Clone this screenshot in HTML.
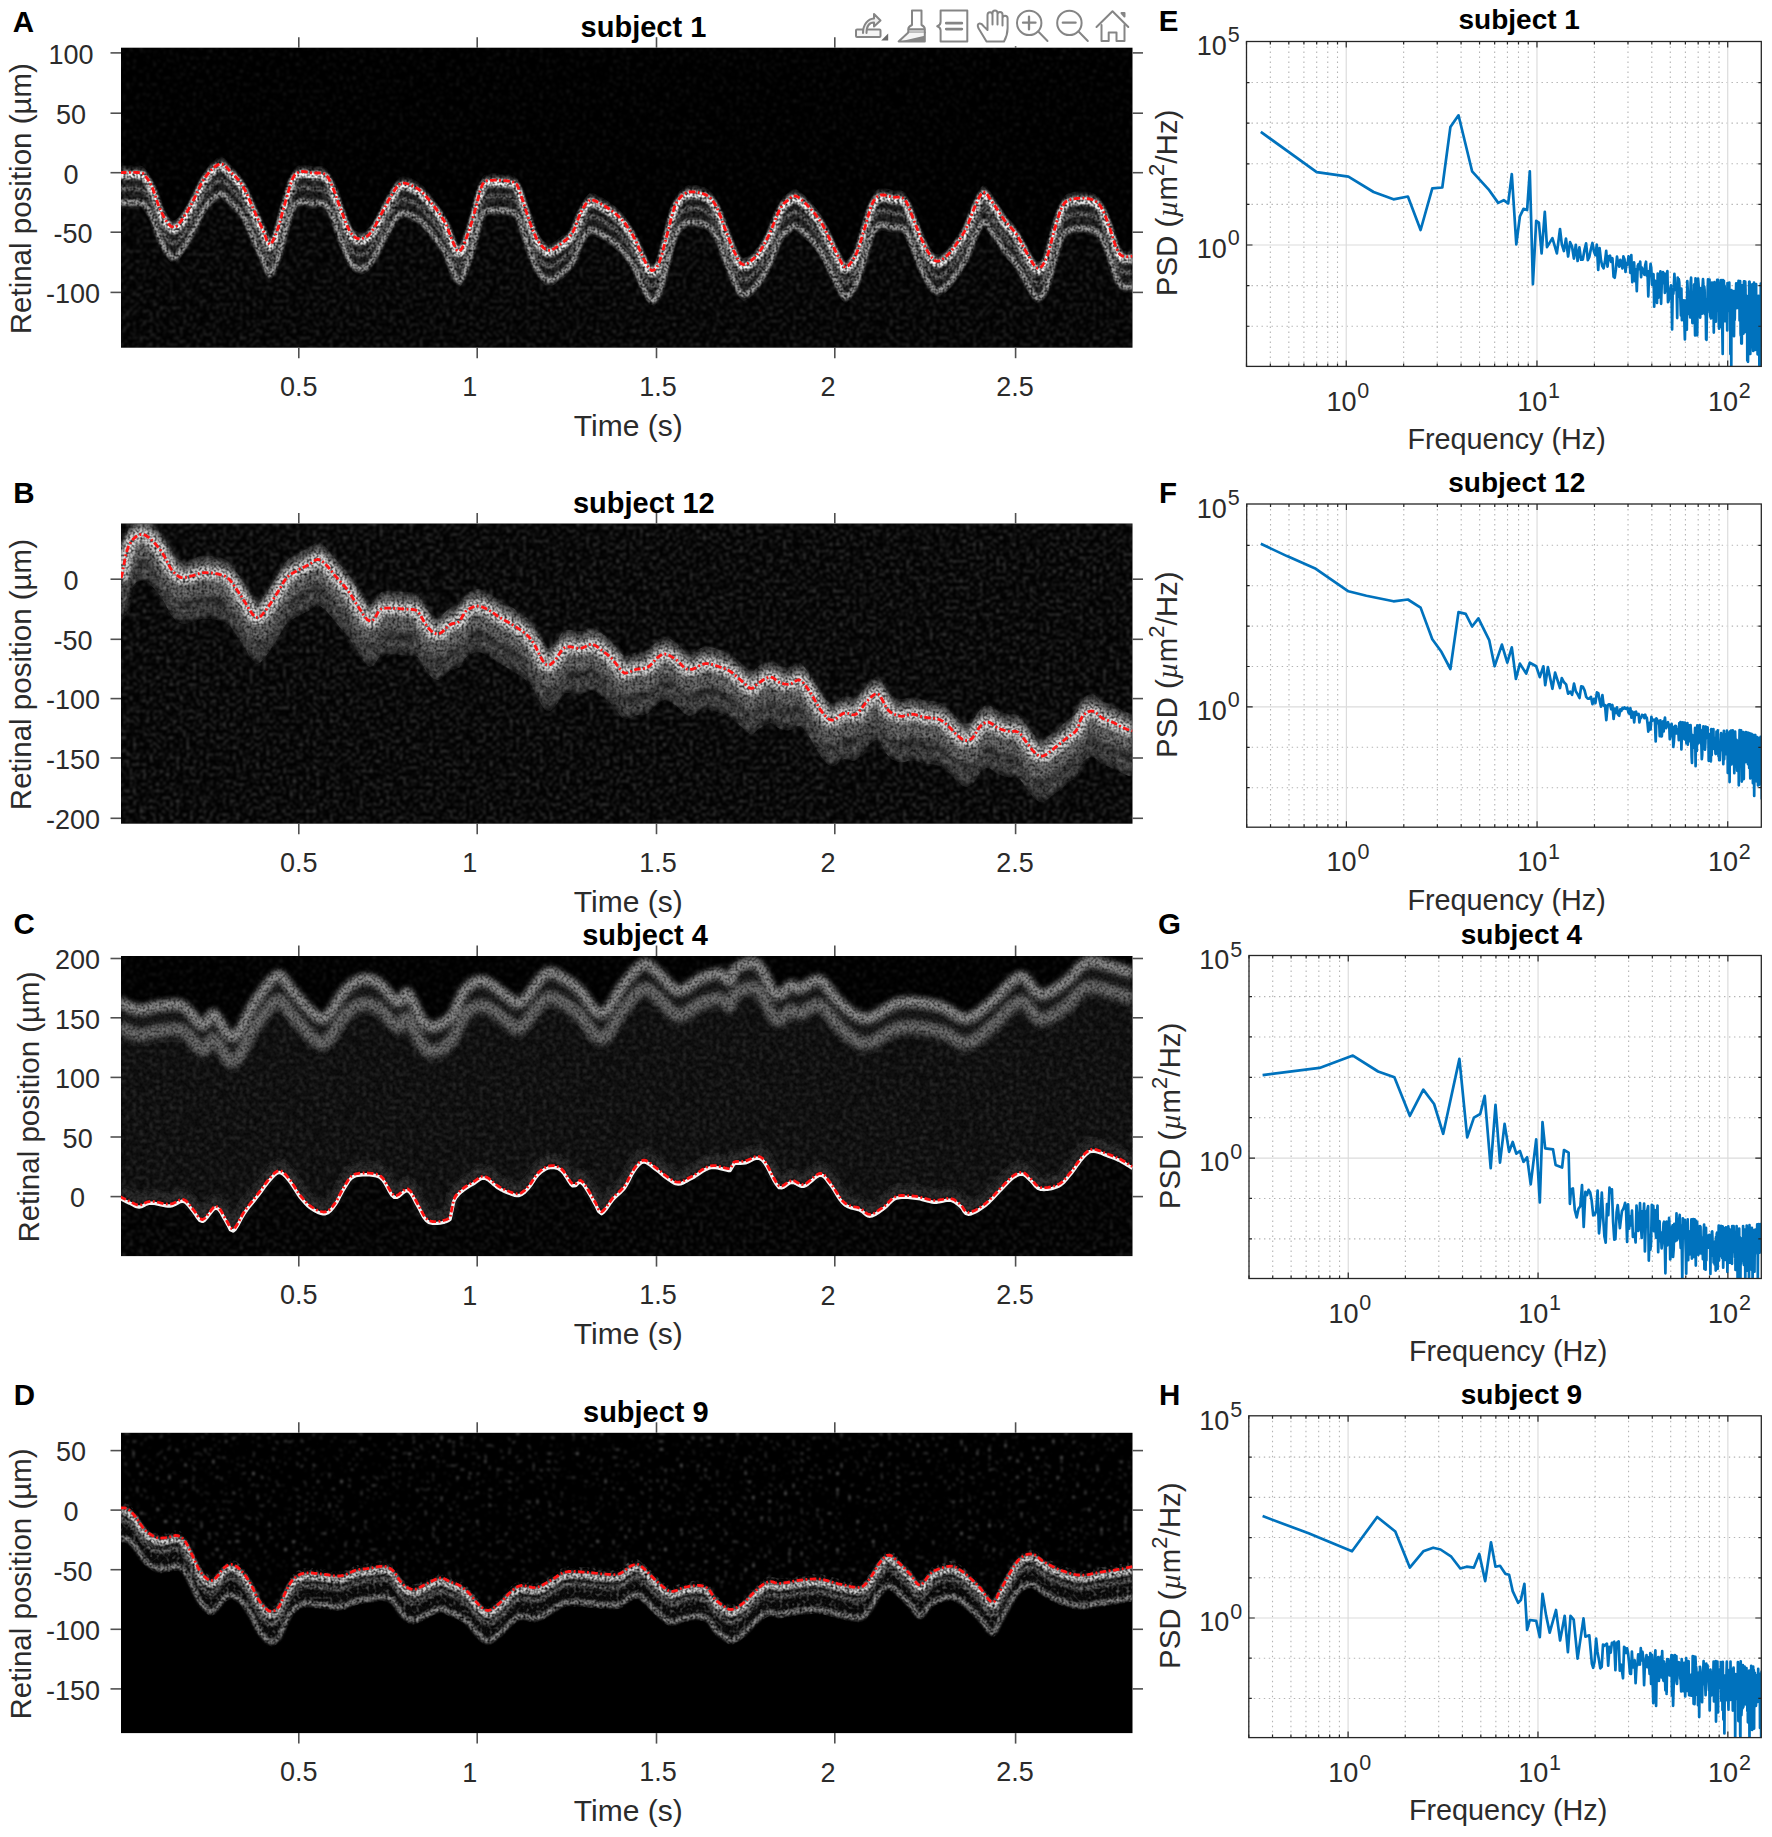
<!DOCTYPE html><html><head><meta charset="utf-8"><title>Figure</title><style>html,body{margin:0;padding:0;background:#fff;overflow:hidden}svg{display:block}</style></head><body><svg width="1772" height="1837" viewBox="0 0 1772 1837">
<rect width="1772" height="1837" fill="#fff"/>
<clipPath id="clipA"><rect x="121" y="47.7" width="1011.5" height="300.0"/></clipPath>
<rect x="121" y="47.7" width="1011.5" height="300.0" fill="#000"/>
<g clip-path="url(#clipA)">
<filter id="nA0" x="0" y="0" width="100%" height="100%" color-interpolation-filters="sRGB"><feTurbulence type="fractalNoise" baseFrequency="0.3" numOctaves="1" seed="3"/><feColorMatrix type="matrix" values="0 0 0 0 1  0 0 0 0 1  0 0 0 0 1  0.4 0 0 0 -0.22"/><feGaussianBlur stdDeviation="1.0"/></filter>
<clipPath id="c_nA0"><polygon points="120.0,46.0 120.0,168.6 121.4,168.6 123.2,168.5 125.5,168.5 128.0,168.4 130.5,168.4 133.1,168.4 135.5,168.4 137.5,168.5 139.2,168.6 142.8,169.3 145.0,171.5 147.5,174.8 150.1,179.1 152.6,184.0 155.5,192.4 158.4,201.2 160.8,206.8 163.4,212.2 166.0,216.6 168.6,220.0 171.1,222.4 173.7,223.3 176.1,222.5 178.6,220.3 181.4,216.6 183.5,213.6 185.7,210.0 188.1,206.0 190.5,201.7 192.9,197.4 195.1,192.9 197.3,188.1 199.5,183.2 201.9,178.5 204.4,174.4 206.4,171.7 208.6,169.0 210.9,166.4 213.3,164.1 215.6,162.2 217.8,160.8 219.8,160.0 222.3,160.2 224.7,161.6 226.9,163.7 229.1,166.2 231.3,168.6 233.6,170.8 235.9,173.1 238.2,175.6 240.5,178.5 242.8,182.0 245.1,186.3 247.5,191.4 249.8,196.7 252.1,202.1 254.3,207.0 256.9,212.8 259.5,218.3 261.8,223.5 263.9,228.1 266.9,236.6 269.7,240.6 272.1,238.3 274.7,232.9 277.3,226.2 279.9,218.1 282.4,208.6 285.0,199.3 287.6,190.2 290.1,181.3 292.7,174.4 295.1,170.5 297.6,168.7 300.4,167.7 302.4,167.4 304.6,167.6 307.0,168.1 309.4,168.6 311.9,169.0 314.1,169.1 316.4,169.0 318.8,169.0 321.2,169.1 323.4,169.6 325.3,170.5 328.3,173.8 330.7,178.5 333.0,184.0 335.5,190.4 337.9,197.6 340.6,205.0 342.9,211.0 345.3,217.4 347.8,223.4 350.2,228.1 352.6,231.2 354.9,233.3 357.3,234.5 359.8,234.8 362.0,234.5 364.3,233.8 366.6,232.5 369.0,230.6 371.3,228.1 373.6,224.7 376.0,220.5 378.4,215.9 380.7,211.2 382.9,207.0 385.4,202.2 387.8,197.7 390.1,193.5 392.4,189.7 394.6,186.2 396.7,182.9 399.1,180.5 402.0,179.2 403.8,179.1 405.8,179.4 408.0,180.0 410.3,180.8 412.6,181.9 414.9,183.1 417.2,184.4 419.3,185.9 421.6,187.8 424.0,190.1 426.2,192.6 428.5,195.2 430.6,198.0 432.7,200.6 434.7,203.2 437.3,206.7 439.9,210.2 442.2,213.7 444.3,217.1 446.2,220.4 449.3,228.5 452.0,235.8 454.3,241.1 456.9,246.0 459.6,247.3 461.9,244.5 464.4,239.2 466.9,232.6 469.2,226.2 472.0,217.4 474.6,207.9 476.9,199.3 479.6,188.3 482.6,180.1 484.5,177.9 486.4,176.9 488.9,176.5 492.2,176.3 493.9,176.2 495.9,176.2 498.2,176.3 500.5,176.4 503.0,176.5 505.4,176.7 507.7,177.0 509.9,177.4 511.8,177.7 513.3,178.2 517.0,180.7 519.1,185.9 521.4,192.4 524.0,200.5 526.7,208.9 528.9,215.3 531.2,222.1 533.7,228.5 536.3,233.9 538.5,237.5 540.7,240.7 543.0,243.3 545.4,245.2 547.9,246.3 550.1,246.3 552.3,245.7 554.6,244.4 556.9,242.9 559.2,241.2 561.3,239.6 563.8,237.7 566.2,235.7 568.6,233.5 570.8,231.0 572.8,228.1 575.7,222.0 578.1,215.0 580.5,208.9 583.1,204.1 585.7,200.2 588.1,197.4 590.5,195.6 593.9,196.4 595.6,197.1 597.6,198.1 599.9,199.3 602.3,200.6 604.7,202.0 607.0,203.5 609.2,205.0 611.6,206.7 613.9,208.4 616.2,210.3 618.4,212.2 620.6,214.3 622.7,216.6 625.2,219.6 627.5,222.9 629.8,226.4 632.1,230.1 634.2,233.9 636.8,239.1 639.2,244.8 641.6,250.3 643.8,255.0 646.5,260.3 649.0,264.4 651.5,266.5 654.0,266.1 656.6,263.5 659.1,258.8 661.7,251.3 664.2,241.7 666.8,231.9 669.4,221.8 671.9,211.6 674.5,203.2 677.0,197.8 679.5,194.3 682.2,191.6 684.3,189.9 686.5,188.7 688.9,188.0 691.7,187.8 693.6,187.9 695.8,188.1 698.2,188.5 700.6,189.0 703.0,189.7 705.2,190.6 707.1,191.6 709.9,193.6 712.3,196.1 714.4,199.2 716.7,203.2 719.1,208.5 721.5,214.9 723.9,221.7 726.3,228.1 728.7,234.3 731.2,240.6 733.6,246.3 735.9,251.1 738.4,256.0 740.7,259.4 743.6,260.7 745.5,260.3 747.7,259.3 750.0,257.7 752.4,255.7 754.7,253.5 756.9,251.1 759.3,248.0 761.7,244.5 763.9,240.6 766.2,236.4 768.5,231.9 770.9,226.7 773.3,220.8 775.7,214.8 777.9,209.4 780.0,205.0 782.2,201.4 784.2,199.1 786.1,197.6 788.0,196.1 789.9,194.4 791.6,192.8 793.6,191.9 796.0,192.1 797.7,192.9 799.6,194.2 801.7,195.9 803.8,197.8 806.0,199.9 808.0,202.0 810.0,204.1 812.2,206.5 814.3,209.0 816.3,211.6 818.3,214.3 820.2,217.1 822.1,220.1 824.3,223.9 826.3,228.0 828.3,232.3 830.3,236.4 832.1,240.2 834.3,244.7 836.4,249.0 838.3,252.9 840.1,256.2 842.1,259.9 843.9,262.7 846.1,263.2 847.9,262.1 849.9,260.0 852.1,257.2 854.2,253.8 856.1,250.2 858.2,245.0 860.2,239.0 862.1,232.5 864.1,226.1 866.1,219.3 868.1,212.2 870.1,205.4 872.1,200.1 874.0,196.4 875.9,193.8 877.9,192.2 880.2,191.1 882.0,190.8 883.9,191.0 886.0,191.4 888.1,192.0 890.2,192.6 892.2,193.1 894.2,193.3 896.3,193.2 898.5,193.2 900.5,193.3 902.4,193.9 904.2,195.1 906.5,198.2 908.5,202.5 910.3,207.3 912.2,212.1 914.2,217.0 916.2,222.2 918.2,227.4 920.2,232.2 922.2,236.7 924.2,240.9 926.2,244.8 928.2,248.2 930.2,251.3 932.1,254.0 934.1,256.1 936.3,257.2 938.2,257.2 940.2,256.5 942.2,255.4 944.3,253.9 946.3,252.2 948.3,250.3 950.3,248.1 952.3,245.6 954.3,243.0 956.3,240.2 958.3,237.3 960.4,234.2 962.4,231.0 964.4,227.6 966.3,224.1 968.4,219.3 970.4,214.1 972.3,208.9 974.3,204.1 976.5,199.2 978.7,194.2 981.0,190.2 983.3,188.1 985.5,188.6 987.6,191.0 989.8,194.4 992.3,198.1 994.1,200.7 996.1,203.7 998.2,206.8 1000.3,210.1 1002.4,213.2 1004.4,216.1 1006.4,218.6 1008.5,220.9 1010.5,223.2 1012.6,225.4 1014.5,227.7 1016.4,230.2 1018.5,233.6 1020.5,237.2 1022.4,241.0 1024.4,244.7 1026.4,248.2 1028.6,251.9 1030.8,256.0 1033.1,259.8 1035.3,262.7 1037.4,264.2 1039.8,264.0 1042.1,262.0 1044.3,258.6 1046.4,254.2 1048.5,248.4 1050.5,241.0 1052.4,233.3 1054.4,226.1 1056.4,219.4 1058.3,212.8 1060.3,206.8 1062.4,202.1 1064.2,199.5 1065.9,197.7 1067.8,196.6 1069.9,195.8 1072.5,195.1 1074.2,194.8 1076.1,194.5 1078.2,194.3 1080.4,194.2 1082.6,194.2 1084.8,194.3 1086.9,194.5 1088.8,194.8 1090.5,195.1 1093.0,195.9 1095.2,196.9 1097.0,198.2 1098.8,199.9 1100.5,202.1 1102.6,205.7 1104.6,210.0 1106.5,214.9 1108.5,220.1 1110.5,226.1 1112.6,232.8 1114.6,239.2 1116.5,244.2 1118.5,248.4 1120.3,250.7 1122.5,252.2 1124.4,252.7 1126.7,252.8 1129.0,252.6 1131.1,252.3 1132.5,252.2 1133.0,46.0"/></clipPath>
<g clip-path="url(#c_nA0)"><rect x="121" y="47.7" width="1011.5" height="300.0" filter="url(#nA0)"/></g>
<filter id="nA1" x="0" y="0" width="100%" height="100%" color-interpolation-filters="sRGB"><feTurbulence type="fractalNoise" baseFrequency="0.3" numOctaves="1" seed="5"/><feColorMatrix type="matrix" values="0 0 0 0 1  0 0 0 0 1  0 0 0 0 1  0.58 0 0 0 -0.27"/><feGaussianBlur stdDeviation="1.0"/></filter>
<clipPath id="c_nA1"><polygon points="120.0,350.0 120.0,202.6 121.4,202.6 123.2,202.5 125.5,202.5 128.0,202.4 130.5,202.4 133.1,202.4 135.5,202.4 137.5,202.5 139.2,202.6 142.8,203.3 145.0,205.5 147.5,208.8 150.1,213.1 152.6,218.0 155.5,226.4 158.4,235.2 160.8,240.8 163.4,246.2 166.0,250.6 168.6,254.0 171.1,256.4 173.7,257.3 176.1,256.5 178.6,254.3 181.4,250.6 183.5,247.6 185.7,244.0 188.1,240.0 190.5,235.7 192.9,231.4 195.1,226.9 197.3,222.1 199.5,217.2 201.9,212.5 204.4,208.4 206.4,205.7 208.6,203.0 210.9,200.4 213.3,198.1 215.6,196.2 217.8,194.8 219.8,194.0 222.3,194.2 224.7,195.6 226.9,197.7 229.1,200.2 231.3,202.6 233.6,204.8 235.9,207.1 238.2,209.6 240.5,212.5 242.8,216.0 245.1,220.3 247.5,225.4 249.8,230.7 252.1,236.1 254.3,241.0 256.9,246.8 259.5,252.3 261.8,257.5 263.9,262.1 266.9,270.6 269.7,274.6 272.1,272.3 274.7,266.9 277.3,260.2 279.9,252.1 282.4,242.6 285.0,233.3 287.6,224.2 290.1,215.3 292.7,208.4 295.1,204.5 297.6,202.7 300.4,201.7 302.4,201.4 304.6,201.6 307.0,202.1 309.4,202.6 311.9,203.0 314.1,203.1 316.4,203.0 318.8,203.0 321.2,203.1 323.4,203.6 325.3,204.5 328.3,207.8 330.7,212.5 333.0,218.0 335.5,224.4 337.9,231.6 340.6,239.0 342.9,245.0 345.3,251.4 347.8,257.4 350.2,262.1 352.6,265.2 354.9,267.3 357.3,268.5 359.8,268.8 362.0,268.5 364.3,267.8 366.6,266.5 369.0,264.6 371.3,262.1 373.6,258.7 376.0,254.5 378.4,249.9 380.7,245.2 382.9,241.0 385.4,236.2 387.8,231.7 390.1,227.5 392.4,223.7 394.6,220.2 396.7,216.9 399.1,214.5 402.0,213.2 403.8,213.1 405.8,213.4 408.0,214.0 410.3,214.8 412.6,215.9 414.9,217.1 417.2,218.4 419.3,219.9 421.6,221.8 424.0,224.1 426.2,226.6 428.5,229.2 430.6,232.0 432.7,234.6 434.7,237.2 437.3,240.7 439.9,244.2 442.2,247.7 444.3,251.1 446.2,254.4 449.3,262.5 452.0,269.8 454.3,275.1 456.9,280.0 459.6,281.3 461.9,278.5 464.4,273.1 466.9,266.6 469.2,260.2 472.0,251.4 474.6,241.9 476.9,233.3 479.6,222.3 482.6,214.1 484.5,211.9 486.4,210.9 488.9,210.5 492.2,210.3 493.9,210.2 495.9,210.2 498.2,210.3 500.5,210.4 503.0,210.5 505.4,210.7 507.7,211.0 509.9,211.4 511.8,211.7 513.3,212.2 517.0,214.7 519.1,219.9 521.4,226.4 524.0,234.5 526.7,242.9 528.9,249.3 531.2,256.1 533.7,262.5 536.3,267.9 538.5,271.5 540.7,274.7 543.0,277.3 545.4,279.2 547.9,280.3 550.1,280.3 552.3,279.7 554.6,278.4 556.9,276.9 559.2,275.2 561.3,273.6 563.8,271.7 566.2,269.7 568.6,267.5 570.8,265.0 572.8,262.1 575.7,256.0 578.1,249.0 580.5,242.9 583.1,238.1 585.7,234.2 588.1,231.4 590.5,229.6 593.9,230.4 595.6,231.1 597.6,232.1 599.9,233.3 602.3,234.6 604.7,236.0 607.0,237.5 609.2,239.0 611.6,240.7 613.9,242.4 616.2,244.3 618.4,246.2 620.6,248.3 622.7,250.6 625.2,253.6 627.5,256.9 629.8,260.4 632.1,264.1 634.2,267.9 636.8,273.1 639.2,278.8 641.6,284.3 643.8,289.0 646.5,294.3 649.0,298.4 651.5,300.5 654.0,300.1 656.6,297.5 659.1,292.8 661.7,285.3 664.2,275.7 666.8,265.9 669.4,255.8 671.9,245.6 674.5,237.2 677.0,231.8 679.5,228.3 682.2,225.6 684.3,223.9 686.5,222.7 688.9,222.0 691.7,221.8 693.6,221.9 695.8,222.1 698.2,222.5 700.6,223.0 703.0,223.7 705.2,224.6 707.1,225.6 709.9,227.6 712.3,230.1 714.4,233.2 716.7,237.2 719.1,242.5 721.5,248.9 723.9,255.7 726.3,262.1 728.7,268.3 731.2,274.6 733.6,280.3 735.9,285.1 738.4,290.0 740.7,293.4 743.6,294.7 745.5,294.3 747.7,293.3 750.0,291.7 752.4,289.7 754.7,287.5 756.9,285.1 759.3,282.0 761.7,278.5 763.9,274.6 766.2,270.4 768.5,265.9 770.9,260.7 773.3,254.8 775.7,248.8 777.9,243.4 780.0,239.0 782.2,235.4 784.2,233.1 786.1,231.6 788.0,230.1 789.9,228.4 791.6,226.8 793.6,225.9 796.0,226.1 797.7,226.9 799.6,228.2 801.7,229.9 803.8,231.8 806.0,233.9 808.0,236.0 810.0,238.1 812.2,240.5 814.3,243.0 816.3,245.6 818.3,248.3 820.2,251.1 822.1,254.1 824.3,257.9 826.3,262.0 828.3,266.3 830.3,270.4 832.1,274.2 834.3,278.7 836.4,283.0 838.3,286.9 840.1,290.2 842.1,293.9 843.9,296.7 846.1,297.2 847.9,296.1 849.9,294.0 852.1,291.2 854.2,287.8 856.1,284.2 858.2,279.0 860.2,273.0 862.1,266.5 864.1,260.1 866.1,253.3 868.1,246.2 870.1,239.4 872.1,234.1 874.0,230.4 875.9,227.8 877.9,226.2 880.2,225.1 882.0,224.8 883.9,225.0 886.0,225.4 888.1,226.0 890.2,226.6 892.2,227.1 894.2,227.3 896.3,227.2 898.5,227.2 900.5,227.3 902.4,227.9 904.2,229.1 906.5,232.2 908.5,236.5 910.3,241.3 912.2,246.1 914.2,251.0 916.2,256.2 918.2,261.4 920.2,266.2 922.2,270.7 924.2,274.9 926.2,278.8 928.2,282.2 930.2,285.3 932.1,288.0 934.1,290.1 936.3,291.2 938.2,291.2 940.2,290.5 942.2,289.4 944.3,287.9 946.3,286.2 948.3,284.3 950.3,282.1 952.3,279.6 954.3,277.0 956.3,274.2 958.3,271.3 960.4,268.2 962.4,265.0 964.4,261.6 966.3,258.1 968.4,253.3 970.4,248.1 972.3,242.9 974.3,238.1 976.5,233.2 978.7,228.2 981.0,224.2 983.3,222.1 985.5,222.6 987.6,225.0 989.8,228.4 992.3,232.1 994.1,234.7 996.1,237.7 998.2,240.8 1000.3,244.1 1002.4,247.2 1004.4,250.1 1006.4,252.6 1008.5,254.9 1010.5,257.1 1012.6,259.4 1014.5,261.7 1016.4,264.2 1018.5,267.6 1020.5,271.2 1022.4,275.0 1024.4,278.7 1026.4,282.2 1028.6,285.9 1030.8,290.0 1033.1,293.8 1035.3,296.7 1037.4,298.2 1039.8,298.0 1042.1,296.0 1044.3,292.6 1046.4,288.2 1048.5,282.4 1050.5,275.0 1052.4,267.3 1054.4,260.1 1056.4,253.4 1058.3,246.8 1060.3,240.8 1062.4,236.1 1064.2,233.5 1065.9,231.7 1067.8,230.6 1069.9,229.8 1072.5,229.1 1074.2,228.8 1076.1,228.5 1078.2,228.3 1080.4,228.2 1082.6,228.2 1084.8,228.3 1086.9,228.5 1088.8,228.8 1090.5,229.1 1093.0,229.9 1095.2,230.9 1097.0,232.2 1098.8,233.9 1100.5,236.1 1102.6,239.7 1104.6,244.0 1106.5,248.9 1108.5,254.1 1110.5,260.1 1112.6,266.8 1114.6,273.2 1116.5,278.2 1118.5,282.4 1120.3,284.7 1122.5,286.2 1124.4,286.7 1126.7,286.8 1129.0,286.6 1131.1,286.3 1132.5,286.2 1133.0,350.0"/></clipPath>
<g clip-path="url(#c_nA1)"><rect x="121" y="47.7" width="1011.5" height="300.0" filter="url(#nA1)"/></g>
<filter id="bA" x="-5%" y="-20%" width="110%" height="140%"><feGaussianBlur stdDeviation="1.2"/></filter>
<filter id="sfbA" x="0" y="0" width="100%" height="100%" color-interpolation-filters="sRGB"><feTurbulence type="fractalNoise" baseFrequency="0.42" numOctaves="1" seed="41"/><feColorMatrix type="matrix" values="2.2 0 0 0 -0.4  2.2 0 0 0 -0.4  2.2 0 0 0 -0.4  0 0 0 0 1"/><feGaussianBlur stdDeviation="0.5"/></filter>
<mask id="mbA" maskUnits="userSpaceOnUse" x="121" y="47.7" width="1011.5" height="300.0"><rect x="121" y="47.7" width="1011.5" height="300.0" filter="url(#sfbA)"/></mask>
<g mask="url(#mbA)"><g filter="url(#bA)"><polygon points="120.0,167.6 121.4,167.6 123.2,167.5 125.5,167.5 128.0,167.4 130.5,167.4 133.1,167.4 135.5,167.4 137.5,167.5 139.2,167.6 142.8,168.3 145.0,170.5 147.5,173.8 150.1,178.1 152.6,183.0 155.5,191.4 158.4,200.2 160.8,205.8 163.4,211.2 166.0,215.6 168.6,219.0 171.1,221.4 173.7,222.3 176.1,221.5 178.6,219.3 181.4,215.6 183.5,212.6 185.7,209.0 188.1,205.0 190.5,200.7 192.9,196.4 195.1,191.9 197.3,187.1 199.5,182.2 201.9,177.5 204.4,173.4 206.4,170.7 208.6,168.0 210.9,165.4 213.3,163.1 215.6,161.2 217.8,159.8 219.8,159.0 222.3,159.2 224.7,160.6 226.9,162.7 229.1,165.2 231.3,167.6 233.6,169.8 235.9,172.1 238.2,174.6 240.5,177.5 242.8,181.0 245.1,185.3 247.5,190.4 249.8,195.7 252.1,201.1 254.3,206.0 256.9,211.8 259.5,217.3 261.8,222.5 263.9,227.1 266.9,235.6 269.7,239.6 272.1,237.3 274.7,231.9 277.3,225.2 279.9,217.1 282.4,207.6 285.0,198.3 287.6,189.2 290.1,180.3 292.7,173.4 295.1,169.5 297.6,167.7 300.4,166.7 302.4,166.4 304.6,166.6 307.0,167.1 309.4,167.6 311.9,168.0 314.1,168.1 316.4,168.0 318.8,168.0 321.2,168.1 323.4,168.6 325.3,169.5 328.3,172.8 330.7,177.5 333.0,183.0 335.5,189.4 337.9,196.6 340.6,204.0 342.9,210.0 345.3,216.4 347.8,222.4 350.2,227.1 352.6,230.2 354.9,232.3 357.3,233.5 359.8,233.8 362.0,233.5 364.3,232.8 366.6,231.5 369.0,229.6 371.3,227.1 373.6,223.7 376.0,219.5 378.4,214.9 380.7,210.2 382.9,206.0 385.4,201.2 387.8,196.7 390.1,192.5 392.4,188.7 394.6,185.2 396.7,181.9 399.1,179.5 402.0,178.2 403.8,178.1 405.8,178.4 408.0,179.0 410.3,179.8 412.6,180.9 414.9,182.1 417.2,183.4 419.3,184.9 421.6,186.8 424.0,189.1 426.2,191.6 428.5,194.2 430.6,197.0 432.7,199.6 434.7,202.2 437.3,205.7 439.9,209.2 442.2,212.7 444.3,216.1 446.2,219.4 449.3,227.5 452.0,234.8 454.3,240.1 456.9,245.0 459.6,246.3 461.9,243.5 464.4,238.2 466.9,231.6 469.2,225.2 472.0,216.4 474.6,206.9 476.9,198.3 479.6,187.3 482.6,179.1 484.5,176.9 486.4,175.9 488.9,175.5 492.2,175.3 493.9,175.2 495.9,175.2 498.2,175.3 500.5,175.4 503.0,175.5 505.4,175.7 507.7,176.0 509.9,176.4 511.8,176.7 513.3,177.2 517.0,179.7 519.1,184.9 521.4,191.4 524.0,199.5 526.7,207.9 528.9,214.3 531.2,221.1 533.7,227.5 536.3,232.9 538.5,236.5 540.7,239.7 543.0,242.3 545.4,244.2 547.9,245.3 550.1,245.3 552.3,244.7 554.6,243.4 556.9,241.9 559.2,240.2 561.3,238.6 563.8,236.7 566.2,234.7 568.6,232.5 570.8,230.0 572.8,227.1 575.7,221.0 578.1,214.0 580.5,207.9 583.1,203.1 585.7,199.2 588.1,196.4 590.5,194.6 593.9,195.4 595.6,196.1 597.6,197.1 599.9,198.3 602.3,199.6 604.7,201.0 607.0,202.5 609.2,204.0 611.6,205.7 613.9,207.4 616.2,209.3 618.4,211.2 620.6,213.3 622.7,215.6 625.2,218.6 627.5,221.9 629.8,225.4 632.1,229.1 634.2,232.9 636.8,238.1 639.2,243.8 641.6,249.3 643.8,254.0 646.5,259.3 649.0,263.4 651.5,265.5 654.0,265.1 656.6,262.5 659.1,257.8 661.7,250.3 664.2,240.7 666.8,230.9 669.4,220.8 671.9,210.6 674.5,202.2 677.0,196.8 679.5,193.3 682.2,190.6 684.3,188.9 686.5,187.7 688.9,187.0 691.7,186.8 693.6,186.9 695.8,187.1 698.2,187.5 700.6,188.0 703.0,188.7 705.2,189.6 707.1,190.6 709.9,192.6 712.3,195.1 714.4,198.2 716.7,202.2 719.1,207.5 721.5,213.9 723.9,220.7 726.3,227.1 728.7,233.3 731.2,239.6 733.6,245.3 735.9,250.1 738.4,255.0 740.7,258.4 743.6,259.7 745.5,259.3 747.7,258.3 750.0,256.7 752.4,254.7 754.7,252.5 756.9,250.1 759.3,247.0 761.7,243.5 763.9,239.6 766.2,235.4 768.5,230.9 770.9,225.7 773.3,219.8 775.7,213.8 777.9,208.4 780.0,204.0 782.2,200.4 784.2,198.1 786.1,196.6 788.0,195.1 789.9,193.4 791.6,191.8 793.6,190.9 796.0,191.1 797.7,191.9 799.6,193.2 801.7,194.9 803.8,196.8 806.0,198.9 808.0,201.0 810.0,203.1 812.2,205.5 814.3,208.0 816.3,210.6 818.3,213.3 820.2,216.1 822.1,219.1 824.3,222.9 826.3,227.0 828.3,231.3 830.3,235.4 832.1,239.2 834.3,243.7 836.4,248.0 838.3,251.9 840.1,255.2 842.1,258.9 843.9,261.7 846.1,262.2 847.9,261.1 849.9,259.0 852.1,256.2 854.2,252.8 856.1,249.2 858.2,244.0 860.2,238.0 862.1,231.5 864.1,225.1 866.1,218.3 868.1,211.2 870.1,204.4 872.1,199.1 874.0,195.4 875.9,192.8 877.9,191.2 880.2,190.1 882.0,189.8 883.9,190.0 886.0,190.4 888.1,191.0 890.2,191.6 892.2,192.1 894.2,192.3 896.3,192.2 898.5,192.2 900.5,192.3 902.4,192.9 904.2,194.1 906.5,197.2 908.5,201.5 910.3,206.3 912.2,211.1 914.2,216.0 916.2,221.2 918.2,226.4 920.2,231.2 922.2,235.7 924.2,239.9 926.2,243.8 928.2,247.2 930.2,250.3 932.1,253.0 934.1,255.1 936.3,256.2 938.2,256.2 940.2,255.5 942.2,254.4 944.3,252.9 946.3,251.2 948.3,249.3 950.3,247.1 952.3,244.6 954.3,242.0 956.3,239.2 958.3,236.3 960.4,233.2 962.4,230.0 964.4,226.6 966.3,223.1 968.4,218.3 970.4,213.1 972.3,207.9 974.3,203.1 976.5,198.2 978.7,193.2 981.0,189.2 983.3,187.1 985.5,187.6 987.6,190.0 989.8,193.4 992.3,197.1 994.1,199.7 996.1,202.7 998.2,205.8 1000.3,209.1 1002.4,212.2 1004.4,215.1 1006.4,217.6 1008.5,219.9 1010.5,222.2 1012.6,224.4 1014.5,226.7 1016.4,229.2 1018.5,232.6 1020.5,236.2 1022.4,240.0 1024.4,243.7 1026.4,247.2 1028.6,250.9 1030.8,255.0 1033.1,258.8 1035.3,261.7 1037.4,263.2 1039.8,263.0 1042.1,261.0 1044.3,257.6 1046.4,253.2 1048.5,247.4 1050.5,240.0 1052.4,232.3 1054.4,225.1 1056.4,218.4 1058.3,211.8 1060.3,205.8 1062.4,201.1 1064.2,198.5 1065.9,196.7 1067.8,195.6 1069.9,194.8 1072.5,194.1 1074.2,193.8 1076.1,193.5 1078.2,193.3 1080.4,193.2 1082.6,193.2 1084.8,193.3 1086.9,193.5 1088.8,193.8 1090.5,194.1 1093.0,194.9 1095.2,195.9 1097.0,197.2 1098.8,198.9 1100.5,201.1 1102.6,204.7 1104.6,209.0 1106.5,213.9 1108.5,219.1 1110.5,225.1 1112.6,231.8 1114.6,238.2 1116.5,243.2 1118.5,247.4 1120.3,249.7 1122.5,251.2 1124.4,251.7 1126.7,251.8 1129.0,251.6 1131.1,251.3 1132.5,251.2 1132.5,264.2 1131.1,264.3 1129.0,264.6 1126.7,264.8 1124.4,264.7 1122.5,264.2 1120.3,262.7 1118.5,260.4 1116.5,256.2 1114.6,251.2 1112.6,244.8 1110.5,238.1 1108.5,232.1 1106.5,226.9 1104.6,222.0 1102.6,217.7 1100.5,214.1 1098.8,211.9 1097.0,210.2 1095.2,208.9 1093.0,207.9 1090.5,207.1 1088.8,206.8 1086.9,206.5 1084.8,206.3 1082.6,206.2 1080.4,206.2 1078.2,206.3 1076.1,206.5 1074.2,206.8 1072.5,207.1 1069.9,207.8 1067.8,208.6 1065.9,209.7 1064.2,211.5 1062.4,214.1 1060.3,218.8 1058.3,224.8 1056.4,231.4 1054.4,238.1 1052.4,245.3 1050.5,253.0 1048.5,260.4 1046.4,266.2 1044.3,270.6 1042.1,274.0 1039.8,276.0 1037.4,276.2 1035.3,274.7 1033.1,271.8 1030.8,268.0 1028.6,263.9 1026.4,260.2 1024.4,256.7 1022.4,253.0 1020.5,249.2 1018.5,245.6 1016.4,242.2 1014.5,239.7 1012.6,237.4 1010.5,235.2 1008.5,232.9 1006.4,230.6 1004.4,228.1 1002.4,225.2 1000.3,222.1 998.2,218.8 996.1,215.7 994.1,212.7 992.3,210.1 989.8,206.4 987.6,203.0 985.5,200.6 983.3,200.1 981.0,202.2 978.7,206.2 976.5,211.2 974.3,216.1 972.3,220.9 970.4,226.1 968.4,231.3 966.3,236.1 964.4,239.6 962.4,243.0 960.4,246.2 958.3,249.3 956.3,252.2 954.3,255.0 952.3,257.6 950.3,260.1 948.3,262.3 946.3,264.2 944.3,265.9 942.2,267.4 940.2,268.5 938.2,269.2 936.3,269.2 934.1,268.1 932.1,266.0 930.2,263.3 928.2,260.2 926.2,256.8 924.2,252.9 922.2,248.7 920.2,244.2 918.2,239.4 916.2,234.2 914.2,229.0 912.2,224.1 910.3,219.3 908.5,214.5 906.5,210.2 904.2,207.1 902.4,205.9 900.5,205.3 898.5,205.2 896.3,205.2 894.2,205.3 892.2,205.1 890.2,204.6 888.1,204.0 886.0,203.4 883.9,203.0 882.0,202.8 880.2,203.1 877.9,204.2 875.9,205.8 874.0,208.4 872.1,212.1 870.1,217.4 868.1,224.2 866.1,231.3 864.1,238.1 862.1,244.5 860.2,251.0 858.2,257.0 856.1,262.2 854.2,265.8 852.1,269.2 849.9,272.0 847.9,274.1 846.1,275.2 843.9,274.7 842.1,271.9 840.1,268.2 838.3,264.9 836.4,261.0 834.3,256.7 832.1,252.2 830.3,248.4 828.3,244.3 826.3,240.0 824.3,235.9 822.1,232.1 820.2,229.1 818.3,226.3 816.3,223.6 814.3,221.0 812.2,218.5 810.0,216.1 808.0,214.0 806.0,211.9 803.8,209.8 801.7,207.9 799.6,206.2 797.7,204.9 796.0,204.1 793.6,203.9 791.6,204.8 789.9,206.4 788.0,208.1 786.1,209.6 784.2,211.1 782.2,213.4 780.0,217.0 777.9,221.4 775.7,226.8 773.3,232.8 770.9,238.7 768.5,243.9 766.2,248.4 763.9,252.6 761.7,256.5 759.3,260.0 756.9,263.1 754.7,265.5 752.4,267.7 750.0,269.7 747.7,271.3 745.5,272.3 743.6,272.7 740.7,271.4 738.4,268.0 735.9,263.1 733.6,258.3 731.2,252.6 728.7,246.3 726.3,240.1 723.9,233.7 721.5,226.9 719.1,220.5 716.7,215.2 714.4,211.2 712.3,208.1 709.9,205.6 707.1,203.6 705.2,202.6 703.0,201.7 700.6,201.0 698.2,200.5 695.8,200.1 693.6,199.9 691.7,199.8 688.9,200.0 686.5,200.7 684.3,201.9 682.2,203.6 679.5,206.3 677.0,209.8 674.5,215.2 671.9,223.6 669.4,233.8 666.8,243.9 664.2,253.7 661.7,263.3 659.1,270.8 656.6,275.5 654.0,278.1 651.5,278.5 649.0,276.4 646.5,272.3 643.8,267.0 641.6,262.3 639.2,256.8 636.8,251.1 634.2,245.9 632.1,242.1 629.8,238.4 627.5,234.9 625.2,231.6 622.7,228.6 620.6,226.3 618.4,224.2 616.2,222.3 613.9,220.4 611.6,218.7 609.2,217.0 607.0,215.5 604.7,214.0 602.3,212.6 599.9,211.3 597.6,210.1 595.6,209.1 593.9,208.4 590.5,207.6 588.1,209.4 585.7,212.2 583.1,216.1 580.5,220.9 578.1,227.0 575.7,234.0 572.8,240.1 570.8,243.0 568.6,245.5 566.2,247.7 563.8,249.7 561.3,251.6 559.2,253.2 556.9,254.9 554.6,256.4 552.3,257.7 550.1,258.3 547.9,258.3 545.4,257.2 543.0,255.3 540.7,252.7 538.5,249.5 536.3,245.9 533.7,240.5 531.2,234.1 528.9,227.3 526.7,220.9 524.0,212.5 521.4,204.4 519.1,197.9 517.0,192.7 513.3,190.2 511.8,189.7 509.9,189.4 507.7,189.0 505.4,188.7 503.0,188.5 500.5,188.4 498.2,188.3 495.9,188.2 493.9,188.2 492.2,188.3 488.9,188.5 486.4,188.9 484.5,189.9 482.6,192.1 479.6,200.3 476.9,211.3 474.6,219.9 472.0,229.4 469.2,238.2 466.9,244.6 464.4,251.2 461.9,256.5 459.6,259.3 456.9,258.0 454.3,253.1 452.0,247.8 449.3,240.5 446.2,232.4 444.3,229.1 442.2,225.7 439.9,222.2 437.3,218.7 434.7,215.2 432.7,212.6 430.6,210.0 428.5,207.2 426.2,204.6 424.0,202.1 421.6,199.8 419.3,197.9 417.2,196.4 414.9,195.1 412.6,193.9 410.3,192.8 408.0,192.0 405.8,191.4 403.8,191.1 402.0,191.2 399.1,192.5 396.7,194.9 394.6,198.2 392.4,201.7 390.1,205.5 387.8,209.7 385.4,214.2 382.9,219.0 380.7,223.2 378.4,227.9 376.0,232.5 373.6,236.7 371.3,240.1 369.0,242.6 366.6,244.5 364.3,245.8 362.0,246.5 359.8,246.8 357.3,246.5 354.9,245.3 352.6,243.2 350.2,240.1 347.8,235.4 345.3,229.4 342.9,223.0 340.6,217.0 337.9,209.6 335.5,202.4 333.0,196.0 330.7,190.5 328.3,185.8 325.3,182.5 323.4,181.6 321.2,181.1 318.8,181.0 316.4,181.0 314.1,181.1 311.9,181.0 309.4,180.6 307.0,180.1 304.6,179.6 302.4,179.4 300.4,179.7 297.6,180.7 295.1,182.5 292.7,186.4 290.1,193.3 287.6,202.2 285.0,211.3 282.4,220.6 279.9,230.1 277.3,238.2 274.7,244.9 272.1,250.3 269.7,252.6 266.9,248.6 263.9,240.1 261.8,235.5 259.5,230.3 256.9,224.8 254.3,219.0 252.1,214.1 249.8,208.7 247.5,203.4 245.1,198.3 242.8,194.0 240.5,190.5 238.2,187.6 235.9,185.1 233.6,182.8 231.3,180.6 229.1,178.2 226.9,175.7 224.7,173.6 222.3,172.2 219.8,172.0 217.8,172.8 215.6,174.2 213.3,176.1 210.9,178.4 208.6,181.0 206.4,183.7 204.4,186.4 201.9,190.5 199.5,195.2 197.3,200.1 195.1,204.9 192.9,209.4 190.5,213.7 188.1,218.0 185.7,222.0 183.5,225.6 181.4,228.6 178.6,232.3 176.1,234.5 173.7,235.3 171.1,234.4 168.6,232.0 166.0,228.6 163.4,224.2 160.8,218.8 158.4,213.2 155.5,204.4 152.6,196.0 150.1,191.1 147.5,186.8 145.0,183.5 142.8,181.3 139.2,180.6 137.5,180.5 135.5,180.4 133.1,180.4 130.5,180.4 128.0,180.4 125.5,180.5 123.2,180.5 121.4,180.6 120.0,180.6" fill="#3a3a3a" fill-opacity="1.0"/><polygon points="120.0,180.6 121.4,180.6 123.2,180.5 125.5,180.5 128.0,180.4 130.5,180.4 133.1,180.4 135.5,180.4 137.5,180.5 139.2,180.6 142.8,181.3 145.0,183.5 147.5,186.8 150.1,191.1 152.6,196.0 155.5,204.4 158.4,213.2 160.8,218.8 163.4,224.2 166.0,228.6 168.6,232.0 171.1,234.4 173.7,235.3 176.1,234.5 178.6,232.3 181.4,228.6 183.5,225.6 185.7,222.0 188.1,218.0 190.5,213.7 192.9,209.4 195.1,204.9 197.3,200.1 199.5,195.2 201.9,190.5 204.4,186.4 206.4,183.7 208.6,181.0 210.9,178.4 213.3,176.1 215.6,174.2 217.8,172.8 219.8,172.0 222.3,172.2 224.7,173.6 226.9,175.7 229.1,178.2 231.3,180.6 233.6,182.8 235.9,185.1 238.2,187.6 240.5,190.5 242.8,194.0 245.1,198.3 247.5,203.4 249.8,208.7 252.1,214.1 254.3,219.0 256.9,224.8 259.5,230.3 261.8,235.5 263.9,240.1 266.9,248.6 269.7,252.6 272.1,250.3 274.7,244.9 277.3,238.2 279.9,230.1 282.4,220.6 285.0,211.3 287.6,202.2 290.1,193.3 292.7,186.4 295.1,182.5 297.6,180.7 300.4,179.7 302.4,179.4 304.6,179.6 307.0,180.1 309.4,180.6 311.9,181.0 314.1,181.1 316.4,181.0 318.8,181.0 321.2,181.1 323.4,181.6 325.3,182.5 328.3,185.8 330.7,190.5 333.0,196.0 335.5,202.4 337.9,209.6 340.6,217.0 342.9,223.0 345.3,229.4 347.8,235.4 350.2,240.1 352.6,243.2 354.9,245.3 357.3,246.5 359.8,246.8 362.0,246.5 364.3,245.8 366.6,244.5 369.0,242.6 371.3,240.1 373.6,236.7 376.0,232.5 378.4,227.9 380.7,223.2 382.9,219.0 385.4,214.2 387.8,209.7 390.1,205.5 392.4,201.7 394.6,198.2 396.7,194.9 399.1,192.5 402.0,191.2 403.8,191.1 405.8,191.4 408.0,192.0 410.3,192.8 412.6,193.9 414.9,195.1 417.2,196.4 419.3,197.9 421.6,199.8 424.0,202.1 426.2,204.6 428.5,207.2 430.6,210.0 432.7,212.6 434.7,215.2 437.3,218.7 439.9,222.2 442.2,225.7 444.3,229.1 446.2,232.4 449.3,240.5 452.0,247.8 454.3,253.1 456.9,258.0 459.6,259.3 461.9,256.5 464.4,251.2 466.9,244.6 469.2,238.2 472.0,229.4 474.6,219.9 476.9,211.3 479.6,200.3 482.6,192.1 484.5,189.9 486.4,188.9 488.9,188.5 492.2,188.3 493.9,188.2 495.9,188.2 498.2,188.3 500.5,188.4 503.0,188.5 505.4,188.7 507.7,189.0 509.9,189.4 511.8,189.7 513.3,190.2 517.0,192.7 519.1,197.9 521.4,204.4 524.0,212.5 526.7,220.9 528.9,227.3 531.2,234.1 533.7,240.5 536.3,245.9 538.5,249.5 540.7,252.7 543.0,255.3 545.4,257.2 547.9,258.3 550.1,258.3 552.3,257.7 554.6,256.4 556.9,254.9 559.2,253.2 561.3,251.6 563.8,249.7 566.2,247.7 568.6,245.5 570.8,243.0 572.8,240.1 575.7,234.0 578.1,227.0 580.5,220.9 583.1,216.1 585.7,212.2 588.1,209.4 590.5,207.6 593.9,208.4 595.6,209.1 597.6,210.1 599.9,211.3 602.3,212.6 604.7,214.0 607.0,215.5 609.2,217.0 611.6,218.7 613.9,220.4 616.2,222.3 618.4,224.2 620.6,226.3 622.7,228.6 625.2,231.6 627.5,234.9 629.8,238.4 632.1,242.1 634.2,245.9 636.8,251.1 639.2,256.8 641.6,262.3 643.8,267.0 646.5,272.3 649.0,276.4 651.5,278.5 654.0,278.1 656.6,275.5 659.1,270.8 661.7,263.3 664.2,253.7 666.8,243.9 669.4,233.8 671.9,223.6 674.5,215.2 677.0,209.8 679.5,206.3 682.2,203.6 684.3,201.9 686.5,200.7 688.9,200.0 691.7,199.8 693.6,199.9 695.8,200.1 698.2,200.5 700.6,201.0 703.0,201.7 705.2,202.6 707.1,203.6 709.9,205.6 712.3,208.1 714.4,211.2 716.7,215.2 719.1,220.5 721.5,226.9 723.9,233.7 726.3,240.1 728.7,246.3 731.2,252.6 733.6,258.3 735.9,263.1 738.4,268.0 740.7,271.4 743.6,272.7 745.5,272.3 747.7,271.3 750.0,269.7 752.4,267.7 754.7,265.5 756.9,263.1 759.3,260.0 761.7,256.5 763.9,252.6 766.2,248.4 768.5,243.9 770.9,238.7 773.3,232.8 775.7,226.8 777.9,221.4 780.0,217.0 782.2,213.4 784.2,211.1 786.1,209.6 788.0,208.1 789.9,206.4 791.6,204.8 793.6,203.9 796.0,204.1 797.7,204.9 799.6,206.2 801.7,207.9 803.8,209.8 806.0,211.9 808.0,214.0 810.0,216.1 812.2,218.5 814.3,221.0 816.3,223.6 818.3,226.3 820.2,229.1 822.1,232.1 824.3,235.9 826.3,240.0 828.3,244.3 830.3,248.4 832.1,252.2 834.3,256.7 836.4,261.0 838.3,264.9 840.1,268.2 842.1,271.9 843.9,274.7 846.1,275.2 847.9,274.1 849.9,272.0 852.1,269.2 854.2,265.8 856.1,262.2 858.2,257.0 860.2,251.0 862.1,244.5 864.1,238.1 866.1,231.3 868.1,224.2 870.1,217.4 872.1,212.1 874.0,208.4 875.9,205.8 877.9,204.2 880.2,203.1 882.0,202.8 883.9,203.0 886.0,203.4 888.1,204.0 890.2,204.6 892.2,205.1 894.2,205.3 896.3,205.2 898.5,205.2 900.5,205.3 902.4,205.9 904.2,207.1 906.5,210.2 908.5,214.5 910.3,219.3 912.2,224.1 914.2,229.0 916.2,234.2 918.2,239.4 920.2,244.2 922.2,248.7 924.2,252.9 926.2,256.8 928.2,260.2 930.2,263.3 932.1,266.0 934.1,268.1 936.3,269.2 938.2,269.2 940.2,268.5 942.2,267.4 944.3,265.9 946.3,264.2 948.3,262.3 950.3,260.1 952.3,257.6 954.3,255.0 956.3,252.2 958.3,249.3 960.4,246.2 962.4,243.0 964.4,239.6 966.3,236.1 968.4,231.3 970.4,226.1 972.3,220.9 974.3,216.1 976.5,211.2 978.7,206.2 981.0,202.2 983.3,200.1 985.5,200.6 987.6,203.0 989.8,206.4 992.3,210.1 994.1,212.7 996.1,215.7 998.2,218.8 1000.3,222.1 1002.4,225.2 1004.4,228.1 1006.4,230.6 1008.5,232.9 1010.5,235.2 1012.6,237.4 1014.5,239.7 1016.4,242.2 1018.5,245.6 1020.5,249.2 1022.4,253.0 1024.4,256.7 1026.4,260.2 1028.6,263.9 1030.8,268.0 1033.1,271.8 1035.3,274.7 1037.4,276.2 1039.8,276.0 1042.1,274.0 1044.3,270.6 1046.4,266.2 1048.5,260.4 1050.5,253.0 1052.4,245.3 1054.4,238.1 1056.4,231.4 1058.3,224.8 1060.3,218.8 1062.4,214.1 1064.2,211.5 1065.9,209.7 1067.8,208.6 1069.9,207.8 1072.5,207.1 1074.2,206.8 1076.1,206.5 1078.2,206.3 1080.4,206.2 1082.6,206.2 1084.8,206.3 1086.9,206.5 1088.8,206.8 1090.5,207.1 1093.0,207.9 1095.2,208.9 1097.0,210.2 1098.8,211.9 1100.5,214.1 1102.6,217.7 1104.6,222.0 1106.5,226.9 1108.5,232.1 1110.5,238.1 1112.6,244.8 1114.6,251.2 1116.5,256.2 1118.5,260.4 1120.3,262.7 1122.5,264.2 1124.4,264.7 1126.7,264.8 1129.0,264.6 1131.1,264.3 1132.5,264.2 1132.5,290.2 1131.1,290.3 1129.0,290.6 1126.7,290.8 1124.4,290.7 1122.5,290.2 1120.3,288.7 1118.5,286.4 1116.5,282.2 1114.6,277.2 1112.6,270.8 1110.5,264.1 1108.5,258.1 1106.5,252.9 1104.6,248.0 1102.6,243.7 1100.5,240.1 1098.8,237.9 1097.0,236.2 1095.2,234.9 1093.0,233.9 1090.5,233.1 1088.8,232.8 1086.9,232.5 1084.8,232.3 1082.6,232.2 1080.4,232.2 1078.2,232.3 1076.1,232.5 1074.2,232.8 1072.5,233.1 1069.9,233.8 1067.8,234.6 1065.9,235.7 1064.2,237.5 1062.4,240.1 1060.3,244.8 1058.3,250.8 1056.4,257.4 1054.4,264.1 1052.4,271.3 1050.5,279.0 1048.5,286.4 1046.4,292.2 1044.3,296.6 1042.1,300.0 1039.8,302.0 1037.4,302.2 1035.3,300.7 1033.1,297.8 1030.8,294.0 1028.6,289.9 1026.4,286.2 1024.4,282.7 1022.4,279.0 1020.5,275.2 1018.5,271.6 1016.4,268.2 1014.5,265.7 1012.6,263.4 1010.5,261.1 1008.5,258.9 1006.4,256.6 1004.4,254.1 1002.4,251.2 1000.3,248.1 998.2,244.8 996.1,241.7 994.1,238.7 992.3,236.1 989.8,232.4 987.6,229.0 985.5,226.6 983.3,226.1 981.0,228.2 978.7,232.2 976.5,237.2 974.3,242.1 972.3,246.9 970.4,252.1 968.4,257.3 966.3,262.1 964.4,265.6 962.4,269.0 960.4,272.2 958.3,275.3 956.3,278.2 954.3,281.0 952.3,283.6 950.3,286.1 948.3,288.3 946.3,290.2 944.3,291.9 942.2,293.4 940.2,294.5 938.2,295.2 936.3,295.2 934.1,294.1 932.1,292.0 930.2,289.3 928.2,286.2 926.2,282.8 924.2,278.9 922.2,274.7 920.2,270.2 918.2,265.4 916.2,260.2 914.2,255.0 912.2,250.1 910.3,245.3 908.5,240.5 906.5,236.2 904.2,233.1 902.4,231.9 900.5,231.3 898.5,231.2 896.3,231.2 894.2,231.3 892.2,231.1 890.2,230.6 888.1,230.0 886.0,229.4 883.9,229.0 882.0,228.8 880.2,229.1 877.9,230.2 875.9,231.8 874.0,234.4 872.1,238.1 870.1,243.4 868.1,250.2 866.1,257.3 864.1,264.1 862.1,270.5 860.2,277.0 858.2,283.0 856.1,288.2 854.2,291.8 852.1,295.2 849.9,298.0 847.9,300.1 846.1,301.2 843.9,300.7 842.1,297.9 840.1,294.2 838.3,290.9 836.4,287.0 834.3,282.7 832.1,278.2 830.3,274.4 828.3,270.3 826.3,266.0 824.3,261.9 822.1,258.1 820.2,255.1 818.3,252.3 816.3,249.6 814.3,247.0 812.2,244.5 810.0,242.1 808.0,240.0 806.0,237.9 803.8,235.8 801.7,233.9 799.6,232.2 797.7,230.9 796.0,230.1 793.6,229.9 791.6,230.8 789.9,232.4 788.0,234.1 786.1,235.6 784.2,237.1 782.2,239.4 780.0,243.0 777.9,247.4 775.7,252.8 773.3,258.8 770.9,264.7 768.5,269.9 766.2,274.4 763.9,278.6 761.7,282.5 759.3,286.0 756.9,289.1 754.7,291.5 752.4,293.7 750.0,295.7 747.7,297.3 745.5,298.3 743.6,298.7 740.7,297.4 738.4,294.0 735.9,289.1 733.6,284.3 731.2,278.6 728.7,272.3 726.3,266.1 723.9,259.7 721.5,252.9 719.1,246.5 716.7,241.2 714.4,237.2 712.3,234.1 709.9,231.6 707.1,229.6 705.2,228.6 703.0,227.7 700.6,227.0 698.2,226.5 695.8,226.1 693.6,225.9 691.7,225.8 688.9,226.0 686.5,226.7 684.3,227.9 682.2,229.6 679.5,232.3 677.0,235.8 674.5,241.2 671.9,249.6 669.4,259.8 666.8,269.9 664.2,279.7 661.7,289.3 659.1,296.8 656.6,301.5 654.0,304.1 651.5,304.5 649.0,302.4 646.5,298.3 643.8,293.0 641.6,288.3 639.2,282.8 636.8,277.1 634.2,271.9 632.1,268.1 629.8,264.4 627.5,260.9 625.2,257.6 622.7,254.6 620.6,252.3 618.4,250.2 616.2,248.3 613.9,246.4 611.6,244.7 609.2,243.0 607.0,241.5 604.7,240.0 602.3,238.6 599.9,237.3 597.6,236.1 595.6,235.1 593.9,234.4 590.5,233.6 588.1,235.4 585.7,238.2 583.1,242.1 580.5,246.9 578.1,253.0 575.7,260.0 572.8,266.1 570.8,269.0 568.6,271.5 566.2,273.7 563.8,275.7 561.3,277.6 559.2,279.2 556.9,280.9 554.6,282.4 552.3,283.7 550.1,284.3 547.9,284.3 545.4,283.2 543.0,281.3 540.7,278.7 538.5,275.5 536.3,271.9 533.7,266.5 531.2,260.1 528.9,253.3 526.7,246.9 524.0,238.5 521.4,230.4 519.1,223.9 517.0,218.7 513.3,216.2 511.8,215.7 509.9,215.4 507.7,215.0 505.4,214.7 503.0,214.5 500.5,214.4 498.2,214.3 495.9,214.2 493.9,214.2 492.2,214.3 488.9,214.5 486.4,214.9 484.5,215.9 482.6,218.1 479.6,226.3 476.9,237.3 474.6,245.9 472.0,255.4 469.2,264.2 466.9,270.6 464.4,277.1 461.9,282.5 459.6,285.3 456.9,284.0 454.3,279.1 452.0,273.8 449.3,266.5 446.2,258.4 444.3,255.1 442.2,251.7 439.9,248.2 437.3,244.7 434.7,241.2 432.7,238.6 430.6,236.0 428.5,233.2 426.2,230.6 424.0,228.1 421.6,225.8 419.3,223.9 417.2,222.4 414.9,221.1 412.6,219.9 410.3,218.8 408.0,218.0 405.8,217.4 403.8,217.1 402.0,217.2 399.1,218.5 396.7,220.9 394.6,224.2 392.4,227.7 390.1,231.5 387.8,235.7 385.4,240.2 382.9,245.0 380.7,249.2 378.4,253.9 376.0,258.5 373.6,262.7 371.3,266.1 369.0,268.6 366.6,270.5 364.3,271.8 362.0,272.5 359.8,272.8 357.3,272.5 354.9,271.3 352.6,269.2 350.2,266.1 347.8,261.4 345.3,255.4 342.9,249.0 340.6,243.0 337.9,235.6 335.5,228.4 333.0,222.0 330.7,216.5 328.3,211.8 325.3,208.5 323.4,207.6 321.2,207.1 318.8,207.0 316.4,207.0 314.1,207.1 311.9,207.0 309.4,206.6 307.0,206.1 304.6,205.6 302.4,205.4 300.4,205.7 297.6,206.7 295.1,208.5 292.7,212.4 290.1,219.3 287.6,228.2 285.0,237.3 282.4,246.6 279.9,256.1 277.3,264.2 274.7,270.9 272.1,276.3 269.7,278.6 266.9,274.6 263.9,266.1 261.8,261.5 259.5,256.3 256.9,250.8 254.3,245.0 252.1,240.1 249.8,234.7 247.5,229.4 245.1,224.3 242.8,220.0 240.5,216.5 238.2,213.6 235.9,211.1 233.6,208.8 231.3,206.6 229.1,204.2 226.9,201.7 224.7,199.6 222.3,198.2 219.8,198.0 217.8,198.8 215.6,200.2 213.3,202.1 210.9,204.4 208.6,207.0 206.4,209.7 204.4,212.4 201.9,216.5 199.5,221.2 197.3,226.1 195.1,230.9 192.9,235.4 190.5,239.7 188.1,244.0 185.7,248.0 183.5,251.6 181.4,254.6 178.6,258.3 176.1,260.5 173.7,261.3 171.1,260.4 168.6,258.0 166.0,254.6 163.4,250.2 160.8,244.8 158.4,239.2 155.5,230.4 152.6,222.0 150.1,217.1 147.5,212.8 145.0,209.5 142.8,207.3 139.2,206.6 137.5,206.5 135.5,206.4 133.1,206.4 130.5,206.4 128.0,206.4 125.5,206.5 123.2,206.5 121.4,206.6 120.0,206.6" fill="#1c1c1c" fill-opacity="1.0"/><polyline points="120.0,175.1 121.4,175.1 123.2,175.0 125.5,175.0 128.0,174.9 130.5,174.9 133.1,174.9 135.5,174.9 137.5,175.0 139.2,175.1 142.8,175.8 145.0,178.0 147.5,181.3 150.1,185.6 152.6,190.5 155.5,198.9 158.4,207.7 160.8,213.3 163.4,218.7 166.0,223.1 168.6,226.5 171.1,228.9 173.7,229.8 176.1,229.0 178.6,226.8 181.4,223.1 183.5,220.1 185.7,216.5 188.1,212.5 190.5,208.2 192.9,203.9 195.1,199.4 197.3,194.6 199.5,189.7 201.9,185.0 204.4,180.9 206.4,178.2 208.6,175.5 210.9,172.9 213.3,170.6 215.6,168.7 217.8,167.3 219.8,166.5 222.3,166.7 224.7,168.1 226.9,170.2 229.1,172.7 231.3,175.1 233.6,177.3 235.9,179.6 238.2,182.1 240.5,185.0 242.8,188.5 245.1,192.8 247.5,197.9 249.8,203.2 252.1,208.6 254.3,213.5 256.9,219.3 259.5,224.8 261.8,230.0 263.9,234.6 266.9,243.1 269.7,247.1 272.1,244.8 274.7,239.4 277.3,232.7 279.9,224.6 282.4,215.1 285.0,205.8 287.6,196.7 290.1,187.8 292.7,180.9 295.1,177.0 297.6,175.2 300.4,174.2 302.4,173.9 304.6,174.1 307.0,174.6 309.4,175.1 311.9,175.5 314.1,175.6 316.4,175.5 318.8,175.5 321.2,175.6 323.4,176.1 325.3,177.0 328.3,180.3 330.7,185.0 333.0,190.5 335.5,196.9 337.9,204.1 340.6,211.5 342.9,217.5 345.3,223.9 347.8,229.9 350.2,234.6 352.6,237.7 354.9,239.8 357.3,241.0 359.8,241.3 362.0,241.0 364.3,240.3 366.6,239.0 369.0,237.1 371.3,234.6 373.6,231.2 376.0,227.0 378.4,222.4 380.7,217.7 382.9,213.5 385.4,208.7 387.8,204.2 390.1,200.0 392.4,196.2 394.6,192.7 396.7,189.4 399.1,187.0 402.0,185.7 403.8,185.6 405.8,185.9 408.0,186.5 410.3,187.3 412.6,188.4 414.9,189.6 417.2,190.9 419.3,192.4 421.6,194.3 424.0,196.6 426.2,199.1 428.5,201.7 430.6,204.5 432.7,207.1 434.7,209.7 437.3,213.2 439.9,216.7 442.2,220.2 444.3,223.6 446.2,226.9 449.3,235.0 452.0,242.3 454.3,247.6 456.9,252.5 459.6,253.8 461.9,251.0 464.4,245.7 466.9,239.1 469.2,232.7 472.0,223.9 474.6,214.4 476.9,205.8 479.6,194.8 482.6,186.6 484.5,184.4 486.4,183.4 488.9,183.0 492.2,182.8 493.9,182.7 495.9,182.7 498.2,182.8 500.5,182.9 503.0,183.0 505.4,183.2 507.7,183.5 509.9,183.9 511.8,184.2 513.3,184.7 517.0,187.2 519.1,192.4 521.4,198.9 524.0,207.0 526.7,215.4 528.9,221.8 531.2,228.6 533.7,235.0 536.3,240.4 538.5,244.0 540.7,247.2 543.0,249.8 545.4,251.7 547.9,252.8 550.1,252.8 552.3,252.2 554.6,250.9 556.9,249.4 559.2,247.7 561.3,246.1 563.8,244.2 566.2,242.2 568.6,240.0 570.8,237.5 572.8,234.6 575.7,228.5 578.1,221.5 580.5,215.4 583.1,210.6 585.7,206.7 588.1,203.9 590.5,202.1 593.9,202.9 595.6,203.6 597.6,204.6 599.9,205.8 602.3,207.1 604.7,208.5 607.0,210.0 609.2,211.5 611.6,213.2 613.9,214.9 616.2,216.8 618.4,218.7 620.6,220.8 622.7,223.1 625.2,226.1 627.5,229.4 629.8,232.9 632.1,236.6 634.2,240.4 636.8,245.6 639.2,251.3 641.6,256.8 643.8,261.5 646.5,266.8 649.0,270.9 651.5,273.0 654.0,272.6 656.6,270.0 659.1,265.3 661.7,257.8 664.2,248.2 666.8,238.4 669.4,228.3 671.9,218.1 674.5,209.7 677.0,204.3 679.5,200.8 682.2,198.1 684.3,196.4 686.5,195.2 688.9,194.5 691.7,194.3 693.6,194.4 695.8,194.6 698.2,195.0 700.6,195.5 703.0,196.2 705.2,197.1 707.1,198.1 709.9,200.1 712.3,202.6 714.4,205.7 716.7,209.7 719.1,215.0 721.5,221.4 723.9,228.2 726.3,234.6 728.7,240.8 731.2,247.1 733.6,252.8 735.9,257.6 738.4,262.5 740.7,265.9 743.6,267.2 745.5,266.8 747.7,265.8 750.0,264.2 752.4,262.2 754.7,260.0 756.9,257.6 759.3,254.5 761.7,251.0 763.9,247.1 766.2,242.9 768.5,238.4 770.9,233.2 773.3,227.3 775.7,221.3 777.9,215.9 780.0,211.5 782.2,207.9 784.2,205.6 786.1,204.1 788.0,202.6 789.9,200.9 791.6,199.3 793.6,198.4 796.0,198.6 797.7,199.4 799.6,200.7 801.7,202.4 803.8,204.3 806.0,206.4 808.0,208.5 810.0,210.6 812.2,213.0 814.3,215.5 816.3,218.1 818.3,220.8 820.2,223.6 822.1,226.6 824.3,230.4 826.3,234.5 828.3,238.8 830.3,242.9 832.1,246.7 834.3,251.2 836.4,255.5 838.3,259.4 840.1,262.7 842.1,266.4 843.9,269.2 846.1,269.7 847.9,268.6 849.9,266.5 852.1,263.7 854.2,260.3 856.1,256.7 858.2,251.5 860.2,245.5 862.1,239.0 864.1,232.6 866.1,225.8 868.1,218.7 870.1,211.9 872.1,206.6 874.0,202.9 875.9,200.3 877.9,198.7 880.2,197.6 882.0,197.3 883.9,197.5 886.0,197.9 888.1,198.5 890.2,199.1 892.2,199.6 894.2,199.8 896.3,199.7 898.5,199.7 900.5,199.8 902.4,200.4 904.2,201.6 906.5,204.7 908.5,209.0 910.3,213.8 912.2,218.6 914.2,223.5 916.2,228.7 918.2,233.9 920.2,238.7 922.2,243.2 924.2,247.4 926.2,251.3 928.2,254.7 930.2,257.8 932.1,260.5 934.1,262.6 936.3,263.7 938.2,263.7 940.2,263.0 942.2,261.9 944.3,260.4 946.3,258.7 948.3,256.8 950.3,254.6 952.3,252.1 954.3,249.5 956.3,246.7 958.3,243.8 960.4,240.7 962.4,237.5 964.4,234.1 966.3,230.6 968.4,225.8 970.4,220.6 972.3,215.4 974.3,210.6 976.5,205.7 978.7,200.7 981.0,196.7 983.3,194.6 985.5,195.1 987.6,197.5 989.8,200.9 992.3,204.6 994.1,207.2 996.1,210.2 998.2,213.3 1000.3,216.6 1002.4,219.7 1004.4,222.6 1006.4,225.1 1008.5,227.4 1010.5,229.7 1012.6,231.9 1014.5,234.2 1016.4,236.7 1018.5,240.1 1020.5,243.7 1022.4,247.5 1024.4,251.2 1026.4,254.7 1028.6,258.4 1030.8,262.5 1033.1,266.3 1035.3,269.2 1037.4,270.7 1039.8,270.5 1042.1,268.5 1044.3,265.1 1046.4,260.7 1048.5,254.9 1050.5,247.5 1052.4,239.8 1054.4,232.6 1056.4,225.9 1058.3,219.3 1060.3,213.3 1062.4,208.6 1064.2,206.0 1065.9,204.2 1067.8,203.1 1069.9,202.3 1072.5,201.6 1074.2,201.3 1076.1,201.0 1078.2,200.8 1080.4,200.7 1082.6,200.7 1084.8,200.8 1086.9,201.0 1088.8,201.3 1090.5,201.6 1093.0,202.4 1095.2,203.4 1097.0,204.7 1098.8,206.4 1100.5,208.6 1102.6,212.2 1104.6,216.5 1106.5,221.4 1108.5,226.6 1110.5,232.6 1112.6,239.3 1114.6,245.7 1116.5,250.7 1118.5,254.9 1120.3,257.2 1122.5,258.7 1124.4,259.2 1126.7,259.3 1129.0,259.1 1131.1,258.8 1132.5,258.7" fill="none" stroke="#f4f4f4" stroke-width="7" stroke-opacity="1.0" stroke-linejoin="round" /><polyline points="120.0,188.6 121.4,188.6 123.2,188.5 125.5,188.5 128.0,188.4 130.5,188.4 133.1,188.4 135.5,188.4 137.5,188.5 139.2,188.6 142.8,189.3 145.0,191.5 147.5,194.8 150.1,199.1 152.6,204.0 155.5,212.4 158.4,221.2 160.8,226.8 163.4,232.2 166.0,236.6 168.6,240.0 171.1,242.4 173.7,243.3 176.1,242.5 178.6,240.3 181.4,236.6 183.5,233.6 185.7,230.0 188.1,226.0 190.5,221.7 192.9,217.4 195.1,212.9 197.3,208.1 199.5,203.2 201.9,198.5 204.4,194.4 206.4,191.7 208.6,189.0 210.9,186.4 213.3,184.1 215.6,182.2 217.8,180.8 219.8,180.0 222.3,180.2 224.7,181.6 226.9,183.7 229.1,186.2 231.3,188.6 233.6,190.8 235.9,193.1 238.2,195.6 240.5,198.5 242.8,202.0 245.1,206.3 247.5,211.4 249.8,216.7 252.1,222.1 254.3,227.0 256.9,232.8 259.5,238.3 261.8,243.5 263.9,248.1 266.9,256.6 269.7,260.6 272.1,258.3 274.7,252.9 277.3,246.2 279.9,238.1 282.4,228.6 285.0,219.3 287.6,210.2 290.1,201.3 292.7,194.4 295.1,190.5 297.6,188.7 300.4,187.7 302.4,187.4 304.6,187.6 307.0,188.1 309.4,188.6 311.9,189.0 314.1,189.1 316.4,189.0 318.8,189.0 321.2,189.1 323.4,189.6 325.3,190.5 328.3,193.8 330.7,198.5 333.0,204.0 335.5,210.4 337.9,217.6 340.6,225.0 342.9,231.0 345.3,237.4 347.8,243.4 350.2,248.1 352.6,251.2 354.9,253.3 357.3,254.5 359.8,254.8 362.0,254.5 364.3,253.8 366.6,252.5 369.0,250.6 371.3,248.1 373.6,244.7 376.0,240.5 378.4,235.9 380.7,231.2 382.9,227.0 385.4,222.2 387.8,217.7 390.1,213.5 392.4,209.7 394.6,206.2 396.7,202.9 399.1,200.5 402.0,199.2 403.8,199.1 405.8,199.4 408.0,200.0 410.3,200.8 412.6,201.9 414.9,203.1 417.2,204.4 419.3,205.9 421.6,207.8 424.0,210.1 426.2,212.6 428.5,215.2 430.6,218.0 432.7,220.6 434.7,223.2 437.3,226.7 439.9,230.2 442.2,233.7 444.3,237.1 446.2,240.4 449.3,248.5 452.0,255.8 454.3,261.1 456.9,266.0 459.6,267.3 461.9,264.5 464.4,259.1 466.9,252.6 469.2,246.2 472.0,237.4 474.6,227.9 476.9,219.3 479.6,208.3 482.6,200.1 484.5,197.9 486.4,196.9 488.9,196.5 492.2,196.3 493.9,196.2 495.9,196.2 498.2,196.3 500.5,196.4 503.0,196.5 505.4,196.7 507.7,197.0 509.9,197.4 511.8,197.7 513.3,198.2 517.0,200.7 519.1,205.9 521.4,212.4 524.0,220.5 526.7,228.9 528.9,235.3 531.2,242.1 533.7,248.5 536.3,253.9 538.5,257.5 540.7,260.7 543.0,263.3 545.4,265.2 547.9,266.3 550.1,266.3 552.3,265.7 554.6,264.4 556.9,262.9 559.2,261.2 561.3,259.6 563.8,257.7 566.2,255.7 568.6,253.5 570.8,251.0 572.8,248.1 575.7,242.0 578.1,235.0 580.5,228.9 583.1,224.1 585.7,220.2 588.1,217.4 590.5,215.6 593.9,216.4 595.6,217.1 597.6,218.1 599.9,219.3 602.3,220.6 604.7,222.0 607.0,223.5 609.2,225.0 611.6,226.7 613.9,228.4 616.2,230.3 618.4,232.2 620.6,234.3 622.7,236.6 625.2,239.6 627.5,242.9 629.8,246.4 632.1,250.1 634.2,253.9 636.8,259.1 639.2,264.8 641.6,270.3 643.8,275.0 646.5,280.3 649.0,284.4 651.5,286.5 654.0,286.1 656.6,283.5 659.1,278.8 661.7,271.3 664.2,261.7 666.8,251.9 669.4,241.8 671.9,231.6 674.5,223.2 677.0,217.8 679.5,214.3 682.2,211.6 684.3,209.9 686.5,208.7 688.9,208.0 691.7,207.8 693.6,207.9 695.8,208.1 698.2,208.5 700.6,209.0 703.0,209.7 705.2,210.6 707.1,211.6 709.9,213.6 712.3,216.1 714.4,219.2 716.7,223.2 719.1,228.5 721.5,234.9 723.9,241.7 726.3,248.1 728.7,254.3 731.2,260.6 733.6,266.3 735.9,271.1 738.4,276.0 740.7,279.4 743.6,280.7 745.5,280.3 747.7,279.3 750.0,277.7 752.4,275.7 754.7,273.5 756.9,271.1 759.3,268.0 761.7,264.5 763.9,260.6 766.2,256.4 768.5,251.9 770.9,246.7 773.3,240.8 775.7,234.8 777.9,229.4 780.0,225.0 782.2,221.4 784.2,219.1 786.1,217.6 788.0,216.1 789.9,214.4 791.6,212.8 793.6,211.9 796.0,212.1 797.7,212.9 799.6,214.2 801.7,215.9 803.8,217.8 806.0,219.9 808.0,222.0 810.0,224.1 812.2,226.5 814.3,229.0 816.3,231.6 818.3,234.3 820.2,237.1 822.1,240.1 824.3,243.9 826.3,248.0 828.3,252.3 830.3,256.4 832.1,260.2 834.3,264.7 836.4,269.0 838.3,272.9 840.1,276.2 842.1,279.9 843.9,282.7 846.1,283.2 847.9,282.1 849.9,280.0 852.1,277.2 854.2,273.8 856.1,270.2 858.2,265.0 860.2,259.0 862.1,252.5 864.1,246.1 866.1,239.3 868.1,232.2 870.1,225.4 872.1,220.1 874.0,216.4 875.9,213.8 877.9,212.2 880.2,211.1 882.0,210.8 883.9,211.0 886.0,211.4 888.1,212.0 890.2,212.6 892.2,213.1 894.2,213.3 896.3,213.2 898.5,213.2 900.5,213.3 902.4,213.9 904.2,215.1 906.5,218.2 908.5,222.5 910.3,227.3 912.2,232.1 914.2,237.0 916.2,242.2 918.2,247.4 920.2,252.2 922.2,256.7 924.2,260.9 926.2,264.8 928.2,268.2 930.2,271.3 932.1,274.0 934.1,276.1 936.3,277.2 938.2,277.2 940.2,276.5 942.2,275.4 944.3,273.9 946.3,272.2 948.3,270.3 950.3,268.1 952.3,265.6 954.3,263.0 956.3,260.2 958.3,257.3 960.4,254.2 962.4,251.0 964.4,247.6 966.3,244.1 968.4,239.3 970.4,234.1 972.3,228.9 974.3,224.1 976.5,219.2 978.7,214.2 981.0,210.2 983.3,208.1 985.5,208.6 987.6,211.0 989.8,214.4 992.3,218.1 994.1,220.7 996.1,223.7 998.2,226.8 1000.3,230.1 1002.4,233.2 1004.4,236.1 1006.4,238.6 1008.5,240.9 1010.5,243.2 1012.6,245.4 1014.5,247.7 1016.4,250.2 1018.5,253.6 1020.5,257.2 1022.4,261.0 1024.4,264.7 1026.4,268.2 1028.6,271.9 1030.8,276.0 1033.1,279.8 1035.3,282.7 1037.4,284.2 1039.8,284.0 1042.1,282.0 1044.3,278.6 1046.4,274.2 1048.5,268.4 1050.5,261.0 1052.4,253.3 1054.4,246.1 1056.4,239.4 1058.3,232.8 1060.3,226.8 1062.4,222.1 1064.2,219.5 1065.9,217.7 1067.8,216.6 1069.9,215.8 1072.5,215.1 1074.2,214.8 1076.1,214.5 1078.2,214.3 1080.4,214.2 1082.6,214.2 1084.8,214.3 1086.9,214.5 1088.8,214.8 1090.5,215.1 1093.0,215.9 1095.2,216.9 1097.0,218.2 1098.8,219.9 1100.5,222.1 1102.6,225.7 1104.6,230.0 1106.5,234.9 1108.5,240.1 1110.5,246.1 1112.6,252.8 1114.6,259.2 1116.5,264.2 1118.5,268.4 1120.3,270.7 1122.5,272.2 1124.4,272.7 1126.7,272.8 1129.0,272.6 1131.1,272.3 1132.5,272.2" fill="none" stroke="#6a6a6a" stroke-width="3.5" stroke-opacity="1.0" stroke-linejoin="round" /><polyline points="120.0,202.6 121.4,202.6 123.2,202.5 125.5,202.5 128.0,202.4 130.5,202.4 133.1,202.4 135.5,202.4 137.5,202.5 139.2,202.6 142.8,203.3 145.0,205.5 147.5,208.8 150.1,213.1 152.6,218.0 155.5,226.4 158.4,235.2 160.8,240.8 163.4,246.2 166.0,250.6 168.6,254.0 171.1,256.4 173.7,257.3 176.1,256.5 178.6,254.3 181.4,250.6 183.5,247.6 185.7,244.0 188.1,240.0 190.5,235.7 192.9,231.4 195.1,226.9 197.3,222.1 199.5,217.2 201.9,212.5 204.4,208.4 206.4,205.7 208.6,203.0 210.9,200.4 213.3,198.1 215.6,196.2 217.8,194.8 219.8,194.0 222.3,194.2 224.7,195.6 226.9,197.7 229.1,200.2 231.3,202.6 233.6,204.8 235.9,207.1 238.2,209.6 240.5,212.5 242.8,216.0 245.1,220.3 247.5,225.4 249.8,230.7 252.1,236.1 254.3,241.0 256.9,246.8 259.5,252.3 261.8,257.5 263.9,262.1 266.9,270.6 269.7,274.6 272.1,272.3 274.7,266.9 277.3,260.2 279.9,252.1 282.4,242.6 285.0,233.3 287.6,224.2 290.1,215.3 292.7,208.4 295.1,204.5 297.6,202.7 300.4,201.7 302.4,201.4 304.6,201.6 307.0,202.1 309.4,202.6 311.9,203.0 314.1,203.1 316.4,203.0 318.8,203.0 321.2,203.1 323.4,203.6 325.3,204.5 328.3,207.8 330.7,212.5 333.0,218.0 335.5,224.4 337.9,231.6 340.6,239.0 342.9,245.0 345.3,251.4 347.8,257.4 350.2,262.1 352.6,265.2 354.9,267.3 357.3,268.5 359.8,268.8 362.0,268.5 364.3,267.8 366.6,266.5 369.0,264.6 371.3,262.1 373.6,258.7 376.0,254.5 378.4,249.9 380.7,245.2 382.9,241.0 385.4,236.2 387.8,231.7 390.1,227.5 392.4,223.7 394.6,220.2 396.7,216.9 399.1,214.5 402.0,213.2 403.8,213.1 405.8,213.4 408.0,214.0 410.3,214.8 412.6,215.9 414.9,217.1 417.2,218.4 419.3,219.9 421.6,221.8 424.0,224.1 426.2,226.6 428.5,229.2 430.6,232.0 432.7,234.6 434.7,237.2 437.3,240.7 439.9,244.2 442.2,247.7 444.3,251.1 446.2,254.4 449.3,262.5 452.0,269.8 454.3,275.1 456.9,280.0 459.6,281.3 461.9,278.5 464.4,273.1 466.9,266.6 469.2,260.2 472.0,251.4 474.6,241.9 476.9,233.3 479.6,222.3 482.6,214.1 484.5,211.9 486.4,210.9 488.9,210.5 492.2,210.3 493.9,210.2 495.9,210.2 498.2,210.3 500.5,210.4 503.0,210.5 505.4,210.7 507.7,211.0 509.9,211.4 511.8,211.7 513.3,212.2 517.0,214.7 519.1,219.9 521.4,226.4 524.0,234.5 526.7,242.9 528.9,249.3 531.2,256.1 533.7,262.5 536.3,267.9 538.5,271.5 540.7,274.7 543.0,277.3 545.4,279.2 547.9,280.3 550.1,280.3 552.3,279.7 554.6,278.4 556.9,276.9 559.2,275.2 561.3,273.6 563.8,271.7 566.2,269.7 568.6,267.5 570.8,265.0 572.8,262.1 575.7,256.0 578.1,249.0 580.5,242.9 583.1,238.1 585.7,234.2 588.1,231.4 590.5,229.6 593.9,230.4 595.6,231.1 597.6,232.1 599.9,233.3 602.3,234.6 604.7,236.0 607.0,237.5 609.2,239.0 611.6,240.7 613.9,242.4 616.2,244.3 618.4,246.2 620.6,248.3 622.7,250.6 625.2,253.6 627.5,256.9 629.8,260.4 632.1,264.1 634.2,267.9 636.8,273.1 639.2,278.8 641.6,284.3 643.8,289.0 646.5,294.3 649.0,298.4 651.5,300.5 654.0,300.1 656.6,297.5 659.1,292.8 661.7,285.3 664.2,275.7 666.8,265.9 669.4,255.8 671.9,245.6 674.5,237.2 677.0,231.8 679.5,228.3 682.2,225.6 684.3,223.9 686.5,222.7 688.9,222.0 691.7,221.8 693.6,221.9 695.8,222.1 698.2,222.5 700.6,223.0 703.0,223.7 705.2,224.6 707.1,225.6 709.9,227.6 712.3,230.1 714.4,233.2 716.7,237.2 719.1,242.5 721.5,248.9 723.9,255.7 726.3,262.1 728.7,268.3 731.2,274.6 733.6,280.3 735.9,285.1 738.4,290.0 740.7,293.4 743.6,294.7 745.5,294.3 747.7,293.3 750.0,291.7 752.4,289.7 754.7,287.5 756.9,285.1 759.3,282.0 761.7,278.5 763.9,274.6 766.2,270.4 768.5,265.9 770.9,260.7 773.3,254.8 775.7,248.8 777.9,243.4 780.0,239.0 782.2,235.4 784.2,233.1 786.1,231.6 788.0,230.1 789.9,228.4 791.6,226.8 793.6,225.9 796.0,226.1 797.7,226.9 799.6,228.2 801.7,229.9 803.8,231.8 806.0,233.9 808.0,236.0 810.0,238.1 812.2,240.5 814.3,243.0 816.3,245.6 818.3,248.3 820.2,251.1 822.1,254.1 824.3,257.9 826.3,262.0 828.3,266.3 830.3,270.4 832.1,274.2 834.3,278.7 836.4,283.0 838.3,286.9 840.1,290.2 842.1,293.9 843.9,296.7 846.1,297.2 847.9,296.1 849.9,294.0 852.1,291.2 854.2,287.8 856.1,284.2 858.2,279.0 860.2,273.0 862.1,266.5 864.1,260.1 866.1,253.3 868.1,246.2 870.1,239.4 872.1,234.1 874.0,230.4 875.9,227.8 877.9,226.2 880.2,225.1 882.0,224.8 883.9,225.0 886.0,225.4 888.1,226.0 890.2,226.6 892.2,227.1 894.2,227.3 896.3,227.2 898.5,227.2 900.5,227.3 902.4,227.9 904.2,229.1 906.5,232.2 908.5,236.5 910.3,241.3 912.2,246.1 914.2,251.0 916.2,256.2 918.2,261.4 920.2,266.2 922.2,270.7 924.2,274.9 926.2,278.8 928.2,282.2 930.2,285.3 932.1,288.0 934.1,290.1 936.3,291.2 938.2,291.2 940.2,290.5 942.2,289.4 944.3,287.9 946.3,286.2 948.3,284.3 950.3,282.1 952.3,279.6 954.3,277.0 956.3,274.2 958.3,271.3 960.4,268.2 962.4,265.0 964.4,261.6 966.3,258.1 968.4,253.3 970.4,248.1 972.3,242.9 974.3,238.1 976.5,233.2 978.7,228.2 981.0,224.2 983.3,222.1 985.5,222.6 987.6,225.0 989.8,228.4 992.3,232.1 994.1,234.7 996.1,237.7 998.2,240.8 1000.3,244.1 1002.4,247.2 1004.4,250.1 1006.4,252.6 1008.5,254.9 1010.5,257.1 1012.6,259.4 1014.5,261.7 1016.4,264.2 1018.5,267.6 1020.5,271.2 1022.4,275.0 1024.4,278.7 1026.4,282.2 1028.6,285.9 1030.8,290.0 1033.1,293.8 1035.3,296.7 1037.4,298.2 1039.8,298.0 1042.1,296.0 1044.3,292.6 1046.4,288.2 1048.5,282.4 1050.5,275.0 1052.4,267.3 1054.4,260.1 1056.4,253.4 1058.3,246.8 1060.3,240.8 1062.4,236.1 1064.2,233.5 1065.9,231.7 1067.8,230.6 1069.9,229.8 1072.5,229.1 1074.2,228.8 1076.1,228.5 1078.2,228.3 1080.4,228.2 1082.6,228.2 1084.8,228.3 1086.9,228.5 1088.8,228.8 1090.5,229.1 1093.0,229.9 1095.2,230.9 1097.0,232.2 1098.8,233.9 1100.5,236.1 1102.6,239.7 1104.6,244.0 1106.5,248.9 1108.5,254.1 1110.5,260.1 1112.6,266.8 1114.6,273.2 1116.5,278.2 1118.5,282.4 1120.3,284.7 1122.5,286.2 1124.4,286.7 1126.7,286.8 1129.0,286.6 1131.1,286.3 1132.5,286.2" fill="none" stroke="#9c9c9c" stroke-width="5" stroke-opacity="1.0" stroke-linejoin="round" /></g></g>
<filter id="nA2" x="0" y="0" width="100%" height="100%" color-interpolation-filters="sRGB"><feTurbulence type="fractalNoise" baseFrequency="0.3" numOctaves="1" seed="9"/><feColorMatrix type="matrix" values="0 0 0 0 1  0 0 0 0 1  0 0 0 0 1  0.8 0 0 0 -0.38"/><feGaussianBlur stdDeviation="0.8"/></filter>
<clipPath id="c_nA2"><polygon points="120.0,165.6 121.4,165.6 123.2,165.5 125.5,165.5 128.0,165.4 130.5,165.4 133.1,165.4 135.5,165.4 137.5,165.5 139.2,165.6 142.8,166.3 145.0,168.5 147.5,171.8 150.1,176.1 152.6,181.0 155.5,189.4 158.4,198.2 160.8,203.8 163.4,209.2 166.0,213.6 168.6,217.0 171.1,219.4 173.7,220.3 176.1,219.5 178.6,217.3 181.4,213.6 183.5,210.6 185.7,207.0 188.1,203.0 190.5,198.7 192.9,194.4 195.1,189.9 197.3,185.1 199.5,180.2 201.9,175.5 204.4,171.4 206.4,168.7 208.6,166.0 210.9,163.4 213.3,161.1 215.6,159.2 217.8,157.8 219.8,157.0 222.3,157.2 224.7,158.6 226.9,160.7 229.1,163.2 231.3,165.6 233.6,167.8 235.9,170.1 238.2,172.6 240.5,175.5 242.8,179.0 245.1,183.3 247.5,188.4 249.8,193.7 252.1,199.1 254.3,204.0 256.9,209.8 259.5,215.3 261.8,220.5 263.9,225.1 266.9,233.6 269.7,237.6 272.1,235.3 274.7,229.9 277.3,223.2 279.9,215.1 282.4,205.6 285.0,196.3 287.6,187.2 290.1,178.3 292.7,171.4 295.1,167.5 297.6,165.7 300.4,164.7 302.4,164.4 304.6,164.6 307.0,165.1 309.4,165.6 311.9,166.0 314.1,166.1 316.4,166.0 318.8,166.0 321.2,166.1 323.4,166.6 325.3,167.5 328.3,170.8 330.7,175.5 333.0,181.0 335.5,187.4 337.9,194.6 340.6,202.0 342.9,208.0 345.3,214.4 347.8,220.4 350.2,225.1 352.6,228.2 354.9,230.3 357.3,231.5 359.8,231.8 362.0,231.5 364.3,230.8 366.6,229.5 369.0,227.6 371.3,225.1 373.6,221.7 376.0,217.5 378.4,212.9 380.7,208.2 382.9,204.0 385.4,199.2 387.8,194.7 390.1,190.5 392.4,186.7 394.6,183.2 396.7,179.9 399.1,177.5 402.0,176.2 403.8,176.1 405.8,176.4 408.0,177.0 410.3,177.8 412.6,178.9 414.9,180.1 417.2,181.4 419.3,182.9 421.6,184.8 424.0,187.1 426.2,189.6 428.5,192.2 430.6,195.0 432.7,197.6 434.7,200.2 437.3,203.7 439.9,207.2 442.2,210.7 444.3,214.1 446.2,217.4 449.3,225.5 452.0,232.8 454.3,238.1 456.9,243.0 459.6,244.3 461.9,241.5 464.4,236.2 466.9,229.6 469.2,223.2 472.0,214.4 474.6,204.9 476.9,196.3 479.6,185.3 482.6,177.1 484.5,174.9 486.4,173.9 488.9,173.5 492.2,173.3 493.9,173.2 495.9,173.2 498.2,173.3 500.5,173.4 503.0,173.5 505.4,173.7 507.7,174.0 509.9,174.4 511.8,174.7 513.3,175.2 517.0,177.7 519.1,182.9 521.4,189.4 524.0,197.5 526.7,205.9 528.9,212.3 531.2,219.1 533.7,225.5 536.3,230.9 538.5,234.5 540.7,237.7 543.0,240.3 545.4,242.2 547.9,243.3 550.1,243.3 552.3,242.7 554.6,241.4 556.9,239.9 559.2,238.2 561.3,236.6 563.8,234.7 566.2,232.7 568.6,230.5 570.8,228.0 572.8,225.1 575.7,219.0 578.1,212.0 580.5,205.9 583.1,201.1 585.7,197.2 588.1,194.4 590.5,192.6 593.9,193.4 595.6,194.1 597.6,195.1 599.9,196.3 602.3,197.6 604.7,199.0 607.0,200.5 609.2,202.0 611.6,203.7 613.9,205.4 616.2,207.3 618.4,209.2 620.6,211.3 622.7,213.6 625.2,216.6 627.5,219.9 629.8,223.4 632.1,227.1 634.2,230.9 636.8,236.1 639.2,241.8 641.6,247.3 643.8,252.0 646.5,257.3 649.0,261.4 651.5,263.5 654.0,263.1 656.6,260.5 659.1,255.8 661.7,248.3 664.2,238.7 666.8,228.9 669.4,218.8 671.9,208.6 674.5,200.2 677.0,194.8 679.5,191.3 682.2,188.6 684.3,186.9 686.5,185.7 688.9,185.0 691.7,184.8 693.6,184.9 695.8,185.1 698.2,185.5 700.6,186.0 703.0,186.7 705.2,187.6 707.1,188.6 709.9,190.6 712.3,193.1 714.4,196.2 716.7,200.2 719.1,205.5 721.5,211.9 723.9,218.7 726.3,225.1 728.7,231.3 731.2,237.6 733.6,243.3 735.9,248.1 738.4,253.0 740.7,256.4 743.6,257.7 745.5,257.3 747.7,256.3 750.0,254.7 752.4,252.7 754.7,250.5 756.9,248.1 759.3,245.0 761.7,241.5 763.9,237.6 766.2,233.4 768.5,228.9 770.9,223.7 773.3,217.8 775.7,211.8 777.9,206.4 780.0,202.0 782.2,198.4 784.2,196.1 786.1,194.6 788.0,193.1 789.9,191.4 791.6,189.8 793.6,188.9 796.0,189.1 797.7,189.9 799.6,191.2 801.7,192.9 803.8,194.8 806.0,196.9 808.0,199.0 810.0,201.1 812.2,203.5 814.3,206.0 816.3,208.6 818.3,211.3 820.2,214.1 822.1,217.1 824.3,220.9 826.3,225.0 828.3,229.3 830.3,233.4 832.1,237.2 834.3,241.7 836.4,246.0 838.3,249.9 840.1,253.2 842.1,256.9 843.9,259.7 846.1,260.2 847.9,259.1 849.9,257.0 852.1,254.2 854.2,250.8 856.1,247.2 858.2,242.0 860.2,236.0 862.1,229.5 864.1,223.1 866.1,216.3 868.1,209.2 870.1,202.4 872.1,197.1 874.0,193.4 875.9,190.8 877.9,189.2 880.2,188.1 882.0,187.8 883.9,188.0 886.0,188.4 888.1,189.0 890.2,189.6 892.2,190.1 894.2,190.3 896.3,190.2 898.5,190.2 900.5,190.3 902.4,190.9 904.2,192.1 906.5,195.2 908.5,199.5 910.3,204.3 912.2,209.1 914.2,214.0 916.2,219.2 918.2,224.4 920.2,229.2 922.2,233.7 924.2,237.9 926.2,241.8 928.2,245.2 930.2,248.3 932.1,251.0 934.1,253.1 936.3,254.2 938.2,254.2 940.2,253.5 942.2,252.4 944.3,250.9 946.3,249.2 948.3,247.3 950.3,245.1 952.3,242.6 954.3,240.0 956.3,237.2 958.3,234.3 960.4,231.2 962.4,228.0 964.4,224.6 966.3,221.1 968.4,216.3 970.4,211.1 972.3,205.9 974.3,201.1 976.5,196.2 978.7,191.2 981.0,187.2 983.3,185.1 985.5,185.6 987.6,188.0 989.8,191.4 992.3,195.1 994.1,197.7 996.1,200.7 998.2,203.8 1000.3,207.1 1002.4,210.2 1004.4,213.1 1006.4,215.6 1008.5,217.9 1010.5,220.2 1012.6,222.4 1014.5,224.7 1016.4,227.2 1018.5,230.6 1020.5,234.2 1022.4,238.0 1024.4,241.7 1026.4,245.2 1028.6,248.9 1030.8,253.0 1033.1,256.8 1035.3,259.7 1037.4,261.2 1039.8,261.0 1042.1,259.0 1044.3,255.6 1046.4,251.2 1048.5,245.4 1050.5,238.0 1052.4,230.3 1054.4,223.1 1056.4,216.4 1058.3,209.8 1060.3,203.8 1062.4,199.1 1064.2,196.5 1065.9,194.7 1067.8,193.6 1069.9,192.8 1072.5,192.1 1074.2,191.8 1076.1,191.5 1078.2,191.3 1080.4,191.2 1082.6,191.2 1084.8,191.3 1086.9,191.5 1088.8,191.8 1090.5,192.1 1093.0,192.9 1095.2,193.9 1097.0,195.2 1098.8,196.9 1100.5,199.1 1102.6,202.7 1104.6,207.0 1106.5,211.9 1108.5,217.1 1110.5,223.1 1112.6,229.8 1114.6,236.2 1116.5,241.2 1118.5,245.4 1120.3,247.7 1122.5,249.2 1124.4,249.7 1126.7,249.8 1129.0,249.6 1131.1,249.3 1132.5,249.2 1132.5,292.2 1131.1,292.3 1129.0,292.6 1126.7,292.8 1124.4,292.7 1122.5,292.2 1120.3,290.7 1118.5,288.4 1116.5,284.2 1114.6,279.2 1112.6,272.8 1110.5,266.1 1108.5,260.1 1106.5,254.9 1104.6,250.0 1102.6,245.7 1100.5,242.1 1098.8,239.9 1097.0,238.2 1095.2,236.9 1093.0,235.9 1090.5,235.1 1088.8,234.8 1086.9,234.5 1084.8,234.3 1082.6,234.2 1080.4,234.2 1078.2,234.3 1076.1,234.5 1074.2,234.8 1072.5,235.1 1069.9,235.8 1067.8,236.6 1065.9,237.7 1064.2,239.5 1062.4,242.1 1060.3,246.8 1058.3,252.8 1056.4,259.4 1054.4,266.1 1052.4,273.3 1050.5,281.0 1048.5,288.4 1046.4,294.2 1044.3,298.6 1042.1,302.0 1039.8,304.0 1037.4,304.2 1035.3,302.7 1033.1,299.8 1030.8,296.0 1028.6,291.9 1026.4,288.2 1024.4,284.7 1022.4,281.0 1020.5,277.2 1018.5,273.6 1016.4,270.2 1014.5,267.7 1012.6,265.4 1010.5,263.1 1008.5,260.9 1006.4,258.6 1004.4,256.1 1002.4,253.2 1000.3,250.1 998.2,246.8 996.1,243.7 994.1,240.7 992.3,238.1 989.8,234.4 987.6,231.0 985.5,228.6 983.3,228.1 981.0,230.2 978.7,234.2 976.5,239.2 974.3,244.1 972.3,248.9 970.4,254.1 968.4,259.3 966.3,264.1 964.4,267.6 962.4,271.0 960.4,274.2 958.3,277.3 956.3,280.2 954.3,283.0 952.3,285.6 950.3,288.1 948.3,290.3 946.3,292.2 944.3,293.9 942.2,295.4 940.2,296.5 938.2,297.2 936.3,297.2 934.1,296.1 932.1,294.0 930.2,291.3 928.2,288.2 926.2,284.8 924.2,280.9 922.2,276.7 920.2,272.2 918.2,267.4 916.2,262.2 914.2,257.0 912.2,252.1 910.3,247.3 908.5,242.5 906.5,238.2 904.2,235.1 902.4,233.9 900.5,233.3 898.5,233.2 896.3,233.2 894.2,233.3 892.2,233.1 890.2,232.6 888.1,232.0 886.0,231.4 883.9,231.0 882.0,230.8 880.2,231.1 877.9,232.2 875.9,233.8 874.0,236.4 872.1,240.1 870.1,245.4 868.1,252.2 866.1,259.3 864.1,266.1 862.1,272.5 860.2,279.0 858.2,285.0 856.1,290.2 854.2,293.8 852.1,297.2 849.9,300.0 847.9,302.1 846.1,303.2 843.9,302.7 842.1,299.9 840.1,296.2 838.3,292.9 836.4,289.0 834.3,284.7 832.1,280.2 830.3,276.4 828.3,272.3 826.3,268.0 824.3,263.9 822.1,260.1 820.2,257.1 818.3,254.3 816.3,251.6 814.3,249.0 812.2,246.5 810.0,244.1 808.0,242.0 806.0,239.9 803.8,237.8 801.7,235.9 799.6,234.2 797.7,232.9 796.0,232.1 793.6,231.9 791.6,232.8 789.9,234.4 788.0,236.1 786.1,237.6 784.2,239.1 782.2,241.4 780.0,245.0 777.9,249.4 775.7,254.8 773.3,260.8 770.9,266.7 768.5,271.9 766.2,276.4 763.9,280.6 761.7,284.5 759.3,288.0 756.9,291.1 754.7,293.5 752.4,295.7 750.0,297.7 747.7,299.3 745.5,300.3 743.6,300.7 740.7,299.4 738.4,296.0 735.9,291.1 733.6,286.3 731.2,280.6 728.7,274.3 726.3,268.1 723.9,261.7 721.5,254.9 719.1,248.5 716.7,243.2 714.4,239.2 712.3,236.1 709.9,233.6 707.1,231.6 705.2,230.6 703.0,229.7 700.6,229.0 698.2,228.5 695.8,228.1 693.6,227.9 691.7,227.8 688.9,228.0 686.5,228.7 684.3,229.9 682.2,231.6 679.5,234.3 677.0,237.8 674.5,243.2 671.9,251.6 669.4,261.8 666.8,271.9 664.2,281.7 661.7,291.3 659.1,298.8 656.6,303.5 654.0,306.1 651.5,306.5 649.0,304.4 646.5,300.3 643.8,295.0 641.6,290.3 639.2,284.8 636.8,279.1 634.2,273.9 632.1,270.1 629.8,266.4 627.5,262.9 625.2,259.6 622.7,256.6 620.6,254.3 618.4,252.2 616.2,250.3 613.9,248.4 611.6,246.7 609.2,245.0 607.0,243.5 604.7,242.0 602.3,240.6 599.9,239.3 597.6,238.1 595.6,237.1 593.9,236.4 590.5,235.6 588.1,237.4 585.7,240.2 583.1,244.1 580.5,248.9 578.1,255.0 575.7,262.0 572.8,268.1 570.8,271.0 568.6,273.5 566.2,275.7 563.8,277.7 561.3,279.6 559.2,281.2 556.9,282.9 554.6,284.4 552.3,285.7 550.1,286.3 547.9,286.3 545.4,285.2 543.0,283.3 540.7,280.7 538.5,277.5 536.3,273.9 533.7,268.5 531.2,262.1 528.9,255.3 526.7,248.9 524.0,240.5 521.4,232.4 519.1,225.9 517.0,220.7 513.3,218.2 511.8,217.7 509.9,217.4 507.7,217.0 505.4,216.7 503.0,216.5 500.5,216.4 498.2,216.3 495.9,216.2 493.9,216.2 492.2,216.3 488.9,216.5 486.4,216.9 484.5,217.9 482.6,220.1 479.6,228.3 476.9,239.3 474.6,247.9 472.0,257.4 469.2,266.2 466.9,272.6 464.4,279.1 461.9,284.5 459.6,287.3 456.9,286.0 454.3,281.1 452.0,275.8 449.3,268.5 446.2,260.4 444.3,257.1 442.2,253.7 439.9,250.2 437.3,246.7 434.7,243.2 432.7,240.6 430.6,238.0 428.5,235.2 426.2,232.6 424.0,230.1 421.6,227.8 419.3,225.9 417.2,224.4 414.9,223.1 412.6,221.9 410.3,220.8 408.0,220.0 405.8,219.4 403.8,219.1 402.0,219.2 399.1,220.5 396.7,222.9 394.6,226.2 392.4,229.7 390.1,233.5 387.8,237.7 385.4,242.2 382.9,247.0 380.7,251.2 378.4,255.9 376.0,260.5 373.6,264.7 371.3,268.1 369.0,270.6 366.6,272.5 364.3,273.8 362.0,274.5 359.8,274.8 357.3,274.5 354.9,273.3 352.6,271.2 350.2,268.1 347.8,263.4 345.3,257.4 342.9,251.0 340.6,245.0 337.9,237.6 335.5,230.4 333.0,224.0 330.7,218.5 328.3,213.8 325.3,210.5 323.4,209.6 321.2,209.1 318.8,209.0 316.4,209.0 314.1,209.1 311.9,209.0 309.4,208.6 307.0,208.1 304.6,207.6 302.4,207.4 300.4,207.7 297.6,208.7 295.1,210.5 292.7,214.4 290.1,221.3 287.6,230.2 285.0,239.3 282.4,248.6 279.9,258.1 277.3,266.2 274.7,272.9 272.1,278.3 269.7,280.6 266.9,276.6 263.9,268.1 261.8,263.5 259.5,258.3 256.9,252.8 254.3,247.0 252.1,242.1 249.8,236.7 247.5,231.4 245.1,226.3 242.8,222.0 240.5,218.5 238.2,215.6 235.9,213.1 233.6,210.8 231.3,208.6 229.1,206.2 226.9,203.7 224.7,201.6 222.3,200.2 219.8,200.0 217.8,200.8 215.6,202.2 213.3,204.1 210.9,206.4 208.6,209.0 206.4,211.7 204.4,214.4 201.9,218.5 199.5,223.2 197.3,228.1 195.1,232.9 192.9,237.4 190.5,241.7 188.1,246.0 185.7,250.0 183.5,253.6 181.4,256.6 178.6,260.3 176.1,262.5 173.7,263.3 171.1,262.4 168.6,260.0 166.0,256.6 163.4,252.2 160.8,246.8 158.4,241.2 155.5,232.4 152.6,224.0 150.1,219.1 147.5,214.8 145.0,211.5 142.8,209.3 139.2,208.6 137.5,208.5 135.5,208.4 133.1,208.4 130.5,208.4 128.0,208.4 125.5,208.5 123.2,208.5 121.4,208.6 120.0,208.6"/></clipPath>
<g clip-path="url(#c_nA2)"><rect x="121" y="47.7" width="1011.5" height="300.0" filter="url(#nA2)"/></g>
<polyline points="120.0,172.6 121.4,172.6 123.2,172.5 125.5,172.5 128.0,172.4 130.5,172.4 133.1,172.4 135.5,172.4 137.5,172.5 139.2,172.6 142.8,173.3 145.0,175.5 147.5,178.8 150.1,183.1 152.6,188.0 155.5,196.4 158.4,205.2 160.8,210.8 163.4,216.2 166.0,220.6 168.6,224.0 171.1,226.4 173.7,227.3 176.1,226.5 178.6,224.3 181.4,220.6 183.5,217.6 185.7,214.0 188.1,210.0 190.5,205.7 192.9,201.4 195.1,196.9 197.3,192.1 199.5,187.2 201.9,182.5 204.4,178.4 206.4,175.7 208.6,173.0 210.9,170.4 213.3,168.1 215.6,166.2 217.8,164.8 219.8,164.0 222.3,164.2 224.7,165.6 226.9,167.7 229.1,170.2 231.3,172.6 233.6,174.8 235.9,177.1 238.2,179.6 240.5,182.5 242.8,186.0 245.1,190.3 247.5,195.4 249.8,200.7 252.1,206.1 254.3,211.0 256.9,216.8 259.5,222.3 261.8,227.5 263.9,232.1 266.9,240.6 269.7,244.6 272.1,242.3 274.7,236.9 277.3,230.2 279.9,222.1 282.4,212.6 285.0,203.3 287.6,194.2 290.1,185.3 292.7,178.4 295.1,174.5 297.6,172.7 300.4,171.7 302.4,171.4 304.6,171.6 307.0,172.1 309.4,172.6 311.9,173.0 314.1,173.1 316.4,173.0 318.8,173.0 321.2,173.1 323.4,173.6 325.3,174.5 328.3,177.8 330.7,182.5 333.0,188.0 335.5,194.4 337.9,201.6 340.6,209.0 342.9,215.0 345.3,221.4 347.8,227.4 350.2,232.1 352.6,235.2 354.9,237.3 357.3,238.5 359.8,238.8 362.0,238.5 364.3,237.8 366.6,236.5 369.0,234.6 371.3,232.1 373.6,228.7 376.0,224.5 378.4,219.9 380.7,215.2 382.9,211.0 385.4,206.2 387.8,201.7 390.1,197.5 392.4,193.7 394.6,190.2 396.7,186.9 399.1,184.5 402.0,183.2 403.8,183.1 405.8,183.4 408.0,184.0 410.3,184.8 412.6,185.9 414.9,187.1 417.2,188.4 419.3,189.9 421.6,191.8 424.0,194.1 426.2,196.6 428.5,199.2 430.6,202.0 432.7,204.6 434.7,207.2 437.3,210.7 439.9,214.2 442.2,217.7 444.3,221.1 446.2,224.4 449.3,232.5 452.0,239.8 454.3,245.1 456.9,250.0 459.6,251.3 461.9,248.5 464.4,243.2 466.9,236.6 469.2,230.2 472.0,221.4 474.6,211.9 476.9,203.3 479.6,192.3 482.6,184.1 484.5,181.9 486.4,180.9 488.9,180.5 492.2,180.3 493.9,180.2 495.9,180.2 498.2,180.3 500.5,180.4 503.0,180.5 505.4,180.7 507.7,181.0 509.9,181.4 511.8,181.7 513.3,182.2 517.0,184.7 519.1,189.9 521.4,196.4 524.0,204.5 526.7,212.9 528.9,219.3 531.2,226.1 533.7,232.5 536.3,237.9 538.5,241.5 540.7,244.7 543.0,247.3 545.4,249.2 547.9,250.3 550.1,250.3 552.3,249.7 554.6,248.4 556.9,246.9 559.2,245.2 561.3,243.6 563.8,241.7 566.2,239.7 568.6,237.5 570.8,235.0 572.8,232.1 575.7,226.0 578.1,219.0 580.5,212.9 583.1,208.1 585.7,204.2 588.1,201.4 590.5,199.6 593.9,200.4 595.6,201.1 597.6,202.1 599.9,203.3 602.3,204.6 604.7,206.0 607.0,207.5 609.2,209.0 611.6,210.7 613.9,212.4 616.2,214.3 618.4,216.2 620.6,218.3 622.7,220.6 625.2,223.6 627.5,226.9 629.8,230.4 632.1,234.1 634.2,237.9 636.8,243.1 639.2,248.8 641.6,254.3 643.8,259.0 646.5,264.3 649.0,268.4 651.5,270.5 654.0,270.1 656.6,267.5 659.1,262.8 661.7,255.3 664.2,245.7 666.8,235.9 669.4,225.8 671.9,215.6 674.5,207.2 677.0,201.8 679.5,198.3 682.2,195.6 684.3,193.9 686.5,192.7 688.9,192.0 691.7,191.8 693.6,191.9 695.8,192.1 698.2,192.5 700.6,193.0 703.0,193.7 705.2,194.6 707.1,195.6 709.9,197.6 712.3,200.1 714.4,203.2 716.7,207.2 719.1,212.5 721.5,218.9 723.9,225.7 726.3,232.1 728.7,238.3 731.2,244.6 733.6,250.3 735.9,255.1 738.4,260.0 740.7,263.4 743.6,264.7 745.5,264.3 747.7,263.3 750.0,261.7 752.4,259.7 754.7,257.5 756.9,255.1 759.3,252.0 761.7,248.5 763.9,244.6 766.2,240.4 768.5,235.9 770.9,230.7 773.3,224.8 775.7,218.8 777.9,213.4 780.0,209.0 782.2,205.4 784.2,203.1 786.1,201.6 788.0,200.1 789.9,198.4 791.6,196.8 793.6,195.9 796.0,196.1 797.7,196.9 799.6,198.2 801.7,199.9 803.8,201.8 806.0,203.9 808.0,206.0 810.0,208.1 812.2,210.5 814.3,213.0 816.3,215.6 818.3,218.3 820.2,221.1 822.1,224.1 824.3,227.9 826.3,232.0 828.3,236.3 830.3,240.4 832.1,244.2 834.3,248.7 836.4,253.0 838.3,256.9 840.1,260.2 842.1,263.9 843.9,266.7 846.1,267.2 847.9,266.1 849.9,264.0 852.1,261.2 854.2,257.8 856.1,254.2 858.2,249.0 860.2,243.0 862.1,236.5 864.1,230.1 866.1,223.3 868.1,216.2 870.1,209.4 872.1,204.1 874.0,200.4 875.9,197.8 877.9,196.2 880.2,195.1 882.0,194.8 883.9,195.0 886.0,195.4 888.1,196.0 890.2,196.6 892.2,197.1 894.2,197.3 896.3,197.2 898.5,197.2 900.5,197.3 902.4,197.9 904.2,199.1 906.5,202.2 908.5,206.5 910.3,211.3 912.2,216.1 914.2,221.0 916.2,226.2 918.2,231.4 920.2,236.2 922.2,240.7 924.2,244.9 926.2,248.8 928.2,252.2 930.2,255.3 932.1,258.0 934.1,260.1 936.3,261.2 938.2,261.2 940.2,260.5 942.2,259.4 944.3,257.9 946.3,256.2 948.3,254.3 950.3,252.1 952.3,249.6 954.3,247.0 956.3,244.2 958.3,241.3 960.4,238.2 962.4,235.0 964.4,231.6 966.3,228.1 968.4,223.3 970.4,218.1 972.3,212.9 974.3,208.1 976.5,203.2 978.7,198.2 981.0,194.2 983.3,192.1 985.5,192.6 987.6,195.0 989.8,198.4 992.3,202.1 994.1,204.7 996.1,207.7 998.2,210.8 1000.3,214.1 1002.4,217.2 1004.4,220.1 1006.4,222.6 1008.5,224.9 1010.5,227.2 1012.6,229.4 1014.5,231.7 1016.4,234.2 1018.5,237.6 1020.5,241.2 1022.4,245.0 1024.4,248.7 1026.4,252.2 1028.6,255.9 1030.8,260.0 1033.1,263.8 1035.3,266.7 1037.4,268.2 1039.8,268.0 1042.1,266.0 1044.3,262.6 1046.4,258.2 1048.5,252.4 1050.5,245.0 1052.4,237.3 1054.4,230.1 1056.4,223.4 1058.3,216.8 1060.3,210.8 1062.4,206.1 1064.2,203.5 1065.9,201.7 1067.8,200.6 1069.9,199.8 1072.5,199.1 1074.2,198.8 1076.1,198.5 1078.2,198.3 1080.4,198.2 1082.6,198.2 1084.8,198.3 1086.9,198.5 1088.8,198.8 1090.5,199.1 1093.0,199.9 1095.2,200.9 1097.0,202.2 1098.8,203.9 1100.5,206.1 1102.6,209.7 1104.6,214.0 1106.5,218.9 1108.5,224.1 1110.5,230.1 1112.6,236.8 1114.6,243.2 1116.5,248.2 1118.5,252.4 1120.3,254.7 1122.5,256.2 1124.4,256.7 1126.7,256.8 1129.0,256.6 1131.1,256.3 1132.5,256.2" fill="none" stroke="#ff1414" stroke-width="2.8" stroke-opacity="1.0" stroke-linejoin="round" stroke-dasharray="6.5 2.5 1.8 2.5" stroke-linecap="butt"/>
</g>
<g stroke="#505050" stroke-width="1.6" fill="none">
<line x1="110.5" y1="52.9" x2="121" y2="52.9"/><line x1="1132.5" y1="52.9" x2="1143.0" y2="52.9"/>
<line x1="110.5" y1="113.2" x2="121" y2="113.2"/><line x1="1132.5" y1="113.2" x2="1143.0" y2="113.2"/>
<line x1="110.5" y1="172.7" x2="121" y2="172.7"/><line x1="1132.5" y1="172.7" x2="1143.0" y2="172.7"/>
<line x1="110.5" y1="232.2" x2="121" y2="232.2"/><line x1="1132.5" y1="232.2" x2="1143.0" y2="232.2"/>
<line x1="110.5" y1="292.4" x2="121" y2="292.4"/><line x1="1132.5" y1="292.4" x2="1143.0" y2="292.4"/>
<line x1="298.8" y1="347.7" x2="298.8" y2="358.2"/><line x1="298.8" y1="37.2" x2="298.8" y2="47.7"/>
<line x1="477.2" y1="347.7" x2="477.2" y2="358.2"/><line x1="477.2" y1="37.2" x2="477.2" y2="47.7"/>
<line x1="656.5" y1="347.7" x2="656.5" y2="358.2"/><line x1="656.5" y1="37.2" x2="656.5" y2="47.7"/>
<line x1="834.8" y1="347.7" x2="834.8" y2="358.2"/><line x1="834.8" y1="37.2" x2="834.8" y2="47.7"/>
<line x1="1015.6" y1="347.7" x2="1015.6" y2="358.2"/><line x1="1015.6" y1="37.2" x2="1015.6" y2="47.7"/>
</g>
<text x="48.45" y="63.72" style="font-family:'Liberation Sans',Arial,Helvetica,sans-serif;font-size:27px;font-weight:normal" fill="#2b2b2b">100</text>
<text x="56.02" y="124.02" style="font-family:'Liberation Sans',Arial,Helvetica,sans-serif;font-size:27px;font-weight:normal" fill="#2b2b2b">50</text>
<text x="63.51" y="183.51" style="font-family:'Liberation Sans',Arial,Helvetica,sans-serif;font-size:27px;font-weight:normal" fill="#2b2b2b">0</text>
<text x="53.49" y="243.01" style="font-family:'Liberation Sans',Arial,Helvetica,sans-serif;font-size:27px;font-weight:normal" fill="#2b2b2b">-50</text>
<text x="46.00" y="303.21" style="font-family:'Liberation Sans',Arial,Helvetica,sans-serif;font-size:27px;font-weight:normal" fill="#2b2b2b">-100</text>
<text x="280.04" y="396.03" style="font-family:'Liberation Sans',Arial,Helvetica,sans-serif;font-size:27px;font-weight:normal" fill="#2b2b2b">0.5</text>
<text x="462.31" y="396.30" style="font-family:'Liberation Sans',Arial,Helvetica,sans-serif;font-size:27px;font-weight:normal" fill="#2b2b2b">1</text>
<text x="639.24" y="396.03" style="font-family:'Liberation Sans',Arial,Helvetica,sans-serif;font-size:27px;font-weight:normal" fill="#2b2b2b">1.5</text>
<text x="820.51" y="396.30" style="font-family:'Liberation Sans',Arial,Helvetica,sans-serif;font-size:27px;font-weight:normal" fill="#2b2b2b">2</text>
<text x="996.24" y="396.03" style="font-family:'Liberation Sans',Arial,Helvetica,sans-serif;font-size:27px;font-weight:normal" fill="#2b2b2b">2.5</text>
<text x="573.80" y="435.90" style="font-family:'Liberation Sans',Arial,Helvetica,sans-serif;font-size:30px" fill="#2b2b2b">Time (s)</text>
<text transform="translate(31.0,198.7) rotate(-90)" text-anchor="middle" style="font-family:'Liberation Sans',Arial,Helvetica,sans-serif;font-size:29.5px" fill="#2b2b2b">Retinal position (µm)</text>
<text x="580.60" y="36.70" style="font-family:'Liberation Sans',Arial,Helvetica,sans-serif;font-size:29px;font-weight:bold" fill="#000">subject 1</text>
<text x="12.78" y="31.93" style="font-family:'Liberation Sans',Arial,Helvetica,sans-serif;font-size:29.5px;font-weight:bold" fill="#000">A</text>
<clipPath id="clipB"><rect x="121" y="523.5" width="1011.5" height="300.20000000000005"/></clipPath>
<rect x="121" y="523.5" width="1011.5" height="300.20000000000005" fill="#000"/>
<g clip-path="url(#clipB)">
<filter id="nB0" x="0" y="0" width="100%" height="100%" color-interpolation-filters="sRGB"><feTurbulence type="fractalNoise" baseFrequency="0.3" numOctaves="1" seed="11"/><feColorMatrix type="matrix" values="0 0 0 0 1  0 0 0 0 1  0 0 0 0 1  0.72 0 0 0 -0.33"/><feGaussianBlur stdDeviation="1.0"/></filter>
<rect x="121" y="523.5" width="1011.5" height="300.20000000000005" filter="url(#nB0)"/>
<filter id="bB" x="-5%" y="-20%" width="110%" height="140%"><feGaussianBlur stdDeviation="2.0"/></filter>
<filter id="sfbB" x="0" y="0" width="100%" height="100%" color-interpolation-filters="sRGB"><feTurbulence type="fractalNoise" baseFrequency="0.42" numOctaves="1" seed="43"/><feColorMatrix type="matrix" values="2.2 0 0 0 -0.35  2.2 0 0 0 -0.35  2.2 0 0 0 -0.35  0 0 0 0 1"/><feGaussianBlur stdDeviation="0.5"/></filter>
<mask id="mbB" maskUnits="userSpaceOnUse" x="121" y="523.5" width="1011.5" height="300.20000000000005"><rect x="121" y="523.5" width="1011.5" height="300.20000000000005" filter="url(#sfbB)"/></mask>
<g mask="url(#mbB)"><g filter="url(#bB)"><polygon points="121.0,564.0 121.9,561.6 125.8,540.5 128.3,532.9 131.5,527.1 133.6,524.7 136.1,522.6 138.6,521.1 141.1,520.4 143.5,520.6 145.8,521.5 148.2,523.1 150.7,525.2 152.9,527.3 155.3,529.8 157.6,532.5 160.0,535.5 162.2,538.6 164.7,542.9 167.1,547.6 169.4,552.2 171.8,555.9 174.2,558.7 176.5,561.0 178.9,562.6 181.4,563.6 183.6,563.8 186.0,563.5 188.3,562.9 190.7,562.2 192.9,561.6 195.3,560.9 197.6,560.0 199.9,559.3 202.5,558.8 204.5,558.7 206.8,558.7 209.1,558.8 211.4,559.0 213.7,559.3 215.9,559.7 218.4,560.2 220.8,560.8 223.2,561.5 225.4,562.4 227.4,563.6 230.2,566.3 232.7,569.6 235.1,573.2 237.6,576.8 240.1,580.5 242.8,584.7 245.2,588.5 247.7,592.8 250.2,596.9 252.4,600.0 255.4,603.4 258.1,603.9 260.4,602.5 262.9,599.9 265.8,596.2 267.9,593.3 270.2,589.9 272.7,586.1 275.1,582.4 277.3,578.9 279.8,574.8 282.1,570.7 284.4,566.8 286.9,563.6 289.1,561.5 291.4,559.9 293.7,558.5 296.1,557.2 298.4,555.9 300.8,554.6 303.2,553.4 305.6,552.3 307.8,551.2 309.9,550.1 312.7,548.1 315.2,546.2 317.6,545.3 320.0,545.9 322.5,547.5 325.3,550.1 327.4,552.2 329.6,554.9 332.0,557.8 334.4,560.8 336.8,563.6 339.1,566.3 341.5,568.9 343.8,571.5 346.1,574.2 348.3,577.0 350.8,580.7 353.2,584.6 355.5,588.6 357.9,592.3 360.4,596.1 362.9,600.0 365.4,603.4 367.5,605.8 370.5,607.3 373.3,605.8 375.6,602.7 378.0,598.4 380.9,595.2 382.9,594.4 385.1,594.1 387.5,594.1 389.9,594.2 392.4,594.3 394.6,594.3 396.8,594.4 399.1,594.6 401.5,594.8 403.7,595.0 405.9,595.2 408.4,595.3 410.8,595.4 413.2,595.5 415.4,596.0 417.4,597.1 420.3,600.6 422.7,605.3 425.1,609.6 427.6,613.0 430.2,616.0 432.7,618.2 435.2,619.5 437.7,619.9 440.4,619.2 442.7,617.6 445.1,615.2 447.6,612.6 450.0,610.6 452.5,609.6 455.0,609.1 457.5,608.5 459.6,607.4 462.3,602.8 465.3,597.8 467.2,596.2 469.5,594.7 472.0,593.4 474.5,592.5 476.9,592.0 479.2,592.1 481.5,592.7 483.8,593.6 486.1,594.7 488.4,595.9 490.7,597.2 492.9,598.7 495.2,600.3 497.5,602.0 499.9,603.6 502.0,604.8 504.2,606.1 506.5,607.3 508.8,608.5 511.0,609.8 513.3,611.2 515.6,612.7 518.0,614.3 520.4,615.9 522.7,617.5 524.8,619.2 526.7,620.8 529.7,623.8 532.0,626.8 534.4,630.4 537.0,635.5 539.7,641.2 542.1,645.8 545.0,650.0 547.9,651.5 550.2,650.7 552.8,648.6 555.5,645.8 557.6,642.8 559.8,639.1 562.2,635.6 565.1,633.3 567.0,632.8 569.2,632.7 571.5,633.0 573.9,633.5 576.2,634.0 578.5,634.3 580.5,634.3 583.1,633.7 585.5,632.6 587.7,631.5 589.9,630.6 592.0,630.4 594.5,631.1 596.9,632.6 599.2,634.4 601.6,636.2 604.0,637.9 606.5,639.8 608.9,641.8 611.2,643.9 613.9,647.1 616.5,650.4 618.8,653.4 621.5,657.1 624.6,659.2 626.5,659.0 628.8,658.3 631.2,657.3 633.7,656.2 636.1,655.4 638.4,655.0 640.8,654.8 643.1,654.7 645.4,654.3 647.6,653.4 650.2,651.4 652.6,648.8 655.0,646.1 657.2,643.9 659.8,641.8 662.1,640.4 664.9,640.0 667.0,640.5 669.4,641.5 671.9,642.9 674.3,644.4 676.4,645.8 679.3,648.4 681.7,651.2 684.1,653.4 686.4,654.8 688.7,655.5 691.7,655.4 693.6,654.8 695.8,653.7 698.1,652.4 700.5,651.2 702.9,650.2 705.2,649.6 707.5,649.6 709.7,649.9 712.0,650.4 714.3,651.1 716.5,651.8 718.6,652.5 721.0,653.3 723.3,654.1 725.6,654.9 727.8,656.0 730.1,657.3 732.4,658.9 734.8,660.9 737.1,663.0 739.4,665.0 741.6,666.9 744.2,669.3 746.6,671.7 749.0,673.6 751.2,674.5 753.8,673.6 756.1,671.2 758.9,668.8 761.0,667.5 763.3,665.9 765.8,664.5 768.2,663.4 770.4,663.0 772.9,663.7 775.3,665.5 777.6,667.4 780.0,668.8 782.0,669.4 784.0,669.9 786.0,670.2 788.0,670.3 790.0,670.1 792.0,669.4 794.0,668.1 796.0,666.8 798.0,666.0 800.0,666.1 802.0,667.3 803.9,669.4 805.8,672.0 807.9,674.9 810.0,678.1 811.9,681.1 814.0,684.6 816.0,688.3 818.1,692.0 820.2,695.4 822.1,698.1 824.2,700.7 826.2,702.9 828.1,704.6 830.0,705.7 832.1,706.2 834.0,705.8 836.0,704.7 838.0,703.1 840.0,701.4 842.1,700.0 844.1,699.1 846.1,699.0 848.1,699.4 850.1,700.1 852.1,700.7 854.1,700.8 856.1,700.2 858.1,698.6 860.2,696.3 862.2,693.6 864.2,690.8 866.2,688.2 868.1,686.1 870.2,684.0 872.3,682.1 874.3,680.5 876.2,679.8 878.2,680.1 880.2,682.1 882.1,685.4 884.1,689.4 886.1,693.2 888.2,696.1 890.1,697.8 892.1,699.2 894.1,700.3 896.1,701.1 898.2,701.8 900.2,702.2 902.2,702.3 904.2,701.9 906.2,701.4 908.2,700.8 910.2,700.3 912.2,700.2 914.2,700.4 916.1,700.9 918.1,701.5 920.0,702.1 922.1,702.7 924.2,703.2 926.2,703.5 928.3,703.8 930.4,704.0 932.6,704.2 934.7,704.4 936.6,704.8 938.3,705.2 940.7,706.1 942.6,707.2 944.3,708.5 946.3,710.2 948.2,711.9 950.3,714.0 952.3,716.2 954.4,718.4 956.3,720.2 958.4,722.2 960.4,724.0 962.3,725.4 964.3,726.2 966.3,726.5 968.3,726.3 970.3,725.6 972.3,724.2 974.3,721.7 976.3,718.3 978.3,714.9 980.3,712.2 982.3,710.4 984.2,709.1 986.2,708.3 988.3,708.2 990.2,708.8 992.2,710.0 994.3,711.5 996.4,713.0 998.4,714.2 1000.4,715.0 1002.4,715.7 1004.4,716.3 1006.4,716.8 1008.4,717.2 1010.4,717.4 1012.5,717.3 1014.5,717.2 1016.5,717.5 1018.4,718.2 1020.5,720.1 1022.5,722.6 1024.4,725.5 1026.4,728.2 1028.4,730.8 1030.4,733.6 1032.4,736.1 1034.4,738.2 1036.3,739.9 1038.2,741.3 1040.1,742.2 1042.4,742.2 1044.2,741.6 1046.1,740.5 1048.1,739.1 1050.2,737.5 1052.3,735.8 1054.4,734.2 1056.4,732.6 1058.5,730.9 1060.6,729.2 1062.6,727.5 1064.6,725.8 1066.5,724.2 1068.7,722.6 1070.8,721.1 1072.9,719.7 1074.8,718.2 1076.5,716.2 1078.6,711.6 1080.4,706.4 1082.5,702.2 1084.2,700.4 1086.2,698.9 1088.3,697.8 1090.4,697.2 1092.5,697.1 1094.5,697.8 1096.5,699.2 1098.5,701.0 1100.5,702.8 1102.5,704.2 1104.5,705.2 1106.4,705.9 1108.4,706.6 1110.4,707.3 1112.5,708.2 1114.4,709.1 1116.5,710.2 1118.6,711.3 1120.7,712.4 1122.7,713.4 1124.5,714.2 1127.0,715.2 1129.2,716.0 1131.2,716.6 1132.5,717.0 1132.5,775.0 1131.2,774.6 1129.2,774.0 1127.0,773.2 1124.5,772.2 1122.7,771.4 1120.7,770.4 1118.6,769.3 1116.5,768.2 1114.4,767.1 1112.5,766.2 1110.4,765.3 1108.4,764.6 1106.4,763.9 1104.5,763.2 1102.5,762.2 1100.5,760.8 1098.5,759.0 1096.5,757.2 1094.5,755.8 1092.5,755.1 1090.4,755.2 1088.3,755.8 1086.2,756.9 1084.2,758.4 1082.5,760.2 1080.4,764.4 1078.6,769.6 1076.5,774.2 1074.8,776.2 1072.9,777.7 1070.8,779.1 1068.7,780.6 1066.5,782.2 1064.6,783.8 1062.6,785.5 1060.6,787.2 1058.5,788.9 1056.4,790.6 1054.4,792.2 1052.3,793.8 1050.2,795.5 1048.1,797.1 1046.1,798.5 1044.2,799.6 1042.4,800.2 1040.1,800.2 1038.2,799.3 1036.3,797.9 1034.4,796.2 1032.4,794.1 1030.4,791.6 1028.4,788.8 1026.4,786.2 1024.4,783.5 1022.5,780.6 1020.5,778.1 1018.4,776.2 1016.5,775.5 1014.5,775.2 1012.5,775.3 1010.4,775.4 1008.4,775.2 1006.4,774.8 1004.4,774.3 1002.4,773.7 1000.4,773.0 998.4,772.2 996.4,771.0 994.3,769.5 992.2,768.0 990.2,766.8 988.3,766.2 986.2,766.3 984.2,767.1 982.3,768.4 980.3,770.2 978.3,772.9 976.3,776.3 974.3,779.7 972.3,782.2 970.3,783.6 968.3,784.3 966.3,784.5 964.3,784.2 962.3,783.4 960.4,782.0 958.4,780.2 956.3,778.2 954.4,776.4 952.3,774.2 950.3,772.0 948.2,769.9 946.3,768.2 944.3,766.5 942.6,765.2 940.7,764.1 938.3,763.2 936.6,762.8 934.7,762.4 932.6,762.2 930.4,762.0 928.3,761.8 926.2,761.5 924.2,761.2 922.1,760.7 920.0,760.1 918.1,759.5 916.1,758.9 914.2,758.4 912.2,758.2 910.2,758.3 908.2,758.8 906.2,759.4 904.2,759.9 902.2,760.3 900.2,760.2 898.2,759.8 896.1,759.1 894.1,758.3 892.1,757.2 890.1,755.8 888.2,754.1 886.1,751.2 884.1,747.4 882.1,743.4 880.2,740.1 878.2,738.1 876.2,737.8 874.3,738.5 872.3,740.1 870.2,742.0 868.1,744.1 866.2,746.2 864.2,748.8 862.2,751.6 860.2,754.3 858.1,756.6 856.1,758.2 854.1,758.8 852.1,758.7 850.1,758.1 848.1,757.4 846.1,757.0 844.1,757.1 842.1,758.0 840.0,759.4 838.0,761.1 836.0,762.7 834.0,763.8 832.1,764.2 830.0,763.7 828.1,762.6 826.2,760.9 824.2,758.7 822.1,756.1 820.2,753.4 818.1,750.0 816.0,746.3 814.0,742.6 811.9,739.1 810.0,736.1 807.9,732.9 805.8,730.0 803.9,727.4 802.0,725.3 800.0,724.1 798.0,724.0 796.0,724.8 794.0,726.1 792.0,727.4 790.0,728.1 788.0,728.3 786.0,728.2 784.0,727.9 782.0,727.4 780.0,726.8 777.6,725.4 775.3,723.5 772.9,721.7 770.4,721.0 768.2,721.4 765.8,722.5 763.3,723.9 761.0,725.5 758.9,726.8 756.1,729.2 753.8,731.6 751.2,732.5 749.0,731.6 746.6,729.7 744.2,727.3 741.6,724.9 739.4,723.0 737.1,721.0 734.8,718.9 732.4,716.9 730.1,715.3 727.8,714.0 725.6,712.9 723.3,712.1 721.0,711.3 718.6,710.5 716.5,709.8 714.3,709.1 712.0,708.4 709.7,707.9 707.5,707.6 705.2,707.6 702.9,708.2 700.5,709.2 698.1,710.4 695.8,711.7 693.6,712.8 691.7,713.4 688.7,713.5 686.4,712.8 684.1,711.4 681.7,709.2 679.3,706.4 676.4,703.8 674.3,702.4 671.9,700.9 669.4,699.5 667.0,698.5 664.9,698.0 662.1,698.4 659.8,699.8 657.2,701.9 655.0,704.1 652.6,706.8 650.2,709.4 647.6,711.4 645.4,712.3 643.1,712.7 640.8,712.8 638.4,713.0 636.1,713.4 633.7,714.2 631.2,715.3 628.8,716.3 626.5,717.0 624.6,717.2 621.5,715.1 618.8,711.4 616.5,708.4 613.9,705.1 611.2,701.9 608.9,699.8 606.5,697.8 604.0,695.9 601.6,694.2 599.2,692.4 596.9,690.6 594.5,689.1 592.0,688.4 589.9,688.6 587.7,689.5 585.5,690.6 583.1,691.7 580.5,692.3 578.5,692.3 576.2,692.0 573.9,691.5 571.5,691.0 569.2,690.7 567.0,690.8 565.1,691.3 562.2,693.6 559.8,697.1 557.6,700.8 555.5,703.8 552.8,706.6 550.2,708.7 547.9,709.5 545.0,708.0 542.1,703.8 539.7,699.2 537.0,693.5 534.4,688.4 532.0,684.8 529.7,681.8 526.7,678.8 524.8,677.2 522.7,675.5 520.4,673.9 518.0,672.3 515.6,670.7 513.3,669.2 511.0,667.8 508.8,666.5 506.5,665.3 504.2,664.1 502.0,662.8 499.9,661.6 497.5,660.0 495.2,658.3 492.9,656.7 490.7,655.2 488.4,653.9 486.1,652.7 483.8,651.6 481.5,650.7 479.2,650.1 476.9,650.0 474.5,650.5 472.0,651.4 469.5,652.7 467.2,654.2 465.3,655.8 462.3,660.8 459.6,665.4 457.5,666.5 455.0,667.1 452.5,667.6 450.0,668.6 447.6,670.6 445.1,673.2 442.7,675.6 440.4,677.2 437.7,677.9 435.2,677.5 432.7,676.2 430.2,674.0 427.6,671.0 425.1,667.6 422.7,663.3 420.3,658.6 417.4,655.1 415.4,654.0 413.2,653.5 410.8,653.4 408.4,653.3 405.9,653.2 403.7,653.0 401.5,652.8 399.1,652.6 396.8,652.4 394.6,652.3 392.4,652.3 389.9,652.2 387.5,652.1 385.1,652.1 382.9,652.4 380.9,653.2 378.0,656.4 375.6,660.7 373.3,663.8 370.5,665.3 367.5,663.8 365.4,661.4 362.9,658.0 360.4,654.1 357.9,650.3 355.5,646.6 353.2,642.6 350.8,638.7 348.3,635.0 346.1,632.2 343.8,629.5 341.5,626.9 339.1,624.3 336.8,621.6 334.4,618.8 332.0,615.8 329.6,612.9 327.4,610.2 325.3,608.1 322.5,605.5 320.0,603.9 317.6,603.3 315.2,604.2 312.7,606.1 309.9,608.1 307.8,609.2 305.6,610.3 303.2,611.4 300.8,612.6 298.4,613.9 296.1,615.2 293.7,616.5 291.4,617.9 289.1,619.5 286.9,621.6 284.4,624.8 282.1,628.7 279.8,632.8 277.3,636.9 275.1,640.4 272.7,644.1 270.2,647.9 267.9,651.3 265.8,654.2 262.9,657.9 260.4,660.5 258.1,661.9 255.4,661.4 252.4,658.0 250.2,654.9 247.7,650.8 245.2,646.5 242.8,642.7 240.1,638.5 237.6,634.8 235.1,631.2 232.7,627.6 230.2,624.3 227.4,621.6 225.4,620.4 223.2,619.5 220.8,618.8 218.4,618.2 215.9,617.7 213.7,617.3 211.4,617.0 209.1,616.8 206.8,616.7 204.5,616.7 202.5,616.8 199.9,617.3 197.6,618.0 195.3,618.9 192.9,619.6 190.7,620.2 188.3,620.9 186.0,621.5 183.6,621.8 181.4,621.6 178.9,620.6 176.5,619.0 174.2,616.7 171.8,613.9 169.4,610.2 167.1,605.6 164.7,600.9 162.2,596.6 160.0,593.5 157.6,590.5 155.3,587.8 152.9,585.3 150.7,583.2 148.2,581.1 145.8,579.5 143.5,578.6 141.1,578.4 138.6,579.1 136.1,580.6 133.6,582.7 131.5,585.1 128.3,590.9 125.8,598.5 121.9,619.6 121.0,622.0" fill="#1e1e1e" fill-opacity="1.0"/><polyline points="121.0,568.0 121.9,565.6 125.8,544.5 128.3,536.9 131.5,531.1 133.6,528.7 136.1,526.6 138.6,525.1 141.1,524.4 143.5,524.6 145.8,525.5 148.2,527.1 150.7,529.2 152.9,531.3 155.3,533.8 157.6,536.5 160.0,539.5 162.2,542.6 164.7,546.9 167.1,551.6 169.4,556.2 171.8,559.9 174.2,562.7 176.5,565.0 178.9,566.6 181.4,567.6 183.6,567.8 186.0,567.5 188.3,566.9 190.7,566.2 192.9,565.6 195.3,564.9 197.6,564.0 199.9,563.3 202.5,562.8 204.5,562.7 206.8,562.7 209.1,562.8 211.4,563.0 213.7,563.3 215.9,563.7 218.4,564.2 220.8,564.8 223.2,565.5 225.4,566.4 227.4,567.6 230.2,570.3 232.7,573.6 235.1,577.2 237.6,580.8 240.1,584.5 242.8,588.7 245.2,592.5 247.7,596.8 250.2,600.9 252.4,604.0 255.4,607.4 258.1,607.9 260.4,606.5 262.9,603.9 265.8,600.2 267.9,597.3 270.2,593.9 272.7,590.1 275.1,586.4 277.3,582.9 279.8,578.8 282.1,574.7 284.4,570.8 286.9,567.6 289.1,565.5 291.4,563.9 293.7,562.5 296.1,561.2 298.4,559.9 300.8,558.6 303.2,557.4 305.6,556.3 307.8,555.2 309.9,554.1 312.7,552.1 315.2,550.2 317.6,549.3 320.0,549.9 322.5,551.5 325.3,554.1 327.4,556.2 329.6,558.9 332.0,561.8 334.4,564.8 336.8,567.6 339.1,570.3 341.5,572.9 343.8,575.5 346.1,578.2 348.3,581.0 350.8,584.7 353.2,588.6 355.5,592.6 357.9,596.3 360.4,600.1 362.9,604.0 365.4,607.4 367.5,609.8 370.5,611.3 373.3,609.8 375.6,606.7 378.0,602.4 380.9,599.2 382.9,598.4 385.1,598.1 387.5,598.1 389.9,598.2 392.4,598.3 394.6,598.3 396.8,598.4 399.1,598.6 401.5,598.8 403.7,599.0 405.9,599.2 408.4,599.3 410.8,599.4 413.2,599.5 415.4,600.0 417.4,601.1 420.3,604.6 422.7,609.3 425.1,613.6 427.6,617.0 430.2,620.0 432.7,622.2 435.2,623.5 437.7,623.9 440.4,623.2 442.7,621.6 445.1,619.2 447.6,616.6 450.0,614.6 452.5,613.6 455.0,613.1 457.5,612.5 459.6,611.4 462.3,606.8 465.3,601.8 467.2,600.2 469.5,598.7 472.0,597.4 474.5,596.5 476.9,596.0 479.2,596.1 481.5,596.7 483.8,597.6 486.1,598.7 488.4,599.9 490.7,601.2 492.9,602.7 495.2,604.3 497.5,606.0 499.9,607.6 502.0,608.8 504.2,610.1 506.5,611.3 508.8,612.5 511.0,613.8 513.3,615.2 515.6,616.7 518.0,618.3 520.4,619.9 522.7,621.5 524.8,623.2 526.7,624.8 529.7,627.8 532.0,630.8 534.4,634.4 537.0,639.5 539.7,645.2 542.1,649.8 545.0,654.0 547.9,655.5 550.2,654.7 552.8,652.6 555.5,649.8 557.6,646.8 559.8,643.1 562.2,639.6 565.1,637.3 567.0,636.8 569.2,636.7 571.5,637.0 573.9,637.5 576.2,638.0 578.5,638.3 580.5,638.3 583.1,637.7 585.5,636.6 587.7,635.5 589.9,634.6 592.0,634.4 594.5,635.1 596.9,636.6 599.2,638.4 601.6,640.2 604.0,641.9 606.5,643.8 608.9,645.8 611.2,647.9 613.9,651.1 616.5,654.4 618.8,657.4 621.5,661.1 624.6,663.2 626.5,663.0 628.8,662.3 631.2,661.3 633.7,660.2 636.1,659.4 638.4,659.0 640.8,658.8 643.1,658.7 645.4,658.3 647.6,657.4 650.2,655.4 652.6,652.8 655.0,650.1 657.2,647.9 659.8,645.8 662.1,644.4 664.9,644.0 667.0,644.5 669.4,645.5 671.9,646.9 674.3,648.4 676.4,649.8 679.3,652.4 681.7,655.2 684.1,657.4 686.4,658.8 688.7,659.5 691.7,659.4 693.6,658.8 695.8,657.7 698.1,656.4 700.5,655.2 702.9,654.2 705.2,653.6 707.5,653.6 709.7,653.9 712.0,654.4 714.3,655.1 716.5,655.8 718.6,656.5 721.0,657.3 723.3,658.1 725.6,658.9 727.8,660.0 730.1,661.3 732.4,662.9 734.8,664.9 737.1,667.0 739.4,669.0 741.6,670.9 744.2,673.3 746.6,675.7 749.0,677.6 751.2,678.5 753.8,677.6 756.1,675.2 758.9,672.8 761.0,671.5 763.3,669.9 765.8,668.5 768.2,667.4 770.4,667.0 772.9,667.7 775.3,669.5 777.6,671.4 780.0,672.8 782.0,673.4 784.0,673.9 786.0,674.2 788.0,674.3 790.0,674.1 792.0,673.4 794.0,672.1 796.0,670.8 798.0,670.0 800.0,670.1 802.0,671.3 803.9,673.4 805.8,676.0 807.9,678.9 810.0,682.1 811.9,685.1 814.0,688.6 816.0,692.3 818.1,696.0 820.2,699.4 822.1,702.1 824.2,704.7 826.2,706.9 828.1,708.6 830.0,709.7 832.1,710.2 834.0,709.8 836.0,708.7 838.0,707.1 840.0,705.4 842.1,704.0 844.1,703.1 846.1,703.0 848.1,703.4 850.1,704.1 852.1,704.7 854.1,704.8 856.1,704.2 858.1,702.6 860.2,700.3 862.2,697.6 864.2,694.8 866.2,692.2 868.1,690.1 870.2,688.0 872.3,686.1 874.3,684.5 876.2,683.8 878.2,684.1 880.2,686.1 882.1,689.4 884.1,693.4 886.1,697.2 888.2,700.1 890.1,701.8 892.1,703.2 894.1,704.3 896.1,705.1 898.2,705.8 900.2,706.2 902.2,706.3 904.2,705.9 906.2,705.4 908.2,704.8 910.2,704.3 912.2,704.2 914.2,704.4 916.1,704.9 918.1,705.5 920.0,706.1 922.1,706.7 924.2,707.2 926.2,707.5 928.3,707.8 930.4,708.0 932.6,708.2 934.7,708.4 936.6,708.8 938.3,709.2 940.7,710.1 942.6,711.2 944.3,712.5 946.3,714.2 948.2,715.9 950.3,718.0 952.3,720.2 954.4,722.4 956.3,724.2 958.4,726.2 960.4,728.0 962.3,729.4 964.3,730.2 966.3,730.5 968.3,730.3 970.3,729.6 972.3,728.2 974.3,725.7 976.3,722.3 978.3,718.9 980.3,716.2 982.3,714.4 984.2,713.1 986.2,712.3 988.3,712.2 990.2,712.8 992.2,714.0 994.3,715.5 996.4,717.0 998.4,718.2 1000.4,719.0 1002.4,719.7 1004.4,720.3 1006.4,720.8 1008.4,721.2 1010.4,721.4 1012.5,721.3 1014.5,721.2 1016.5,721.5 1018.4,722.2 1020.5,724.1 1022.5,726.6 1024.4,729.5 1026.4,732.2 1028.4,734.8 1030.4,737.6 1032.4,740.1 1034.4,742.2 1036.3,743.9 1038.2,745.3 1040.1,746.2 1042.4,746.2 1044.2,745.6 1046.1,744.5 1048.1,743.1 1050.2,741.5 1052.3,739.8 1054.4,738.2 1056.4,736.6 1058.5,734.9 1060.6,733.2 1062.6,731.5 1064.6,729.8 1066.5,728.2 1068.7,726.6 1070.8,725.1 1072.9,723.7 1074.8,722.2 1076.5,720.2 1078.6,715.6 1080.4,710.4 1082.5,706.2 1084.2,704.4 1086.2,702.9 1088.3,701.8 1090.4,701.2 1092.5,701.1 1094.5,701.8 1096.5,703.2 1098.5,705.0 1100.5,706.8 1102.5,708.2 1104.5,709.2 1106.4,709.9 1108.4,710.6 1110.4,711.3 1112.5,712.2 1114.4,713.1 1116.5,714.2 1118.6,715.3 1120.7,716.4 1122.7,717.4 1124.5,718.2 1127.0,719.2 1129.2,720.0 1131.2,720.6 1132.5,721.0" fill="none" stroke="#585858" stroke-width="8" stroke-opacity="1.0" stroke-linejoin="round" /><polyline points="121.0,594.0 121.9,591.6 125.8,570.5 128.3,562.9 131.5,557.1 133.6,554.7 136.1,552.6 138.6,551.1 141.1,550.4 143.5,550.6 145.8,551.5 148.2,553.1 150.7,555.2 152.9,557.3 155.3,559.8 157.6,562.5 160.0,565.5 162.2,568.6 164.7,572.9 167.1,577.6 169.4,582.2 171.8,585.9 174.2,588.7 176.5,591.0 178.9,592.6 181.4,593.6 183.6,593.8 186.0,593.5 188.3,592.9 190.7,592.2 192.9,591.6 195.3,590.9 197.6,590.0 199.9,589.3 202.5,588.8 204.5,588.7 206.8,588.7 209.1,588.8 211.4,589.0 213.7,589.3 215.9,589.7 218.4,590.2 220.8,590.8 223.2,591.5 225.4,592.4 227.4,593.6 230.2,596.3 232.7,599.6 235.1,603.2 237.6,606.8 240.1,610.5 242.8,614.7 245.2,618.5 247.7,622.8 250.2,626.9 252.4,630.0 255.4,633.4 258.1,633.9 260.4,632.5 262.9,629.9 265.8,626.2 267.9,623.3 270.2,619.9 272.7,616.1 275.1,612.4 277.3,608.9 279.8,604.8 282.1,600.7 284.4,596.8 286.9,593.6 289.1,591.5 291.4,589.9 293.7,588.5 296.1,587.2 298.4,585.9 300.8,584.6 303.2,583.4 305.6,582.3 307.8,581.2 309.9,580.1 312.7,578.1 315.2,576.2 317.6,575.3 320.0,575.9 322.5,577.5 325.3,580.1 327.4,582.2 329.6,584.9 332.0,587.8 334.4,590.8 336.8,593.6 339.1,596.3 341.5,598.9 343.8,601.5 346.1,604.2 348.3,607.0 350.8,610.7 353.2,614.6 355.5,618.6 357.9,622.3 360.4,626.1 362.9,630.0 365.4,633.4 367.5,635.8 370.5,637.3 373.3,635.8 375.6,632.7 378.0,628.4 380.9,625.2 382.9,624.4 385.1,624.1 387.5,624.1 389.9,624.2 392.4,624.3 394.6,624.3 396.8,624.4 399.1,624.6 401.5,624.8 403.7,625.0 405.9,625.2 408.4,625.3 410.8,625.4 413.2,625.5 415.4,626.0 417.4,627.1 420.3,630.6 422.7,635.3 425.1,639.6 427.6,643.0 430.2,646.0 432.7,648.2 435.2,649.5 437.7,649.9 440.4,649.2 442.7,647.6 445.1,645.2 447.6,642.6 450.0,640.6 452.5,639.6 455.0,639.1 457.5,638.5 459.6,637.4 462.3,632.8 465.3,627.8 467.2,626.2 469.5,624.7 472.0,623.4 474.5,622.5 476.9,622.0 479.2,622.1 481.5,622.7 483.8,623.6 486.1,624.7 488.4,625.9 490.7,627.2 492.9,628.7 495.2,630.3 497.5,632.0 499.9,633.6 502.0,634.8 504.2,636.1 506.5,637.3 508.8,638.5 511.0,639.8 513.3,641.2 515.6,642.7 518.0,644.3 520.4,645.9 522.7,647.5 524.8,649.2 526.7,650.8 529.7,653.8 532.0,656.8 534.4,660.4 537.0,665.5 539.7,671.2 542.1,675.8 545.0,680.0 547.9,681.5 550.2,680.7 552.8,678.6 555.5,675.8 557.6,672.8 559.8,669.1 562.2,665.6 565.1,663.3 567.0,662.8 569.2,662.7 571.5,663.0 573.9,663.5 576.2,664.0 578.5,664.3 580.5,664.3 583.1,663.7 585.5,662.6 587.7,661.5 589.9,660.6 592.0,660.4 594.5,661.1 596.9,662.6 599.2,664.4 601.6,666.2 604.0,667.9 606.5,669.8 608.9,671.8 611.2,673.9 613.9,677.1 616.5,680.4 618.8,683.4 621.5,687.1 624.6,689.2 626.5,689.0 628.8,688.3 631.2,687.3 633.7,686.2 636.1,685.4 638.4,685.0 640.8,684.8 643.1,684.7 645.4,684.3 647.6,683.4 650.2,681.4 652.6,678.8 655.0,676.1 657.2,673.9 659.8,671.8 662.1,670.4 664.9,670.0 667.0,670.5 669.4,671.5 671.9,672.9 674.3,674.4 676.4,675.8 679.3,678.4 681.7,681.2 684.1,683.4 686.4,684.8 688.7,685.5 691.7,685.4 693.6,684.8 695.8,683.7 698.1,682.4 700.5,681.2 702.9,680.2 705.2,679.6 707.5,679.6 709.7,679.9 712.0,680.4 714.3,681.1 716.5,681.8 718.6,682.5 721.0,683.3 723.3,684.1 725.6,684.9 727.8,686.0 730.1,687.3 732.4,688.9 734.8,690.9 737.1,693.0 739.4,695.0 741.6,696.9 744.2,699.3 746.6,701.7 749.0,703.6 751.2,704.5 753.8,703.6 756.1,701.2 758.9,698.8 761.0,697.5 763.3,695.9 765.8,694.5 768.2,693.4 770.4,693.0 772.9,693.7 775.3,695.5 777.6,697.4 780.0,698.8 782.0,699.4 784.0,699.9 786.0,700.2 788.0,700.3 790.0,700.1 792.0,699.4 794.0,698.1 796.0,696.8 798.0,696.0 800.0,696.1 802.0,697.3 803.9,699.4 805.8,702.0 807.9,704.9 810.0,708.1 811.9,711.1 814.0,714.6 816.0,718.3 818.1,722.0 820.2,725.4 822.1,728.1 824.2,730.7 826.2,732.9 828.1,734.6 830.0,735.7 832.1,736.2 834.0,735.8 836.0,734.7 838.0,733.1 840.0,731.4 842.1,730.0 844.1,729.1 846.1,729.0 848.1,729.4 850.1,730.1 852.1,730.7 854.1,730.8 856.1,730.2 858.1,728.6 860.2,726.3 862.2,723.6 864.2,720.8 866.2,718.2 868.1,716.1 870.2,714.0 872.3,712.1 874.3,710.5 876.2,709.8 878.2,710.1 880.2,712.1 882.1,715.4 884.1,719.4 886.1,723.2 888.2,726.1 890.1,727.8 892.1,729.2 894.1,730.3 896.1,731.1 898.2,731.8 900.2,732.2 902.2,732.3 904.2,731.9 906.2,731.4 908.2,730.8 910.2,730.3 912.2,730.2 914.2,730.4 916.1,730.9 918.1,731.5 920.0,732.1 922.1,732.7 924.2,733.2 926.2,733.5 928.3,733.8 930.4,734.0 932.6,734.2 934.7,734.4 936.6,734.8 938.3,735.2 940.7,736.1 942.6,737.2 944.3,738.5 946.3,740.2 948.2,741.9 950.3,744.0 952.3,746.2 954.4,748.4 956.3,750.2 958.4,752.2 960.4,754.0 962.3,755.4 964.3,756.2 966.3,756.5 968.3,756.3 970.3,755.6 972.3,754.2 974.3,751.7 976.3,748.3 978.3,744.9 980.3,742.2 982.3,740.4 984.2,739.1 986.2,738.3 988.3,738.2 990.2,738.8 992.2,740.0 994.3,741.5 996.4,743.0 998.4,744.2 1000.4,745.0 1002.4,745.7 1004.4,746.3 1006.4,746.8 1008.4,747.2 1010.4,747.4 1012.5,747.3 1014.5,747.2 1016.5,747.5 1018.4,748.2 1020.5,750.1 1022.5,752.6 1024.4,755.5 1026.4,758.2 1028.4,760.8 1030.4,763.6 1032.4,766.1 1034.4,768.2 1036.3,769.9 1038.2,771.3 1040.1,772.2 1042.4,772.2 1044.2,771.6 1046.1,770.5 1048.1,769.1 1050.2,767.5 1052.3,765.8 1054.4,764.2 1056.4,762.6 1058.5,760.9 1060.6,759.2 1062.6,757.5 1064.6,755.8 1066.5,754.2 1068.7,752.6 1070.8,751.1 1072.9,749.7 1074.8,748.2 1076.5,746.2 1078.6,741.6 1080.4,736.4 1082.5,732.2 1084.2,730.4 1086.2,728.9 1088.3,727.8 1090.4,727.2 1092.5,727.1 1094.5,727.8 1096.5,729.2 1098.5,731.0 1100.5,732.8 1102.5,734.2 1104.5,735.2 1106.4,735.9 1108.4,736.6 1110.4,737.3 1112.5,738.2 1114.4,739.1 1116.5,740.2 1118.6,741.3 1120.7,742.4 1122.7,743.4 1124.5,744.2 1127.0,745.2 1129.2,746.0 1131.2,746.6 1132.5,747.0" fill="none" stroke="#5c5c5c" stroke-width="13" stroke-opacity="1.0" stroke-linejoin="round" /><polyline points="121.0,614.0 121.9,611.6 125.8,590.5 128.3,582.9 131.5,577.1 133.6,574.7 136.1,572.6 138.6,571.1 141.1,570.4 143.5,570.6 145.8,571.5 148.2,573.1 150.7,575.2 152.9,577.3 155.3,579.8 157.6,582.5 160.0,585.5 162.2,588.6 164.7,592.9 167.1,597.6 169.4,602.2 171.8,605.9 174.2,608.7 176.5,611.0 178.9,612.6 181.4,613.6 183.6,613.8 186.0,613.5 188.3,612.9 190.7,612.2 192.9,611.6 195.3,610.9 197.6,610.0 199.9,609.3 202.5,608.8 204.5,608.7 206.8,608.7 209.1,608.8 211.4,609.0 213.7,609.3 215.9,609.7 218.4,610.2 220.8,610.8 223.2,611.5 225.4,612.4 227.4,613.6 230.2,616.3 232.7,619.6 235.1,623.2 237.6,626.8 240.1,630.5 242.8,634.7 245.2,638.5 247.7,642.8 250.2,646.9 252.4,650.0 255.4,653.4 258.1,653.9 260.4,652.5 262.9,649.9 265.8,646.2 267.9,643.3 270.2,639.9 272.7,636.1 275.1,632.4 277.3,628.9 279.8,624.8 282.1,620.7 284.4,616.8 286.9,613.6 289.1,611.5 291.4,609.9 293.7,608.5 296.1,607.2 298.4,605.9 300.8,604.6 303.2,603.4 305.6,602.3 307.8,601.2 309.9,600.1 312.7,598.1 315.2,596.2 317.6,595.3 320.0,595.9 322.5,597.5 325.3,600.1 327.4,602.2 329.6,604.9 332.0,607.8 334.4,610.8 336.8,613.6 339.1,616.3 341.5,618.9 343.8,621.5 346.1,624.2 348.3,627.0 350.8,630.7 353.2,634.6 355.5,638.6 357.9,642.3 360.4,646.1 362.9,650.0 365.4,653.4 367.5,655.8 370.5,657.3 373.3,655.8 375.6,652.7 378.0,648.4 380.9,645.2 382.9,644.4 385.1,644.1 387.5,644.1 389.9,644.2 392.4,644.3 394.6,644.3 396.8,644.4 399.1,644.6 401.5,644.8 403.7,645.0 405.9,645.2 408.4,645.3 410.8,645.4 413.2,645.5 415.4,646.0 417.4,647.1 420.3,650.6 422.7,655.3 425.1,659.6 427.6,663.0 430.2,666.0 432.7,668.2 435.2,669.5 437.7,669.9 440.4,669.2 442.7,667.6 445.1,665.2 447.6,662.6 450.0,660.6 452.5,659.6 455.0,659.1 457.5,658.5 459.6,657.4 462.3,652.8 465.3,647.8 467.2,646.2 469.5,644.7 472.0,643.4 474.5,642.5 476.9,642.0 479.2,642.1 481.5,642.7 483.8,643.6 486.1,644.7 488.4,645.9 490.7,647.2 492.9,648.7 495.2,650.3 497.5,652.0 499.9,653.6 502.0,654.8 504.2,656.1 506.5,657.3 508.8,658.5 511.0,659.8 513.3,661.2 515.6,662.7 518.0,664.3 520.4,665.9 522.7,667.5 524.8,669.2 526.7,670.8 529.7,673.8 532.0,676.8 534.4,680.4 537.0,685.5 539.7,691.2 542.1,695.8 545.0,700.0 547.9,701.5 550.2,700.7 552.8,698.6 555.5,695.8 557.6,692.8 559.8,689.1 562.2,685.6 565.1,683.3 567.0,682.8 569.2,682.7 571.5,683.0 573.9,683.5 576.2,684.0 578.5,684.3 580.5,684.3 583.1,683.7 585.5,682.6 587.7,681.5 589.9,680.6 592.0,680.4 594.5,681.1 596.9,682.6 599.2,684.4 601.6,686.2 604.0,687.9 606.5,689.8 608.9,691.8 611.2,693.9 613.9,697.1 616.5,700.4 618.8,703.4 621.5,707.1 624.6,709.2 626.5,709.0 628.8,708.3 631.2,707.3 633.7,706.2 636.1,705.4 638.4,705.0 640.8,704.8 643.1,704.7 645.4,704.3 647.6,703.4 650.2,701.4 652.6,698.8 655.0,696.1 657.2,693.9 659.8,691.8 662.1,690.4 664.9,690.0 667.0,690.5 669.4,691.5 671.9,692.9 674.3,694.4 676.4,695.8 679.3,698.4 681.7,701.2 684.1,703.4 686.4,704.8 688.7,705.5 691.7,705.4 693.6,704.8 695.8,703.7 698.1,702.4 700.5,701.2 702.9,700.2 705.2,699.6 707.5,699.6 709.7,699.9 712.0,700.4 714.3,701.1 716.5,701.8 718.6,702.5 721.0,703.3 723.3,704.1 725.6,704.9 727.8,706.0 730.1,707.3 732.4,708.9 734.8,710.9 737.1,713.0 739.4,715.0 741.6,716.9 744.2,719.3 746.6,721.7 749.0,723.6 751.2,724.5 753.8,723.6 756.1,721.2 758.9,718.8 761.0,717.5 763.3,715.9 765.8,714.5 768.2,713.4 770.4,713.0 772.9,713.7 775.3,715.5 777.6,717.4 780.0,718.8 782.0,719.4 784.0,719.9 786.0,720.2 788.0,720.3 790.0,720.1 792.0,719.4 794.0,718.1 796.0,716.8 798.0,716.0 800.0,716.1 802.0,717.3 803.9,719.4 805.8,722.0 807.9,724.9 810.0,728.1 811.9,731.1 814.0,734.6 816.0,738.3 818.1,742.0 820.2,745.4 822.1,748.1 824.2,750.7 826.2,752.9 828.1,754.6 830.0,755.7 832.1,756.2 834.0,755.8 836.0,754.7 838.0,753.1 840.0,751.4 842.1,750.0 844.1,749.1 846.1,749.0 848.1,749.4 850.1,750.1 852.1,750.7 854.1,750.8 856.1,750.2 858.1,748.6 860.2,746.3 862.2,743.6 864.2,740.8 866.2,738.2 868.1,736.1 870.2,734.0 872.3,732.1 874.3,730.5 876.2,729.8 878.2,730.1 880.2,732.1 882.1,735.4 884.1,739.4 886.1,743.2 888.2,746.1 890.1,747.8 892.1,749.2 894.1,750.3 896.1,751.1 898.2,751.8 900.2,752.2 902.2,752.3 904.2,751.9 906.2,751.4 908.2,750.8 910.2,750.3 912.2,750.2 914.2,750.4 916.1,750.9 918.1,751.5 920.0,752.1 922.1,752.7 924.2,753.2 926.2,753.5 928.3,753.8 930.4,754.0 932.6,754.2 934.7,754.4 936.6,754.8 938.3,755.2 940.7,756.1 942.6,757.2 944.3,758.5 946.3,760.2 948.2,761.9 950.3,764.0 952.3,766.2 954.4,768.4 956.3,770.2 958.4,772.2 960.4,774.0 962.3,775.4 964.3,776.2 966.3,776.5 968.3,776.3 970.3,775.6 972.3,774.2 974.3,771.7 976.3,768.3 978.3,764.9 980.3,762.2 982.3,760.4 984.2,759.1 986.2,758.3 988.3,758.2 990.2,758.8 992.2,760.0 994.3,761.5 996.4,763.0 998.4,764.2 1000.4,765.0 1002.4,765.7 1004.4,766.3 1006.4,766.8 1008.4,767.2 1010.4,767.4 1012.5,767.3 1014.5,767.2 1016.5,767.5 1018.4,768.2 1020.5,770.1 1022.5,772.6 1024.4,775.5 1026.4,778.2 1028.4,780.8 1030.4,783.6 1032.4,786.1 1034.4,788.2 1036.3,789.9 1038.2,791.3 1040.1,792.2 1042.4,792.2 1044.2,791.6 1046.1,790.5 1048.1,789.1 1050.2,787.5 1052.3,785.8 1054.4,784.2 1056.4,782.6 1058.5,780.9 1060.6,779.2 1062.6,777.5 1064.6,775.8 1066.5,774.2 1068.7,772.6 1070.8,771.1 1072.9,769.7 1074.8,768.2 1076.5,766.2 1078.6,761.6 1080.4,756.4 1082.5,752.2 1084.2,750.4 1086.2,748.9 1088.3,747.8 1090.4,747.2 1092.5,747.1 1094.5,747.8 1096.5,749.2 1098.5,751.0 1100.5,752.8 1102.5,754.2 1104.5,755.2 1106.4,755.9 1108.4,756.6 1110.4,757.3 1112.5,758.2 1114.4,759.1 1116.5,760.2 1118.6,761.3 1120.7,762.4 1122.7,763.4 1124.5,764.2 1127.0,765.2 1129.2,766.0 1131.2,766.6 1132.5,767.0" fill="none" stroke="#3a3a3a" stroke-width="10" stroke-opacity="1.0" stroke-linejoin="round" /><polyline points="121.0,578.5 121.9,576.1 125.8,555.0 128.3,547.4 131.5,541.6 133.6,539.2 136.1,537.1 138.6,535.6 141.1,534.9 143.5,535.1 145.8,536.0 148.2,537.6 150.7,539.7 152.9,541.8 155.3,544.3 157.6,547.0 160.0,550.0 162.2,553.1 164.7,557.4 167.1,562.1 169.4,566.7 171.8,570.4 174.2,573.2 176.5,575.5 178.9,577.1 181.4,578.1 183.6,578.3 186.0,578.0 188.3,577.4 190.7,576.7 192.9,576.1 195.3,575.4 197.6,574.5 199.9,573.8 202.5,573.3 204.5,573.2 206.8,573.2 209.1,573.3 211.4,573.5 213.7,573.8 215.9,574.2 218.4,574.7 220.8,575.3 223.2,576.0 225.4,576.9 227.4,578.1 230.2,580.8 232.7,584.1 235.1,587.7 237.6,591.3 240.1,595.0 242.8,599.2 245.2,603.0 247.7,607.3 250.2,611.4 252.4,614.5 255.4,617.9 258.1,618.4 260.4,617.0 262.9,614.4 265.8,610.7 267.9,607.8 270.2,604.4 272.7,600.6 275.1,596.9 277.3,593.4 279.8,589.3 282.1,585.2 284.4,581.3 286.9,578.1 289.1,576.0 291.4,574.4 293.7,573.0 296.1,571.7 298.4,570.4 300.8,569.1 303.2,567.9 305.6,566.8 307.8,565.7 309.9,564.6 312.7,562.6 315.2,560.7 317.6,559.8 320.0,560.4 322.5,562.0 325.3,564.6 327.4,566.7 329.6,569.4 332.0,572.3 334.4,575.3 336.8,578.1 339.1,580.8 341.5,583.4 343.8,586.0 346.1,588.7 348.3,591.5 350.8,595.2 353.2,599.1 355.5,603.1 357.9,606.8 360.4,610.6 362.9,614.5 365.4,617.9 367.5,620.3 370.5,621.8 373.3,620.3 375.6,617.2 378.0,612.9 380.9,609.7 382.9,608.9 385.1,608.6 387.5,608.6 389.9,608.7 392.4,608.8 394.6,608.8 396.8,608.9 399.1,609.1 401.5,609.3 403.7,609.5 405.9,609.7 408.4,609.8 410.8,609.9 413.2,610.0 415.4,610.5 417.4,611.6 420.3,615.1 422.7,619.8 425.1,624.1 427.6,627.5 430.2,630.5 432.7,632.7 435.2,634.0 437.7,634.4 440.4,633.7 442.7,632.1 445.1,629.7 447.6,627.1 450.0,625.1 452.5,624.1 455.0,623.6 457.5,623.0 459.6,621.9 462.3,617.3 465.3,612.3 467.2,610.7 469.5,609.2 472.0,607.9 474.5,607.0 476.9,606.5 479.2,606.6 481.5,607.2 483.8,608.1 486.1,609.2 488.4,610.4 490.7,611.7 492.9,613.2 495.2,614.8 497.5,616.5 499.9,618.1 502.0,619.3 504.2,620.6 506.5,621.8 508.8,623.0 511.0,624.3 513.3,625.7 515.6,627.2 518.0,628.8 520.4,630.4 522.7,632.0 524.8,633.7 526.7,635.3 529.7,638.3 532.0,641.3 534.4,644.9 537.0,650.0 539.7,655.7 542.1,660.3 545.0,664.5 547.9,666.0 550.2,665.2 552.8,663.1 555.5,660.3 557.6,657.3 559.8,653.6 562.2,650.1 565.1,647.8 567.0,647.3 569.2,647.2 571.5,647.5 573.9,648.0 576.2,648.5 578.5,648.8 580.5,648.8 583.1,648.2 585.5,647.1 587.7,646.0 589.9,645.1 592.0,644.9 594.5,645.6 596.9,647.1 599.2,648.9 601.6,650.7 604.0,652.4 606.5,654.3 608.9,656.3 611.2,658.4 613.9,661.6 616.5,664.9 618.8,667.9 621.5,671.6 624.6,673.7 626.5,673.5 628.8,672.8 631.2,671.8 633.7,670.7 636.1,669.9 638.4,669.5 640.8,669.3 643.1,669.2 645.4,668.8 647.6,667.9 650.2,665.9 652.6,663.3 655.0,660.6 657.2,658.4 659.8,656.3 662.1,654.9 664.9,654.5 667.0,655.0 669.4,656.0 671.9,657.4 674.3,658.9 676.4,660.3 679.3,662.9 681.7,665.7 684.1,667.9 686.4,669.3 688.7,670.0 691.7,669.9 693.6,669.3 695.8,668.2 698.1,666.9 700.5,665.7 702.9,664.7 705.2,664.1 707.5,664.1 709.7,664.4 712.0,664.9 714.3,665.6 716.5,666.3 718.6,667.0 721.0,667.8 723.3,668.6 725.6,669.4 727.8,670.5 730.1,671.8 732.4,673.4 734.8,675.4 737.1,677.5 739.4,679.5 741.6,681.4 744.2,683.8 746.6,686.2 749.0,688.1 751.2,689.0 753.8,688.1 756.1,685.7 758.9,683.3 761.0,682.0 763.3,680.4 765.8,679.0 768.2,677.9 770.4,677.5 772.9,678.2 775.3,680.0 777.6,681.9 780.0,683.3 782.0,683.9 784.0,684.4 786.0,684.7 788.0,684.8 790.0,684.6 792.0,683.9 794.0,682.6 796.0,681.3 798.0,680.5 800.0,680.6 802.0,681.8 803.9,683.9 805.8,686.5 807.9,689.4 810.0,692.6 811.9,695.6 814.0,699.1 816.0,702.8 818.1,706.5 820.2,709.9 822.1,712.6 824.2,715.2 826.2,717.4 828.1,719.1 830.0,720.2 832.1,720.7 834.0,720.3 836.0,719.2 838.0,717.6 840.0,715.9 842.1,714.5 844.1,713.6 846.1,713.5 848.1,713.9 850.1,714.6 852.1,715.2 854.1,715.3 856.1,714.7 858.1,713.1 860.2,710.8 862.2,708.1 864.2,705.3 866.2,702.7 868.1,700.6 870.2,698.5 872.3,696.6 874.3,695.0 876.2,694.3 878.2,694.6 880.2,696.6 882.1,699.9 884.1,703.9 886.1,707.7 888.2,710.6 890.1,712.3 892.1,713.7 894.1,714.8 896.1,715.6 898.2,716.3 900.2,716.7 902.2,716.8 904.2,716.4 906.2,715.9 908.2,715.3 910.2,714.8 912.2,714.7 914.2,714.9 916.1,715.4 918.1,716.0 920.0,716.6 922.1,717.2 924.2,717.7 926.2,718.0 928.3,718.3 930.4,718.5 932.6,718.7 934.7,718.9 936.6,719.3 938.3,719.7 940.7,720.6 942.6,721.7 944.3,723.0 946.3,724.7 948.2,726.4 950.3,728.5 952.3,730.7 954.4,732.9 956.3,734.7 958.4,736.7 960.4,738.5 962.3,739.9 964.3,740.7 966.3,741.0 968.3,740.8 970.3,740.1 972.3,738.7 974.3,736.2 976.3,732.8 978.3,729.4 980.3,726.7 982.3,724.9 984.2,723.6 986.2,722.8 988.3,722.7 990.2,723.3 992.2,724.5 994.3,726.0 996.4,727.5 998.4,728.7 1000.4,729.5 1002.4,730.2 1004.4,730.8 1006.4,731.3 1008.4,731.7 1010.4,731.9 1012.5,731.8 1014.5,731.7 1016.5,732.0 1018.4,732.7 1020.5,734.6 1022.5,737.1 1024.4,740.0 1026.4,742.7 1028.4,745.3 1030.4,748.1 1032.4,750.6 1034.4,752.7 1036.3,754.4 1038.2,755.8 1040.1,756.7 1042.4,756.7 1044.2,756.1 1046.1,755.0 1048.1,753.6 1050.2,752.0 1052.3,750.3 1054.4,748.7 1056.4,747.1 1058.5,745.4 1060.6,743.7 1062.6,742.0 1064.6,740.3 1066.5,738.7 1068.7,737.1 1070.8,735.6 1072.9,734.2 1074.8,732.7 1076.5,730.7 1078.6,726.1 1080.4,720.9 1082.5,716.7 1084.2,714.9 1086.2,713.4 1088.3,712.3 1090.4,711.7 1092.5,711.6 1094.5,712.3 1096.5,713.7 1098.5,715.5 1100.5,717.3 1102.5,718.7 1104.5,719.7 1106.4,720.4 1108.4,721.1 1110.4,721.8 1112.5,722.7 1114.4,723.6 1116.5,724.7 1118.6,725.8 1120.7,726.9 1122.7,727.9 1124.5,728.7 1127.0,729.7 1129.2,730.5 1131.2,731.1 1132.5,731.5" fill="none" stroke="#d8d8d8" stroke-width="12" stroke-opacity="1.0" stroke-linejoin="round" /></g></g>
<filter id="nB1" x="0" y="0" width="100%" height="100%" color-interpolation-filters="sRGB"><feTurbulence type="fractalNoise" baseFrequency="0.3" numOctaves="1" seed="13"/><feColorMatrix type="matrix" values="0 0 0 0 1  0 0 0 0 1  0 0 0 0 1  1.1 0 0 0 -0.5"/><feGaussianBlur stdDeviation="0.8"/></filter>
<clipPath id="c_nB1"><polygon points="121.0,561.0 121.9,558.6 125.8,537.5 128.3,529.9 131.5,524.1 133.6,521.7 136.1,519.6 138.6,518.1 141.1,517.4 143.5,517.6 145.8,518.5 148.2,520.1 150.7,522.2 152.9,524.3 155.3,526.8 157.6,529.5 160.0,532.5 162.2,535.6 164.7,539.9 167.1,544.6 169.4,549.2 171.8,552.9 174.2,555.7 176.5,558.0 178.9,559.6 181.4,560.6 183.6,560.8 186.0,560.5 188.3,559.9 190.7,559.2 192.9,558.6 195.3,557.9 197.6,557.0 199.9,556.3 202.5,555.8 204.5,555.7 206.8,555.7 209.1,555.8 211.4,556.0 213.7,556.3 215.9,556.7 218.4,557.2 220.8,557.8 223.2,558.5 225.4,559.4 227.4,560.6 230.2,563.3 232.7,566.6 235.1,570.2 237.6,573.8 240.1,577.5 242.8,581.7 245.2,585.5 247.7,589.8 250.2,593.9 252.4,597.0 255.4,600.4 258.1,600.9 260.4,599.5 262.9,596.9 265.8,593.2 267.9,590.3 270.2,586.9 272.7,583.1 275.1,579.4 277.3,575.9 279.8,571.8 282.1,567.7 284.4,563.8 286.9,560.6 289.1,558.5 291.4,556.9 293.7,555.5 296.1,554.2 298.4,552.9 300.8,551.6 303.2,550.4 305.6,549.3 307.8,548.2 309.9,547.1 312.7,545.1 315.2,543.2 317.6,542.3 320.0,542.9 322.5,544.5 325.3,547.1 327.4,549.2 329.6,551.9 332.0,554.8 334.4,557.8 336.8,560.6 339.1,563.3 341.5,565.9 343.8,568.5 346.1,571.2 348.3,574.0 350.8,577.7 353.2,581.6 355.5,585.6 357.9,589.3 360.4,593.1 362.9,597.0 365.4,600.4 367.5,602.8 370.5,604.3 373.3,602.8 375.6,599.7 378.0,595.4 380.9,592.2 382.9,591.4 385.1,591.1 387.5,591.1 389.9,591.2 392.4,591.3 394.6,591.3 396.8,591.4 399.1,591.6 401.5,591.8 403.7,592.0 405.9,592.2 408.4,592.3 410.8,592.4 413.2,592.5 415.4,593.0 417.4,594.1 420.3,597.6 422.7,602.3 425.1,606.6 427.6,610.0 430.2,613.0 432.7,615.2 435.2,616.5 437.7,616.9 440.4,616.2 442.7,614.6 445.1,612.2 447.6,609.6 450.0,607.6 452.5,606.6 455.0,606.1 457.5,605.5 459.6,604.4 462.3,599.8 465.3,594.8 467.2,593.2 469.5,591.7 472.0,590.4 474.5,589.5 476.9,589.0 479.2,589.1 481.5,589.7 483.8,590.6 486.1,591.7 488.4,592.9 490.7,594.2 492.9,595.7 495.2,597.3 497.5,599.0 499.9,600.6 502.0,601.8 504.2,603.1 506.5,604.3 508.8,605.5 511.0,606.8 513.3,608.2 515.6,609.7 518.0,611.3 520.4,612.9 522.7,614.5 524.8,616.2 526.7,617.8 529.7,620.8 532.0,623.8 534.4,627.4 537.0,632.5 539.7,638.2 542.1,642.8 545.0,647.0 547.9,648.5 550.2,647.7 552.8,645.6 555.5,642.8 557.6,639.8 559.8,636.1 562.2,632.6 565.1,630.3 567.0,629.8 569.2,629.7 571.5,630.0 573.9,630.5 576.2,631.0 578.5,631.3 580.5,631.3 583.1,630.7 585.5,629.6 587.7,628.5 589.9,627.6 592.0,627.4 594.5,628.1 596.9,629.6 599.2,631.4 601.6,633.2 604.0,634.9 606.5,636.8 608.9,638.8 611.2,640.9 613.9,644.1 616.5,647.4 618.8,650.4 621.5,654.1 624.6,656.2 626.5,656.0 628.8,655.3 631.2,654.3 633.7,653.2 636.1,652.4 638.4,652.0 640.8,651.8 643.1,651.7 645.4,651.3 647.6,650.4 650.2,648.4 652.6,645.8 655.0,643.1 657.2,640.9 659.8,638.8 662.1,637.4 664.9,637.0 667.0,637.5 669.4,638.5 671.9,639.9 674.3,641.4 676.4,642.8 679.3,645.4 681.7,648.2 684.1,650.4 686.4,651.8 688.7,652.5 691.7,652.4 693.6,651.8 695.8,650.7 698.1,649.4 700.5,648.2 702.9,647.2 705.2,646.6 707.5,646.6 709.7,646.9 712.0,647.4 714.3,648.1 716.5,648.8 718.6,649.5 721.0,650.3 723.3,651.1 725.6,651.9 727.8,653.0 730.1,654.3 732.4,655.9 734.8,657.9 737.1,660.0 739.4,662.0 741.6,663.9 744.2,666.3 746.6,668.7 749.0,670.6 751.2,671.5 753.8,670.6 756.1,668.2 758.9,665.8 761.0,664.5 763.3,662.9 765.8,661.5 768.2,660.4 770.4,660.0 772.9,660.7 775.3,662.5 777.6,664.4 780.0,665.8 782.0,666.4 784.0,666.9 786.0,667.2 788.0,667.3 790.0,667.1 792.0,666.4 794.0,665.1 796.0,663.8 798.0,663.0 800.0,663.1 802.0,664.3 803.9,666.4 805.8,669.0 807.9,671.9 810.0,675.1 811.9,678.1 814.0,681.6 816.0,685.3 818.1,689.0 820.2,692.4 822.1,695.1 824.2,697.7 826.2,699.9 828.1,701.6 830.0,702.7 832.1,703.2 834.0,702.8 836.0,701.7 838.0,700.1 840.0,698.4 842.1,697.0 844.1,696.1 846.1,696.0 848.1,696.4 850.1,697.1 852.1,697.7 854.1,697.8 856.1,697.2 858.1,695.6 860.2,693.3 862.2,690.6 864.2,687.8 866.2,685.2 868.1,683.1 870.2,681.0 872.3,679.1 874.3,677.5 876.2,676.8 878.2,677.1 880.2,679.1 882.1,682.4 884.1,686.4 886.1,690.2 888.2,693.1 890.1,694.8 892.1,696.2 894.1,697.3 896.1,698.1 898.2,698.8 900.2,699.2 902.2,699.3 904.2,698.9 906.2,698.4 908.2,697.8 910.2,697.3 912.2,697.2 914.2,697.4 916.1,697.9 918.1,698.5 920.0,699.1 922.1,699.7 924.2,700.2 926.2,700.5 928.3,700.8 930.4,701.0 932.6,701.2 934.7,701.4 936.6,701.8 938.3,702.2 940.7,703.1 942.6,704.2 944.3,705.5 946.3,707.2 948.2,708.9 950.3,711.0 952.3,713.2 954.4,715.4 956.3,717.2 958.4,719.2 960.4,721.0 962.3,722.4 964.3,723.2 966.3,723.5 968.3,723.3 970.3,722.6 972.3,721.2 974.3,718.7 976.3,715.3 978.3,711.9 980.3,709.2 982.3,707.4 984.2,706.1 986.2,705.3 988.3,705.2 990.2,705.8 992.2,707.0 994.3,708.5 996.4,710.0 998.4,711.2 1000.4,712.0 1002.4,712.7 1004.4,713.3 1006.4,713.8 1008.4,714.2 1010.4,714.4 1012.5,714.3 1014.5,714.2 1016.5,714.5 1018.4,715.2 1020.5,717.1 1022.5,719.6 1024.4,722.5 1026.4,725.2 1028.4,727.8 1030.4,730.6 1032.4,733.1 1034.4,735.2 1036.3,736.9 1038.2,738.3 1040.1,739.2 1042.4,739.2 1044.2,738.6 1046.1,737.5 1048.1,736.1 1050.2,734.5 1052.3,732.8 1054.4,731.2 1056.4,729.6 1058.5,727.9 1060.6,726.2 1062.6,724.5 1064.6,722.8 1066.5,721.2 1068.7,719.6 1070.8,718.1 1072.9,716.7 1074.8,715.2 1076.5,713.2 1078.6,708.6 1080.4,703.4 1082.5,699.2 1084.2,697.4 1086.2,695.9 1088.3,694.8 1090.4,694.2 1092.5,694.1 1094.5,694.8 1096.5,696.2 1098.5,698.0 1100.5,699.8 1102.5,701.2 1104.5,702.2 1106.4,702.9 1108.4,703.6 1110.4,704.3 1112.5,705.2 1114.4,706.1 1116.5,707.2 1118.6,708.3 1120.7,709.4 1122.7,710.4 1124.5,711.2 1127.0,712.2 1129.2,713.0 1131.2,713.6 1132.5,714.0 1132.5,777.0 1131.2,776.6 1129.2,776.0 1127.0,775.2 1124.5,774.2 1122.7,773.4 1120.7,772.4 1118.6,771.3 1116.5,770.2 1114.4,769.1 1112.5,768.2 1110.4,767.3 1108.4,766.6 1106.4,765.9 1104.5,765.2 1102.5,764.2 1100.5,762.8 1098.5,761.0 1096.5,759.2 1094.5,757.8 1092.5,757.1 1090.4,757.2 1088.3,757.8 1086.2,758.9 1084.2,760.4 1082.5,762.2 1080.4,766.4 1078.6,771.6 1076.5,776.2 1074.8,778.2 1072.9,779.7 1070.8,781.1 1068.7,782.6 1066.5,784.2 1064.6,785.8 1062.6,787.5 1060.6,789.2 1058.5,790.9 1056.4,792.6 1054.4,794.2 1052.3,795.8 1050.2,797.5 1048.1,799.1 1046.1,800.5 1044.2,801.6 1042.4,802.2 1040.1,802.2 1038.2,801.3 1036.3,799.9 1034.4,798.2 1032.4,796.1 1030.4,793.6 1028.4,790.8 1026.4,788.2 1024.4,785.5 1022.5,782.6 1020.5,780.1 1018.4,778.2 1016.5,777.5 1014.5,777.2 1012.5,777.3 1010.4,777.4 1008.4,777.2 1006.4,776.8 1004.4,776.3 1002.4,775.7 1000.4,775.0 998.4,774.2 996.4,773.0 994.3,771.5 992.2,770.0 990.2,768.8 988.3,768.2 986.2,768.3 984.2,769.1 982.3,770.4 980.3,772.2 978.3,774.9 976.3,778.3 974.3,781.7 972.3,784.2 970.3,785.6 968.3,786.3 966.3,786.5 964.3,786.2 962.3,785.4 960.4,784.0 958.4,782.2 956.3,780.2 954.4,778.4 952.3,776.2 950.3,774.0 948.2,771.9 946.3,770.2 944.3,768.5 942.6,767.2 940.7,766.1 938.3,765.2 936.6,764.8 934.7,764.4 932.6,764.2 930.4,764.0 928.3,763.8 926.2,763.5 924.2,763.2 922.1,762.7 920.0,762.1 918.1,761.5 916.1,760.9 914.2,760.4 912.2,760.2 910.2,760.3 908.2,760.8 906.2,761.4 904.2,761.9 902.2,762.3 900.2,762.2 898.2,761.8 896.1,761.1 894.1,760.3 892.1,759.2 890.1,757.8 888.2,756.1 886.1,753.2 884.1,749.4 882.1,745.4 880.2,742.1 878.2,740.1 876.2,739.8 874.3,740.5 872.3,742.1 870.2,744.0 868.1,746.1 866.2,748.2 864.2,750.8 862.2,753.6 860.2,756.3 858.1,758.6 856.1,760.2 854.1,760.8 852.1,760.7 850.1,760.1 848.1,759.4 846.1,759.0 844.1,759.1 842.1,760.0 840.0,761.4 838.0,763.1 836.0,764.7 834.0,765.8 832.1,766.2 830.0,765.7 828.1,764.6 826.2,762.9 824.2,760.7 822.1,758.1 820.2,755.4 818.1,752.0 816.0,748.3 814.0,744.6 811.9,741.1 810.0,738.1 807.9,734.9 805.8,732.0 803.9,729.4 802.0,727.3 800.0,726.1 798.0,726.0 796.0,726.8 794.0,728.1 792.0,729.4 790.0,730.1 788.0,730.3 786.0,730.2 784.0,729.9 782.0,729.4 780.0,728.8 777.6,727.4 775.3,725.5 772.9,723.7 770.4,723.0 768.2,723.4 765.8,724.5 763.3,725.9 761.0,727.5 758.9,728.8 756.1,731.2 753.8,733.6 751.2,734.5 749.0,733.6 746.6,731.7 744.2,729.3 741.6,726.9 739.4,725.0 737.1,723.0 734.8,720.9 732.4,718.9 730.1,717.3 727.8,716.0 725.6,714.9 723.3,714.1 721.0,713.3 718.6,712.5 716.5,711.8 714.3,711.1 712.0,710.4 709.7,709.9 707.5,709.6 705.2,709.6 702.9,710.2 700.5,711.2 698.1,712.4 695.8,713.7 693.6,714.8 691.7,715.4 688.7,715.5 686.4,714.8 684.1,713.4 681.7,711.2 679.3,708.4 676.4,705.8 674.3,704.4 671.9,702.9 669.4,701.5 667.0,700.5 664.9,700.0 662.1,700.4 659.8,701.8 657.2,703.9 655.0,706.1 652.6,708.8 650.2,711.4 647.6,713.4 645.4,714.3 643.1,714.7 640.8,714.8 638.4,715.0 636.1,715.4 633.7,716.2 631.2,717.3 628.8,718.3 626.5,719.0 624.6,719.2 621.5,717.1 618.8,713.4 616.5,710.4 613.9,707.1 611.2,703.9 608.9,701.8 606.5,699.8 604.0,697.9 601.6,696.2 599.2,694.4 596.9,692.6 594.5,691.1 592.0,690.4 589.9,690.6 587.7,691.5 585.5,692.6 583.1,693.7 580.5,694.3 578.5,694.3 576.2,694.0 573.9,693.5 571.5,693.0 569.2,692.7 567.0,692.8 565.1,693.3 562.2,695.6 559.8,699.1 557.6,702.8 555.5,705.8 552.8,708.6 550.2,710.7 547.9,711.5 545.0,710.0 542.1,705.8 539.7,701.2 537.0,695.5 534.4,690.4 532.0,686.8 529.7,683.8 526.7,680.8 524.8,679.2 522.7,677.5 520.4,675.9 518.0,674.3 515.6,672.7 513.3,671.2 511.0,669.8 508.8,668.5 506.5,667.3 504.2,666.1 502.0,664.8 499.9,663.6 497.5,662.0 495.2,660.3 492.9,658.7 490.7,657.2 488.4,655.9 486.1,654.7 483.8,653.6 481.5,652.7 479.2,652.1 476.9,652.0 474.5,652.5 472.0,653.4 469.5,654.7 467.2,656.2 465.3,657.8 462.3,662.8 459.6,667.4 457.5,668.5 455.0,669.1 452.5,669.6 450.0,670.6 447.6,672.6 445.1,675.2 442.7,677.6 440.4,679.2 437.7,679.9 435.2,679.5 432.7,678.2 430.2,676.0 427.6,673.0 425.1,669.6 422.7,665.3 420.3,660.6 417.4,657.1 415.4,656.0 413.2,655.5 410.8,655.4 408.4,655.3 405.9,655.2 403.7,655.0 401.5,654.8 399.1,654.6 396.8,654.4 394.6,654.3 392.4,654.3 389.9,654.2 387.5,654.1 385.1,654.1 382.9,654.4 380.9,655.2 378.0,658.4 375.6,662.7 373.3,665.8 370.5,667.3 367.5,665.8 365.4,663.4 362.9,660.0 360.4,656.1 357.9,652.3 355.5,648.6 353.2,644.6 350.8,640.7 348.3,637.0 346.1,634.2 343.8,631.5 341.5,628.9 339.1,626.3 336.8,623.6 334.4,620.8 332.0,617.8 329.6,614.9 327.4,612.2 325.3,610.1 322.5,607.5 320.0,605.9 317.6,605.3 315.2,606.2 312.7,608.1 309.9,610.1 307.8,611.2 305.6,612.3 303.2,613.4 300.8,614.6 298.4,615.9 296.1,617.2 293.7,618.5 291.4,619.9 289.1,621.5 286.9,623.6 284.4,626.8 282.1,630.7 279.8,634.8 277.3,638.9 275.1,642.4 272.7,646.1 270.2,649.9 267.9,653.3 265.8,656.2 262.9,659.9 260.4,662.5 258.1,663.9 255.4,663.4 252.4,660.0 250.2,656.9 247.7,652.8 245.2,648.5 242.8,644.7 240.1,640.5 237.6,636.8 235.1,633.2 232.7,629.6 230.2,626.3 227.4,623.6 225.4,622.4 223.2,621.5 220.8,620.8 218.4,620.2 215.9,619.7 213.7,619.3 211.4,619.0 209.1,618.8 206.8,618.7 204.5,618.7 202.5,618.8 199.9,619.3 197.6,620.0 195.3,620.9 192.9,621.6 190.7,622.2 188.3,622.9 186.0,623.5 183.6,623.8 181.4,623.6 178.9,622.6 176.5,621.0 174.2,618.7 171.8,615.9 169.4,612.2 167.1,607.6 164.7,602.9 162.2,598.6 160.0,595.5 157.6,592.5 155.3,589.8 152.9,587.3 150.7,585.2 148.2,583.1 145.8,581.5 143.5,580.6 141.1,580.4 138.6,581.1 136.1,582.6 133.6,584.7 131.5,587.1 128.3,592.9 125.8,600.5 121.9,621.6 121.0,624.0"/></clipPath>
<g clip-path="url(#c_nB1)"><rect x="121" y="523.5" width="1011.5" height="300.20000000000005" filter="url(#nB1)"/></g>
<polyline points="121.0,578.0 121.9,575.6 125.8,554.5 128.3,546.9 131.5,541.1 133.6,538.7 136.1,536.6 138.6,535.1 141.1,534.4 143.5,534.6 145.8,535.5 148.2,537.1 150.7,539.2 152.9,541.3 155.3,543.8 157.6,546.5 160.0,549.5 162.2,552.6 164.7,556.9 167.1,561.6 169.4,566.2 171.8,569.9 174.2,572.7 176.5,575.0 178.9,576.6 181.4,577.6 183.6,577.8 186.0,577.5 188.3,576.9 190.7,576.2 192.9,575.6 195.3,574.9 197.6,574.0 199.9,573.3 202.5,572.8 204.5,572.7 206.8,572.7 209.1,572.8 211.4,573.0 213.7,573.3 215.9,573.7 218.4,574.2 220.8,574.8 223.2,575.5 225.4,576.4 227.4,577.6 230.2,580.3 232.7,583.6 235.1,587.2 237.6,590.8 240.1,594.5 242.8,598.7 245.2,602.5 247.7,606.8 250.2,610.9 252.4,614.0 255.4,617.4 258.1,617.9 260.4,616.5 262.9,613.9 265.8,610.2 267.9,607.3 270.2,603.9 272.7,600.1 275.1,596.4 277.3,592.9 279.8,588.8 282.1,584.7 284.4,580.8 286.9,577.6 289.1,575.5 291.4,573.9 293.7,572.5 296.1,571.2 298.4,569.9 300.8,568.6 303.2,567.4 305.6,566.3 307.8,565.2 309.9,564.1 312.7,562.1 315.2,560.2 317.6,559.3 320.0,559.9 322.5,561.5 325.3,564.1 327.4,566.2 329.6,568.9 332.0,571.8 334.4,574.8 336.8,577.6 339.1,580.3 341.5,582.9 343.8,585.5 346.1,588.2 348.3,591.0 350.8,594.7 353.2,598.6 355.5,602.6 357.9,606.3 360.4,610.1 362.9,614.0 365.4,617.4 367.5,619.8 370.5,621.3 373.3,619.8 375.6,616.7 378.0,612.4 380.9,609.2 382.9,608.4 385.1,608.1 387.5,608.1 389.9,608.2 392.4,608.3 394.6,608.3 396.8,608.4 399.1,608.6 401.5,608.8 403.7,609.0 405.9,609.2 408.4,609.3 410.8,609.4 413.2,609.5 415.4,610.0 417.4,611.1 420.3,614.6 422.7,619.3 425.1,623.6 427.6,627.0 430.2,630.0 432.7,632.2 435.2,633.5 437.7,633.9 440.4,633.2 442.7,631.6 445.1,629.2 447.6,626.6 450.0,624.6 452.5,623.6 455.0,623.1 457.5,622.5 459.6,621.4 462.3,616.8 465.3,611.8 467.2,610.2 469.5,608.7 472.0,607.4 474.5,606.5 476.9,606.0 479.2,606.1 481.5,606.7 483.8,607.6 486.1,608.7 488.4,609.9 490.7,611.2 492.9,612.7 495.2,614.3 497.5,616.0 499.9,617.6 502.0,618.8 504.2,620.1 506.5,621.3 508.8,622.5 511.0,623.8 513.3,625.2 515.6,626.7 518.0,628.3 520.4,629.9 522.7,631.5 524.8,633.2 526.7,634.8 529.7,637.8 532.0,640.8 534.4,644.4 537.0,649.5 539.7,655.2 542.1,659.8 545.0,664.0 547.9,665.5 550.2,664.7 552.8,662.6 555.5,659.8 557.6,656.8 559.8,653.1 562.2,649.6 565.1,647.3 567.0,646.8 569.2,646.7 571.5,647.0 573.9,647.5 576.2,648.0 578.5,648.3 580.5,648.3 583.1,647.7 585.5,646.6 587.7,645.5 589.9,644.6 592.0,644.4 594.5,645.1 596.9,646.6 599.2,648.4 601.6,650.2 604.0,651.9 606.5,653.8 608.9,655.8 611.2,657.9 613.9,661.1 616.5,664.4 618.8,667.4 621.5,671.1 624.6,673.2 626.5,673.0 628.8,672.3 631.2,671.3 633.7,670.2 636.1,669.4 638.4,669.0 640.8,668.8 643.1,668.7 645.4,668.3 647.6,667.4 650.2,665.4 652.6,662.8 655.0,660.1 657.2,657.9 659.8,655.8 662.1,654.4 664.9,654.0 667.0,654.5 669.4,655.5 671.9,656.9 674.3,658.4 676.4,659.8 679.3,662.4 681.7,665.2 684.1,667.4 686.4,668.8 688.7,669.5 691.7,669.4 693.6,668.8 695.8,667.7 698.1,666.4 700.5,665.2 702.9,664.2 705.2,663.6 707.5,663.6 709.7,663.9 712.0,664.4 714.3,665.1 716.5,665.8 718.6,666.5 721.0,667.3 723.3,668.1 725.6,668.9 727.8,670.0 730.1,671.3 732.4,672.9 734.8,674.9 737.1,677.0 739.4,679.0 741.6,680.9 744.2,683.3 746.6,685.7 749.0,687.6 751.2,688.5 753.8,687.6 756.1,685.2 758.9,682.8 761.0,681.5 763.3,679.9 765.8,678.5 768.2,677.4 770.4,677.0 772.9,677.7 775.3,679.5 777.6,681.4 780.0,682.8 782.0,683.4 784.0,683.9 786.0,684.2 788.0,684.3 790.0,684.1 792.0,683.4 794.0,682.1 796.0,680.8 798.0,680.0 800.0,680.1 802.0,681.3 803.9,683.4 805.8,686.0 807.9,688.9 810.0,692.1 811.9,695.1 814.0,698.6 816.0,702.3 818.1,706.0 820.2,709.4 822.1,712.1 824.2,714.7 826.2,716.9 828.1,718.6 830.0,719.7 832.1,720.2 834.0,719.8 836.0,718.7 838.0,717.1 840.0,715.4 842.1,714.0 844.1,713.1 846.1,713.0 848.1,713.4 850.1,714.1 852.1,714.7 854.1,714.8 856.1,714.2 858.1,712.6 860.2,710.3 862.2,707.6 864.2,704.8 866.2,702.2 868.1,700.1 870.2,698.0 872.3,696.1 874.3,694.5 876.2,693.8 878.2,694.1 880.2,696.1 882.1,699.4 884.1,703.4 886.1,707.2 888.2,710.1 890.1,711.8 892.1,713.2 894.1,714.3 896.1,715.1 898.2,715.8 900.2,716.2 902.2,716.3 904.2,715.9 906.2,715.4 908.2,714.8 910.2,714.3 912.2,714.2 914.2,714.4 916.1,714.9 918.1,715.5 920.0,716.1 922.1,716.7 924.2,717.2 926.2,717.5 928.3,717.8 930.4,718.0 932.6,718.2 934.7,718.4 936.6,718.8 938.3,719.2 940.7,720.1 942.6,721.2 944.3,722.5 946.3,724.2 948.2,725.9 950.3,728.0 952.3,730.2 954.4,732.4 956.3,734.2 958.4,736.2 960.4,738.0 962.3,739.4 964.3,740.2 966.3,740.5 968.3,740.3 970.3,739.6 972.3,738.2 974.3,735.7 976.3,732.3 978.3,728.9 980.3,726.2 982.3,724.4 984.2,723.1 986.2,722.3 988.3,722.2 990.2,722.8 992.2,724.0 994.3,725.5 996.4,727.0 998.4,728.2 1000.4,729.0 1002.4,729.7 1004.4,730.3 1006.4,730.8 1008.4,731.2 1010.4,731.4 1012.5,731.3 1014.5,731.2 1016.5,731.5 1018.4,732.2 1020.5,734.1 1022.5,736.6 1024.4,739.5 1026.4,742.2 1028.4,744.8 1030.4,747.6 1032.4,750.1 1034.4,752.2 1036.3,753.9 1038.2,755.3 1040.1,756.2 1042.4,756.2 1044.2,755.6 1046.1,754.5 1048.1,753.1 1050.2,751.5 1052.3,749.8 1054.4,748.2 1056.4,746.6 1058.5,744.9 1060.6,743.2 1062.6,741.5 1064.6,739.8 1066.5,738.2 1068.7,736.6 1070.8,735.1 1072.9,733.7 1074.8,732.2 1076.5,730.2 1078.6,725.6 1080.4,720.4 1082.5,716.2 1084.2,714.4 1086.2,712.9 1088.3,711.8 1090.4,711.2 1092.5,711.1 1094.5,711.8 1096.5,713.2 1098.5,715.0 1100.5,716.8 1102.5,718.2 1104.5,719.2 1106.4,719.9 1108.4,720.6 1110.4,721.3 1112.5,722.2 1114.4,723.1 1116.5,724.2 1118.6,725.3 1120.7,726.4 1122.7,727.4 1124.5,728.2 1127.0,729.2 1129.2,730.0 1131.2,730.6 1132.5,731.0" fill="none" stroke="#ff1414" stroke-width="2.8" stroke-opacity="1.0" stroke-linejoin="round" stroke-dasharray="6.5 2.5 1.8 2.5" stroke-linecap="butt"/>
</g>
<g stroke="#505050" stroke-width="1.6" fill="none">
<line x1="110.5" y1="579.2" x2="121" y2="579.2"/><line x1="1132.5" y1="579.2" x2="1143.0" y2="579.2"/>
<line x1="110.5" y1="639.3" x2="121" y2="639.3"/><line x1="1132.5" y1="639.3" x2="1143.0" y2="639.3"/>
<line x1="110.5" y1="698.6" x2="121" y2="698.6"/><line x1="1132.5" y1="698.6" x2="1143.0" y2="698.6"/>
<line x1="110.5" y1="758.0" x2="121" y2="758.0"/><line x1="1132.5" y1="758.0" x2="1143.0" y2="758.0"/>
<line x1="110.5" y1="818.3" x2="121" y2="818.3"/><line x1="1132.5" y1="818.3" x2="1143.0" y2="818.3"/>
<line x1="298.8" y1="823.7" x2="298.8" y2="834.2"/><line x1="298.8" y1="513.0" x2="298.8" y2="523.5"/>
<line x1="477.2" y1="823.7" x2="477.2" y2="834.2"/><line x1="477.2" y1="513.0" x2="477.2" y2="523.5"/>
<line x1="656.5" y1="823.7" x2="656.5" y2="834.2"/><line x1="656.5" y1="513.0" x2="656.5" y2="523.5"/>
<line x1="834.8" y1="823.7" x2="834.8" y2="834.2"/><line x1="834.8" y1="513.0" x2="834.8" y2="523.5"/>
<line x1="1015.6" y1="823.7" x2="1015.6" y2="834.2"/><line x1="1015.6" y1="513.0" x2="1015.6" y2="523.5"/>
</g>
<text x="63.51" y="590.02" style="font-family:'Liberation Sans',Arial,Helvetica,sans-serif;font-size:27px;font-weight:normal" fill="#2b2b2b">0</text>
<text x="53.49" y="650.12" style="font-family:'Liberation Sans',Arial,Helvetica,sans-serif;font-size:27px;font-weight:normal" fill="#2b2b2b">-50</text>
<text x="46.00" y="709.42" style="font-family:'Liberation Sans',Arial,Helvetica,sans-serif;font-size:27px;font-weight:normal" fill="#2b2b2b">-100</text>
<text x="46.00" y="768.82" style="font-family:'Liberation Sans',Arial,Helvetica,sans-serif;font-size:27px;font-weight:normal" fill="#2b2b2b">-150</text>
<text x="46.00" y="829.12" style="font-family:'Liberation Sans',Arial,Helvetica,sans-serif;font-size:27px;font-weight:normal" fill="#2b2b2b">-200</text>
<text x="280.04" y="872.03" style="font-family:'Liberation Sans',Arial,Helvetica,sans-serif;font-size:27px;font-weight:normal" fill="#2b2b2b">0.5</text>
<text x="462.31" y="872.30" style="font-family:'Liberation Sans',Arial,Helvetica,sans-serif;font-size:27px;font-weight:normal" fill="#2b2b2b">1</text>
<text x="639.24" y="872.03" style="font-family:'Liberation Sans',Arial,Helvetica,sans-serif;font-size:27px;font-weight:normal" fill="#2b2b2b">1.5</text>
<text x="820.51" y="872.30" style="font-family:'Liberation Sans',Arial,Helvetica,sans-serif;font-size:27px;font-weight:normal" fill="#2b2b2b">2</text>
<text x="996.24" y="872.03" style="font-family:'Liberation Sans',Arial,Helvetica,sans-serif;font-size:27px;font-weight:normal" fill="#2b2b2b">2.5</text>
<text x="573.80" y="911.90" style="font-family:'Liberation Sans',Arial,Helvetica,sans-serif;font-size:30px" fill="#2b2b2b">Time (s)</text>
<text transform="translate(31.0,674.6) rotate(-90)" text-anchor="middle" style="font-family:'Liberation Sans',Arial,Helvetica,sans-serif;font-size:29.5px" fill="#2b2b2b">Retinal position (µm)</text>
<text x="572.90" y="512.80" style="font-family:'Liberation Sans',Arial,Helvetica,sans-serif;font-size:29px;font-weight:bold" fill="#000">subject 12</text>
<text x="13.33" y="502.73" style="font-family:'Liberation Sans',Arial,Helvetica,sans-serif;font-size:29.5px;font-weight:bold" fill="#000">B</text>
<clipPath id="clipC"><rect x="121" y="956" width="1011.5" height="300.0999999999999"/></clipPath>
<rect x="121" y="956" width="1011.5" height="300.0999999999999" fill="#000"/>
<g clip-path="url(#clipC)">
<filter id="nC0" x="0" y="0" width="100%" height="100%" color-interpolation-filters="sRGB"><feTurbulence type="fractalNoise" baseFrequency="0.3" numOctaves="1" seed="21"/><feColorMatrix type="matrix" values="0 0 0 0 1  0 0 0 0 1  0 0 0 0 1  0.4 0 0 0 -0.21"/><feGaussianBlur stdDeviation="1.0"/></filter>
<clipPath id="c_nC0"><polygon points="120.0,955.0 120.0,995.9 121.3,996.5 123.0,997.3 125.0,998.3 127.2,999.4 129.6,1000.6 132.1,1001.6 134.6,1002.5 137.0,1003.2 139.2,1003.6 141.3,1003.7 143.4,1003.4 145.4,1003.0 147.4,1002.4 149.5,1001.8 151.6,1001.1 153.8,1000.5 156.0,1000.0 158.4,999.7 160.3,999.5 162.3,999.3 164.4,999.0 166.5,998.7 168.7,998.5 170.8,998.3 173.0,998.1 175.2,998.1 177.3,998.3 179.4,998.5 181.4,999.0 183.3,999.7 185.7,1001.2 188.1,1003.3 190.4,1005.8 192.6,1008.6 194.8,1011.4 196.9,1014.1 198.9,1016.3 200.7,1018.0 202.5,1018.9 205.2,1018.0 207.3,1014.9 209.2,1011.0 211.3,1008.0 214.0,1007.4 215.8,1008.8 217.7,1011.3 219.8,1014.6 221.9,1018.4 224.1,1022.2 226.4,1025.7 228.7,1028.5 230.9,1030.2 233.2,1030.4 235.2,1029.2 237.3,1027.1 239.3,1024.0 241.4,1020.4 243.5,1016.3 245.6,1011.9 247.8,1007.5 249.9,1003.2 252.1,999.3 254.3,995.9 256.3,993.0 258.5,990.0 260.6,986.9 262.8,983.8 265.1,980.8 267.3,977.9 269.4,975.3 271.5,973.1 273.6,971.2 275.5,969.8 277.3,969.0 279.9,968.9 282.1,970.2 284.2,972.3 286.2,975.2 288.2,978.4 290.4,981.5 292.7,984.4 294.7,986.6 296.8,989.0 299.0,991.6 301.3,994.2 303.6,996.9 305.8,999.4 308.0,1001.7 310.0,1003.8 311.9,1005.5 314.4,1007.7 316.6,1009.7 318.6,1011.3 320.6,1012.3 322.8,1012.3 325.3,1011.2 327.2,1009.6 329.2,1007.1 331.3,1004.1 333.5,1000.7 335.8,997.0 338.0,993.4 340.3,990.0 342.4,986.9 344.5,984.4 346.7,982.1 348.9,980.1 351.1,978.3 353.2,976.7 355.3,975.4 357.4,974.3 359.6,973.5 361.7,972.9 363.8,972.5 366.0,972.4 368.1,972.5 370.2,972.9 372.4,973.5 374.5,974.3 376.7,975.4 379.0,976.7 381.1,978.3 383.3,980.5 385.6,983.0 387.9,985.8 390.2,988.5 392.4,991.1 394.5,993.3 396.5,994.9 398.2,995.9 401.1,994.5 403.0,990.3 404.9,986.4 407.8,986.3 409.5,988.3 411.3,991.5 413.3,995.5 415.5,1000.1 417.7,1004.9 420.0,1009.5 422.3,1013.6 424.6,1016.8 427.0,1018.9 429.0,1019.8 431.1,1020.2 433.2,1020.2 435.4,1019.9 437.6,1019.2 439.9,1018.3 442.0,1017.1 444.2,1015.7 446.2,1014.2 448.2,1012.6 450.0,1011.0 452.6,1007.8 454.8,1003.8 456.9,999.1 458.9,994.3 460.9,989.7 463.0,985.7 465.3,982.5 467.2,980.6 469.2,978.9 471.3,977.5 473.4,976.4 475.5,975.5 477.7,974.9 479.9,974.6 482.2,974.5 484.5,974.8 486.5,975.4 488.6,976.3 490.8,977.6 493.0,979.1 495.3,980.7 497.5,982.5 499.8,984.3 501.9,986.0 503.9,987.6 505.8,989.0 507.6,990.1 510.3,992.0 512.4,994.0 514.2,995.8 516.0,996.9 518.2,997.0 521.0,995.9 522.7,994.6 524.6,992.7 526.6,990.3 528.7,987.6 530.8,984.6 533.1,981.5 535.3,978.4 537.6,975.4 539.8,972.7 541.9,970.3 544.0,968.4 545.9,967.1 548.3,966.2 550.6,966.0 552.9,966.3 555.0,967.0 557.1,968.0 559.2,969.3 561.2,970.6 563.2,971.8 565.1,972.9 567.4,974.1 569.6,975.4 571.7,976.8 573.7,978.4 575.8,980.1 578.0,982.1 580.5,984.4 582.4,986.5 584.4,989.1 586.4,992.1 588.5,995.3 590.7,998.4 592.9,1001.4 595.1,1003.9 597.3,1005.9 599.5,1007.1 601.6,1007.4 603.7,1006.6 605.8,1004.8 607.9,1002.3 610.0,999.2 612.2,995.8 614.3,992.1 616.4,988.3 618.5,984.7 620.6,981.4 622.7,978.6 624.8,976.0 627.0,973.4 629.2,970.7 631.3,968.0 633.5,965.5 635.6,963.2 637.8,961.2 639.8,959.5 641.8,958.3 643.8,957.5 646.1,957.4 648.4,958.0 650.5,959.3 652.6,961.0 654.7,963.0 656.8,965.1 658.9,967.2 661.0,969.0 663.1,970.9 665.2,973.2 667.3,975.7 669.4,978.1 671.5,980.4 673.7,982.4 676.0,983.7 678.3,984.4 680.3,984.3 682.3,983.7 684.4,982.7 686.6,981.5 688.7,980.0 690.9,978.4 693.1,976.8 695.2,975.3 697.3,973.9 699.4,972.9 701.7,971.9 703.9,971.0 706.2,970.0 708.5,969.2 710.7,968.4 712.8,967.8 714.9,967.4 716.8,967.1 718.6,967.1 721.5,968.1 724.1,970.1 726.4,972.5 728.4,974.3 730.1,974.8 734.0,963.3 735.4,962.4 737.1,961.4 739.0,960.3 741.1,959.2 743.4,958.2 745.7,957.3 748.1,956.7 750.5,956.3 752.8,956.3 755.0,956.6 757.0,957.5 759.3,959.5 761.6,962.6 763.9,966.5 766.1,970.8 768.2,975.3 770.3,979.6 772.4,983.4 774.3,986.3 776.2,988.2 778.9,988.8 781.3,987.6 783.7,985.3 785.9,982.6 788.0,980.3 790.0,979.0 792.1,979.0 793.8,979.8 795.5,981.0 797.4,981.9 800.0,982.0 801.6,981.5 803.4,980.6 805.3,979.5 807.3,978.1 809.4,976.8 811.6,975.6 813.8,974.5 815.9,973.8 818.0,973.6 820.1,974.0 822.1,975.0 824.0,976.6 825.9,978.6 827.8,981.0 829.7,983.5 831.7,986.3 833.7,989.0 835.7,991.6 837.9,994.0 840.1,996.1 841.9,997.6 843.7,999.2 845.5,1000.9 847.4,1002.5 849.3,1004.2 851.2,1005.7 853.2,1007.2 855.2,1008.6 857.3,1009.7 859.4,1010.7 861.6,1011.5 863.8,1011.9 866.1,1012.1 867.9,1012.0 869.7,1011.6 871.6,1010.9 873.4,1010.1 875.4,1009.1 877.3,1008.0 879.3,1006.8 881.3,1005.5 883.3,1004.2 885.3,1002.9 887.4,1001.6 889.5,1000.3 891.6,999.2 893.7,998.1 895.9,997.3 898.0,996.6 900.2,996.1 902.1,995.8 904.0,995.7 906.0,995.5 908.1,995.5 910.1,995.5 912.2,995.6 914.4,995.7 916.5,995.9 918.6,996.1 920.8,996.4 922.9,996.6 925.0,997.0 927.1,997.3 929.1,997.7 931.1,998.1 933.1,998.5 935.0,998.9 936.8,999.3 938.6,999.7 940.3,1000.1 942.8,1000.8 945.1,1001.8 947.3,1002.9 949.4,1004.1 951.4,1005.4 953.4,1006.7 955.2,1008.0 957.1,1009.2 958.9,1010.2 960.7,1011.1 962.6,1011.7 964.4,1012.1 966.3,1012.1 968.4,1011.8 970.3,1011.2 972.3,1010.3 974.2,1009.2 976.1,1007.9 978.0,1006.5 980.0,1004.9 981.9,1003.2 983.9,1001.5 986.0,999.7 988.1,997.9 990.3,996.1 992.2,994.6 994.1,992.8 996.1,990.8 998.2,988.7 1000.3,986.5 1002.4,984.3 1004.5,982.0 1006.7,979.8 1008.8,977.7 1010.9,975.8 1012.9,974.1 1014.9,972.6 1016.8,971.3 1018.7,970.5 1020.4,970.0 1022.8,970.2 1025.0,971.3 1027.0,973.1 1028.9,975.5 1030.8,978.2 1032.6,980.9 1034.4,983.5 1036.3,985.7 1038.3,987.3 1040.4,988.1 1042.3,988.2 1044.2,987.9 1046.2,987.4 1048.2,986.6 1050.3,985.6 1052.3,984.4 1054.4,983.1 1056.5,981.7 1058.5,980.3 1060.6,978.8 1062.6,977.4 1064.5,976.0 1066.6,974.4 1068.6,972.5 1070.6,970.5 1072.6,968.3 1074.5,966.1 1076.5,963.9 1078.4,961.8 1080.4,959.9 1082.4,958.3 1084.4,956.9 1086.5,956.0 1088.4,955.5 1090.4,955.2 1092.4,955.2 1094.4,955.4 1096.5,955.8 1098.5,956.3 1100.5,956.9 1102.6,957.6 1104.6,958.2 1106.6,958.9 1108.6,959.5 1110.5,960.0 1112.7,960.5 1114.9,961.2 1117.2,961.9 1119.6,962.6 1121.9,963.4 1124.1,964.1 1126.2,964.8 1128.1,965.5 1129.9,966.1 1131.3,966.6 1132.5,967.0 1133.0,955.0"/></clipPath>
<g clip-path="url(#c_nC0)"><rect x="121" y="956" width="1011.5" height="300.0999999999999" filter="url(#nC0)"/></g>
<filter id="nC2" x="0" y="0" width="100%" height="100%" color-interpolation-filters="sRGB"><feTurbulence type="fractalNoise" baseFrequency="0.3" numOctaves="1" seed="25"/><feColorMatrix type="matrix" values="0 0 0 0 1  0 0 0 0 1  0 0 0 0 1  0.5 0 0 0 -0.24"/><feGaussianBlur stdDeviation="1.0"/></filter>
<clipPath id="c_nC2"><polygon points="120.0,1258.0 120.0,1199.5 121.7,1200.4 124.2,1201.7 127.0,1203.1 129.6,1204.3 132.0,1205.5 134.3,1206.8 136.7,1207.8 139.2,1208.2 141.3,1207.8 143.3,1206.9 145.5,1205.7 147.9,1204.8 150.7,1204.3 152.5,1204.4 154.6,1204.6 156.7,1205.0 159.0,1205.5 161.3,1206.1 163.6,1206.6 165.9,1206.9 168.0,1207.2 169.9,1207.2 172.5,1206.7 174.9,1205.6 177.2,1204.4 179.3,1203.2 181.4,1202.5 183.3,1202.4 186.0,1203.8 188.3,1206.2 190.6,1209.2 192.9,1212.0 195.2,1215.1 197.5,1218.7 199.8,1221.6 202.5,1222.6 204.6,1221.4 206.8,1218.9 209.2,1215.7 211.6,1212.6 213.8,1210.1 215.9,1209.1 218.6,1210.4 221.1,1213.8 223.3,1218.0 225.5,1221.6 228.1,1226.3 230.4,1230.9 233.2,1232.2 235.2,1230.4 237.4,1226.9 239.8,1222.5 242.2,1218.0 244.7,1213.9 246.8,1210.9 249.1,1208.0 251.4,1205.1 253.7,1202.3 255.9,1199.4 258.1,1196.7 260.6,1193.4 263.0,1190.0 265.3,1186.8 267.5,1183.9 269.7,1181.3 272.2,1178.5 274.6,1176.0 276.9,1174.3 279.2,1173.6 281.5,1174.2 283.9,1175.9 286.3,1178.3 288.8,1181.3 291.0,1184.2 293.3,1187.8 295.7,1191.6 298.1,1195.4 300.4,1198.6 302.7,1201.4 304.9,1203.9 307.2,1206.3 309.5,1208.3 311.9,1210.1 314.1,1211.4 316.4,1212.7 318.7,1213.8 321.0,1214.5 323.3,1215.0 325.3,1214.9 328.0,1213.9 330.3,1212.0 332.6,1209.4 334.9,1206.3 337.3,1202.5 339.7,1197.8 342.1,1193.1 344.5,1189.0 346.7,1185.5 348.7,1182.2 351.0,1179.5 354.1,1177.5 355.9,1176.9 357.9,1176.5 360.1,1176.2 362.5,1176.0 364.9,1176.0 367.3,1176.0 369.5,1176.1 371.5,1176.3 373.3,1176.5 376.3,1177.0 378.6,1177.8 380.6,1179.1 382.9,1181.3 385.0,1184.3 387.3,1188.5 389.6,1192.8 391.9,1196.5 394.4,1198.6 396.6,1198.6 398.9,1197.4 401.2,1195.4 403.5,1193.5 405.8,1192.1 407.8,1191.9 410.4,1194.0 412.7,1197.6 415.0,1202.0 417.4,1206.3 419.4,1209.9 421.4,1213.9 423.5,1217.9 426.0,1221.3 428.9,1223.5 430.7,1224.1 432.8,1224.5 435.1,1224.6 437.5,1224.5 439.9,1224.3 442.3,1223.8 444.6,1223.2 446.7,1222.5 448.5,1221.6 450.0,1220.6 453.8,1202.4 455.9,1198.5 458.5,1195.5 461.5,1192.8 463.6,1191.1 465.8,1189.5 468.2,1188.0 470.6,1186.6 473.0,1185.2 475.3,1183.7 477.5,1182.0 479.8,1180.5 482.1,1179.5 484.5,1179.4 486.7,1180.2 489.0,1181.6 491.4,1183.5 493.7,1185.6 496.0,1187.5 498.0,1189.0 500.6,1190.6 502.9,1191.8 505.2,1192.8 507.6,1193.8 509.8,1194.7 512.2,1195.6 514.5,1196.4 516.9,1196.8 519.1,1196.7 521.6,1195.7 524.0,1193.9 526.3,1191.6 528.7,1189.0 531.1,1185.9 533.4,1182.2 535.8,1178.6 538.3,1175.6 540.5,1173.7 542.8,1171.9 545.1,1170.5 547.5,1169.4 549.8,1168.8 552.1,1168.6 554.4,1168.7 556.7,1169.2 559.0,1170.2 561.3,1171.7 563.7,1174.3 566.1,1177.9 568.5,1181.7 570.7,1185.1 572.8,1187.1 575.7,1186.7 578.1,1184.2 580.5,1183.2 583.0,1185.3 585.6,1188.8 588.1,1192.8 590.7,1197.2 593.4,1202.0 595.8,1206.3 598.5,1212.3 601.6,1214.9 603.5,1213.4 605.8,1210.7 608.2,1207.2 610.7,1203.6 613.1,1200.5 615.4,1198.1 617.8,1196.0 620.1,1193.9 622.4,1191.6 624.6,1189.0 627.1,1184.9 629.5,1180.2 631.8,1175.5 634.2,1171.7 636.5,1168.5 638.8,1165.8 641.1,1163.8 643.8,1163.1 645.9,1163.5 648.1,1164.7 650.5,1166.4 652.9,1168.3 655.1,1170.1 657.2,1171.7 659.8,1173.7 662.1,1175.7 664.4,1177.6 666.8,1179.4 668.9,1180.9 671.2,1182.4 673.5,1183.8 675.8,1184.8 678.3,1185.2 680.4,1185.0 682.4,1184.3 684.5,1183.3 686.7,1182.1 689.1,1180.8 691.7,1179.4 693.6,1178.4 695.6,1177.1 697.7,1175.7 699.8,1174.3 702.0,1172.8 704.3,1171.5 706.5,1170.3 708.7,1169.4 710.9,1168.8 713.1,1168.6 715.5,1168.7 717.9,1169.1 720.3,1169.7 722.6,1170.3 724.8,1170.9 726.9,1171.4 728.6,1171.7 730.1,1171.7 734.0,1165.0 735.8,1164.5 738.1,1164.4 740.5,1164.4 743.1,1164.3 745.5,1164.0 747.9,1163.1 750.3,1161.9 752.7,1160.7 754.9,1159.7 757.0,1159.3 759.7,1159.6 762.0,1160.9 764.7,1164.0 766.8,1167.5 769.3,1172.1 771.8,1177.2 774.2,1181.8 776.2,1185.2 779.1,1188.8 781.9,1189.0 783.6,1188.3 785.5,1187.0 787.6,1185.4 789.8,1184.1 792.0,1183.4 793.8,1183.7 795.7,1184.6 797.6,1185.7 799.6,1186.8 801.7,1187.5 804.0,1187.4 805.9,1186.6 807.9,1185.2 810.0,1183.5 812.2,1181.6 814.3,1179.7 816.4,1178.1 818.4,1176.9 820.1,1176.4 822.4,1176.7 824.3,1178.0 826.1,1180.0 827.9,1182.6 830.1,1185.4 831.9,1187.8 833.8,1190.7 835.7,1193.9 837.8,1197.2 839.8,1200.4 842.0,1203.2 844.1,1205.4 846.0,1206.8 848.1,1207.9 850.2,1208.7 852.4,1209.3 854.5,1209.8 856.5,1210.2 858.4,1210.7 860.1,1211.4 862.4,1212.8 864.3,1214.5 866.1,1216.0 867.9,1217.1 870.1,1217.4 871.9,1217.0 873.9,1216.2 876.0,1215.1 878.1,1213.7 880.2,1212.2 882.3,1210.8 884.2,1209.4 886.2,1207.7 888.1,1205.8 889.8,1203.9 891.7,1202.1 893.8,1200.5 896.2,1199.4 897.9,1199.0 899.7,1198.7 901.7,1198.5 903.7,1198.5 905.8,1198.5 908.0,1198.6 910.1,1198.8 912.2,1199.0 914.2,1199.2 916.2,1199.4 918.3,1199.7 920.4,1200.1 922.4,1200.7 924.4,1201.2 926.4,1201.8 928.4,1202.4 930.4,1202.8 932.3,1203.2 934.2,1203.4 936.3,1203.4 938.5,1203.1 940.6,1202.7 942.8,1202.3 944.8,1201.8 946.7,1201.5 948.6,1201.3 950.3,1201.4 952.7,1202.1 954.8,1203.1 956.7,1204.5 958.5,1205.9 960.3,1207.4 962.3,1209.6 963.9,1212.3 965.8,1214.5 968.3,1215.4 969.9,1215.2 971.7,1214.7 973.7,1213.9 975.8,1212.9 977.9,1211.7 980.1,1210.3 982.2,1208.9 984.3,1207.4 986.3,1205.8 988.4,1203.9 990.5,1201.8 992.6,1199.7 994.7,1197.5 996.7,1195.3 998.6,1193.3 1000.4,1191.4 1002.7,1189.1 1004.8,1186.8 1006.8,1184.7 1008.7,1182.7 1010.6,1180.9 1012.4,1179.4 1014.6,1177.9 1016.6,1176.7 1018.6,1175.9 1020.6,1175.4 1022.4,1175.4 1024.5,1176.1 1026.4,1177.6 1028.3,1179.5 1030.4,1181.4 1032.1,1183.2 1033.9,1185.4 1035.7,1187.5 1037.9,1189.3 1040.4,1190.4 1042.1,1190.6 1044.0,1190.7 1046.0,1190.6 1048.2,1190.4 1050.4,1190.0 1052.5,1189.5 1054.6,1188.9 1056.6,1188.2 1058.4,1187.4 1060.8,1186.0 1062.9,1184.2 1064.8,1182.2 1066.7,1180.0 1068.6,1177.7 1070.5,1175.4 1072.5,1172.8 1074.6,1170.0 1076.6,1167.0 1078.7,1164.1 1080.6,1161.5 1082.5,1159.3 1084.5,1157.1 1086.4,1155.3 1088.2,1153.8 1090.1,1152.8 1092.5,1152.3 1094.2,1152.4 1096.2,1152.7 1098.2,1153.3 1100.4,1154.0 1102.5,1154.9 1104.6,1155.8 1106.7,1156.6 1108.5,1157.3 1110.7,1158.1 1112.8,1158.9 1114.8,1159.7 1116.6,1160.5 1118.5,1161.3 1120.5,1162.3 1122.6,1163.5 1124.9,1164.8 1127.2,1166.2 1129.4,1167.6 1131.2,1168.7 1132.5,1169.5 1133.0,1258.0"/></clipPath>
<g clip-path="url(#c_nC2)"><rect x="121" y="956" width="1011.5" height="300.0999999999999" filter="url(#nC2)"/></g>
<filter id="bC" x="-5%" y="-20%" width="110%" height="140%"><feGaussianBlur stdDeviation="2.4"/></filter>
<filter id="sfbC" x="0" y="0" width="100%" height="100%" color-interpolation-filters="sRGB"><feTurbulence type="fractalNoise" baseFrequency="0.42" numOctaves="1" seed="47"/><feColorMatrix type="matrix" values="1.6 0 0 0 0.05  1.6 0 0 0 0.05  1.6 0 0 0 0.05  0 0 0 0 1"/><feGaussianBlur stdDeviation="0.5"/></filter>
<mask id="mbC" maskUnits="userSpaceOnUse" x="121" y="956" width="1011.5" height="300.0999999999999"><rect x="121" y="956" width="1011.5" height="300.0999999999999" filter="url(#sfbC)"/></mask>
<g mask="url(#mbC)"><g filter="url(#bC)"><polygon points="120.0,1019.9 121.3,1020.5 123.0,1021.3 125.0,1022.3 127.2,1023.4 129.6,1024.6 132.1,1025.6 134.6,1026.5 137.0,1027.2 139.2,1027.6 141.3,1027.7 143.4,1027.4 145.4,1027.0 147.4,1026.4 149.5,1025.8 151.6,1025.1 153.8,1024.5 156.0,1024.0 158.4,1023.7 160.3,1023.5 162.3,1023.3 164.4,1023.0 166.5,1022.7 168.7,1022.5 170.8,1022.3 173.0,1022.1 175.2,1022.1 177.3,1022.3 179.4,1022.5 181.4,1023.0 183.3,1023.7 185.7,1025.2 188.1,1027.3 190.4,1029.8 192.6,1032.6 194.8,1035.4 196.9,1038.1 198.9,1040.3 200.7,1042.0 202.5,1042.9 205.2,1042.0 207.3,1038.9 209.2,1035.0 211.3,1032.0 214.0,1031.4 215.8,1032.8 217.7,1035.3 219.8,1038.6 221.9,1042.4 224.1,1046.2 226.4,1049.7 228.7,1052.5 230.9,1054.2 233.2,1054.4 235.2,1053.2 237.3,1051.1 239.3,1048.0 241.4,1044.4 243.5,1040.3 245.6,1035.9 247.8,1031.5 249.9,1027.2 252.1,1023.3 254.3,1019.9 256.3,1017.0 258.5,1014.0 260.6,1010.9 262.8,1007.8 265.1,1004.8 267.3,1001.9 269.4,999.3 271.5,997.1 273.6,995.2 275.5,993.8 277.3,993.0 279.9,992.9 282.1,994.2 284.2,996.3 286.2,999.2 288.2,1002.4 290.4,1005.5 292.7,1008.4 294.7,1010.6 296.8,1013.0 299.0,1015.6 301.3,1018.2 303.6,1020.9 305.8,1023.4 308.0,1025.7 310.0,1027.8 311.9,1029.5 314.4,1031.7 316.6,1033.7 318.6,1035.3 320.6,1036.3 322.8,1036.3 325.3,1035.2 327.2,1033.6 329.2,1031.1 331.3,1028.1 333.5,1024.7 335.8,1021.0 338.0,1017.4 340.3,1014.0 342.4,1010.9 344.5,1008.4 346.7,1006.1 348.9,1004.1 351.1,1002.3 353.2,1000.7 355.3,999.4 357.4,998.3 359.6,997.5 361.7,996.9 363.8,996.5 366.0,996.4 368.1,996.5 370.2,996.9 372.4,997.5 374.5,998.3 376.7,999.4 379.0,1000.7 381.1,1002.3 383.3,1004.5 385.6,1007.0 387.9,1009.8 390.2,1012.5 392.4,1015.1 394.5,1017.3 396.5,1018.9 398.2,1019.9 401.1,1018.5 403.0,1014.3 404.9,1010.4 407.8,1010.3 409.5,1012.3 411.3,1015.5 413.3,1019.5 415.5,1024.1 417.7,1028.9 420.0,1033.5 422.3,1037.6 424.6,1040.8 427.0,1042.9 429.0,1043.8 431.1,1044.2 433.2,1044.2 435.4,1043.9 437.6,1043.2 439.9,1042.3 442.0,1041.1 444.2,1039.7 446.2,1038.2 448.2,1036.6 450.0,1035.0 452.6,1031.8 454.8,1027.8 456.9,1023.1 458.9,1018.3 460.9,1013.7 463.0,1009.7 465.3,1006.5 467.2,1004.6 469.2,1002.9 471.3,1001.5 473.4,1000.4 475.5,999.5 477.7,998.9 479.9,998.6 482.2,998.5 484.5,998.8 486.5,999.4 488.6,1000.3 490.8,1001.6 493.0,1003.1 495.3,1004.7 497.5,1006.5 499.8,1008.3 501.9,1010.0 503.9,1011.6 505.8,1013.0 507.6,1014.1 510.3,1016.0 512.4,1018.0 514.2,1019.8 516.0,1020.9 518.2,1021.0 521.0,1019.9 522.7,1018.6 524.6,1016.7 526.6,1014.3 528.7,1011.6 530.8,1008.6 533.1,1005.5 535.3,1002.4 537.6,999.4 539.8,996.7 541.9,994.3 544.0,992.4 545.9,991.1 548.3,990.2 550.6,990.0 552.9,990.3 555.0,991.0 557.1,992.0 559.2,993.3 561.2,994.6 563.2,995.8 565.1,996.9 567.4,998.1 569.6,999.4 571.7,1000.8 573.7,1002.4 575.8,1004.1 578.0,1006.1 580.5,1008.4 582.4,1010.5 584.4,1013.1 586.4,1016.1 588.5,1019.3 590.7,1022.4 592.9,1025.4 595.1,1027.9 597.3,1029.9 599.5,1031.1 601.6,1031.4 603.7,1030.6 605.8,1028.8 607.9,1026.3 610.0,1023.2 612.2,1019.8 614.3,1016.1 616.4,1012.3 618.5,1008.7 620.6,1005.4 622.7,1002.6 624.8,1000.0 627.0,997.4 629.2,994.7 631.3,992.0 633.5,989.5 635.6,987.2 637.8,985.2 639.8,983.5 641.8,982.3 643.8,981.5 646.1,981.4 648.4,982.0 650.5,983.3 652.6,985.0 654.7,987.0 656.8,989.1 658.9,991.2 661.0,993.0 663.1,994.9 665.2,997.2 667.3,999.7 669.4,1002.1 671.5,1004.4 673.7,1006.4 676.0,1007.7 678.3,1008.4 680.3,1008.3 682.3,1007.7 684.4,1006.7 686.6,1005.5 688.7,1004.0 690.9,1002.4 693.1,1000.8 695.2,999.3 697.3,997.9 699.4,996.9 701.7,995.9 703.9,995.0 706.2,994.0 708.5,993.2 710.7,992.4 712.8,991.8 714.9,991.4 716.8,991.1 718.6,991.1 721.5,992.1 724.1,994.1 726.4,996.5 728.4,998.3 730.1,998.8 734.0,987.3 735.4,986.4 737.1,985.4 739.0,984.3 741.1,983.2 743.4,982.2 745.7,981.3 748.1,980.7 750.5,980.3 752.8,980.3 755.0,980.6 757.0,981.5 759.3,983.5 761.6,986.6 763.9,990.5 766.1,994.8 768.2,999.3 770.3,1003.6 772.4,1007.4 774.3,1010.3 776.2,1012.2 778.9,1012.8 781.3,1011.6 783.7,1009.3 785.9,1006.6 788.0,1004.3 790.0,1003.0 792.1,1003.0 793.8,1003.8 795.5,1005.0 797.4,1005.9 800.0,1006.0 801.6,1005.5 803.4,1004.6 805.3,1003.5 807.3,1002.1 809.4,1000.8 811.6,999.6 813.8,998.5 815.9,997.8 818.0,997.6 820.1,998.0 822.1,999.0 824.0,1000.6 825.9,1002.6 827.8,1005.0 829.7,1007.5 831.7,1010.3 833.7,1013.0 835.7,1015.6 837.9,1018.0 840.1,1020.1 841.9,1021.6 843.7,1023.2 845.5,1024.9 847.4,1026.5 849.3,1028.2 851.2,1029.7 853.2,1031.2 855.2,1032.6 857.3,1033.7 859.4,1034.7 861.6,1035.5 863.8,1035.9 866.1,1036.1 867.9,1036.0 869.7,1035.6 871.6,1034.9 873.4,1034.1 875.4,1033.1 877.3,1032.0 879.3,1030.8 881.3,1029.5 883.3,1028.2 885.3,1026.9 887.4,1025.6 889.5,1024.3 891.6,1023.2 893.7,1022.1 895.9,1021.3 898.0,1020.6 900.2,1020.1 902.1,1019.8 904.0,1019.7 906.0,1019.5 908.1,1019.5 910.1,1019.5 912.2,1019.6 914.4,1019.7 916.5,1019.9 918.6,1020.1 920.8,1020.4 922.9,1020.6 925.0,1021.0 927.1,1021.3 929.1,1021.7 931.1,1022.1 933.1,1022.5 935.0,1022.9 936.8,1023.3 938.6,1023.7 940.3,1024.1 942.8,1024.8 945.1,1025.8 947.3,1026.9 949.4,1028.1 951.4,1029.4 953.4,1030.7 955.2,1032.0 957.1,1033.2 958.9,1034.2 960.7,1035.1 962.6,1035.7 964.4,1036.1 966.3,1036.1 968.4,1035.8 970.3,1035.2 972.3,1034.3 974.2,1033.2 976.1,1031.9 978.0,1030.5 980.0,1028.9 981.9,1027.2 983.9,1025.5 986.0,1023.7 988.1,1021.9 990.3,1020.1 992.2,1018.6 994.1,1016.8 996.1,1014.8 998.2,1012.7 1000.3,1010.5 1002.4,1008.3 1004.5,1006.0 1006.7,1003.8 1008.8,1001.7 1010.9,999.8 1012.9,998.1 1014.9,996.6 1016.8,995.3 1018.7,994.5 1020.4,994.0 1022.8,994.2 1025.0,995.3 1027.0,997.1 1028.9,999.5 1030.8,1002.2 1032.6,1004.9 1034.4,1007.5 1036.3,1009.7 1038.3,1011.3 1040.4,1012.1 1042.3,1012.2 1044.2,1011.9 1046.2,1011.4 1048.2,1010.6 1050.3,1009.6 1052.3,1008.4 1054.4,1007.1 1056.5,1005.7 1058.5,1004.3 1060.6,1002.8 1062.6,1001.4 1064.5,1000.0 1066.6,998.4 1068.6,996.5 1070.6,994.5 1072.6,992.3 1074.5,990.1 1076.5,987.9 1078.4,985.8 1080.4,983.9 1082.4,982.3 1084.4,980.9 1086.5,980.0 1088.4,979.5 1090.4,979.2 1092.4,979.2 1094.4,979.4 1096.5,979.8 1098.5,980.3 1100.5,980.9 1102.6,981.6 1104.6,982.2 1106.6,982.9 1108.6,983.5 1110.5,984.0 1112.7,984.5 1114.9,985.2 1117.2,985.9 1119.6,986.6 1121.9,987.4 1124.1,988.1 1126.2,988.8 1128.1,989.5 1129.9,990.1 1131.3,990.6 1132.5,991.0 1132.5,1164.5 1131.2,1163.7 1129.4,1162.6 1127.2,1161.2 1124.9,1159.8 1122.6,1158.5 1120.5,1157.3 1118.5,1156.3 1116.6,1155.5 1114.8,1154.7 1112.8,1153.9 1110.7,1153.1 1108.5,1152.3 1106.7,1151.6 1104.6,1150.8 1102.5,1149.9 1100.4,1149.0 1098.2,1148.3 1096.2,1147.7 1094.2,1147.4 1092.5,1147.3 1090.1,1147.8 1088.2,1148.8 1086.4,1150.3 1084.5,1152.1 1082.5,1154.3 1080.6,1156.5 1078.7,1159.1 1076.6,1162.0 1074.6,1165.0 1072.5,1167.8 1070.5,1170.4 1068.6,1172.7 1066.7,1175.0 1064.8,1177.2 1062.9,1179.2 1060.8,1181.0 1058.4,1182.4 1056.6,1183.2 1054.6,1183.9 1052.5,1184.5 1050.4,1185.0 1048.2,1185.4 1046.0,1185.6 1044.0,1185.7 1042.1,1185.6 1040.4,1185.4 1037.9,1184.3 1035.7,1182.5 1033.9,1180.4 1032.1,1178.2 1030.4,1176.4 1028.3,1174.5 1026.4,1172.6 1024.5,1171.1 1022.4,1170.4 1020.6,1170.4 1018.6,1170.9 1016.6,1171.7 1014.6,1172.9 1012.4,1174.4 1010.6,1175.9 1008.7,1177.7 1006.8,1179.7 1004.8,1181.8 1002.7,1184.1 1000.4,1186.4 998.6,1188.3 996.7,1190.3 994.7,1192.5 992.6,1194.7 990.5,1196.8 988.4,1198.9 986.3,1200.8 984.3,1202.4 982.2,1203.9 980.1,1205.3 977.9,1206.7 975.8,1207.9 973.7,1208.9 971.7,1209.7 969.9,1210.2 968.3,1210.4 965.8,1209.5 963.9,1207.3 962.3,1204.6 960.3,1202.4 958.5,1200.9 956.7,1199.5 954.8,1198.1 952.7,1197.1 950.3,1196.4 948.6,1196.3 946.7,1196.5 944.8,1196.8 942.8,1197.3 940.6,1197.7 938.5,1198.1 936.3,1198.4 934.2,1198.4 932.3,1198.2 930.4,1197.8 928.4,1197.4 926.4,1196.8 924.4,1196.2 922.4,1195.7 920.4,1195.1 918.3,1194.7 916.2,1194.4 914.2,1194.2 912.2,1194.0 910.1,1193.8 908.0,1193.6 905.8,1193.5 903.7,1193.5 901.7,1193.5 899.7,1193.7 897.9,1194.0 896.2,1194.4 893.8,1195.5 891.7,1197.1 889.8,1198.9 888.1,1200.8 886.2,1202.7 884.2,1204.4 882.3,1205.8 880.2,1207.2 878.1,1208.7 876.0,1210.1 873.9,1211.2 871.9,1212.0 870.1,1212.4 867.9,1212.1 866.1,1211.0 864.3,1209.5 862.4,1207.8 860.1,1206.4 858.4,1205.7 856.5,1205.2 854.5,1204.8 852.4,1204.3 850.2,1203.7 848.1,1202.9 846.0,1201.8 844.1,1200.4 842.0,1198.2 839.8,1195.4 837.8,1192.2 835.7,1188.9 833.8,1185.7 831.9,1182.8 830.1,1180.4 827.9,1177.6 826.1,1175.0 824.3,1173.0 822.4,1171.7 820.1,1171.4 818.4,1171.9 816.4,1173.1 814.3,1174.7 812.2,1176.6 810.0,1178.5 807.9,1180.2 805.9,1181.6 804.0,1182.4 801.7,1182.5 799.6,1181.8 797.6,1180.7 795.7,1179.6 793.8,1178.7 792.0,1178.4 789.8,1179.1 787.6,1180.4 785.5,1182.0 783.6,1183.3 781.9,1184.0 779.1,1183.8 776.2,1180.2 774.2,1176.8 771.8,1172.2 769.3,1167.1 766.8,1162.5 764.7,1159.0 762.0,1155.9 759.7,1154.6 757.0,1154.3 754.9,1154.7 752.7,1155.7 750.3,1156.9 747.9,1158.1 745.5,1159.0 743.1,1159.3 740.5,1159.4 738.1,1159.4 735.8,1159.5 734.0,1160.0 730.1,1166.7 728.6,1166.7 726.9,1166.4 724.8,1165.9 722.6,1165.3 720.3,1164.7 717.9,1164.1 715.5,1163.7 713.1,1163.6 710.9,1163.8 708.7,1164.4 706.5,1165.3 704.3,1166.5 702.0,1167.8 699.8,1169.3 697.7,1170.7 695.6,1172.1 693.6,1173.4 691.7,1174.4 689.1,1175.8 686.7,1177.1 684.5,1178.3 682.4,1179.3 680.4,1180.0 678.3,1180.2 675.8,1179.8 673.5,1178.8 671.2,1177.4 668.9,1175.9 666.8,1174.4 664.4,1172.6 662.1,1170.7 659.8,1168.7 657.2,1166.7 655.1,1165.1 652.9,1163.3 650.5,1161.4 648.1,1159.7 645.9,1158.5 643.8,1158.1 641.1,1158.8 638.8,1160.8 636.5,1163.5 634.2,1166.7 631.8,1170.5 629.5,1175.2 627.1,1179.9 624.6,1184.0 622.4,1186.6 620.1,1188.9 617.8,1191.0 615.4,1193.1 613.1,1195.5 610.7,1198.6 608.2,1202.2 605.8,1205.7 603.5,1208.4 601.6,1209.9 598.5,1207.3 595.8,1201.3 593.4,1197.0 590.7,1192.2 588.1,1187.8 585.6,1183.8 583.0,1180.3 580.5,1178.2 578.1,1179.2 575.7,1181.7 572.8,1182.1 570.7,1180.1 568.5,1176.7 566.1,1172.9 563.7,1169.3 561.3,1166.7 559.0,1165.2 556.7,1164.2 554.4,1163.7 552.1,1163.6 549.8,1163.8 547.5,1164.4 545.1,1165.5 542.8,1166.9 540.5,1168.7 538.3,1170.6 535.8,1173.6 533.4,1177.2 531.1,1180.9 528.7,1184.0 526.3,1186.6 524.0,1188.9 521.6,1190.7 519.1,1191.7 516.9,1191.8 514.5,1191.4 512.2,1190.6 509.8,1189.7 507.6,1188.8 505.2,1187.8 502.9,1186.8 500.6,1185.6 498.0,1184.0 496.0,1182.5 493.7,1180.6 491.4,1178.5 489.0,1176.6 486.7,1175.2 484.5,1174.4 482.1,1174.5 479.8,1175.5 477.5,1177.0 475.3,1178.7 473.0,1180.2 470.6,1181.6 468.2,1183.0 465.8,1184.5 463.6,1186.1 461.5,1187.8 458.5,1190.5 455.9,1193.5 453.8,1197.4 450.0,1215.6 448.5,1216.6 446.7,1217.5 444.6,1218.2 442.3,1218.8 439.9,1219.3 437.5,1219.5 435.1,1219.6 432.8,1219.5 430.7,1219.1 428.9,1218.5 426.0,1216.3 423.5,1212.9 421.4,1208.9 419.4,1204.9 417.4,1201.3 415.0,1197.0 412.7,1192.6 410.4,1189.0 407.8,1186.9 405.8,1187.1 403.5,1188.5 401.2,1190.4 398.9,1192.4 396.6,1193.6 394.4,1193.6 391.9,1191.5 389.6,1187.8 387.3,1183.5 385.0,1179.3 382.9,1176.3 380.6,1174.1 378.6,1172.8 376.3,1172.0 373.3,1171.5 371.5,1171.3 369.5,1171.1 367.3,1171.0 364.9,1171.0 362.5,1171.0 360.1,1171.2 357.9,1171.5 355.9,1171.9 354.1,1172.5 351.0,1174.5 348.7,1177.2 346.7,1180.5 344.5,1184.0 342.1,1188.1 339.7,1192.8 337.3,1197.5 334.9,1201.3 332.6,1204.4 330.3,1207.0 328.0,1208.9 325.3,1209.9 323.3,1210.0 321.0,1209.5 318.7,1208.8 316.4,1207.7 314.1,1206.4 311.9,1205.1 309.5,1203.3 307.2,1201.3 304.9,1198.9 302.7,1196.4 300.4,1193.6 298.1,1190.4 295.7,1186.6 293.3,1182.8 291.0,1179.2 288.8,1176.3 286.3,1173.3 283.9,1170.9 281.5,1169.2 279.2,1168.6 276.9,1169.3 274.6,1171.0 272.2,1173.5 269.7,1176.3 267.5,1178.9 265.3,1181.8 263.0,1185.0 260.6,1188.4 258.1,1191.7 255.9,1194.4 253.7,1197.3 251.4,1200.1 249.1,1203.0 246.8,1205.9 244.7,1208.9 242.2,1213.0 239.8,1217.5 237.4,1221.9 235.2,1225.4 233.2,1227.2 230.4,1225.9 228.1,1221.3 225.5,1216.6 223.3,1213.0 221.1,1208.8 218.6,1205.4 215.9,1204.1 213.8,1205.1 211.6,1207.6 209.2,1210.7 206.8,1213.9 204.6,1216.4 202.5,1217.6 199.8,1216.6 197.5,1213.7 195.2,1210.1 192.9,1207.0 190.6,1204.2 188.3,1201.2 186.0,1198.8 183.3,1197.4 181.4,1197.5 179.3,1198.2 177.2,1199.4 174.9,1200.6 172.5,1201.7 169.9,1202.2 168.0,1202.2 165.9,1201.9 163.6,1201.6 161.3,1201.1 159.0,1200.5 156.7,1200.0 154.6,1199.6 152.5,1199.4 150.7,1199.3 147.9,1199.8 145.5,1200.7 143.3,1201.9 141.3,1202.8 139.2,1203.2 136.7,1202.8 134.3,1201.8 132.0,1200.5 129.6,1199.3 127.0,1198.1 124.2,1196.7 121.7,1195.4 120.0,1194.5" fill="#0b0b0b" fill-opacity="1.0"/><polygon points="120.0,995.9 121.3,996.5 123.0,997.3 125.0,998.3 127.2,999.4 129.6,1000.6 132.1,1001.6 134.6,1002.5 137.0,1003.2 139.2,1003.6 141.3,1003.7 143.4,1003.4 145.4,1003.0 147.4,1002.4 149.5,1001.8 151.6,1001.1 153.8,1000.5 156.0,1000.0 158.4,999.7 160.3,999.5 162.3,999.3 164.4,999.0 166.5,998.7 168.7,998.5 170.8,998.3 173.0,998.1 175.2,998.1 177.3,998.3 179.4,998.5 181.4,999.0 183.3,999.7 185.7,1001.2 188.1,1003.3 190.4,1005.8 192.6,1008.6 194.8,1011.4 196.9,1014.1 198.9,1016.3 200.7,1018.0 202.5,1018.9 205.2,1018.0 207.3,1014.9 209.2,1011.0 211.3,1008.0 214.0,1007.4 215.8,1008.8 217.7,1011.3 219.8,1014.6 221.9,1018.4 224.1,1022.2 226.4,1025.7 228.7,1028.5 230.9,1030.2 233.2,1030.4 235.2,1029.2 237.3,1027.1 239.3,1024.0 241.4,1020.4 243.5,1016.3 245.6,1011.9 247.8,1007.5 249.9,1003.2 252.1,999.3 254.3,995.9 256.3,993.0 258.5,990.0 260.6,986.9 262.8,983.8 265.1,980.8 267.3,977.9 269.4,975.3 271.5,973.1 273.6,971.2 275.5,969.8 277.3,969.0 279.9,968.9 282.1,970.2 284.2,972.3 286.2,975.2 288.2,978.4 290.4,981.5 292.7,984.4 294.7,986.6 296.8,989.0 299.0,991.6 301.3,994.2 303.6,996.9 305.8,999.4 308.0,1001.7 310.0,1003.8 311.9,1005.5 314.4,1007.7 316.6,1009.7 318.6,1011.3 320.6,1012.3 322.8,1012.3 325.3,1011.2 327.2,1009.6 329.2,1007.1 331.3,1004.1 333.5,1000.7 335.8,997.0 338.0,993.4 340.3,990.0 342.4,986.9 344.5,984.4 346.7,982.1 348.9,980.1 351.1,978.3 353.2,976.7 355.3,975.4 357.4,974.3 359.6,973.5 361.7,972.9 363.8,972.5 366.0,972.4 368.1,972.5 370.2,972.9 372.4,973.5 374.5,974.3 376.7,975.4 379.0,976.7 381.1,978.3 383.3,980.5 385.6,983.0 387.9,985.8 390.2,988.5 392.4,991.1 394.5,993.3 396.5,994.9 398.2,995.9 401.1,994.5 403.0,990.3 404.9,986.4 407.8,986.3 409.5,988.3 411.3,991.5 413.3,995.5 415.5,1000.1 417.7,1004.9 420.0,1009.5 422.3,1013.6 424.6,1016.8 427.0,1018.9 429.0,1019.8 431.1,1020.2 433.2,1020.2 435.4,1019.9 437.6,1019.2 439.9,1018.3 442.0,1017.1 444.2,1015.7 446.2,1014.2 448.2,1012.6 450.0,1011.0 452.6,1007.8 454.8,1003.8 456.9,999.1 458.9,994.3 460.9,989.7 463.0,985.7 465.3,982.5 467.2,980.6 469.2,978.9 471.3,977.5 473.4,976.4 475.5,975.5 477.7,974.9 479.9,974.6 482.2,974.5 484.5,974.8 486.5,975.4 488.6,976.3 490.8,977.6 493.0,979.1 495.3,980.7 497.5,982.5 499.8,984.3 501.9,986.0 503.9,987.6 505.8,989.0 507.6,990.1 510.3,992.0 512.4,994.0 514.2,995.8 516.0,996.9 518.2,997.0 521.0,995.9 522.7,994.6 524.6,992.7 526.6,990.3 528.7,987.6 530.8,984.6 533.1,981.5 535.3,978.4 537.6,975.4 539.8,972.7 541.9,970.3 544.0,968.4 545.9,967.1 548.3,966.2 550.6,966.0 552.9,966.3 555.0,967.0 557.1,968.0 559.2,969.3 561.2,970.6 563.2,971.8 565.1,972.9 567.4,974.1 569.6,975.4 571.7,976.8 573.7,978.4 575.8,980.1 578.0,982.1 580.5,984.4 582.4,986.5 584.4,989.1 586.4,992.1 588.5,995.3 590.7,998.4 592.9,1001.4 595.1,1003.9 597.3,1005.9 599.5,1007.1 601.6,1007.4 603.7,1006.6 605.8,1004.8 607.9,1002.3 610.0,999.2 612.2,995.8 614.3,992.1 616.4,988.3 618.5,984.7 620.6,981.4 622.7,978.6 624.8,976.0 627.0,973.4 629.2,970.7 631.3,968.0 633.5,965.5 635.6,963.2 637.8,961.2 639.8,959.5 641.8,958.3 643.8,957.5 646.1,957.4 648.4,958.0 650.5,959.3 652.6,961.0 654.7,963.0 656.8,965.1 658.9,967.2 661.0,969.0 663.1,970.9 665.2,973.2 667.3,975.7 669.4,978.1 671.5,980.4 673.7,982.4 676.0,983.7 678.3,984.4 680.3,984.3 682.3,983.7 684.4,982.7 686.6,981.5 688.7,980.0 690.9,978.4 693.1,976.8 695.2,975.3 697.3,973.9 699.4,972.9 701.7,971.9 703.9,971.0 706.2,970.0 708.5,969.2 710.7,968.4 712.8,967.8 714.9,967.4 716.8,967.1 718.6,967.1 721.5,968.1 724.1,970.1 726.4,972.5 728.4,974.3 730.1,974.8 734.0,963.3 735.4,962.4 737.1,961.4 739.0,960.3 741.1,959.2 743.4,958.2 745.7,957.3 748.1,956.7 750.5,956.3 752.8,956.3 755.0,956.6 757.0,957.5 759.3,959.5 761.6,962.6 763.9,966.5 766.1,970.8 768.2,975.3 770.3,979.6 772.4,983.4 774.3,986.3 776.2,988.2 778.9,988.8 781.3,987.6 783.7,985.3 785.9,982.6 788.0,980.3 790.0,979.0 792.1,979.0 793.8,979.8 795.5,981.0 797.4,981.9 800.0,982.0 801.6,981.5 803.4,980.6 805.3,979.5 807.3,978.1 809.4,976.8 811.6,975.6 813.8,974.5 815.9,973.8 818.0,973.6 820.1,974.0 822.1,975.0 824.0,976.6 825.9,978.6 827.8,981.0 829.7,983.5 831.7,986.3 833.7,989.0 835.7,991.6 837.9,994.0 840.1,996.1 841.9,997.6 843.7,999.2 845.5,1000.9 847.4,1002.5 849.3,1004.2 851.2,1005.7 853.2,1007.2 855.2,1008.6 857.3,1009.7 859.4,1010.7 861.6,1011.5 863.8,1011.9 866.1,1012.1 867.9,1012.0 869.7,1011.6 871.6,1010.9 873.4,1010.1 875.4,1009.1 877.3,1008.0 879.3,1006.8 881.3,1005.5 883.3,1004.2 885.3,1002.9 887.4,1001.6 889.5,1000.3 891.6,999.2 893.7,998.1 895.9,997.3 898.0,996.6 900.2,996.1 902.1,995.8 904.0,995.7 906.0,995.5 908.1,995.5 910.1,995.5 912.2,995.6 914.4,995.7 916.5,995.9 918.6,996.1 920.8,996.4 922.9,996.6 925.0,997.0 927.1,997.3 929.1,997.7 931.1,998.1 933.1,998.5 935.0,998.9 936.8,999.3 938.6,999.7 940.3,1000.1 942.8,1000.8 945.1,1001.8 947.3,1002.9 949.4,1004.1 951.4,1005.4 953.4,1006.7 955.2,1008.0 957.1,1009.2 958.9,1010.2 960.7,1011.1 962.6,1011.7 964.4,1012.1 966.3,1012.1 968.4,1011.8 970.3,1011.2 972.3,1010.3 974.2,1009.2 976.1,1007.9 978.0,1006.5 980.0,1004.9 981.9,1003.2 983.9,1001.5 986.0,999.7 988.1,997.9 990.3,996.1 992.2,994.6 994.1,992.8 996.1,990.8 998.2,988.7 1000.3,986.5 1002.4,984.3 1004.5,982.0 1006.7,979.8 1008.8,977.7 1010.9,975.8 1012.9,974.1 1014.9,972.6 1016.8,971.3 1018.7,970.5 1020.4,970.0 1022.8,970.2 1025.0,971.3 1027.0,973.1 1028.9,975.5 1030.8,978.2 1032.6,980.9 1034.4,983.5 1036.3,985.7 1038.3,987.3 1040.4,988.1 1042.3,988.2 1044.2,987.9 1046.2,987.4 1048.2,986.6 1050.3,985.6 1052.3,984.4 1054.4,983.1 1056.5,981.7 1058.5,980.3 1060.6,978.8 1062.6,977.4 1064.5,976.0 1066.6,974.4 1068.6,972.5 1070.6,970.5 1072.6,968.3 1074.5,966.1 1076.5,963.9 1078.4,961.8 1080.4,959.9 1082.4,958.3 1084.4,956.9 1086.5,956.0 1088.4,955.5 1090.4,955.2 1092.4,955.2 1094.4,955.4 1096.5,955.8 1098.5,956.3 1100.5,956.9 1102.6,957.6 1104.6,958.2 1106.6,958.9 1108.6,959.5 1110.5,960.0 1112.7,960.5 1114.9,961.2 1117.2,961.9 1119.6,962.6 1121.9,963.4 1124.1,964.1 1126.2,964.8 1128.1,965.5 1129.9,966.1 1131.3,966.6 1132.5,967.0 1132.5,1009.0 1131.3,1008.6 1129.9,1008.1 1128.1,1007.5 1126.2,1006.8 1124.1,1006.1 1121.9,1005.4 1119.6,1004.6 1117.2,1003.9 1114.9,1003.2 1112.7,1002.5 1110.5,1002.0 1108.6,1001.5 1106.6,1000.9 1104.6,1000.2 1102.6,999.6 1100.5,998.9 1098.5,998.3 1096.5,997.8 1094.4,997.4 1092.4,997.2 1090.4,997.2 1088.4,997.5 1086.5,998.0 1084.4,998.9 1082.4,1000.3 1080.4,1001.9 1078.4,1003.8 1076.5,1005.9 1074.5,1008.1 1072.6,1010.3 1070.6,1012.5 1068.6,1014.5 1066.6,1016.4 1064.5,1018.0 1062.6,1019.4 1060.6,1020.8 1058.5,1022.3 1056.5,1023.7 1054.4,1025.1 1052.3,1026.4 1050.3,1027.6 1048.2,1028.6 1046.2,1029.4 1044.2,1029.9 1042.3,1030.2 1040.4,1030.1 1038.3,1029.3 1036.3,1027.7 1034.4,1025.5 1032.6,1022.9 1030.8,1020.2 1028.9,1017.5 1027.0,1015.1 1025.0,1013.3 1022.8,1012.2 1020.4,1012.0 1018.7,1012.5 1016.8,1013.3 1014.9,1014.6 1012.9,1016.1 1010.9,1017.8 1008.8,1019.7 1006.7,1021.8 1004.5,1024.0 1002.4,1026.3 1000.3,1028.5 998.2,1030.7 996.1,1032.8 994.1,1034.8 992.2,1036.6 990.3,1038.1 988.1,1039.9 986.0,1041.7 983.9,1043.5 981.9,1045.2 980.0,1046.9 978.0,1048.5 976.1,1049.9 974.2,1051.2 972.3,1052.3 970.3,1053.2 968.4,1053.8 966.3,1054.1 964.4,1054.1 962.6,1053.7 960.7,1053.1 958.9,1052.2 957.1,1051.2 955.2,1050.0 953.4,1048.7 951.4,1047.4 949.4,1046.1 947.3,1044.9 945.1,1043.8 942.8,1042.8 940.3,1042.1 938.6,1041.7 936.8,1041.3 935.0,1040.9 933.1,1040.5 931.1,1040.1 929.1,1039.7 927.1,1039.3 925.0,1039.0 922.9,1038.6 920.8,1038.3 918.6,1038.1 916.5,1037.9 914.4,1037.7 912.2,1037.6 910.1,1037.5 908.1,1037.5 906.0,1037.5 904.0,1037.7 902.1,1037.8 900.2,1038.1 898.0,1038.6 895.9,1039.3 893.7,1040.1 891.6,1041.2 889.5,1042.3 887.4,1043.6 885.3,1044.9 883.3,1046.2 881.3,1047.5 879.3,1048.8 877.3,1050.0 875.4,1051.1 873.4,1052.1 871.6,1052.9 869.7,1053.6 867.9,1054.0 866.1,1054.1 863.8,1053.9 861.6,1053.5 859.4,1052.7 857.3,1051.7 855.2,1050.6 853.2,1049.2 851.2,1047.7 849.3,1046.2 847.4,1044.5 845.5,1042.9 843.7,1041.2 841.9,1039.6 840.1,1038.1 837.9,1036.0 835.7,1033.6 833.7,1031.0 831.7,1028.3 829.7,1025.5 827.8,1023.0 825.9,1020.6 824.0,1018.6 822.1,1017.0 820.1,1016.0 818.0,1015.6 815.9,1015.8 813.8,1016.5 811.6,1017.6 809.4,1018.8 807.3,1020.1 805.3,1021.5 803.4,1022.6 801.6,1023.5 800.0,1024.0 797.4,1023.9 795.5,1023.0 793.8,1021.8 792.1,1021.0 790.0,1021.0 788.0,1022.3 785.9,1024.6 783.7,1027.3 781.3,1029.6 778.9,1030.8 776.2,1030.2 774.3,1028.3 772.4,1025.4 770.3,1021.6 768.2,1017.3 766.1,1012.8 763.9,1008.5 761.6,1004.6 759.3,1001.5 757.0,999.5 755.0,998.6 752.8,998.3 750.5,998.3 748.1,998.7 745.7,999.3 743.4,1000.2 741.1,1001.2 739.0,1002.3 737.1,1003.4 735.4,1004.4 734.0,1005.3 730.1,1016.8 728.4,1016.3 726.4,1014.5 724.1,1012.1 721.5,1010.1 718.6,1009.1 716.8,1009.1 714.9,1009.4 712.8,1009.8 710.7,1010.4 708.5,1011.2 706.2,1012.0 703.9,1013.0 701.7,1013.9 699.4,1014.9 697.3,1015.9 695.2,1017.3 693.1,1018.8 690.9,1020.4 688.7,1022.0 686.6,1023.5 684.4,1024.7 682.3,1025.7 680.3,1026.3 678.3,1026.4 676.0,1025.7 673.7,1024.3 671.5,1022.4 669.4,1020.1 667.3,1017.7 665.2,1015.2 663.1,1012.9 661.0,1011.0 658.9,1009.2 656.8,1007.1 654.7,1005.0 652.6,1003.0 650.5,1001.3 648.4,1000.0 646.1,999.4 643.8,999.5 641.8,1000.3 639.8,1001.5 637.8,1003.2 635.6,1005.2 633.5,1007.5 631.3,1010.0 629.2,1012.7 627.0,1015.4 624.8,1018.0 622.7,1020.6 620.6,1023.4 618.5,1026.7 616.4,1030.3 614.3,1034.1 612.2,1037.8 610.0,1041.2 607.9,1044.3 605.8,1046.8 603.7,1048.6 601.6,1049.4 599.5,1049.1 597.3,1047.9 595.1,1045.9 592.9,1043.4 590.7,1040.4 588.5,1037.3 586.4,1034.1 584.4,1031.1 582.4,1028.5 580.5,1026.4 578.0,1024.1 575.8,1022.1 573.7,1020.4 571.7,1018.8 569.6,1017.4 567.4,1016.1 565.1,1014.9 563.2,1013.8 561.2,1012.6 559.2,1011.3 557.1,1010.0 555.0,1009.0 552.9,1008.3 550.6,1008.0 548.3,1008.2 545.9,1009.1 544.0,1010.4 541.9,1012.3 539.8,1014.7 537.6,1017.4 535.3,1020.4 533.1,1023.5 530.8,1026.6 528.7,1029.6 526.6,1032.3 524.6,1034.7 522.7,1036.6 521.0,1037.9 518.2,1039.0 516.0,1038.9 514.2,1037.8 512.4,1036.0 510.3,1034.0 507.6,1032.1 505.8,1031.0 503.9,1029.6 501.9,1028.0 499.8,1026.3 497.5,1024.5 495.3,1022.7 493.0,1021.1 490.8,1019.6 488.6,1018.3 486.5,1017.4 484.5,1016.8 482.2,1016.5 479.9,1016.6 477.7,1016.9 475.5,1017.5 473.4,1018.4 471.3,1019.5 469.2,1020.9 467.2,1022.6 465.3,1024.5 463.0,1027.7 460.9,1031.7 458.9,1036.3 456.9,1041.1 454.8,1045.8 452.6,1049.8 450.0,1053.0 448.2,1054.6 446.2,1056.2 444.2,1057.7 442.0,1059.1 439.9,1060.3 437.6,1061.2 435.4,1061.9 433.2,1062.2 431.1,1062.2 429.0,1061.8 427.0,1060.9 424.6,1058.8 422.3,1055.6 420.0,1051.5 417.7,1046.9 415.5,1042.1 413.3,1037.5 411.3,1033.5 409.5,1030.3 407.8,1028.3 404.9,1028.4 403.0,1032.3 401.1,1036.5 398.2,1037.9 396.5,1036.9 394.5,1035.3 392.4,1033.1 390.2,1030.5 387.9,1027.8 385.6,1025.0 383.3,1022.5 381.1,1020.3 379.0,1018.7 376.7,1017.4 374.5,1016.3 372.4,1015.5 370.2,1014.9 368.1,1014.5 366.0,1014.4 363.8,1014.5 361.7,1014.9 359.6,1015.5 357.4,1016.3 355.3,1017.4 353.2,1018.7 351.1,1020.3 348.9,1022.1 346.7,1024.1 344.5,1026.4 342.4,1028.9 340.3,1032.0 338.0,1035.4 335.8,1039.0 333.5,1042.7 331.3,1046.1 329.2,1049.1 327.2,1051.6 325.3,1053.2 322.8,1054.3 320.6,1054.3 318.6,1053.3 316.6,1051.7 314.4,1049.7 311.9,1047.5 310.0,1045.8 308.0,1043.7 305.8,1041.4 303.6,1038.9 301.3,1036.2 299.0,1033.6 296.8,1031.0 294.7,1028.6 292.7,1026.4 290.4,1023.5 288.2,1020.4 286.2,1017.2 284.2,1014.3 282.1,1012.2 279.9,1010.9 277.3,1011.0 275.5,1011.8 273.6,1013.2 271.5,1015.1 269.4,1017.3 267.3,1019.9 265.1,1022.8 262.8,1025.8 260.6,1028.9 258.5,1032.0 256.3,1035.0 254.3,1037.9 252.1,1041.3 249.9,1045.2 247.8,1049.5 245.6,1053.9 243.5,1058.3 241.4,1062.4 239.3,1066.0 237.3,1069.1 235.2,1071.2 233.2,1072.4 230.9,1072.2 228.7,1070.5 226.4,1067.7 224.1,1064.2 221.9,1060.4 219.8,1056.6 217.7,1053.3 215.8,1050.8 214.0,1049.4 211.3,1050.0 209.2,1053.0 207.3,1056.9 205.2,1060.0 202.5,1060.9 200.7,1060.0 198.9,1058.3 196.9,1056.1 194.8,1053.4 192.6,1050.6 190.4,1047.8 188.1,1045.3 185.7,1043.2 183.3,1041.7 181.4,1041.0 179.4,1040.5 177.3,1040.3 175.2,1040.1 173.0,1040.1 170.8,1040.3 168.7,1040.5 166.5,1040.7 164.4,1041.0 162.3,1041.3 160.3,1041.5 158.4,1041.7 156.0,1042.0 153.8,1042.5 151.6,1043.1 149.5,1043.8 147.4,1044.4 145.4,1045.0 143.4,1045.4 141.3,1045.7 139.2,1045.6 137.0,1045.2 134.6,1044.5 132.1,1043.6 129.6,1042.6 127.2,1041.4 125.0,1040.3 123.0,1039.3 121.3,1038.5 120.0,1037.9" fill="#1e1e1e" fill-opacity="1.0"/><polyline points="120.0,1001.9 121.3,1002.5 123.0,1003.3 125.0,1004.3 127.2,1005.4 129.6,1006.6 132.1,1007.6 134.6,1008.5 137.0,1009.2 139.2,1009.6 141.3,1009.7 143.4,1009.4 145.4,1009.0 147.4,1008.4 149.5,1007.8 151.6,1007.1 153.8,1006.5 156.0,1006.0 158.4,1005.7 160.3,1005.5 162.3,1005.3 164.4,1005.0 166.5,1004.7 168.7,1004.5 170.8,1004.3 173.0,1004.1 175.2,1004.1 177.3,1004.3 179.4,1004.5 181.4,1005.0 183.3,1005.7 185.7,1007.2 188.1,1009.3 190.4,1011.8 192.6,1014.6 194.8,1017.4 196.9,1020.1 198.9,1022.3 200.7,1024.0 202.5,1024.9 205.2,1024.0 207.3,1020.9 209.2,1017.0 211.3,1014.0 214.0,1013.4 215.8,1014.8 217.7,1017.3 219.8,1020.6 221.9,1024.4 224.1,1028.2 226.4,1031.7 228.7,1034.5 230.9,1036.2 233.2,1036.4 235.2,1035.2 237.3,1033.1 239.3,1030.0 241.4,1026.4 243.5,1022.3 245.6,1017.9 247.8,1013.5 249.9,1009.2 252.1,1005.3 254.3,1001.9 256.3,999.0 258.5,996.0 260.6,992.9 262.8,989.8 265.1,986.8 267.3,983.9 269.4,981.3 271.5,979.1 273.6,977.2 275.5,975.8 277.3,975.0 279.9,974.9 282.1,976.2 284.2,978.3 286.2,981.2 288.2,984.4 290.4,987.5 292.7,990.4 294.7,992.6 296.8,995.0 299.0,997.6 301.3,1000.2 303.6,1002.9 305.8,1005.4 308.0,1007.7 310.0,1009.8 311.9,1011.5 314.4,1013.7 316.6,1015.7 318.6,1017.3 320.6,1018.3 322.8,1018.3 325.3,1017.2 327.2,1015.6 329.2,1013.1 331.3,1010.1 333.5,1006.7 335.8,1003.0 338.0,999.4 340.3,996.0 342.4,992.9 344.5,990.4 346.7,988.1 348.9,986.1 351.1,984.3 353.2,982.7 355.3,981.4 357.4,980.3 359.6,979.5 361.7,978.9 363.8,978.5 366.0,978.4 368.1,978.5 370.2,978.9 372.4,979.5 374.5,980.3 376.7,981.4 379.0,982.7 381.1,984.3 383.3,986.5 385.6,989.0 387.9,991.8 390.2,994.5 392.4,997.1 394.5,999.3 396.5,1000.9 398.2,1001.9 401.1,1000.5 403.0,996.3 404.9,992.4 407.8,992.3 409.5,994.3 411.3,997.5 413.3,1001.5 415.5,1006.1 417.7,1010.9 420.0,1015.5 422.3,1019.6 424.6,1022.8 427.0,1024.9 429.0,1025.8 431.1,1026.2 433.2,1026.2 435.4,1025.9 437.6,1025.2 439.9,1024.3 442.0,1023.1 444.2,1021.7 446.2,1020.2 448.2,1018.6 450.0,1017.0 452.6,1013.8 454.8,1009.8 456.9,1005.1 458.9,1000.3 460.9,995.7 463.0,991.7 465.3,988.5 467.2,986.6 469.2,984.9 471.3,983.5 473.4,982.4 475.5,981.5 477.7,980.9 479.9,980.6 482.2,980.5 484.5,980.8 486.5,981.4 488.6,982.3 490.8,983.6 493.0,985.1 495.3,986.7 497.5,988.5 499.8,990.3 501.9,992.0 503.9,993.6 505.8,995.0 507.6,996.1 510.3,998.0 512.4,1000.0 514.2,1001.8 516.0,1002.9 518.2,1003.0 521.0,1001.9 522.7,1000.6 524.6,998.7 526.6,996.3 528.7,993.6 530.8,990.6 533.1,987.5 535.3,984.4 537.6,981.4 539.8,978.7 541.9,976.3 544.0,974.4 545.9,973.1 548.3,972.2 550.6,972.0 552.9,972.3 555.0,973.0 557.1,974.0 559.2,975.3 561.2,976.6 563.2,977.8 565.1,978.9 567.4,980.1 569.6,981.4 571.7,982.8 573.7,984.4 575.8,986.1 578.0,988.1 580.5,990.4 582.4,992.5 584.4,995.1 586.4,998.1 588.5,1001.3 590.7,1004.4 592.9,1007.4 595.1,1009.9 597.3,1011.9 599.5,1013.1 601.6,1013.4 603.7,1012.6 605.8,1010.8 607.9,1008.3 610.0,1005.2 612.2,1001.8 614.3,998.1 616.4,994.3 618.5,990.7 620.6,987.4 622.7,984.6 624.8,982.0 627.0,979.4 629.2,976.7 631.3,974.0 633.5,971.5 635.6,969.2 637.8,967.2 639.8,965.5 641.8,964.3 643.8,963.5 646.1,963.4 648.4,964.0 650.5,965.3 652.6,967.0 654.7,969.0 656.8,971.1 658.9,973.2 661.0,975.0 663.1,976.9 665.2,979.2 667.3,981.7 669.4,984.1 671.5,986.4 673.7,988.4 676.0,989.7 678.3,990.4 680.3,990.3 682.3,989.7 684.4,988.7 686.6,987.5 688.7,986.0 690.9,984.4 693.1,982.8 695.2,981.3 697.3,979.9 699.4,978.9 701.7,977.9 703.9,977.0 706.2,976.0 708.5,975.2 710.7,974.4 712.8,973.8 714.9,973.4 716.8,973.1 718.6,973.1 721.5,974.1 724.1,976.1 726.4,978.5 728.4,980.3 730.1,980.8 734.0,969.3 735.4,968.4 737.1,967.4 739.0,966.3 741.1,965.2 743.4,964.2 745.7,963.3 748.1,962.7 750.5,962.3 752.8,962.3 755.0,962.6 757.0,963.5 759.3,965.5 761.6,968.6 763.9,972.5 766.1,976.8 768.2,981.3 770.3,985.6 772.4,989.4 774.3,992.3 776.2,994.2 778.9,994.8 781.3,993.6 783.7,991.3 785.9,988.6 788.0,986.3 790.0,985.0 792.1,985.0 793.8,985.8 795.5,987.0 797.4,987.9 800.0,988.0 801.6,987.5 803.4,986.6 805.3,985.5 807.3,984.1 809.4,982.8 811.6,981.6 813.8,980.5 815.9,979.8 818.0,979.6 820.1,980.0 822.1,981.0 824.0,982.6 825.9,984.6 827.8,987.0 829.7,989.5 831.7,992.3 833.7,995.0 835.7,997.6 837.9,1000.0 840.1,1002.1 841.9,1003.6 843.7,1005.2 845.5,1006.9 847.4,1008.5 849.3,1010.2 851.2,1011.7 853.2,1013.2 855.2,1014.6 857.3,1015.7 859.4,1016.7 861.6,1017.5 863.8,1017.9 866.1,1018.1 867.9,1018.0 869.7,1017.6 871.6,1016.9 873.4,1016.1 875.4,1015.1 877.3,1014.0 879.3,1012.8 881.3,1011.5 883.3,1010.2 885.3,1008.9 887.4,1007.6 889.5,1006.3 891.6,1005.2 893.7,1004.1 895.9,1003.3 898.0,1002.6 900.2,1002.1 902.1,1001.8 904.0,1001.7 906.0,1001.5 908.1,1001.5 910.1,1001.5 912.2,1001.6 914.4,1001.7 916.5,1001.9 918.6,1002.1 920.8,1002.4 922.9,1002.6 925.0,1003.0 927.1,1003.3 929.1,1003.7 931.1,1004.1 933.1,1004.5 935.0,1004.9 936.8,1005.3 938.6,1005.7 940.3,1006.1 942.8,1006.8 945.1,1007.8 947.3,1008.9 949.4,1010.1 951.4,1011.4 953.4,1012.7 955.2,1014.0 957.1,1015.2 958.9,1016.2 960.7,1017.1 962.6,1017.7 964.4,1018.1 966.3,1018.1 968.4,1017.8 970.3,1017.2 972.3,1016.3 974.2,1015.2 976.1,1013.9 978.0,1012.5 980.0,1010.9 981.9,1009.2 983.9,1007.5 986.0,1005.7 988.1,1003.9 990.3,1002.1 992.2,1000.6 994.1,998.8 996.1,996.8 998.2,994.7 1000.3,992.5 1002.4,990.3 1004.5,988.0 1006.7,985.8 1008.8,983.7 1010.9,981.8 1012.9,980.1 1014.9,978.6 1016.8,977.3 1018.7,976.5 1020.4,976.0 1022.8,976.2 1025.0,977.3 1027.0,979.1 1028.9,981.5 1030.8,984.2 1032.6,986.9 1034.4,989.5 1036.3,991.7 1038.3,993.3 1040.4,994.1 1042.3,994.2 1044.2,993.9 1046.2,993.4 1048.2,992.6 1050.3,991.6 1052.3,990.4 1054.4,989.1 1056.5,987.7 1058.5,986.3 1060.6,984.8 1062.6,983.4 1064.5,982.0 1066.6,980.4 1068.6,978.5 1070.6,976.5 1072.6,974.3 1074.5,972.1 1076.5,969.9 1078.4,967.8 1080.4,965.9 1082.4,964.3 1084.4,962.9 1086.5,962.0 1088.4,961.5 1090.4,961.2 1092.4,961.2 1094.4,961.4 1096.5,961.8 1098.5,962.3 1100.5,962.9 1102.6,963.6 1104.6,964.2 1106.6,964.9 1108.6,965.5 1110.5,966.0 1112.7,966.5 1114.9,967.2 1117.2,967.9 1119.6,968.6 1121.9,969.4 1124.1,970.1 1126.2,970.8 1128.1,971.5 1129.9,972.1 1131.3,972.6 1132.5,973.0" fill="none" stroke="#8e8e8e" stroke-width="9" stroke-opacity="1.0" stroke-linejoin="round" /><polyline points="120.0,1026.9 121.3,1027.5 123.0,1028.3 125.0,1029.3 127.2,1030.4 129.6,1031.6 132.1,1032.6 134.6,1033.5 137.0,1034.2 139.2,1034.6 141.3,1034.7 143.4,1034.4 145.4,1034.0 147.4,1033.4 149.5,1032.8 151.6,1032.1 153.8,1031.5 156.0,1031.0 158.4,1030.7 160.3,1030.5 162.3,1030.3 164.4,1030.0 166.5,1029.7 168.7,1029.5 170.8,1029.3 173.0,1029.1 175.2,1029.1 177.3,1029.3 179.4,1029.5 181.4,1030.0 183.3,1030.7 185.7,1032.2 188.1,1034.3 190.4,1036.8 192.6,1039.6 194.8,1042.4 196.9,1045.1 198.9,1047.3 200.7,1049.0 202.5,1049.9 205.2,1049.0 207.3,1045.9 209.2,1042.0 211.3,1039.0 214.0,1038.4 215.8,1039.8 217.7,1042.3 219.8,1045.6 221.9,1049.4 224.1,1053.2 226.4,1056.7 228.7,1059.5 230.9,1061.2 233.2,1061.4 235.2,1060.2 237.3,1058.1 239.3,1055.0 241.4,1051.4 243.5,1047.3 245.6,1042.9 247.8,1038.5 249.9,1034.2 252.1,1030.3 254.3,1026.9 256.3,1024.0 258.5,1021.0 260.6,1017.9 262.8,1014.8 265.1,1011.8 267.3,1008.9 269.4,1006.3 271.5,1004.1 273.6,1002.2 275.5,1000.8 277.3,1000.0 279.9,999.9 282.1,1001.2 284.2,1003.3 286.2,1006.2 288.2,1009.4 290.4,1012.5 292.7,1015.4 294.7,1017.6 296.8,1020.0 299.0,1022.6 301.3,1025.2 303.6,1027.9 305.8,1030.4 308.0,1032.7 310.0,1034.8 311.9,1036.5 314.4,1038.7 316.6,1040.7 318.6,1042.3 320.6,1043.3 322.8,1043.3 325.3,1042.2 327.2,1040.6 329.2,1038.1 331.3,1035.1 333.5,1031.7 335.8,1028.0 338.0,1024.4 340.3,1021.0 342.4,1017.9 344.5,1015.4 346.7,1013.1 348.9,1011.1 351.1,1009.3 353.2,1007.7 355.3,1006.4 357.4,1005.3 359.6,1004.5 361.7,1003.9 363.8,1003.5 366.0,1003.4 368.1,1003.5 370.2,1003.9 372.4,1004.5 374.5,1005.3 376.7,1006.4 379.0,1007.7 381.1,1009.3 383.3,1011.5 385.6,1014.0 387.9,1016.8 390.2,1019.5 392.4,1022.1 394.5,1024.3 396.5,1025.9 398.2,1026.9 401.1,1025.5 403.0,1021.3 404.9,1017.4 407.8,1017.3 409.5,1019.3 411.3,1022.5 413.3,1026.5 415.5,1031.1 417.7,1035.9 420.0,1040.5 422.3,1044.6 424.6,1047.8 427.0,1049.9 429.0,1050.8 431.1,1051.2 433.2,1051.2 435.4,1050.9 437.6,1050.2 439.9,1049.3 442.0,1048.1 444.2,1046.7 446.2,1045.2 448.2,1043.6 450.0,1042.0 452.6,1038.8 454.8,1034.8 456.9,1030.1 458.9,1025.3 460.9,1020.7 463.0,1016.7 465.3,1013.5 467.2,1011.6 469.2,1009.9 471.3,1008.5 473.4,1007.4 475.5,1006.5 477.7,1005.9 479.9,1005.6 482.2,1005.5 484.5,1005.8 486.5,1006.4 488.6,1007.3 490.8,1008.6 493.0,1010.1 495.3,1011.7 497.5,1013.5 499.8,1015.3 501.9,1017.0 503.9,1018.6 505.8,1020.0 507.6,1021.1 510.3,1023.0 512.4,1025.0 514.2,1026.8 516.0,1027.9 518.2,1028.0 521.0,1026.9 522.7,1025.6 524.6,1023.7 526.6,1021.3 528.7,1018.6 530.8,1015.6 533.1,1012.5 535.3,1009.4 537.6,1006.4 539.8,1003.7 541.9,1001.3 544.0,999.4 545.9,998.1 548.3,997.2 550.6,997.0 552.9,997.3 555.0,998.0 557.1,999.0 559.2,1000.3 561.2,1001.6 563.2,1002.8 565.1,1003.9 567.4,1005.1 569.6,1006.4 571.7,1007.8 573.7,1009.4 575.8,1011.1 578.0,1013.1 580.5,1015.4 582.4,1017.5 584.4,1020.1 586.4,1023.1 588.5,1026.3 590.7,1029.4 592.9,1032.4 595.1,1034.9 597.3,1036.9 599.5,1038.1 601.6,1038.4 603.7,1037.6 605.8,1035.8 607.9,1033.3 610.0,1030.2 612.2,1026.8 614.3,1023.1 616.4,1019.3 618.5,1015.7 620.6,1012.4 622.7,1009.6 624.8,1007.0 627.0,1004.4 629.2,1001.7 631.3,999.0 633.5,996.5 635.6,994.2 637.8,992.2 639.8,990.5 641.8,989.3 643.8,988.5 646.1,988.4 648.4,989.0 650.5,990.3 652.6,992.0 654.7,994.0 656.8,996.1 658.9,998.2 661.0,1000.0 663.1,1001.9 665.2,1004.2 667.3,1006.7 669.4,1009.1 671.5,1011.4 673.7,1013.4 676.0,1014.7 678.3,1015.4 680.3,1015.3 682.3,1014.7 684.4,1013.7 686.6,1012.5 688.7,1011.0 690.9,1009.4 693.1,1007.8 695.2,1006.3 697.3,1004.9 699.4,1003.9 701.7,1002.9 703.9,1002.0 706.2,1001.0 708.5,1000.2 710.7,999.4 712.8,998.8 714.9,998.4 716.8,998.1 718.6,998.1 721.5,999.1 724.1,1001.1 726.4,1003.5 728.4,1005.3 730.1,1005.8 734.0,994.3 735.4,993.4 737.1,992.4 739.0,991.3 741.1,990.2 743.4,989.2 745.7,988.3 748.1,987.7 750.5,987.3 752.8,987.3 755.0,987.6 757.0,988.5 759.3,990.5 761.6,993.6 763.9,997.5 766.1,1001.8 768.2,1006.3 770.3,1010.6 772.4,1014.4 774.3,1017.3 776.2,1019.2 778.9,1019.8 781.3,1018.6 783.7,1016.3 785.9,1013.6 788.0,1011.3 790.0,1010.0 792.1,1010.0 793.8,1010.8 795.5,1012.0 797.4,1012.9 800.0,1013.0 801.6,1012.5 803.4,1011.6 805.3,1010.5 807.3,1009.1 809.4,1007.8 811.6,1006.6 813.8,1005.5 815.9,1004.8 818.0,1004.6 820.1,1005.0 822.1,1006.0 824.0,1007.6 825.9,1009.6 827.8,1012.0 829.7,1014.5 831.7,1017.3 833.7,1020.0 835.7,1022.6 837.9,1025.0 840.1,1027.1 841.9,1028.6 843.7,1030.2 845.5,1031.9 847.4,1033.5 849.3,1035.2 851.2,1036.7 853.2,1038.2 855.2,1039.6 857.3,1040.7 859.4,1041.7 861.6,1042.5 863.8,1042.9 866.1,1043.1 867.9,1043.0 869.7,1042.6 871.6,1041.9 873.4,1041.1 875.4,1040.1 877.3,1039.0 879.3,1037.8 881.3,1036.5 883.3,1035.2 885.3,1033.9 887.4,1032.6 889.5,1031.3 891.6,1030.2 893.7,1029.1 895.9,1028.3 898.0,1027.6 900.2,1027.1 902.1,1026.8 904.0,1026.7 906.0,1026.5 908.1,1026.5 910.1,1026.5 912.2,1026.6 914.4,1026.7 916.5,1026.9 918.6,1027.1 920.8,1027.3 922.9,1027.6 925.0,1028.0 927.1,1028.3 929.1,1028.7 931.1,1029.1 933.1,1029.5 935.0,1029.9 936.8,1030.3 938.6,1030.7 940.3,1031.1 942.8,1031.8 945.1,1032.8 947.3,1033.9 949.4,1035.1 951.4,1036.4 953.4,1037.7 955.2,1039.0 957.1,1040.2 958.9,1041.2 960.7,1042.1 962.6,1042.7 964.4,1043.1 966.3,1043.1 968.4,1042.8 970.3,1042.2 972.3,1041.3 974.2,1040.2 976.1,1038.9 978.0,1037.5 980.0,1035.9 981.9,1034.2 983.9,1032.5 986.0,1030.7 988.1,1028.9 990.3,1027.1 992.2,1025.6 994.1,1023.8 996.1,1021.8 998.2,1019.7 1000.3,1017.5 1002.4,1015.3 1004.5,1013.0 1006.7,1010.8 1008.8,1008.7 1010.9,1006.8 1012.9,1005.1 1014.9,1003.6 1016.8,1002.3 1018.7,1001.5 1020.4,1001.0 1022.8,1001.2 1025.0,1002.3 1027.0,1004.1 1028.9,1006.5 1030.8,1009.2 1032.6,1011.9 1034.4,1014.5 1036.3,1016.7 1038.3,1018.3 1040.4,1019.1 1042.3,1019.2 1044.2,1018.9 1046.2,1018.4 1048.2,1017.6 1050.3,1016.6 1052.3,1015.4 1054.4,1014.1 1056.5,1012.7 1058.5,1011.3 1060.6,1009.8 1062.6,1008.4 1064.5,1007.0 1066.6,1005.4 1068.6,1003.5 1070.6,1001.5 1072.6,999.3 1074.5,997.1 1076.5,994.9 1078.4,992.8 1080.4,990.9 1082.4,989.3 1084.4,987.9 1086.5,987.0 1088.4,986.5 1090.4,986.2 1092.4,986.2 1094.4,986.4 1096.5,986.8 1098.5,987.3 1100.5,987.9 1102.6,988.6 1104.6,989.2 1106.6,989.9 1108.6,990.5 1110.5,991.0 1112.7,991.5 1114.9,992.2 1117.2,992.9 1119.6,993.6 1121.9,994.4 1124.1,995.1 1126.2,995.8 1128.1,996.5 1129.9,997.1 1131.3,997.6 1132.5,998.0" fill="none" stroke="#686868" stroke-width="10" stroke-opacity="1.0" stroke-linejoin="round" /><polyline points="120.0,1191.5 121.7,1192.4 124.2,1193.7 127.0,1195.1 129.6,1196.3 132.0,1197.5 134.3,1198.8 136.7,1199.8 139.2,1200.2 141.3,1199.8 143.3,1198.9 145.5,1197.7 147.9,1196.8 150.7,1196.3 152.5,1196.4 154.6,1196.6 156.7,1197.0 159.0,1197.5 161.3,1198.1 163.6,1198.6 165.9,1198.9 168.0,1199.2 169.9,1199.2 172.5,1198.7 174.9,1197.6 177.2,1196.4 179.3,1195.2 181.4,1194.5 183.3,1194.4 186.0,1195.8 188.3,1198.2 190.6,1201.2 192.9,1204.0 195.2,1207.1 197.5,1210.7 199.8,1213.6 202.5,1214.6 204.6,1213.4 206.8,1210.9 209.2,1207.7 211.6,1204.6 213.8,1202.1 215.9,1201.1 218.6,1202.4 221.1,1205.8 223.3,1210.0 225.5,1213.6 228.1,1218.3 230.4,1222.9 233.2,1224.2 235.2,1222.4 237.4,1218.9 239.8,1214.5 242.2,1210.0 244.7,1205.9 246.8,1202.9 249.1,1200.0 251.4,1197.1 253.7,1194.3 255.9,1191.4 258.1,1188.7 260.6,1185.4 263.0,1182.0 265.3,1178.8 267.5,1175.9 269.7,1173.3 272.2,1170.5 274.6,1168.0 276.9,1166.3 279.2,1165.6 281.5,1166.2 283.9,1167.9 286.3,1170.3 288.8,1173.3 291.0,1176.2 293.3,1179.8 295.7,1183.6 298.1,1187.4 300.4,1190.6 302.7,1193.4 304.9,1195.9 307.2,1198.3 309.5,1200.3 311.9,1202.1 314.1,1203.4 316.4,1204.7 318.7,1205.8 321.0,1206.5 323.3,1207.0 325.3,1206.9 328.0,1205.9 330.3,1204.0 332.6,1201.4 334.9,1198.3 337.3,1194.5 339.7,1189.8 342.1,1185.1 344.5,1181.0 346.7,1177.5 348.7,1174.2 351.0,1171.5 354.1,1169.5 355.9,1168.9 357.9,1168.5 360.1,1168.2 362.5,1168.0 364.9,1168.0 367.3,1168.0 369.5,1168.1 371.5,1168.3 373.3,1168.5 376.3,1169.0 378.6,1169.8 380.6,1171.1 382.9,1173.3 385.0,1176.3 387.3,1180.5 389.6,1184.8 391.9,1188.5 394.4,1190.6 396.6,1190.6 398.9,1189.4 401.2,1187.4 403.5,1185.5 405.8,1184.1 407.8,1183.9 410.4,1186.0 412.7,1189.6 415.0,1194.0 417.4,1198.3 419.4,1201.9 421.4,1205.9 423.5,1209.9 426.0,1213.3 428.9,1215.5 430.7,1216.1 432.8,1216.5 435.1,1216.6 437.5,1216.5 439.9,1216.3 442.3,1215.8 444.6,1215.2 446.7,1214.5 448.5,1213.6 450.0,1212.6 453.8,1194.4 455.9,1190.5 458.5,1187.5 461.5,1184.8 463.6,1183.1 465.8,1181.5 468.2,1180.0 470.6,1178.6 473.0,1177.2 475.3,1175.7 477.5,1174.0 479.8,1172.5 482.1,1171.5 484.5,1171.4 486.7,1172.2 489.0,1173.6 491.4,1175.5 493.7,1177.6 496.0,1179.5 498.0,1181.0 500.6,1182.6 502.9,1183.8 505.2,1184.8 507.6,1185.8 509.8,1186.7 512.2,1187.6 514.5,1188.4 516.9,1188.8 519.1,1188.7 521.6,1187.7 524.0,1185.9 526.3,1183.6 528.7,1181.0 531.1,1177.9 533.4,1174.2 535.8,1170.6 538.3,1167.6 540.5,1165.7 542.8,1163.9 545.1,1162.5 547.5,1161.4 549.8,1160.8 552.1,1160.6 554.4,1160.7 556.7,1161.2 559.0,1162.2 561.3,1163.7 563.7,1166.3 566.1,1169.9 568.5,1173.7 570.7,1177.1 572.8,1179.1 575.7,1178.7 578.1,1176.2 580.5,1175.2 583.0,1177.3 585.6,1180.8 588.1,1184.8 590.7,1189.2 593.4,1194.0 595.8,1198.3 598.5,1204.3 601.6,1206.9 603.5,1205.4 605.8,1202.7 608.2,1199.2 610.7,1195.6 613.1,1192.5 615.4,1190.1 617.8,1188.0 620.1,1185.9 622.4,1183.6 624.6,1181.0 627.1,1176.9 629.5,1172.2 631.8,1167.5 634.2,1163.7 636.5,1160.5 638.8,1157.8 641.1,1155.8 643.8,1155.1 645.9,1155.5 648.1,1156.7 650.5,1158.4 652.9,1160.3 655.1,1162.1 657.2,1163.7 659.8,1165.7 662.1,1167.7 664.4,1169.6 666.8,1171.4 668.9,1172.9 671.2,1174.4 673.5,1175.8 675.8,1176.8 678.3,1177.2 680.4,1177.0 682.4,1176.3 684.5,1175.3 686.7,1174.1 689.1,1172.8 691.7,1171.4 693.6,1170.4 695.6,1169.1 697.7,1167.7 699.8,1166.3 702.0,1164.8 704.3,1163.5 706.5,1162.3 708.7,1161.4 710.9,1160.8 713.1,1160.6 715.5,1160.7 717.9,1161.1 720.3,1161.7 722.6,1162.3 724.8,1162.9 726.9,1163.4 728.6,1163.7 730.1,1163.7 734.0,1157.0 735.8,1156.5 738.1,1156.4 740.5,1156.4 743.1,1156.3 745.5,1156.0 747.9,1155.1 750.3,1153.9 752.7,1152.7 754.9,1151.7 757.0,1151.3 759.7,1151.6 762.0,1152.9 764.7,1156.0 766.8,1159.5 769.3,1164.1 771.8,1169.2 774.2,1173.8 776.2,1177.2 779.1,1180.8 781.9,1181.0 783.6,1180.3 785.5,1179.0 787.6,1177.4 789.8,1176.1 792.0,1175.4 793.8,1175.7 795.7,1176.6 797.6,1177.7 799.6,1178.8 801.7,1179.5 804.0,1179.4 805.9,1178.6 807.9,1177.2 810.0,1175.5 812.2,1173.6 814.3,1171.7 816.4,1170.1 818.4,1168.9 820.1,1168.4 822.4,1168.7 824.3,1170.0 826.1,1172.0 827.9,1174.6 830.1,1177.4 831.9,1179.8 833.8,1182.7 835.7,1185.9 837.8,1189.2 839.8,1192.4 842.0,1195.2 844.1,1197.4 846.0,1198.8 848.1,1199.9 850.2,1200.7 852.4,1201.3 854.5,1201.8 856.5,1202.2 858.4,1202.7 860.1,1203.4 862.4,1204.8 864.3,1206.5 866.1,1208.0 867.9,1209.1 870.1,1209.4 871.9,1209.0 873.9,1208.2 876.0,1207.1 878.1,1205.7 880.2,1204.2 882.3,1202.8 884.2,1201.4 886.2,1199.7 888.1,1197.8 889.8,1195.9 891.7,1194.1 893.8,1192.5 896.2,1191.4 897.9,1191.0 899.7,1190.7 901.7,1190.5 903.7,1190.5 905.8,1190.5 908.0,1190.6 910.1,1190.8 912.2,1191.0 914.2,1191.2 916.2,1191.4 918.3,1191.7 920.4,1192.1 922.4,1192.7 924.4,1193.2 926.4,1193.8 928.4,1194.4 930.4,1194.8 932.3,1195.2 934.2,1195.4 936.3,1195.4 938.5,1195.1 940.6,1194.7 942.8,1194.3 944.8,1193.8 946.7,1193.5 948.6,1193.3 950.3,1193.4 952.7,1194.1 954.8,1195.1 956.7,1196.5 958.5,1197.9 960.3,1199.4 962.3,1201.6 963.9,1204.3 965.8,1206.5 968.3,1207.4 969.9,1207.2 971.7,1206.7 973.7,1205.9 975.8,1204.9 977.9,1203.7 980.1,1202.3 982.2,1200.9 984.3,1199.4 986.3,1197.8 988.4,1195.9 990.5,1193.8 992.6,1191.7 994.7,1189.5 996.7,1187.3 998.6,1185.3 1000.4,1183.4 1002.7,1181.1 1004.8,1178.8 1006.8,1176.7 1008.7,1174.7 1010.6,1172.9 1012.4,1171.4 1014.6,1169.9 1016.6,1168.7 1018.6,1167.9 1020.6,1167.4 1022.4,1167.4 1024.5,1168.1 1026.4,1169.6 1028.3,1171.5 1030.4,1173.4 1032.1,1175.2 1033.9,1177.4 1035.7,1179.5 1037.9,1181.3 1040.4,1182.4 1042.1,1182.6 1044.0,1182.7 1046.0,1182.6 1048.2,1182.4 1050.4,1182.0 1052.5,1181.5 1054.6,1180.9 1056.6,1180.2 1058.4,1179.4 1060.8,1178.0 1062.9,1176.2 1064.8,1174.2 1066.7,1172.0 1068.6,1169.7 1070.5,1167.4 1072.5,1164.8 1074.6,1162.0 1076.6,1159.0 1078.7,1156.1 1080.6,1153.5 1082.5,1151.3 1084.5,1149.1 1086.4,1147.3 1088.2,1145.8 1090.1,1144.8 1092.5,1144.3 1094.2,1144.4 1096.2,1144.7 1098.2,1145.3 1100.4,1146.0 1102.5,1146.9 1104.6,1147.8 1106.7,1148.6 1108.5,1149.3 1110.7,1150.1 1112.8,1150.9 1114.8,1151.7 1116.6,1152.5 1118.5,1153.3 1120.5,1154.3 1122.6,1155.5 1124.9,1156.8 1127.2,1158.2 1129.4,1159.6 1131.2,1160.7 1132.5,1161.5" fill="none" stroke="#262626" stroke-width="10" stroke-opacity="1.0" stroke-linejoin="round" /></g></g>
<filter id="nC1" x="0" y="0" width="100%" height="100%" color-interpolation-filters="sRGB"><feTurbulence type="fractalNoise" baseFrequency="0.3" numOctaves="1" seed="23"/><feColorMatrix type="matrix" values="0 0 0 0 1  0 0 0 0 1  0 0 0 0 1  0.55 0 0 0 -0.26"/><feGaussianBlur stdDeviation="1.0"/></filter>
<clipPath id="c_nC1"><polygon points="120.0,1019.9 121.3,1020.5 123.0,1021.3 125.0,1022.3 127.2,1023.4 129.6,1024.6 132.1,1025.6 134.6,1026.5 137.0,1027.2 139.2,1027.6 141.3,1027.7 143.4,1027.4 145.4,1027.0 147.4,1026.4 149.5,1025.8 151.6,1025.1 153.8,1024.5 156.0,1024.0 158.4,1023.7 160.3,1023.5 162.3,1023.3 164.4,1023.0 166.5,1022.7 168.7,1022.5 170.8,1022.3 173.0,1022.1 175.2,1022.1 177.3,1022.3 179.4,1022.5 181.4,1023.0 183.3,1023.7 185.7,1025.2 188.1,1027.3 190.4,1029.8 192.6,1032.6 194.8,1035.4 196.9,1038.1 198.9,1040.3 200.7,1042.0 202.5,1042.9 205.2,1042.0 207.3,1038.9 209.2,1035.0 211.3,1032.0 214.0,1031.4 215.8,1032.8 217.7,1035.3 219.8,1038.6 221.9,1042.4 224.1,1046.2 226.4,1049.7 228.7,1052.5 230.9,1054.2 233.2,1054.4 235.2,1053.2 237.3,1051.1 239.3,1048.0 241.4,1044.4 243.5,1040.3 245.6,1035.9 247.8,1031.5 249.9,1027.2 252.1,1023.3 254.3,1019.9 256.3,1017.0 258.5,1014.0 260.6,1010.9 262.8,1007.8 265.1,1004.8 267.3,1001.9 269.4,999.3 271.5,997.1 273.6,995.2 275.5,993.8 277.3,993.0 279.9,992.9 282.1,994.2 284.2,996.3 286.2,999.2 288.2,1002.4 290.4,1005.5 292.7,1008.4 294.7,1010.6 296.8,1013.0 299.0,1015.6 301.3,1018.2 303.6,1020.9 305.8,1023.4 308.0,1025.7 310.0,1027.8 311.9,1029.5 314.4,1031.7 316.6,1033.7 318.6,1035.3 320.6,1036.3 322.8,1036.3 325.3,1035.2 327.2,1033.6 329.2,1031.1 331.3,1028.1 333.5,1024.7 335.8,1021.0 338.0,1017.4 340.3,1014.0 342.4,1010.9 344.5,1008.4 346.7,1006.1 348.9,1004.1 351.1,1002.3 353.2,1000.7 355.3,999.4 357.4,998.3 359.6,997.5 361.7,996.9 363.8,996.5 366.0,996.4 368.1,996.5 370.2,996.9 372.4,997.5 374.5,998.3 376.7,999.4 379.0,1000.7 381.1,1002.3 383.3,1004.5 385.6,1007.0 387.9,1009.8 390.2,1012.5 392.4,1015.1 394.5,1017.3 396.5,1018.9 398.2,1019.9 401.1,1018.5 403.0,1014.3 404.9,1010.4 407.8,1010.3 409.5,1012.3 411.3,1015.5 413.3,1019.5 415.5,1024.1 417.7,1028.9 420.0,1033.5 422.3,1037.6 424.6,1040.8 427.0,1042.9 429.0,1043.8 431.1,1044.2 433.2,1044.2 435.4,1043.9 437.6,1043.2 439.9,1042.3 442.0,1041.1 444.2,1039.7 446.2,1038.2 448.2,1036.6 450.0,1035.0 452.6,1031.8 454.8,1027.8 456.9,1023.1 458.9,1018.3 460.9,1013.7 463.0,1009.7 465.3,1006.5 467.2,1004.6 469.2,1002.9 471.3,1001.5 473.4,1000.4 475.5,999.5 477.7,998.9 479.9,998.6 482.2,998.5 484.5,998.8 486.5,999.4 488.6,1000.3 490.8,1001.6 493.0,1003.1 495.3,1004.7 497.5,1006.5 499.8,1008.3 501.9,1010.0 503.9,1011.6 505.8,1013.0 507.6,1014.1 510.3,1016.0 512.4,1018.0 514.2,1019.8 516.0,1020.9 518.2,1021.0 521.0,1019.9 522.7,1018.6 524.6,1016.7 526.6,1014.3 528.7,1011.6 530.8,1008.6 533.1,1005.5 535.3,1002.4 537.6,999.4 539.8,996.7 541.9,994.3 544.0,992.4 545.9,991.1 548.3,990.2 550.6,990.0 552.9,990.3 555.0,991.0 557.1,992.0 559.2,993.3 561.2,994.6 563.2,995.8 565.1,996.9 567.4,998.1 569.6,999.4 571.7,1000.8 573.7,1002.4 575.8,1004.1 578.0,1006.1 580.5,1008.4 582.4,1010.5 584.4,1013.1 586.4,1016.1 588.5,1019.3 590.7,1022.4 592.9,1025.4 595.1,1027.9 597.3,1029.9 599.5,1031.1 601.6,1031.4 603.7,1030.6 605.8,1028.8 607.9,1026.3 610.0,1023.2 612.2,1019.8 614.3,1016.1 616.4,1012.3 618.5,1008.7 620.6,1005.4 622.7,1002.6 624.8,1000.0 627.0,997.4 629.2,994.7 631.3,992.0 633.5,989.5 635.6,987.2 637.8,985.2 639.8,983.5 641.8,982.3 643.8,981.5 646.1,981.4 648.4,982.0 650.5,983.3 652.6,985.0 654.7,987.0 656.8,989.1 658.9,991.2 661.0,993.0 663.1,994.9 665.2,997.2 667.3,999.7 669.4,1002.1 671.5,1004.4 673.7,1006.4 676.0,1007.7 678.3,1008.4 680.3,1008.3 682.3,1007.7 684.4,1006.7 686.6,1005.5 688.7,1004.0 690.9,1002.4 693.1,1000.8 695.2,999.3 697.3,997.9 699.4,996.9 701.7,995.9 703.9,995.0 706.2,994.0 708.5,993.2 710.7,992.4 712.8,991.8 714.9,991.4 716.8,991.1 718.6,991.1 721.5,992.1 724.1,994.1 726.4,996.5 728.4,998.3 730.1,998.8 734.0,987.3 735.4,986.4 737.1,985.4 739.0,984.3 741.1,983.2 743.4,982.2 745.7,981.3 748.1,980.7 750.5,980.3 752.8,980.3 755.0,980.6 757.0,981.5 759.3,983.5 761.6,986.6 763.9,990.5 766.1,994.8 768.2,999.3 770.3,1003.6 772.4,1007.4 774.3,1010.3 776.2,1012.2 778.9,1012.8 781.3,1011.6 783.7,1009.3 785.9,1006.6 788.0,1004.3 790.0,1003.0 792.1,1003.0 793.8,1003.8 795.5,1005.0 797.4,1005.9 800.0,1006.0 801.6,1005.5 803.4,1004.6 805.3,1003.5 807.3,1002.1 809.4,1000.8 811.6,999.6 813.8,998.5 815.9,997.8 818.0,997.6 820.1,998.0 822.1,999.0 824.0,1000.6 825.9,1002.6 827.8,1005.0 829.7,1007.5 831.7,1010.3 833.7,1013.0 835.7,1015.6 837.9,1018.0 840.1,1020.1 841.9,1021.6 843.7,1023.2 845.5,1024.9 847.4,1026.5 849.3,1028.2 851.2,1029.7 853.2,1031.2 855.2,1032.6 857.3,1033.7 859.4,1034.7 861.6,1035.5 863.8,1035.9 866.1,1036.1 867.9,1036.0 869.7,1035.6 871.6,1034.9 873.4,1034.1 875.4,1033.1 877.3,1032.0 879.3,1030.8 881.3,1029.5 883.3,1028.2 885.3,1026.9 887.4,1025.6 889.5,1024.3 891.6,1023.2 893.7,1022.1 895.9,1021.3 898.0,1020.6 900.2,1020.1 902.1,1019.8 904.0,1019.7 906.0,1019.5 908.1,1019.5 910.1,1019.5 912.2,1019.6 914.4,1019.7 916.5,1019.9 918.6,1020.1 920.8,1020.4 922.9,1020.6 925.0,1021.0 927.1,1021.3 929.1,1021.7 931.1,1022.1 933.1,1022.5 935.0,1022.9 936.8,1023.3 938.6,1023.7 940.3,1024.1 942.8,1024.8 945.1,1025.8 947.3,1026.9 949.4,1028.1 951.4,1029.4 953.4,1030.7 955.2,1032.0 957.1,1033.2 958.9,1034.2 960.7,1035.1 962.6,1035.7 964.4,1036.1 966.3,1036.1 968.4,1035.8 970.3,1035.2 972.3,1034.3 974.2,1033.2 976.1,1031.9 978.0,1030.5 980.0,1028.9 981.9,1027.2 983.9,1025.5 986.0,1023.7 988.1,1021.9 990.3,1020.1 992.2,1018.6 994.1,1016.8 996.1,1014.8 998.2,1012.7 1000.3,1010.5 1002.4,1008.3 1004.5,1006.0 1006.7,1003.8 1008.8,1001.7 1010.9,999.8 1012.9,998.1 1014.9,996.6 1016.8,995.3 1018.7,994.5 1020.4,994.0 1022.8,994.2 1025.0,995.3 1027.0,997.1 1028.9,999.5 1030.8,1002.2 1032.6,1004.9 1034.4,1007.5 1036.3,1009.7 1038.3,1011.3 1040.4,1012.1 1042.3,1012.2 1044.2,1011.9 1046.2,1011.4 1048.2,1010.6 1050.3,1009.6 1052.3,1008.4 1054.4,1007.1 1056.5,1005.7 1058.5,1004.3 1060.6,1002.8 1062.6,1001.4 1064.5,1000.0 1066.6,998.4 1068.6,996.5 1070.6,994.5 1072.6,992.3 1074.5,990.1 1076.5,987.9 1078.4,985.8 1080.4,983.9 1082.4,982.3 1084.4,980.9 1086.5,980.0 1088.4,979.5 1090.4,979.2 1092.4,979.2 1094.4,979.4 1096.5,979.8 1098.5,980.3 1100.5,980.9 1102.6,981.6 1104.6,982.2 1106.6,982.9 1108.6,983.5 1110.5,984.0 1112.7,984.5 1114.9,985.2 1117.2,985.9 1119.6,986.6 1121.9,987.4 1124.1,988.1 1126.2,988.8 1128.1,989.5 1129.9,990.1 1131.3,990.6 1132.5,991.0 1132.5,1164.5 1131.2,1163.7 1129.4,1162.6 1127.2,1161.2 1124.9,1159.8 1122.6,1158.5 1120.5,1157.3 1118.5,1156.3 1116.6,1155.5 1114.8,1154.7 1112.8,1153.9 1110.7,1153.1 1108.5,1152.3 1106.7,1151.6 1104.6,1150.8 1102.5,1149.9 1100.4,1149.0 1098.2,1148.3 1096.2,1147.7 1094.2,1147.4 1092.5,1147.3 1090.1,1147.8 1088.2,1148.8 1086.4,1150.3 1084.5,1152.1 1082.5,1154.3 1080.6,1156.5 1078.7,1159.1 1076.6,1162.0 1074.6,1165.0 1072.5,1167.8 1070.5,1170.4 1068.6,1172.7 1066.7,1175.0 1064.8,1177.2 1062.9,1179.2 1060.8,1181.0 1058.4,1182.4 1056.6,1183.2 1054.6,1183.9 1052.5,1184.5 1050.4,1185.0 1048.2,1185.4 1046.0,1185.6 1044.0,1185.7 1042.1,1185.6 1040.4,1185.4 1037.9,1184.3 1035.7,1182.5 1033.9,1180.4 1032.1,1178.2 1030.4,1176.4 1028.3,1174.5 1026.4,1172.6 1024.5,1171.1 1022.4,1170.4 1020.6,1170.4 1018.6,1170.9 1016.6,1171.7 1014.6,1172.9 1012.4,1174.4 1010.6,1175.9 1008.7,1177.7 1006.8,1179.7 1004.8,1181.8 1002.7,1184.1 1000.4,1186.4 998.6,1188.3 996.7,1190.3 994.7,1192.5 992.6,1194.7 990.5,1196.8 988.4,1198.9 986.3,1200.8 984.3,1202.4 982.2,1203.9 980.1,1205.3 977.9,1206.7 975.8,1207.9 973.7,1208.9 971.7,1209.7 969.9,1210.2 968.3,1210.4 965.8,1209.5 963.9,1207.3 962.3,1204.6 960.3,1202.4 958.5,1200.9 956.7,1199.5 954.8,1198.1 952.7,1197.1 950.3,1196.4 948.6,1196.3 946.7,1196.5 944.8,1196.8 942.8,1197.3 940.6,1197.7 938.5,1198.1 936.3,1198.4 934.2,1198.4 932.3,1198.2 930.4,1197.8 928.4,1197.4 926.4,1196.8 924.4,1196.2 922.4,1195.7 920.4,1195.1 918.3,1194.7 916.2,1194.4 914.2,1194.2 912.2,1194.0 910.1,1193.8 908.0,1193.6 905.8,1193.5 903.7,1193.5 901.7,1193.5 899.7,1193.7 897.9,1194.0 896.2,1194.4 893.8,1195.5 891.7,1197.1 889.8,1198.9 888.1,1200.8 886.2,1202.7 884.2,1204.4 882.3,1205.8 880.2,1207.2 878.1,1208.7 876.0,1210.1 873.9,1211.2 871.9,1212.0 870.1,1212.4 867.9,1212.1 866.1,1211.0 864.3,1209.5 862.4,1207.8 860.1,1206.4 858.4,1205.7 856.5,1205.2 854.5,1204.8 852.4,1204.3 850.2,1203.7 848.1,1202.9 846.0,1201.8 844.1,1200.4 842.0,1198.2 839.8,1195.4 837.8,1192.2 835.7,1188.9 833.8,1185.7 831.9,1182.8 830.1,1180.4 827.9,1177.6 826.1,1175.0 824.3,1173.0 822.4,1171.7 820.1,1171.4 818.4,1171.9 816.4,1173.1 814.3,1174.7 812.2,1176.6 810.0,1178.5 807.9,1180.2 805.9,1181.6 804.0,1182.4 801.7,1182.5 799.6,1181.8 797.6,1180.7 795.7,1179.6 793.8,1178.7 792.0,1178.4 789.8,1179.1 787.6,1180.4 785.5,1182.0 783.6,1183.3 781.9,1184.0 779.1,1183.8 776.2,1180.2 774.2,1176.8 771.8,1172.2 769.3,1167.1 766.8,1162.5 764.7,1159.0 762.0,1155.9 759.7,1154.6 757.0,1154.3 754.9,1154.7 752.7,1155.7 750.3,1156.9 747.9,1158.1 745.5,1159.0 743.1,1159.3 740.5,1159.4 738.1,1159.4 735.8,1159.5 734.0,1160.0 730.1,1166.7 728.6,1166.7 726.9,1166.4 724.8,1165.9 722.6,1165.3 720.3,1164.7 717.9,1164.1 715.5,1163.7 713.1,1163.6 710.9,1163.8 708.7,1164.4 706.5,1165.3 704.3,1166.5 702.0,1167.8 699.8,1169.3 697.7,1170.7 695.6,1172.1 693.6,1173.4 691.7,1174.4 689.1,1175.8 686.7,1177.1 684.5,1178.3 682.4,1179.3 680.4,1180.0 678.3,1180.2 675.8,1179.8 673.5,1178.8 671.2,1177.4 668.9,1175.9 666.8,1174.4 664.4,1172.6 662.1,1170.7 659.8,1168.7 657.2,1166.7 655.1,1165.1 652.9,1163.3 650.5,1161.4 648.1,1159.7 645.9,1158.5 643.8,1158.1 641.1,1158.8 638.8,1160.8 636.5,1163.5 634.2,1166.7 631.8,1170.5 629.5,1175.2 627.1,1179.9 624.6,1184.0 622.4,1186.6 620.1,1188.9 617.8,1191.0 615.4,1193.1 613.1,1195.5 610.7,1198.6 608.2,1202.2 605.8,1205.7 603.5,1208.4 601.6,1209.9 598.5,1207.3 595.8,1201.3 593.4,1197.0 590.7,1192.2 588.1,1187.8 585.6,1183.8 583.0,1180.3 580.5,1178.2 578.1,1179.2 575.7,1181.7 572.8,1182.1 570.7,1180.1 568.5,1176.7 566.1,1172.9 563.7,1169.3 561.3,1166.7 559.0,1165.2 556.7,1164.2 554.4,1163.7 552.1,1163.6 549.8,1163.8 547.5,1164.4 545.1,1165.5 542.8,1166.9 540.5,1168.7 538.3,1170.6 535.8,1173.6 533.4,1177.2 531.1,1180.9 528.7,1184.0 526.3,1186.6 524.0,1188.9 521.6,1190.7 519.1,1191.7 516.9,1191.8 514.5,1191.4 512.2,1190.6 509.8,1189.7 507.6,1188.8 505.2,1187.8 502.9,1186.8 500.6,1185.6 498.0,1184.0 496.0,1182.5 493.7,1180.6 491.4,1178.5 489.0,1176.6 486.7,1175.2 484.5,1174.4 482.1,1174.5 479.8,1175.5 477.5,1177.0 475.3,1178.7 473.0,1180.2 470.6,1181.6 468.2,1183.0 465.8,1184.5 463.6,1186.1 461.5,1187.8 458.5,1190.5 455.9,1193.5 453.8,1197.4 450.0,1215.6 448.5,1216.6 446.7,1217.5 444.6,1218.2 442.3,1218.8 439.9,1219.3 437.5,1219.5 435.1,1219.6 432.8,1219.5 430.7,1219.1 428.9,1218.5 426.0,1216.3 423.5,1212.9 421.4,1208.9 419.4,1204.9 417.4,1201.3 415.0,1197.0 412.7,1192.6 410.4,1189.0 407.8,1186.9 405.8,1187.1 403.5,1188.5 401.2,1190.4 398.9,1192.4 396.6,1193.6 394.4,1193.6 391.9,1191.5 389.6,1187.8 387.3,1183.5 385.0,1179.3 382.9,1176.3 380.6,1174.1 378.6,1172.8 376.3,1172.0 373.3,1171.5 371.5,1171.3 369.5,1171.1 367.3,1171.0 364.9,1171.0 362.5,1171.0 360.1,1171.2 357.9,1171.5 355.9,1171.9 354.1,1172.5 351.0,1174.5 348.7,1177.2 346.7,1180.5 344.5,1184.0 342.1,1188.1 339.7,1192.8 337.3,1197.5 334.9,1201.3 332.6,1204.4 330.3,1207.0 328.0,1208.9 325.3,1209.9 323.3,1210.0 321.0,1209.5 318.7,1208.8 316.4,1207.7 314.1,1206.4 311.9,1205.1 309.5,1203.3 307.2,1201.3 304.9,1198.9 302.7,1196.4 300.4,1193.6 298.1,1190.4 295.7,1186.6 293.3,1182.8 291.0,1179.2 288.8,1176.3 286.3,1173.3 283.9,1170.9 281.5,1169.2 279.2,1168.6 276.9,1169.3 274.6,1171.0 272.2,1173.5 269.7,1176.3 267.5,1178.9 265.3,1181.8 263.0,1185.0 260.6,1188.4 258.1,1191.7 255.9,1194.4 253.7,1197.3 251.4,1200.1 249.1,1203.0 246.8,1205.9 244.7,1208.9 242.2,1213.0 239.8,1217.5 237.4,1221.9 235.2,1225.4 233.2,1227.2 230.4,1225.9 228.1,1221.3 225.5,1216.6 223.3,1213.0 221.1,1208.8 218.6,1205.4 215.9,1204.1 213.8,1205.1 211.6,1207.6 209.2,1210.7 206.8,1213.9 204.6,1216.4 202.5,1217.6 199.8,1216.6 197.5,1213.7 195.2,1210.1 192.9,1207.0 190.6,1204.2 188.3,1201.2 186.0,1198.8 183.3,1197.4 181.4,1197.5 179.3,1198.2 177.2,1199.4 174.9,1200.6 172.5,1201.7 169.9,1202.2 168.0,1202.2 165.9,1201.9 163.6,1201.6 161.3,1201.1 159.0,1200.5 156.7,1200.0 154.6,1199.6 152.5,1199.4 150.7,1199.3 147.9,1199.8 145.5,1200.7 143.3,1201.9 141.3,1202.8 139.2,1203.2 136.7,1202.8 134.3,1201.8 132.0,1200.5 129.6,1199.3 127.0,1198.1 124.2,1196.7 121.7,1195.4 120.0,1194.5"/></clipPath>
<g clip-path="url(#c_nC1)"><rect x="121" y="956" width="1011.5" height="300.0999999999999" filter="url(#nC1)"/></g>
<polyline points="120.0,1198.3 121.7,1199.2 124.2,1200.5 127.0,1201.9 129.6,1203.1 132.0,1204.3 134.3,1205.6 136.7,1206.6 139.2,1207.0 141.3,1206.6 143.3,1205.7 145.5,1204.5 147.9,1203.6 150.7,1203.1 152.5,1203.2 154.6,1203.4 156.7,1203.8 159.0,1204.3 161.3,1204.9 163.6,1205.4 165.9,1205.7 168.0,1206.0 169.9,1206.0 172.5,1205.5 174.9,1204.4 177.2,1203.2 179.3,1202.0 181.4,1201.3 183.3,1201.2 186.0,1202.6 188.3,1205.0 190.6,1208.0 192.9,1210.8 195.2,1213.9 197.5,1217.5 199.8,1220.4 202.5,1221.4 204.6,1220.2 206.8,1217.7 209.2,1214.5 211.6,1211.4 213.8,1208.9 215.9,1207.9 218.6,1209.2 221.1,1212.6 223.3,1216.8 225.5,1220.4 228.1,1225.1 230.4,1229.7 233.2,1231.0 235.2,1229.2 237.4,1225.7 239.8,1221.3 242.2,1216.8 244.7,1212.7 246.8,1209.7 249.1,1206.8 251.4,1203.9 253.7,1201.1 255.9,1198.2 258.1,1195.5 260.6,1192.2 263.0,1188.8 265.3,1185.6 267.5,1182.7 269.7,1180.1 272.2,1177.3 274.6,1174.8 276.9,1173.1 279.2,1172.4 281.5,1173.0 283.9,1174.7 286.3,1177.1 288.8,1180.1 291.0,1183.0 293.3,1186.6 295.7,1190.4 298.1,1194.2 300.4,1197.4 302.7,1200.2 304.9,1202.7 307.2,1205.1 309.5,1207.1 311.9,1208.9 314.1,1210.2 316.4,1211.5 318.7,1212.6 321.0,1213.3 323.3,1213.8 325.3,1213.7 328.0,1212.7 330.3,1210.8 332.6,1208.2 334.9,1205.1 337.3,1201.3 339.7,1196.6 342.1,1191.9 344.5,1187.8 346.7,1184.3 348.7,1181.0 351.0,1178.3 354.1,1176.3 355.9,1175.7 357.9,1175.3 360.1,1175.0 362.5,1174.8 364.9,1174.8 367.3,1174.8 369.5,1174.9 371.5,1175.1 373.3,1175.3 376.3,1175.8 378.6,1176.6 380.6,1177.9 382.9,1180.1 385.0,1183.1 387.3,1187.3 389.6,1191.6 391.9,1195.3 394.4,1197.4 396.6,1197.4 398.9,1196.2 401.2,1194.2 403.5,1192.3 405.8,1190.9 407.8,1190.7 410.4,1192.8 412.7,1196.4 415.0,1200.8 417.4,1205.1 419.4,1208.7 421.4,1212.7 423.5,1216.7 426.0,1220.1 428.9,1222.3 430.7,1222.9 432.8,1223.3 435.1,1223.4 437.5,1223.3 439.9,1223.1 442.3,1222.6 444.6,1222.0 446.7,1221.3 448.5,1220.4 450.0,1219.4 453.8,1201.2 455.9,1197.3 458.5,1194.3 461.5,1191.6 463.6,1189.9 465.8,1188.3 468.2,1186.8 470.6,1185.4 473.0,1184.0 475.3,1182.5 477.5,1180.8 479.8,1179.3 482.1,1178.3 484.5,1178.2 486.7,1179.0 489.0,1180.4 491.4,1182.3 493.7,1184.4 496.0,1186.3 498.0,1187.8 500.6,1189.4 502.9,1190.6 505.2,1191.6 507.6,1192.6 509.8,1193.5 512.2,1194.4 514.5,1195.2 516.9,1195.6 519.1,1195.5 521.6,1194.5 524.0,1192.7 526.3,1190.4 528.7,1187.8 531.1,1184.7 533.4,1181.0 535.8,1177.4 538.3,1174.4 540.5,1172.5 542.8,1170.7 545.1,1169.3 547.5,1168.2 549.8,1167.6 552.1,1167.4 554.4,1167.5 556.7,1168.0 559.0,1169.0 561.3,1170.5 563.7,1173.1 566.1,1176.7 568.5,1180.5 570.7,1183.9 572.8,1185.9 575.7,1185.5 578.1,1183.0 580.5,1182.0 583.0,1184.1 585.6,1187.6 588.1,1191.6 590.7,1196.0 593.4,1200.8 595.8,1205.1 598.5,1211.1 601.6,1213.7 603.5,1212.2 605.8,1209.5 608.2,1206.0 610.7,1202.4 613.1,1199.3 615.4,1196.9 617.8,1194.8 620.1,1192.7 622.4,1190.4 624.6,1187.8 627.1,1183.7 629.5,1179.0 631.8,1174.3 634.2,1170.5 636.5,1167.3 638.8,1164.6 641.1,1162.6 643.8,1161.9 645.9,1162.3 648.1,1163.5 650.5,1165.2 652.9,1167.1 655.1,1168.9 657.2,1170.5 659.8,1172.5 662.1,1174.5 664.4,1176.4 666.8,1178.2 668.9,1179.7 671.2,1181.2 673.5,1182.6 675.8,1183.6 678.3,1184.0 680.4,1183.8 682.4,1183.1 684.5,1182.1 686.7,1180.9 689.1,1179.6 691.7,1178.2 693.6,1177.2 695.6,1175.9 697.7,1174.5 699.8,1173.1 702.0,1171.6 704.3,1170.3 706.5,1169.1 708.7,1168.2 710.9,1167.6 713.1,1167.4 715.5,1167.5 717.9,1167.9 720.3,1168.5 722.6,1169.1 724.8,1169.7 726.9,1170.2 728.6,1170.5 730.1,1170.5 734.0,1163.8 735.8,1163.3 738.1,1163.2 740.5,1163.2 743.1,1163.1 745.5,1162.8 747.9,1161.9 750.3,1160.7 752.7,1159.5 754.9,1158.5 757.0,1158.1 759.7,1158.4 762.0,1159.7 764.7,1162.8 766.8,1166.3 769.3,1170.9 771.8,1176.0 774.2,1180.6 776.2,1184.0 779.1,1187.6 781.9,1187.8 783.6,1187.1 785.5,1185.8 787.6,1184.2 789.8,1182.9 792.0,1182.2 793.8,1182.5 795.7,1183.4 797.6,1184.5 799.6,1185.6 801.7,1186.3 804.0,1186.2 805.9,1185.4 807.9,1184.0 810.0,1182.3 812.2,1180.4 814.3,1178.5 816.4,1176.9 818.4,1175.7 820.1,1175.2 822.4,1175.5 824.3,1176.8 826.1,1178.8 827.9,1181.4 830.1,1184.2 831.9,1186.6 833.8,1189.5 835.7,1192.7 837.8,1196.0 839.8,1199.2 842.0,1202.0 844.1,1204.2 846.0,1205.6 848.1,1206.7 850.2,1207.5 852.4,1208.1 854.5,1208.6 856.5,1209.0 858.4,1209.5 860.1,1210.2 862.4,1211.6 864.3,1213.3 866.1,1214.8 867.9,1215.9 870.1,1216.2 871.9,1215.8 873.9,1215.0 876.0,1213.9 878.1,1212.5 880.2,1211.0 882.3,1209.6 884.2,1208.2 886.2,1206.5 888.1,1204.6 889.8,1202.7 891.7,1200.9 893.8,1199.3 896.2,1198.2 897.9,1197.8 899.7,1197.5 901.7,1197.3 903.7,1197.3 905.8,1197.3 908.0,1197.4 910.1,1197.6 912.2,1197.8 914.2,1198.0 916.2,1198.2 918.3,1198.5 920.4,1198.9 922.4,1199.5 924.4,1200.0 926.4,1200.6 928.4,1201.2 930.4,1201.6 932.3,1202.0 934.2,1202.2 936.3,1202.2 938.5,1201.9 940.6,1201.5 942.8,1201.1 944.8,1200.6 946.7,1200.3 948.6,1200.1 950.3,1200.2 952.7,1200.9 954.8,1201.9 956.7,1203.3 958.5,1204.7 960.3,1206.2 962.3,1208.4 963.9,1211.1 965.8,1213.3 968.3,1214.2 969.9,1214.0 971.7,1213.5 973.7,1212.7 975.8,1211.7 977.9,1210.5 980.1,1209.1 982.2,1207.7 984.3,1206.2 986.3,1204.6 988.4,1202.7 990.5,1200.6 992.6,1198.5 994.7,1196.3 996.7,1194.1 998.6,1192.1 1000.4,1190.2 1002.7,1187.9 1004.8,1185.6 1006.8,1183.5 1008.7,1181.5 1010.6,1179.7 1012.4,1178.2 1014.6,1176.7 1016.6,1175.5 1018.6,1174.7 1020.6,1174.2 1022.4,1174.2 1024.5,1174.9 1026.4,1176.4 1028.3,1178.3 1030.4,1180.2 1032.1,1182.0 1033.9,1184.2 1035.7,1186.3 1037.9,1188.1 1040.4,1189.2 1042.1,1189.4 1044.0,1189.5 1046.0,1189.4 1048.2,1189.2 1050.4,1188.8 1052.5,1188.3 1054.6,1187.7 1056.6,1187.0 1058.4,1186.2 1060.8,1184.8 1062.9,1183.0 1064.8,1181.0 1066.7,1178.8 1068.6,1176.5 1070.5,1174.2 1072.5,1171.6 1074.6,1168.8 1076.6,1165.8 1078.7,1162.9 1080.6,1160.3 1082.5,1158.1 1084.5,1155.9 1086.4,1154.1 1088.2,1152.6 1090.1,1151.6 1092.5,1151.1 1094.2,1151.2 1096.2,1151.5 1098.2,1152.1 1100.4,1152.8 1102.5,1153.7 1104.6,1154.6 1106.7,1155.4 1108.5,1156.1 1110.7,1156.9 1112.8,1157.7 1114.8,1158.5 1116.6,1159.3 1118.5,1160.1 1120.5,1161.1 1122.6,1162.3 1124.9,1163.6 1127.2,1165.0 1129.4,1166.4 1131.2,1167.5 1132.5,1168.3" fill="none" stroke="#f4f4f4" stroke-width="3.4" stroke-opacity="1.0" stroke-linejoin="round" />
<polyline points="120.0,1196.5 121.7,1197.4 124.2,1198.7 127.0,1200.1 129.6,1201.3 132.0,1202.5 134.3,1203.8 136.7,1204.8 139.2,1205.2 141.3,1204.8 143.3,1203.9 145.5,1202.7 147.9,1201.8 150.7,1201.3 152.5,1201.4 154.6,1201.6 156.7,1202.0 159.0,1202.5 161.3,1203.1 163.6,1203.6 165.9,1203.9 168.0,1204.2 169.9,1204.2 172.5,1203.7 174.9,1202.6 177.2,1201.4 179.3,1200.2 181.4,1199.5 183.3,1199.4 186.0,1200.8 188.3,1203.2 190.6,1206.2 192.9,1209.0 195.2,1212.1 197.5,1215.7 199.8,1218.6 202.5,1219.6 204.6,1218.4 206.8,1215.9 209.2,1212.7 211.6,1209.6 213.8,1207.1 215.9,1206.1 218.6,1207.4 221.1,1210.8 223.3,1215.0 225.5,1218.6 228.1,1223.3 230.4,1227.9 233.2,1229.2 235.2,1227.4 237.4,1223.9 239.8,1219.5 242.2,1215.0 244.7,1210.9 246.8,1207.9 249.1,1205.0 251.4,1202.1 253.7,1199.3 255.9,1196.4 258.1,1193.7 260.6,1190.4 263.0,1187.0 265.3,1183.8 267.5,1180.9 269.7,1178.3 272.2,1175.5 274.6,1173.0 276.9,1171.3 279.2,1170.6 281.5,1171.2 283.9,1172.9 286.3,1175.3 288.8,1178.3 291.0,1181.2 293.3,1184.8 295.7,1188.6 298.1,1192.4 300.4,1195.6 302.7,1198.4 304.9,1200.9 307.2,1203.3 309.5,1205.3 311.9,1207.1 314.1,1208.4 316.4,1209.7 318.7,1210.8 321.0,1211.5 323.3,1212.0 325.3,1211.9 328.0,1210.9 330.3,1209.0 332.6,1206.4 334.9,1203.3 337.3,1199.5 339.7,1194.8 342.1,1190.1 344.5,1186.0 346.7,1182.5 348.7,1179.2 351.0,1176.5 354.1,1174.5 355.9,1173.9 357.9,1173.5 360.1,1173.2 362.5,1173.0 364.9,1173.0 367.3,1173.0 369.5,1173.1 371.5,1173.3 373.3,1173.5 376.3,1174.0 378.6,1174.8 380.6,1176.1 382.9,1178.3 385.0,1181.3 387.3,1185.5 389.6,1189.8 391.9,1193.5 394.4,1195.6 396.6,1195.6 398.9,1194.4 401.2,1192.4 403.5,1190.5 405.8,1189.1 407.8,1188.9 410.4,1191.0 412.7,1194.6 415.0,1199.0 417.4,1203.3 419.4,1206.9 421.4,1210.9 423.5,1214.9 426.0,1218.3 428.9,1220.5 430.7,1221.1 432.8,1221.5 435.1,1221.6 437.5,1221.5 439.9,1221.3 442.3,1220.8 444.6,1220.2 446.7,1219.5 448.5,1218.6 450.0,1217.6 453.8,1199.4 455.9,1195.5 458.5,1192.5 461.5,1189.8 463.6,1188.1 465.8,1186.5 468.2,1185.0 470.6,1183.6 473.0,1182.2 475.3,1180.7 477.5,1179.0 479.8,1177.5 482.1,1176.5 484.5,1176.4 486.7,1177.2 489.0,1178.6 491.4,1180.5 493.7,1182.6 496.0,1184.5 498.0,1186.0 500.6,1187.6 502.9,1188.8 505.2,1189.8 507.6,1190.8 509.8,1191.7 512.2,1192.6 514.5,1193.4 516.9,1193.8 519.1,1193.7 521.6,1192.7 524.0,1190.9 526.3,1188.6 528.7,1186.0 531.1,1182.9 533.4,1179.2 535.8,1175.6 538.3,1172.6 540.5,1170.7 542.8,1168.9 545.1,1167.5 547.5,1166.4 549.8,1165.8 552.1,1165.6 554.4,1165.7 556.7,1166.2 559.0,1167.2 561.3,1168.7 563.7,1171.3 566.1,1174.9 568.5,1178.7 570.7,1182.1 572.8,1184.1 575.7,1183.7 578.1,1181.2 580.5,1180.2 583.0,1182.3 585.6,1185.8 588.1,1189.8 590.7,1194.2 593.4,1199.0 595.8,1203.3 598.5,1209.3 601.6,1211.9 603.5,1210.4 605.8,1207.7 608.2,1204.2 610.7,1200.6 613.1,1197.5 615.4,1195.1 617.8,1193.0 620.1,1190.9 622.4,1188.6 624.6,1186.0 627.1,1181.9 629.5,1177.2 631.8,1172.5 634.2,1168.7 636.5,1165.5 638.8,1162.8 641.1,1160.8 643.8,1160.1 645.9,1160.5 648.1,1161.7 650.5,1163.4 652.9,1165.3 655.1,1167.1 657.2,1168.7 659.8,1170.7 662.1,1172.7 664.4,1174.6 666.8,1176.4 668.9,1177.9 671.2,1179.4 673.5,1180.8 675.8,1181.8 678.3,1182.2 680.4,1182.0 682.4,1181.3 684.5,1180.3 686.7,1179.1 689.1,1177.8 691.7,1176.4 693.6,1175.4 695.6,1174.1 697.7,1172.7 699.8,1171.3 702.0,1169.8 704.3,1168.5 706.5,1167.3 708.7,1166.4 710.9,1165.8 713.1,1165.6 715.5,1165.7 717.9,1166.1 720.3,1166.7 722.6,1167.3 724.8,1167.9 726.9,1168.4 728.6,1168.7 730.1,1168.7 734.0,1162.0 735.8,1161.5 738.1,1161.4 740.5,1161.4 743.1,1161.3 745.5,1161.0 747.9,1160.1 750.3,1158.9 752.7,1157.7 754.9,1156.7 757.0,1156.3 759.7,1156.6 762.0,1157.9 764.7,1161.0 766.8,1164.5 769.3,1169.1 771.8,1174.2 774.2,1178.8 776.2,1182.2 779.1,1185.8 781.9,1186.0 783.6,1185.3 785.5,1184.0 787.6,1182.4 789.8,1181.1 792.0,1180.4 793.8,1180.7 795.7,1181.6 797.6,1182.7 799.6,1183.8 801.7,1184.5 804.0,1184.4 805.9,1183.6 807.9,1182.2 810.0,1180.5 812.2,1178.6 814.3,1176.7 816.4,1175.1 818.4,1173.9 820.1,1173.4 822.4,1173.7 824.3,1175.0 826.1,1177.0 827.9,1179.6 830.1,1182.4 831.9,1184.8 833.8,1187.7 835.7,1190.9 837.8,1194.2 839.8,1197.4 842.0,1200.2 844.1,1202.4 846.0,1203.8 848.1,1204.9 850.2,1205.7 852.4,1206.3 854.5,1206.8 856.5,1207.2 858.4,1207.7 860.1,1208.4 862.4,1209.8 864.3,1211.5 866.1,1213.0 867.9,1214.1 870.1,1214.4 871.9,1214.0 873.9,1213.2 876.0,1212.1 878.1,1210.7 880.2,1209.2 882.3,1207.8 884.2,1206.4 886.2,1204.7 888.1,1202.8 889.8,1200.9 891.7,1199.1 893.8,1197.5 896.2,1196.4 897.9,1196.0 899.7,1195.7 901.7,1195.5 903.7,1195.5 905.8,1195.5 908.0,1195.6 910.1,1195.8 912.2,1196.0 914.2,1196.2 916.2,1196.4 918.3,1196.7 920.4,1197.1 922.4,1197.7 924.4,1198.2 926.4,1198.8 928.4,1199.4 930.4,1199.8 932.3,1200.2 934.2,1200.4 936.3,1200.4 938.5,1200.1 940.6,1199.7 942.8,1199.3 944.8,1198.8 946.7,1198.5 948.6,1198.3 950.3,1198.4 952.7,1199.1 954.8,1200.1 956.7,1201.5 958.5,1202.9 960.3,1204.4 962.3,1206.6 963.9,1209.3 965.8,1211.5 968.3,1212.4 969.9,1212.2 971.7,1211.7 973.7,1210.9 975.8,1209.9 977.9,1208.7 980.1,1207.3 982.2,1205.9 984.3,1204.4 986.3,1202.8 988.4,1200.9 990.5,1198.8 992.6,1196.7 994.7,1194.5 996.7,1192.3 998.6,1190.3 1000.4,1188.4 1002.7,1186.1 1004.8,1183.8 1006.8,1181.7 1008.7,1179.7 1010.6,1177.9 1012.4,1176.4 1014.6,1174.9 1016.6,1173.7 1018.6,1172.9 1020.6,1172.4 1022.4,1172.4 1024.5,1173.1 1026.4,1174.6 1028.3,1176.5 1030.4,1178.4 1032.1,1180.2 1033.9,1182.4 1035.7,1184.5 1037.9,1186.3 1040.4,1187.4 1042.1,1187.6 1044.0,1187.7 1046.0,1187.6 1048.2,1187.4 1050.4,1187.0 1052.5,1186.5 1054.6,1185.9 1056.6,1185.2 1058.4,1184.4 1060.8,1183.0 1062.9,1181.2 1064.8,1179.2 1066.7,1177.0 1068.6,1174.7 1070.5,1172.4 1072.5,1169.8 1074.6,1167.0 1076.6,1164.0 1078.7,1161.1 1080.6,1158.5 1082.5,1156.3 1084.5,1154.1 1086.4,1152.3 1088.2,1150.8 1090.1,1149.8 1092.5,1149.3 1094.2,1149.4 1096.2,1149.7 1098.2,1150.3 1100.4,1151.0 1102.5,1151.9 1104.6,1152.8 1106.7,1153.6 1108.5,1154.3 1110.7,1155.1 1112.8,1155.9 1114.8,1156.7 1116.6,1157.5 1118.5,1158.3 1120.5,1159.3 1122.6,1160.5 1124.9,1161.8 1127.2,1163.2 1129.4,1164.6 1131.2,1165.7 1132.5,1166.5" fill="none" stroke="#ff1414" stroke-width="2.8" stroke-opacity="1.0" stroke-linejoin="round" stroke-dasharray="6.5 2.5 1.8 2.5" stroke-linecap="butt"/>
</g>
<g stroke="#505050" stroke-width="1.6" fill="none">
<line x1="110.5" y1="958.5" x2="121" y2="958.5"/><line x1="1132.5" y1="958.5" x2="1143.0" y2="958.5"/>
<line x1="110.5" y1="1017.8" x2="121" y2="1017.8"/><line x1="1132.5" y1="1017.8" x2="1143.0" y2="1017.8"/>
<line x1="110.5" y1="1077.4" x2="121" y2="1077.4"/><line x1="1132.5" y1="1077.4" x2="1143.0" y2="1077.4"/>
<line x1="110.5" y1="1137.0" x2="121" y2="1137.0"/><line x1="1132.5" y1="1137.0" x2="1143.0" y2="1137.0"/>
<line x1="110.5" y1="1196.6" x2="121" y2="1196.6"/><line x1="1132.5" y1="1196.6" x2="1143.0" y2="1196.6"/>
<line x1="298.8" y1="1256.1" x2="298.8" y2="1266.6"/><line x1="298.8" y1="945.5" x2="298.8" y2="956"/>
<line x1="477.2" y1="1256.1" x2="477.2" y2="1266.6"/><line x1="477.2" y1="945.5" x2="477.2" y2="956"/>
<line x1="656.5" y1="1256.1" x2="656.5" y2="1266.6"/><line x1="656.5" y1="945.5" x2="656.5" y2="956"/>
<line x1="834.8" y1="1256.1" x2="834.8" y2="1266.6"/><line x1="834.8" y1="945.5" x2="834.8" y2="956"/>
<line x1="1015.6" y1="1256.1" x2="1015.6" y2="1266.6"/><line x1="1015.6" y1="945.5" x2="1015.6" y2="956"/>
</g>
<text x="55.05" y="969.32" style="font-family:'Liberation Sans',Arial,Helvetica,sans-serif;font-size:27px;font-weight:normal" fill="#2b2b2b">200</text>
<text x="55.05" y="1028.62" style="font-family:'Liberation Sans',Arial,Helvetica,sans-serif;font-size:27px;font-weight:normal" fill="#2b2b2b">150</text>
<text x="55.05" y="1088.22" style="font-family:'Liberation Sans',Arial,Helvetica,sans-serif;font-size:27px;font-weight:normal" fill="#2b2b2b">100</text>
<text x="62.61" y="1147.82" style="font-family:'Liberation Sans',Arial,Helvetica,sans-serif;font-size:27px;font-weight:normal" fill="#2b2b2b">50</text>
<text x="70.11" y="1207.41" style="font-family:'Liberation Sans',Arial,Helvetica,sans-serif;font-size:27px;font-weight:normal" fill="#2b2b2b">0</text>
<text x="280.04" y="1304.43" style="font-family:'Liberation Sans',Arial,Helvetica,sans-serif;font-size:27px;font-weight:normal" fill="#2b2b2b">0.5</text>
<text x="462.31" y="1304.70" style="font-family:'Liberation Sans',Arial,Helvetica,sans-serif;font-size:27px;font-weight:normal" fill="#2b2b2b">1</text>
<text x="639.24" y="1304.43" style="font-family:'Liberation Sans',Arial,Helvetica,sans-serif;font-size:27px;font-weight:normal" fill="#2b2b2b">1.5</text>
<text x="820.51" y="1304.70" style="font-family:'Liberation Sans',Arial,Helvetica,sans-serif;font-size:27px;font-weight:normal" fill="#2b2b2b">2</text>
<text x="996.24" y="1304.43" style="font-family:'Liberation Sans',Arial,Helvetica,sans-serif;font-size:27px;font-weight:normal" fill="#2b2b2b">2.5</text>
<text x="573.80" y="1344.30" style="font-family:'Liberation Sans',Arial,Helvetica,sans-serif;font-size:30px" fill="#2b2b2b">Time (s)</text>
<text transform="translate(39.0,1107.05) rotate(-90)" text-anchor="middle" style="font-family:'Liberation Sans',Arial,Helvetica,sans-serif;font-size:29.5px" fill="#2b2b2b">Retinal position (µm)</text>
<text x="582.20" y="944.60" style="font-family:'Liberation Sans',Arial,Helvetica,sans-serif;font-size:29px;font-weight:bold" fill="#000">subject 4</text>
<text x="13.53" y="934.33" style="font-family:'Liberation Sans',Arial,Helvetica,sans-serif;font-size:29.5px;font-weight:bold" fill="#000">C</text>
<clipPath id="clipD"><rect x="121" y="1432.8" width="1011.5" height="300.29999999999995"/></clipPath>
<rect x="121" y="1432.8" width="1011.5" height="300.29999999999995" fill="#000"/>
<g clip-path="url(#clipD)">
<filter id="nD0" x="0" y="0" width="100%" height="100%" color-interpolation-filters="sRGB"><feTurbulence type="fractalNoise" baseFrequency="0.25" numOctaves="1" seed="31"/><feColorMatrix type="matrix" values="0 0 0 0 1  0 0 0 0 1  0 0 0 0 1  1.7 0 0 0 -1.04"/><feGaussianBlur stdDeviation="0.9"/></filter>
<clipPath id="c_nD0"><polygon points="120.0,1432.0 120.0,1504.8 122.0,1504.8 124.9,1504.9 127.7,1505.8 130.2,1507.7 132.6,1510.3 135.3,1513.5 137.5,1516.6 139.9,1520.2 142.3,1523.8 144.9,1526.9 147.1,1528.9 149.5,1530.8 151.9,1532.3 154.3,1533.6 156.5,1534.6 159.0,1535.2 161.2,1535.2 163.5,1534.9 166.0,1534.6 168.2,1534.2 170.7,1533.6 173.1,1532.9 175.5,1532.5 177.6,1532.6 180.4,1533.6 182.8,1535.5 185.2,1538.4 187.8,1542.8 190.3,1548.2 192.9,1553.7 195.4,1559.1 197.9,1564.5 200.6,1569.1 203.0,1572.0 205.5,1574.5 208.0,1576.5 210.2,1577.7 213.2,1577.4 215.9,1574.9 218.3,1572.0 221.0,1568.3 223.6,1565.3 226.1,1563.2 228.6,1561.8 231.3,1561.4 233.6,1562.0 236.0,1563.2 238.5,1565.0 240.9,1567.2 243.3,1570.0 245.8,1573.3 248.2,1576.9 250.5,1580.6 253.2,1585.8 255.6,1591.2 258.1,1596.0 260.7,1599.8 263.4,1603.0 265.8,1605.5 268.7,1607.8 271.6,1608.4 274.1,1607.7 276.7,1606.1 279.2,1603.6 282.1,1597.4 285.0,1590.2 287.3,1585.5 289.8,1580.8 292.7,1576.8 294.7,1574.9 296.7,1573.3 299.0,1571.9 301.5,1570.8 304.2,1570.1 306.1,1569.8 308.1,1569.8 310.2,1569.8 312.4,1570.0 314.6,1570.3 316.9,1570.5 319.2,1570.8 321.5,1571.0 323.6,1571.2 325.7,1571.5 327.9,1571.8 330.1,1572.2 332.3,1572.5 334.4,1572.8 336.6,1573.0 338.6,1573.0 340.6,1572.9 343.0,1572.5 345.3,1571.7 347.6,1570.8 349.7,1569.8 351.9,1568.8 353.9,1567.9 356.0,1567.2 358.3,1566.7 360.5,1566.3 362.7,1566.0 364.9,1565.8 367.1,1565.6 369.4,1565.3 371.5,1565.0 373.8,1564.5 376.2,1564.0 378.5,1563.6 380.8,1563.3 382.9,1563.2 384.8,1563.3 387.7,1564.1 390.1,1565.4 392.3,1567.1 394.4,1569.1 396.9,1572.7 399.3,1577.0 402.0,1580.6 404.0,1582.3 406.2,1583.9 408.6,1585.2 411.0,1586.1 413.5,1586.4 415.6,1586.1 417.9,1585.3 420.1,1584.2 422.4,1583.0 424.7,1581.7 427.0,1580.6 429.3,1579.5 431.6,1578.3 433.9,1577.1 436.2,1576.1 438.4,1575.3 440.4,1574.9 443.1,1575.2 445.4,1576.2 447.7,1577.5 450.0,1578.7 452.4,1579.6 454.8,1580.4 457.2,1581.3 459.6,1582.5 462.0,1584.1 464.4,1585.9 466.8,1587.9 469.2,1590.2 471.6,1592.9 474.0,1596.1 476.4,1599.1 478.8,1601.7 481.2,1603.9 483.5,1605.8 485.9,1607.1 488.4,1607.5 490.6,1606.9 492.9,1605.6 495.2,1603.8 497.6,1601.8 499.9,1599.8 502.2,1597.7 504.6,1595.2 506.9,1592.7 509.2,1590.3 511.4,1588.3 513.8,1586.3 516.0,1584.6 518.2,1583.3 521.0,1582.5 522.9,1582.5 525.0,1582.8 527.2,1583.3 529.4,1583.8 531.8,1584.3 534.1,1584.6 536.3,1584.4 538.5,1583.8 540.8,1582.9 543.0,1581.8 545.2,1580.6 547.4,1579.3 549.6,1578.0 551.7,1576.8 554.0,1575.4 556.1,1574.0 558.2,1572.5 560.3,1571.1 562.6,1569.9 565.1,1569.1 567.0,1568.8 569.0,1568.5 571.1,1568.5 573.2,1568.5 575.4,1568.5 577.7,1568.7 579.9,1568.8 582.1,1569.0 584.3,1569.1 586.5,1569.2 588.6,1569.4 590.8,1569.7 593.0,1569.9 595.2,1570.2 597.4,1570.4 599.5,1570.7 601.5,1570.9 603.5,1571.0 605.9,1571.2 608.3,1571.4 610.5,1571.5 612.7,1571.6 614.8,1571.6 616.8,1571.4 618.8,1571.0 621.4,1569.9 623.9,1568.2 626.2,1566.3 628.4,1564.6 630.4,1563.3 633.2,1562.0 635.6,1561.2 638.0,1561.4 640.4,1562.6 642.8,1564.6 645.7,1567.2 647.7,1569.2 649.9,1571.5 652.3,1574.0 654.7,1576.4 657.2,1578.7 659.3,1580.6 661.5,1582.5 663.8,1584.5 666.1,1586.2 668.3,1587.5 670.6,1588.3 672.8,1588.4 675.0,1587.9 677.2,1587.1 679.5,1586.1 681.7,1585.1 684.1,1584.4 686.2,1584.0 688.5,1583.5 690.8,1583.1 693.1,1582.8 695.4,1582.6 697.5,1582.4 699.4,1582.5 702.3,1582.9 704.8,1583.7 707.0,1584.9 709.0,1586.4 711.9,1591.0 714.8,1596.0 717.0,1598.2 719.5,1600.2 722.1,1602.1 724.4,1603.6 726.9,1605.3 729.2,1606.4 732.0,1606.5 734.0,1605.9 736.3,1604.8 738.6,1603.4 741.1,1601.7 743.6,1599.8 745.8,1597.9 748.0,1595.6 750.3,1593.2 752.6,1590.7 754.9,1588.4 757.0,1586.4 759.4,1584.3 761.7,1582.5 764.0,1580.8 766.2,1579.5 768.5,1578.7 770.7,1578.5 772.7,1578.9 774.8,1579.6 777.2,1580.2 780.0,1580.4 781.7,1580.3 783.5,1580.0 785.4,1579.7 787.4,1579.4 789.5,1579.0 791.6,1578.6 793.7,1578.2 795.9,1577.8 798.0,1577.5 800.0,1577.2 802.0,1577.0 804.0,1576.8 806.0,1576.5 808.0,1576.4 810.0,1576.2 812.1,1576.1 814.1,1576.0 816.1,1576.0 818.1,1576.0 820.1,1576.2 822.1,1576.5 824.1,1576.8 826.1,1577.3 828.1,1577.9 830.1,1578.5 832.1,1579.1 834.1,1579.7 836.1,1580.2 838.1,1580.8 840.1,1581.2 842.1,1581.6 844.3,1582.1 846.4,1582.6 848.6,1583.1 850.7,1583.6 852.8,1584.0 854.8,1584.2 856.7,1584.4 858.5,1584.4 860.1,1584.2 862.7,1583.3 864.8,1581.8 866.6,1579.9 868.3,1577.6 870.1,1575.2 872.1,1572.3 874.2,1568.8 876.2,1565.2 878.2,1561.9 880.2,1559.1 882.5,1556.3 884.6,1554.0 886.8,1552.5 889.2,1552.1 891.3,1552.9 893.5,1554.5 895.8,1556.7 898.0,1559.0 900.2,1561.1 902.3,1563.0 904.3,1565.0 906.2,1567.0 908.2,1569.1 910.2,1571.2 912.2,1573.7 914.1,1576.7 916.1,1579.5 918.1,1581.5 920.2,1582.2 922.0,1581.3 923.8,1579.4 925.7,1576.7 927.7,1573.8 929.8,1571.2 932.2,1569.1 934.0,1568.1 936.0,1567.1 938.1,1566.2 940.3,1565.4 942.5,1564.7 944.6,1564.1 946.7,1563.6 948.6,1563.3 950.3,1563.1 952.8,1563.2 954.9,1563.8 956.7,1564.7 958.4,1565.9 960.3,1567.1 962.3,1568.4 964.3,1570.0 966.3,1571.6 968.3,1573.4 970.3,1575.2 972.3,1577.0 974.2,1578.9 976.2,1580.8 978.2,1582.9 980.3,1585.2 982.2,1587.6 984.3,1590.5 986.4,1593.6 988.5,1596.3 990.5,1598.3 992.3,1599.2 994.6,1598.2 996.5,1595.2 998.3,1591.2 1000.4,1587.2 1002.3,1583.9 1004.3,1580.2 1006.3,1576.3 1008.4,1572.6 1010.4,1569.1 1012.4,1565.9 1014.3,1562.7 1016.3,1559.8 1018.3,1557.2 1020.4,1555.1 1022.3,1553.7 1024.3,1552.6 1026.3,1551.7 1028.3,1551.2 1030.4,1551.0 1032.4,1551.1 1034.4,1551.7 1036.2,1552.9 1038.1,1554.3 1040.1,1556.0 1042.2,1557.6 1044.4,1559.1 1046.2,1560.1 1048.0,1561.2 1050.0,1562.2 1052.0,1563.3 1054.0,1564.3 1056.1,1565.3 1058.3,1566.2 1060.5,1567.1 1062.3,1567.8 1064.3,1568.4 1066.2,1569.1 1068.2,1569.7 1070.3,1570.3 1072.3,1570.9 1074.4,1571.4 1076.4,1571.8 1078.5,1572.0 1080.5,1572.2 1082.5,1572.2 1084.5,1572.1 1086.5,1571.9 1088.5,1571.5 1090.5,1571.2 1092.5,1570.7 1094.5,1570.3 1096.5,1569.8 1098.5,1569.4 1100.5,1569.1 1102.5,1568.8 1104.6,1568.5 1106.8,1568.2 1108.9,1567.9 1111.0,1567.6 1113.1,1567.3 1115.1,1567.0 1117.0,1566.7 1118.8,1566.4 1120.5,1566.1 1123.1,1565.6 1125.5,1565.1 1127.8,1564.6 1129.7,1564.2 1131.3,1563.8 1132.5,1563.5 1133.0,1432.0"/></clipPath>
<g clip-path="url(#c_nD0)"><rect x="121" y="1432.8" width="1011.5" height="300.29999999999995" filter="url(#nD0)"/></g>
<filter id="bD" x="-5%" y="-20%" width="110%" height="140%"><feGaussianBlur stdDeviation="1.1"/></filter>
<filter id="sfbD" x="0" y="0" width="100%" height="100%" color-interpolation-filters="sRGB"><feTurbulence type="fractalNoise" baseFrequency="0.42" numOctaves="1" seed="45"/><feColorMatrix type="matrix" values="2.2 0 0 0 -0.4  2.2 0 0 0 -0.4  2.2 0 0 0 -0.4  0 0 0 0 1"/><feGaussianBlur stdDeviation="0.5"/></filter>
<mask id="mbD" maskUnits="userSpaceOnUse" x="121" y="1432.8" width="1011.5" height="300.29999999999995"><rect x="121" y="1432.8" width="1011.5" height="300.29999999999995" filter="url(#sfbD)"/></mask>
<g mask="url(#mbD)"><g filter="url(#bD)"><polygon points="120.0,1504.8 122.0,1504.8 124.9,1504.9 127.7,1505.8 130.2,1507.7 132.6,1510.3 135.3,1513.5 137.5,1516.6 139.9,1520.2 142.3,1523.8 144.9,1526.9 147.1,1528.9 149.5,1530.8 151.9,1532.3 154.3,1533.6 156.5,1534.6 159.0,1535.2 161.2,1535.2 163.5,1534.9 166.0,1534.6 168.2,1534.2 170.7,1533.6 173.1,1532.9 175.5,1532.5 177.6,1532.6 180.4,1533.6 182.8,1535.5 185.2,1538.4 187.8,1542.8 190.3,1548.2 192.9,1553.7 195.4,1559.1 197.9,1564.5 200.6,1569.1 203.0,1572.0 205.5,1574.5 208.0,1576.5 210.2,1577.7 213.2,1577.4 215.9,1574.9 218.3,1572.0 221.0,1568.3 223.6,1565.3 226.1,1563.2 228.6,1561.8 231.3,1561.4 233.6,1562.0 236.0,1563.2 238.5,1565.0 240.9,1567.2 243.3,1570.0 245.8,1573.3 248.2,1576.9 250.5,1580.6 253.2,1585.8 255.6,1591.2 258.1,1596.0 260.7,1599.8 263.4,1603.0 265.8,1605.5 268.7,1607.8 271.6,1608.4 274.1,1607.7 276.7,1606.1 279.2,1603.6 282.1,1597.4 285.0,1590.2 287.3,1585.5 289.8,1580.8 292.7,1576.8 294.7,1574.9 296.7,1573.3 299.0,1571.9 301.5,1570.8 304.2,1570.1 306.1,1569.8 308.1,1569.8 310.2,1569.8 312.4,1570.0 314.6,1570.3 316.9,1570.5 319.2,1570.8 321.5,1571.0 323.6,1571.2 325.7,1571.5 327.9,1571.8 330.1,1572.2 332.3,1572.5 334.4,1572.8 336.6,1573.0 338.6,1573.0 340.6,1572.9 343.0,1572.5 345.3,1571.7 347.6,1570.8 349.7,1569.8 351.9,1568.8 353.9,1567.9 356.0,1567.2 358.3,1566.7 360.5,1566.3 362.7,1566.0 364.9,1565.8 367.1,1565.6 369.4,1565.3 371.5,1565.0 373.8,1564.5 376.2,1564.0 378.5,1563.6 380.8,1563.3 382.9,1563.2 384.8,1563.3 387.7,1564.1 390.1,1565.4 392.3,1567.1 394.4,1569.1 396.9,1572.7 399.3,1577.0 402.0,1580.6 404.0,1582.3 406.2,1583.9 408.6,1585.2 411.0,1586.1 413.5,1586.4 415.6,1586.1 417.9,1585.3 420.1,1584.2 422.4,1583.0 424.7,1581.7 427.0,1580.6 429.3,1579.5 431.6,1578.3 433.9,1577.1 436.2,1576.1 438.4,1575.3 440.4,1574.9 443.1,1575.2 445.4,1576.2 447.7,1577.5 450.0,1578.7 452.4,1579.6 454.8,1580.4 457.2,1581.3 459.6,1582.5 462.0,1584.1 464.4,1585.9 466.8,1587.9 469.2,1590.2 471.6,1592.9 474.0,1596.1 476.4,1599.1 478.8,1601.7 481.2,1603.9 483.5,1605.8 485.9,1607.1 488.4,1607.5 490.6,1606.9 492.9,1605.6 495.2,1603.8 497.6,1601.8 499.9,1599.8 502.2,1597.7 504.6,1595.2 506.9,1592.7 509.2,1590.3 511.4,1588.3 513.8,1586.3 516.0,1584.6 518.2,1583.3 521.0,1582.5 522.9,1582.5 525.0,1582.8 527.2,1583.3 529.4,1583.8 531.8,1584.3 534.1,1584.6 536.3,1584.4 538.5,1583.8 540.8,1582.9 543.0,1581.8 545.2,1580.6 547.4,1579.3 549.6,1578.0 551.7,1576.8 554.0,1575.4 556.1,1574.0 558.2,1572.5 560.3,1571.1 562.6,1569.9 565.1,1569.1 567.0,1568.8 569.0,1568.5 571.1,1568.5 573.2,1568.5 575.4,1568.5 577.7,1568.7 579.9,1568.8 582.1,1569.0 584.3,1569.1 586.5,1569.2 588.6,1569.4 590.8,1569.7 593.0,1569.9 595.2,1570.2 597.4,1570.4 599.5,1570.7 601.5,1570.9 603.5,1571.0 605.9,1571.2 608.3,1571.4 610.5,1571.5 612.7,1571.6 614.8,1571.6 616.8,1571.4 618.8,1571.0 621.4,1569.9 623.9,1568.2 626.2,1566.3 628.4,1564.6 630.4,1563.3 633.2,1562.0 635.6,1561.2 638.0,1561.4 640.4,1562.6 642.8,1564.6 645.7,1567.2 647.7,1569.2 649.9,1571.5 652.3,1574.0 654.7,1576.4 657.2,1578.7 659.3,1580.6 661.5,1582.5 663.8,1584.5 666.1,1586.2 668.3,1587.5 670.6,1588.3 672.8,1588.4 675.0,1587.9 677.2,1587.1 679.5,1586.1 681.7,1585.1 684.1,1584.4 686.2,1584.0 688.5,1583.5 690.8,1583.1 693.1,1582.8 695.4,1582.6 697.5,1582.4 699.4,1582.5 702.3,1582.9 704.8,1583.7 707.0,1584.9 709.0,1586.4 711.9,1591.0 714.8,1596.0 717.0,1598.2 719.5,1600.2 722.1,1602.1 724.4,1603.6 726.9,1605.3 729.2,1606.4 732.0,1606.5 734.0,1605.9 736.3,1604.8 738.6,1603.4 741.1,1601.7 743.6,1599.8 745.8,1597.9 748.0,1595.6 750.3,1593.2 752.6,1590.7 754.9,1588.4 757.0,1586.4 759.4,1584.3 761.7,1582.5 764.0,1580.8 766.2,1579.5 768.5,1578.7 770.7,1578.5 772.7,1578.9 774.8,1579.6 777.2,1580.2 780.0,1580.4 781.7,1580.3 783.5,1580.0 785.4,1579.7 787.4,1579.4 789.5,1579.0 791.6,1578.6 793.7,1578.2 795.9,1577.8 798.0,1577.5 800.0,1577.2 802.0,1577.0 804.0,1576.8 806.0,1576.5 808.0,1576.4 810.0,1576.2 812.1,1576.1 814.1,1576.0 816.1,1576.0 818.1,1576.0 820.1,1576.2 822.1,1576.5 824.1,1576.8 826.1,1577.3 828.1,1577.9 830.1,1578.5 832.1,1579.1 834.1,1579.7 836.1,1580.2 838.1,1580.8 840.1,1581.2 842.1,1581.6 844.3,1582.1 846.4,1582.6 848.6,1583.1 850.7,1583.6 852.8,1584.0 854.8,1584.2 856.7,1584.4 858.5,1584.4 860.1,1584.2 862.7,1583.3 864.8,1581.8 866.6,1579.9 868.3,1577.6 870.1,1575.2 872.1,1572.3 874.2,1568.8 876.2,1565.2 878.2,1561.9 880.2,1559.1 882.5,1556.3 884.6,1554.0 886.8,1552.5 889.2,1552.1 891.3,1552.9 893.5,1554.5 895.8,1556.7 898.0,1559.0 900.2,1561.1 902.3,1563.0 904.3,1565.0 906.2,1567.0 908.2,1569.1 910.2,1571.2 912.2,1573.7 914.1,1576.7 916.1,1579.5 918.1,1581.5 920.2,1582.2 922.0,1581.3 923.8,1579.4 925.7,1576.7 927.7,1573.8 929.8,1571.2 932.2,1569.1 934.0,1568.1 936.0,1567.1 938.1,1566.2 940.3,1565.4 942.5,1564.7 944.6,1564.1 946.7,1563.6 948.6,1563.3 950.3,1563.1 952.8,1563.2 954.9,1563.8 956.7,1564.7 958.4,1565.9 960.3,1567.1 962.3,1568.4 964.3,1570.0 966.3,1571.6 968.3,1573.4 970.3,1575.2 972.3,1577.0 974.2,1578.9 976.2,1580.8 978.2,1582.9 980.3,1585.2 982.2,1587.6 984.3,1590.5 986.4,1593.6 988.5,1596.3 990.5,1598.3 992.3,1599.2 994.6,1598.2 996.5,1595.2 998.3,1591.2 1000.4,1587.2 1002.3,1583.9 1004.3,1580.2 1006.3,1576.3 1008.4,1572.6 1010.4,1569.1 1012.4,1565.9 1014.3,1562.7 1016.3,1559.8 1018.3,1557.2 1020.4,1555.1 1022.3,1553.7 1024.3,1552.6 1026.3,1551.7 1028.3,1551.2 1030.4,1551.0 1032.4,1551.1 1034.4,1551.7 1036.2,1552.9 1038.1,1554.3 1040.1,1556.0 1042.2,1557.6 1044.4,1559.1 1046.2,1560.1 1048.0,1561.2 1050.0,1562.2 1052.0,1563.3 1054.0,1564.3 1056.1,1565.3 1058.3,1566.2 1060.5,1567.1 1062.3,1567.8 1064.3,1568.4 1066.2,1569.1 1068.2,1569.7 1070.3,1570.3 1072.3,1570.9 1074.4,1571.4 1076.4,1571.8 1078.5,1572.0 1080.5,1572.2 1082.5,1572.2 1084.5,1572.1 1086.5,1571.9 1088.5,1571.5 1090.5,1571.2 1092.5,1570.7 1094.5,1570.3 1096.5,1569.8 1098.5,1569.4 1100.5,1569.1 1102.5,1568.8 1104.6,1568.5 1106.8,1568.2 1108.9,1567.9 1111.0,1567.6 1113.1,1567.3 1115.1,1567.0 1117.0,1566.7 1118.8,1566.4 1120.5,1566.1 1123.1,1565.6 1125.5,1565.1 1127.8,1564.6 1129.7,1564.2 1131.3,1563.8 1132.5,1563.5 1132.5,1600.5 1131.3,1600.8 1129.7,1601.2 1127.8,1601.6 1125.5,1602.1 1123.1,1602.6 1120.5,1603.1 1118.8,1603.4 1117.0,1603.7 1115.1,1604.0 1113.1,1604.3 1111.0,1604.6 1108.9,1604.9 1106.8,1605.2 1104.6,1605.5 1102.5,1605.8 1100.5,1606.1 1098.5,1606.4 1096.5,1606.8 1094.5,1607.3 1092.5,1607.7 1090.5,1608.2 1088.5,1608.5 1086.5,1608.9 1084.5,1609.1 1082.5,1609.2 1080.5,1609.2 1078.5,1609.0 1076.4,1608.8 1074.4,1608.4 1072.3,1607.9 1070.3,1607.3 1068.2,1606.7 1066.2,1606.1 1064.3,1605.4 1062.3,1604.8 1060.5,1604.1 1058.3,1603.2 1056.1,1602.3 1054.0,1601.3 1052.0,1600.3 1050.0,1599.2 1048.0,1598.2 1046.2,1597.1 1044.4,1596.1 1042.2,1594.6 1040.1,1593.0 1038.1,1591.3 1036.2,1589.9 1034.4,1588.7 1032.4,1588.1 1030.4,1588.0 1028.3,1588.2 1026.3,1588.7 1024.3,1589.6 1022.3,1590.7 1020.4,1592.1 1018.3,1594.2 1016.3,1596.8 1014.3,1599.7 1012.4,1602.9 1010.4,1606.1 1008.4,1609.6 1006.3,1613.3 1004.3,1617.2 1002.3,1620.9 1000.4,1624.2 998.3,1628.2 996.5,1632.2 994.6,1635.2 992.3,1636.2 990.5,1635.3 988.5,1633.3 986.4,1630.6 984.3,1627.5 982.2,1624.6 980.3,1622.2 978.2,1619.9 976.2,1617.8 974.2,1615.9 972.3,1614.0 970.3,1612.2 968.3,1610.4 966.3,1608.6 964.3,1607.0 962.3,1605.4 960.3,1604.1 958.4,1602.9 956.7,1601.7 954.9,1600.8 952.8,1600.2 950.3,1600.1 948.6,1600.3 946.7,1600.6 944.6,1601.1 942.5,1601.7 940.3,1602.4 938.1,1603.2 936.0,1604.1 934.0,1605.1 932.2,1606.1 929.8,1608.2 927.7,1610.8 925.7,1613.7 923.8,1616.4 922.0,1618.3 920.2,1619.2 918.1,1618.5 916.1,1616.5 914.1,1613.7 912.2,1610.7 910.2,1608.2 908.2,1606.1 906.2,1604.0 904.3,1602.0 902.3,1600.0 900.2,1598.1 898.0,1596.0 895.8,1593.7 893.5,1591.5 891.3,1589.9 889.2,1589.1 886.8,1589.5 884.6,1591.0 882.5,1593.3 880.2,1596.1 878.2,1598.9 876.2,1602.2 874.2,1605.8 872.1,1609.3 870.1,1612.2 868.3,1614.6 866.6,1616.9 864.8,1618.8 862.7,1620.3 860.1,1621.2 858.5,1621.4 856.7,1621.4 854.8,1621.2 852.8,1621.0 850.7,1620.6 848.6,1620.1 846.4,1619.6 844.3,1619.1 842.1,1618.6 840.1,1618.2 838.1,1617.8 836.1,1617.2 834.1,1616.7 832.1,1616.1 830.1,1615.5 828.1,1614.9 826.1,1614.3 824.1,1613.8 822.1,1613.5 820.1,1613.2 818.1,1613.0 816.1,1613.0 814.1,1613.0 812.1,1613.1 810.0,1613.2 808.0,1613.4 806.0,1613.5 804.0,1613.8 802.0,1614.0 800.0,1614.2 798.0,1614.5 795.9,1614.8 793.7,1615.2 791.6,1615.6 789.5,1616.0 787.4,1616.4 785.4,1616.7 783.5,1617.0 781.7,1617.3 780.0,1617.4 777.2,1617.2 774.8,1616.6 772.7,1615.9 770.7,1615.5 768.5,1615.7 766.2,1616.5 764.0,1617.8 761.7,1619.5 759.4,1621.3 757.0,1623.4 754.9,1625.4 752.6,1627.7 750.3,1630.2 748.0,1632.6 745.8,1634.9 743.6,1636.8 741.1,1638.7 738.6,1640.4 736.3,1641.8 734.0,1642.9 732.0,1643.5 729.2,1643.4 726.9,1642.3 724.4,1640.6 722.1,1639.1 719.5,1637.2 717.0,1635.2 714.8,1633.0 711.9,1628.0 709.0,1623.4 707.0,1621.9 704.8,1620.7 702.3,1619.9 699.4,1619.5 697.5,1619.4 695.4,1619.6 693.1,1619.8 690.8,1620.1 688.5,1620.5 686.2,1621.0 684.1,1621.4 681.7,1622.1 679.5,1623.1 677.2,1624.1 675.0,1624.9 672.8,1625.4 670.6,1625.3 668.3,1624.5 666.1,1623.2 663.8,1621.5 661.5,1619.5 659.3,1617.6 657.2,1615.7 654.7,1613.4 652.3,1611.0 649.9,1608.5 647.7,1606.2 645.7,1604.2 642.8,1601.6 640.4,1599.6 638.0,1598.4 635.6,1598.2 633.2,1599.0 630.4,1600.3 628.4,1601.6 626.2,1603.3 623.9,1605.2 621.4,1606.9 618.8,1608.0 616.8,1608.4 614.8,1608.6 612.7,1608.6 610.5,1608.5 608.3,1608.4 605.9,1608.2 603.5,1608.0 601.5,1607.9 599.5,1607.7 597.4,1607.4 595.2,1607.2 593.0,1606.9 590.8,1606.7 588.6,1606.4 586.5,1606.2 584.3,1606.1 582.1,1606.0 579.9,1605.8 577.7,1605.7 575.4,1605.5 573.2,1605.5 571.1,1605.5 569.0,1605.5 567.0,1605.8 565.1,1606.1 562.6,1606.9 560.3,1608.1 558.2,1609.5 556.1,1611.0 554.0,1612.4 551.7,1613.8 549.6,1615.0 547.4,1616.3 545.2,1617.6 543.0,1618.8 540.8,1619.9 538.5,1620.8 536.3,1621.4 534.1,1621.6 531.8,1621.3 529.4,1620.8 527.2,1620.3 525.0,1619.8 522.9,1619.5 521.0,1619.5 518.2,1620.3 516.0,1621.6 513.8,1623.3 511.4,1625.3 509.2,1627.3 506.9,1629.7 504.6,1632.2 502.2,1634.7 499.9,1636.8 497.6,1638.8 495.2,1640.8 492.9,1642.6 490.6,1643.9 488.4,1644.5 485.9,1644.1 483.5,1642.8 481.2,1640.9 478.8,1638.7 476.4,1636.1 474.0,1633.1 471.6,1629.9 469.2,1627.2 466.8,1624.9 464.4,1622.9 462.0,1621.1 459.6,1619.5 457.2,1618.3 454.8,1617.4 452.4,1616.6 450.0,1615.7 447.7,1614.5 445.4,1613.2 443.1,1612.2 440.4,1611.9 438.4,1612.3 436.2,1613.1 433.9,1614.1 431.6,1615.3 429.3,1616.5 427.0,1617.6 424.7,1618.7 422.4,1620.0 420.1,1621.2 417.9,1622.3 415.6,1623.1 413.5,1623.4 411.0,1623.1 408.6,1622.2 406.2,1620.9 404.0,1619.3 402.0,1617.6 399.3,1614.0 396.9,1609.7 394.4,1606.1 392.3,1604.1 390.1,1602.4 387.7,1601.1 384.8,1600.3 382.9,1600.2 380.8,1600.3 378.5,1600.6 376.2,1601.0 373.8,1601.5 371.5,1602.0 369.4,1602.3 367.1,1602.6 364.9,1602.8 362.7,1603.0 360.5,1603.3 358.3,1603.7 356.0,1604.2 353.9,1604.9 351.9,1605.8 349.7,1606.8 347.6,1607.8 345.3,1608.7 343.0,1609.5 340.6,1609.9 338.6,1610.0 336.6,1610.0 334.4,1609.8 332.3,1609.5 330.1,1609.2 327.9,1608.8 325.7,1608.5 323.6,1608.2 321.5,1608.0 319.2,1607.8 316.9,1607.5 314.6,1607.3 312.4,1607.0 310.2,1606.8 308.1,1606.8 306.1,1606.8 304.2,1607.1 301.5,1607.8 299.0,1608.9 296.7,1610.3 294.7,1611.9 292.7,1613.8 289.8,1617.8 287.3,1622.5 285.0,1627.2 282.1,1634.4 279.2,1640.6 276.7,1643.1 274.1,1644.7 271.6,1645.4 268.7,1644.8 265.8,1642.5 263.4,1640.0 260.7,1636.8 258.1,1633.0 255.6,1628.2 253.2,1622.8 250.5,1617.6 248.2,1613.9 245.8,1610.3 243.3,1607.0 240.9,1604.2 238.5,1602.0 236.0,1600.2 233.6,1599.0 231.3,1598.4 228.6,1598.8 226.1,1600.2 223.6,1602.3 221.0,1605.3 218.3,1609.0 215.9,1611.9 213.2,1614.4 210.2,1614.7 208.0,1613.5 205.5,1611.5 203.0,1609.0 200.6,1606.1 197.9,1601.5 195.4,1596.1 192.9,1590.7 190.3,1585.2 187.8,1579.8 185.2,1575.4 182.8,1572.5 180.4,1570.6 177.6,1569.6 175.5,1569.5 173.1,1569.9 170.7,1570.6 168.2,1571.2 166.0,1571.6 163.5,1571.9 161.2,1572.2 159.0,1572.2 156.5,1571.6 154.3,1570.6 151.9,1569.3 149.5,1567.8 147.1,1565.9 144.9,1563.9 142.3,1560.8 139.9,1557.2 137.5,1553.6 135.3,1550.5 132.6,1547.3 130.2,1544.7 127.7,1542.8 124.9,1541.9 122.0,1541.8 120.0,1541.8" fill="#0e0e0e" fill-opacity="1.0"/><polyline points="120.0,1511.8 122.0,1511.8 124.9,1511.9 127.7,1512.8 130.2,1514.7 132.6,1517.3 135.3,1520.5 137.5,1523.6 139.9,1527.2 142.3,1530.8 144.9,1533.9 147.1,1535.9 149.5,1537.8 151.9,1539.3 154.3,1540.6 156.5,1541.6 159.0,1542.2 161.2,1542.2 163.5,1541.9 166.0,1541.6 168.2,1541.2 170.7,1540.6 173.1,1539.9 175.5,1539.5 177.6,1539.6 180.4,1540.6 182.8,1542.5 185.2,1545.4 187.8,1549.8 190.3,1555.2 192.9,1560.7 195.4,1566.1 197.9,1571.5 200.6,1576.1 203.0,1579.0 205.5,1581.5 208.0,1583.5 210.2,1584.7 213.2,1584.4 215.9,1581.9 218.3,1579.0 221.0,1575.3 223.6,1572.3 226.1,1570.2 228.6,1568.8 231.3,1568.4 233.6,1569.0 236.0,1570.2 238.5,1572.0 240.9,1574.2 243.3,1577.0 245.8,1580.3 248.2,1583.9 250.5,1587.6 253.2,1592.8 255.6,1598.2 258.1,1603.0 260.7,1606.8 263.4,1610.0 265.8,1612.5 268.7,1614.8 271.6,1615.4 274.1,1614.7 276.7,1613.1 279.2,1610.6 282.1,1604.4 285.0,1597.2 287.3,1592.5 289.8,1587.8 292.7,1583.8 294.7,1581.9 296.7,1580.3 299.0,1578.9 301.5,1577.8 304.2,1577.1 306.1,1576.8 308.1,1576.8 310.2,1576.8 312.4,1577.0 314.6,1577.3 316.9,1577.5 319.2,1577.8 321.5,1578.0 323.6,1578.2 325.7,1578.5 327.9,1578.8 330.1,1579.2 332.3,1579.5 334.4,1579.8 336.6,1580.0 338.6,1580.0 340.6,1579.9 343.0,1579.5 345.3,1578.7 347.6,1577.8 349.7,1576.8 351.9,1575.8 353.9,1574.9 356.0,1574.2 358.3,1573.7 360.5,1573.3 362.7,1573.0 364.9,1572.8 367.1,1572.6 369.4,1572.3 371.5,1572.0 373.8,1571.5 376.2,1571.0 378.5,1570.6 380.8,1570.3 382.9,1570.2 384.8,1570.3 387.7,1571.1 390.1,1572.4 392.3,1574.1 394.4,1576.1 396.9,1579.7 399.3,1584.0 402.0,1587.6 404.0,1589.3 406.2,1590.9 408.6,1592.2 411.0,1593.1 413.5,1593.4 415.6,1593.1 417.9,1592.3 420.1,1591.2 422.4,1590.0 424.7,1588.7 427.0,1587.6 429.3,1586.5 431.6,1585.3 433.9,1584.1 436.2,1583.1 438.4,1582.3 440.4,1581.9 443.1,1582.2 445.4,1583.2 447.7,1584.5 450.0,1585.7 452.4,1586.6 454.8,1587.4 457.2,1588.3 459.6,1589.5 462.0,1591.1 464.4,1592.9 466.8,1594.9 469.2,1597.2 471.6,1599.9 474.0,1603.1 476.4,1606.1 478.8,1608.7 481.2,1610.9 483.5,1612.8 485.9,1614.1 488.4,1614.5 490.6,1613.9 492.9,1612.6 495.2,1610.8 497.6,1608.8 499.9,1606.8 502.2,1604.7 504.6,1602.2 506.9,1599.7 509.2,1597.3 511.4,1595.3 513.8,1593.3 516.0,1591.6 518.2,1590.3 521.0,1589.5 522.9,1589.5 525.0,1589.8 527.2,1590.3 529.4,1590.8 531.8,1591.3 534.1,1591.6 536.3,1591.4 538.5,1590.8 540.8,1589.9 543.0,1588.8 545.2,1587.6 547.4,1586.3 549.6,1585.0 551.7,1583.8 554.0,1582.4 556.1,1581.0 558.2,1579.5 560.3,1578.1 562.6,1576.9 565.1,1576.1 567.0,1575.8 569.0,1575.5 571.1,1575.5 573.2,1575.5 575.4,1575.5 577.7,1575.7 579.9,1575.8 582.1,1576.0 584.3,1576.1 586.5,1576.2 588.6,1576.4 590.8,1576.7 593.0,1576.9 595.2,1577.2 597.4,1577.4 599.5,1577.7 601.5,1577.9 603.5,1578.0 605.9,1578.2 608.3,1578.4 610.5,1578.5 612.7,1578.6 614.8,1578.6 616.8,1578.4 618.8,1578.0 621.4,1576.9 623.9,1575.2 626.2,1573.3 628.4,1571.6 630.4,1570.3 633.2,1569.0 635.6,1568.2 638.0,1568.4 640.4,1569.6 642.8,1571.6 645.7,1574.2 647.7,1576.2 649.9,1578.5 652.3,1581.0 654.7,1583.4 657.2,1585.7 659.3,1587.6 661.5,1589.5 663.8,1591.5 666.1,1593.2 668.3,1594.5 670.6,1595.3 672.8,1595.4 675.0,1594.9 677.2,1594.1 679.5,1593.1 681.7,1592.1 684.1,1591.4 686.2,1591.0 688.5,1590.5 690.8,1590.1 693.1,1589.8 695.4,1589.6 697.5,1589.4 699.4,1589.5 702.3,1589.9 704.8,1590.7 707.0,1591.9 709.0,1593.4 711.9,1598.0 714.8,1603.0 717.0,1605.2 719.5,1607.2 722.1,1609.1 724.4,1610.6 726.9,1612.3 729.2,1613.4 732.0,1613.5 734.0,1612.9 736.3,1611.8 738.6,1610.4 741.1,1608.7 743.6,1606.8 745.8,1604.9 748.0,1602.6 750.3,1600.2 752.6,1597.7 754.9,1595.4 757.0,1593.4 759.4,1591.3 761.7,1589.5 764.0,1587.8 766.2,1586.5 768.5,1585.7 770.7,1585.5 772.7,1585.9 774.8,1586.6 777.2,1587.2 780.0,1587.4 781.7,1587.3 783.5,1587.0 785.4,1586.7 787.4,1586.4 789.5,1586.0 791.6,1585.6 793.7,1585.2 795.9,1584.8 798.0,1584.5 800.0,1584.2 802.0,1584.0 804.0,1583.8 806.0,1583.5 808.0,1583.4 810.0,1583.2 812.1,1583.1 814.1,1583.0 816.1,1583.0 818.1,1583.0 820.1,1583.2 822.1,1583.5 824.1,1583.8 826.1,1584.3 828.1,1584.9 830.1,1585.5 832.1,1586.1 834.1,1586.7 836.1,1587.2 838.1,1587.8 840.1,1588.2 842.1,1588.6 844.3,1589.1 846.4,1589.6 848.6,1590.1 850.7,1590.6 852.8,1591.0 854.8,1591.2 856.7,1591.4 858.5,1591.4 860.1,1591.2 862.7,1590.3 864.8,1588.8 866.6,1586.9 868.3,1584.6 870.1,1582.2 872.1,1579.3 874.2,1575.8 876.2,1572.2 878.2,1568.9 880.2,1566.1 882.5,1563.3 884.6,1561.0 886.8,1559.5 889.2,1559.1 891.3,1559.9 893.5,1561.5 895.8,1563.7 898.0,1566.0 900.2,1568.1 902.3,1570.0 904.3,1572.0 906.2,1574.0 908.2,1576.1 910.2,1578.2 912.2,1580.7 914.1,1583.7 916.1,1586.5 918.1,1588.5 920.2,1589.2 922.0,1588.3 923.8,1586.4 925.7,1583.7 927.7,1580.8 929.8,1578.2 932.2,1576.1 934.0,1575.1 936.0,1574.1 938.1,1573.2 940.3,1572.4 942.5,1571.7 944.6,1571.1 946.7,1570.6 948.6,1570.3 950.3,1570.1 952.8,1570.2 954.9,1570.8 956.7,1571.7 958.4,1572.9 960.3,1574.1 962.3,1575.4 964.3,1577.0 966.3,1578.6 968.3,1580.4 970.3,1582.2 972.3,1584.0 974.2,1585.9 976.2,1587.8 978.2,1589.9 980.3,1592.2 982.2,1594.6 984.3,1597.5 986.4,1600.6 988.5,1603.3 990.5,1605.3 992.3,1606.2 994.6,1605.2 996.5,1602.2 998.3,1598.2 1000.4,1594.2 1002.3,1590.9 1004.3,1587.2 1006.3,1583.3 1008.4,1579.6 1010.4,1576.1 1012.4,1572.9 1014.3,1569.7 1016.3,1566.8 1018.3,1564.2 1020.4,1562.1 1022.3,1560.7 1024.3,1559.6 1026.3,1558.7 1028.3,1558.2 1030.4,1558.0 1032.4,1558.1 1034.4,1558.7 1036.2,1559.9 1038.1,1561.3 1040.1,1563.0 1042.2,1564.6 1044.4,1566.1 1046.2,1567.1 1048.0,1568.2 1050.0,1569.2 1052.0,1570.3 1054.0,1571.3 1056.1,1572.3 1058.3,1573.2 1060.5,1574.1 1062.3,1574.8 1064.3,1575.4 1066.2,1576.1 1068.2,1576.7 1070.3,1577.3 1072.3,1577.9 1074.4,1578.4 1076.4,1578.8 1078.5,1579.0 1080.5,1579.2 1082.5,1579.2 1084.5,1579.1 1086.5,1578.9 1088.5,1578.5 1090.5,1578.2 1092.5,1577.7 1094.5,1577.3 1096.5,1576.8 1098.5,1576.4 1100.5,1576.1 1102.5,1575.8 1104.6,1575.5 1106.8,1575.2 1108.9,1574.9 1111.0,1574.6 1113.1,1574.3 1115.1,1574.0 1117.0,1573.7 1118.8,1573.4 1120.5,1573.1 1123.1,1572.6 1125.5,1572.1 1127.8,1571.6 1129.7,1571.2 1131.3,1570.8 1132.5,1570.5" fill="none" stroke="#d4d4d4" stroke-width="5.5" stroke-opacity="1.0" stroke-linejoin="round" /><polyline points="120.0,1520.8 122.0,1520.8 124.9,1520.9 127.7,1521.8 130.2,1523.7 132.6,1526.3 135.3,1529.5 137.5,1532.6 139.9,1536.2 142.3,1539.8 144.9,1542.9 147.1,1544.9 149.5,1546.8 151.9,1548.3 154.3,1549.6 156.5,1550.6 159.0,1551.2 161.2,1551.2 163.5,1550.9 166.0,1550.6 168.2,1550.2 170.7,1549.6 173.1,1548.9 175.5,1548.5 177.6,1548.6 180.4,1549.6 182.8,1551.5 185.2,1554.4 187.8,1558.8 190.3,1564.2 192.9,1569.7 195.4,1575.1 197.9,1580.5 200.6,1585.1 203.0,1588.0 205.5,1590.5 208.0,1592.5 210.2,1593.7 213.2,1593.4 215.9,1590.9 218.3,1588.0 221.0,1584.3 223.6,1581.3 226.1,1579.2 228.6,1577.8 231.3,1577.4 233.6,1578.0 236.0,1579.2 238.5,1581.0 240.9,1583.2 243.3,1586.0 245.8,1589.3 248.2,1592.9 250.5,1596.6 253.2,1601.8 255.6,1607.2 258.1,1612.0 260.7,1615.8 263.4,1619.0 265.8,1621.5 268.7,1623.8 271.6,1624.4 274.1,1623.7 276.7,1622.1 279.2,1619.6 282.1,1613.4 285.0,1606.2 287.3,1601.5 289.8,1596.8 292.7,1592.8 294.7,1590.9 296.7,1589.3 299.0,1587.9 301.5,1586.8 304.2,1586.1 306.1,1585.8 308.1,1585.8 310.2,1585.8 312.4,1586.0 314.6,1586.3 316.9,1586.5 319.2,1586.8 321.5,1587.0 323.6,1587.2 325.7,1587.5 327.9,1587.8 330.1,1588.2 332.3,1588.5 334.4,1588.8 336.6,1589.0 338.6,1589.0 340.6,1588.9 343.0,1588.5 345.3,1587.7 347.6,1586.8 349.7,1585.8 351.9,1584.8 353.9,1583.9 356.0,1583.2 358.3,1582.7 360.5,1582.3 362.7,1582.0 364.9,1581.8 367.1,1581.6 369.4,1581.3 371.5,1581.0 373.8,1580.5 376.2,1580.0 378.5,1579.6 380.8,1579.3 382.9,1579.2 384.8,1579.3 387.7,1580.1 390.1,1581.4 392.3,1583.1 394.4,1585.1 396.9,1588.7 399.3,1593.0 402.0,1596.6 404.0,1598.3 406.2,1599.9 408.6,1601.2 411.0,1602.1 413.5,1602.4 415.6,1602.1 417.9,1601.3 420.1,1600.2 422.4,1599.0 424.7,1597.7 427.0,1596.6 429.3,1595.5 431.6,1594.3 433.9,1593.1 436.2,1592.1 438.4,1591.3 440.4,1590.9 443.1,1591.2 445.4,1592.2 447.7,1593.5 450.0,1594.7 452.4,1595.6 454.8,1596.4 457.2,1597.3 459.6,1598.5 462.0,1600.1 464.4,1601.9 466.8,1603.9 469.2,1606.2 471.6,1608.9 474.0,1612.1 476.4,1615.1 478.8,1617.7 481.2,1619.9 483.5,1621.8 485.9,1623.1 488.4,1623.5 490.6,1622.9 492.9,1621.6 495.2,1619.8 497.6,1617.8 499.9,1615.8 502.2,1613.7 504.6,1611.2 506.9,1608.7 509.2,1606.3 511.4,1604.3 513.8,1602.3 516.0,1600.6 518.2,1599.3 521.0,1598.5 522.9,1598.5 525.0,1598.8 527.2,1599.3 529.4,1599.8 531.8,1600.3 534.1,1600.6 536.3,1600.4 538.5,1599.8 540.8,1598.9 543.0,1597.8 545.2,1596.6 547.4,1595.3 549.6,1594.0 551.7,1592.8 554.0,1591.4 556.1,1590.0 558.2,1588.5 560.3,1587.1 562.6,1585.9 565.1,1585.1 567.0,1584.8 569.0,1584.5 571.1,1584.5 573.2,1584.5 575.4,1584.5 577.7,1584.7 579.9,1584.8 582.1,1585.0 584.3,1585.1 586.5,1585.2 588.6,1585.4 590.8,1585.7 593.0,1585.9 595.2,1586.2 597.4,1586.4 599.5,1586.7 601.5,1586.9 603.5,1587.0 605.9,1587.2 608.3,1587.4 610.5,1587.5 612.7,1587.6 614.8,1587.6 616.8,1587.4 618.8,1587.0 621.4,1585.9 623.9,1584.2 626.2,1582.3 628.4,1580.6 630.4,1579.3 633.2,1578.0 635.6,1577.2 638.0,1577.4 640.4,1578.6 642.8,1580.6 645.7,1583.2 647.7,1585.2 649.9,1587.5 652.3,1590.0 654.7,1592.4 657.2,1594.7 659.3,1596.6 661.5,1598.5 663.8,1600.5 666.1,1602.2 668.3,1603.5 670.6,1604.3 672.8,1604.4 675.0,1603.9 677.2,1603.1 679.5,1602.1 681.7,1601.1 684.1,1600.4 686.2,1600.0 688.5,1599.5 690.8,1599.1 693.1,1598.8 695.4,1598.6 697.5,1598.4 699.4,1598.5 702.3,1598.9 704.8,1599.7 707.0,1600.9 709.0,1602.4 711.9,1607.0 714.8,1612.0 717.0,1614.2 719.5,1616.2 722.1,1618.1 724.4,1619.6 726.9,1621.3 729.2,1622.4 732.0,1622.5 734.0,1621.9 736.3,1620.8 738.6,1619.4 741.1,1617.7 743.6,1615.8 745.8,1613.9 748.0,1611.6 750.3,1609.2 752.6,1606.7 754.9,1604.4 757.0,1602.4 759.4,1600.3 761.7,1598.5 764.0,1596.8 766.2,1595.5 768.5,1594.7 770.7,1594.5 772.7,1594.9 774.8,1595.6 777.2,1596.2 780.0,1596.4 781.7,1596.3 783.5,1596.0 785.4,1595.7 787.4,1595.4 789.5,1595.0 791.6,1594.6 793.7,1594.2 795.9,1593.8 798.0,1593.5 800.0,1593.2 802.0,1593.0 804.0,1592.8 806.0,1592.5 808.0,1592.4 810.0,1592.2 812.1,1592.1 814.1,1592.0 816.1,1592.0 818.1,1592.0 820.1,1592.2 822.1,1592.5 824.1,1592.8 826.1,1593.3 828.1,1593.9 830.1,1594.5 832.1,1595.1 834.1,1595.7 836.1,1596.2 838.1,1596.8 840.1,1597.2 842.1,1597.6 844.3,1598.1 846.4,1598.6 848.6,1599.1 850.7,1599.6 852.8,1600.0 854.8,1600.2 856.7,1600.4 858.5,1600.4 860.1,1600.2 862.7,1599.3 864.8,1597.8 866.6,1595.9 868.3,1593.6 870.1,1591.2 872.1,1588.3 874.2,1584.8 876.2,1581.2 878.2,1577.9 880.2,1575.1 882.5,1572.3 884.6,1570.0 886.8,1568.5 889.2,1568.1 891.3,1568.9 893.5,1570.5 895.8,1572.7 898.0,1575.0 900.2,1577.1 902.3,1579.0 904.3,1581.0 906.2,1583.0 908.2,1585.1 910.2,1587.2 912.2,1589.7 914.1,1592.7 916.1,1595.5 918.1,1597.5 920.2,1598.2 922.0,1597.3 923.8,1595.4 925.7,1592.7 927.7,1589.8 929.8,1587.2 932.2,1585.1 934.0,1584.1 936.0,1583.1 938.1,1582.2 940.3,1581.4 942.5,1580.7 944.6,1580.1 946.7,1579.6 948.6,1579.3 950.3,1579.1 952.8,1579.2 954.9,1579.8 956.7,1580.7 958.4,1581.9 960.3,1583.1 962.3,1584.4 964.3,1586.0 966.3,1587.6 968.3,1589.4 970.3,1591.2 972.3,1593.0 974.2,1594.9 976.2,1596.8 978.2,1598.9 980.3,1601.2 982.2,1603.6 984.3,1606.5 986.4,1609.6 988.5,1612.3 990.5,1614.3 992.3,1615.2 994.6,1614.2 996.5,1611.2 998.3,1607.2 1000.4,1603.2 1002.3,1599.9 1004.3,1596.2 1006.3,1592.3 1008.4,1588.6 1010.4,1585.1 1012.4,1581.9 1014.3,1578.7 1016.3,1575.8 1018.3,1573.2 1020.4,1571.1 1022.3,1569.7 1024.3,1568.6 1026.3,1567.7 1028.3,1567.2 1030.4,1567.0 1032.4,1567.1 1034.4,1567.7 1036.2,1568.9 1038.1,1570.3 1040.1,1572.0 1042.2,1573.6 1044.4,1575.1 1046.2,1576.1 1048.0,1577.2 1050.0,1578.2 1052.0,1579.3 1054.0,1580.3 1056.1,1581.3 1058.3,1582.2 1060.5,1583.1 1062.3,1583.8 1064.3,1584.4 1066.2,1585.1 1068.2,1585.7 1070.3,1586.3 1072.3,1586.9 1074.4,1587.4 1076.4,1587.8 1078.5,1588.0 1080.5,1588.2 1082.5,1588.2 1084.5,1588.1 1086.5,1587.9 1088.5,1587.5 1090.5,1587.2 1092.5,1586.7 1094.5,1586.3 1096.5,1585.8 1098.5,1585.4 1100.5,1585.1 1102.5,1584.8 1104.6,1584.5 1106.8,1584.2 1108.9,1583.9 1111.0,1583.6 1113.1,1583.3 1115.1,1583.0 1117.0,1582.7 1118.8,1582.4 1120.5,1582.1 1123.1,1581.6 1125.5,1581.1 1127.8,1580.6 1129.7,1580.2 1131.3,1579.8 1132.5,1579.5" fill="none" stroke="#606060" stroke-width="4" stroke-opacity="1.0" stroke-linejoin="round" /><polyline points="120.0,1538.3 122.0,1538.3 124.9,1538.4 127.7,1539.3 130.2,1541.2 132.6,1543.8 135.3,1547.0 137.5,1550.1 139.9,1553.7 142.3,1557.3 144.9,1560.4 147.1,1562.4 149.5,1564.3 151.9,1565.8 154.3,1567.1 156.5,1568.1 159.0,1568.7 161.2,1568.7 163.5,1568.4 166.0,1568.1 168.2,1567.7 170.7,1567.1 173.1,1566.4 175.5,1566.0 177.6,1566.1 180.4,1567.1 182.8,1569.0 185.2,1571.9 187.8,1576.3 190.3,1581.7 192.9,1587.2 195.4,1592.6 197.9,1598.0 200.6,1602.6 203.0,1605.5 205.5,1608.0 208.0,1610.0 210.2,1611.2 213.2,1610.9 215.9,1608.4 218.3,1605.5 221.0,1601.8 223.6,1598.8 226.1,1596.7 228.6,1595.3 231.3,1594.9 233.6,1595.5 236.0,1596.7 238.5,1598.5 240.9,1600.7 243.3,1603.5 245.8,1606.8 248.2,1610.4 250.5,1614.1 253.2,1619.3 255.6,1624.7 258.1,1629.5 260.7,1633.3 263.4,1636.5 265.8,1639.0 268.7,1641.3 271.6,1641.9 274.1,1641.2 276.7,1639.6 279.2,1637.1 282.1,1630.9 285.0,1623.7 287.3,1619.0 289.8,1614.3 292.7,1610.3 294.7,1608.4 296.7,1606.8 299.0,1605.4 301.5,1604.3 304.2,1603.6 306.1,1603.3 308.1,1603.3 310.2,1603.3 312.4,1603.5 314.6,1603.8 316.9,1604.0 319.2,1604.3 321.5,1604.5 323.6,1604.7 325.7,1605.0 327.9,1605.3 330.1,1605.7 332.3,1606.0 334.4,1606.3 336.6,1606.5 338.6,1606.5 340.6,1606.4 343.0,1606.0 345.3,1605.2 347.6,1604.3 349.7,1603.3 351.9,1602.3 353.9,1601.4 356.0,1600.7 358.3,1600.2 360.5,1599.8 362.7,1599.5 364.9,1599.3 367.1,1599.1 369.4,1598.8 371.5,1598.5 373.8,1598.0 376.2,1597.5 378.5,1597.1 380.8,1596.8 382.9,1596.7 384.8,1596.8 387.7,1597.6 390.1,1598.9 392.3,1600.6 394.4,1602.6 396.9,1606.2 399.3,1610.5 402.0,1614.1 404.0,1615.8 406.2,1617.4 408.6,1618.7 411.0,1619.6 413.5,1619.9 415.6,1619.6 417.9,1618.8 420.1,1617.7 422.4,1616.5 424.7,1615.2 427.0,1614.1 429.3,1613.0 431.6,1611.8 433.9,1610.6 436.2,1609.6 438.4,1608.8 440.4,1608.4 443.1,1608.7 445.4,1609.7 447.7,1611.0 450.0,1612.2 452.4,1613.1 454.8,1613.9 457.2,1614.8 459.6,1616.0 462.0,1617.6 464.4,1619.4 466.8,1621.4 469.2,1623.7 471.6,1626.4 474.0,1629.6 476.4,1632.6 478.8,1635.2 481.2,1637.4 483.5,1639.3 485.9,1640.6 488.4,1641.0 490.6,1640.4 492.9,1639.1 495.2,1637.3 497.6,1635.3 499.9,1633.3 502.2,1631.2 504.6,1628.7 506.9,1626.2 509.2,1623.8 511.4,1621.8 513.8,1619.8 516.0,1618.1 518.2,1616.8 521.0,1616.0 522.9,1616.0 525.0,1616.3 527.2,1616.8 529.4,1617.3 531.8,1617.8 534.1,1618.1 536.3,1617.9 538.5,1617.3 540.8,1616.4 543.0,1615.3 545.2,1614.1 547.4,1612.8 549.6,1611.5 551.7,1610.3 554.0,1608.9 556.1,1607.5 558.2,1606.0 560.3,1604.6 562.6,1603.4 565.1,1602.6 567.0,1602.3 569.0,1602.0 571.1,1602.0 573.2,1602.0 575.4,1602.0 577.7,1602.2 579.9,1602.3 582.1,1602.5 584.3,1602.6 586.5,1602.7 588.6,1602.9 590.8,1603.2 593.0,1603.4 595.2,1603.7 597.4,1603.9 599.5,1604.2 601.5,1604.4 603.5,1604.5 605.9,1604.7 608.3,1604.9 610.5,1605.0 612.7,1605.1 614.8,1605.1 616.8,1604.9 618.8,1604.5 621.4,1603.4 623.9,1601.7 626.2,1599.8 628.4,1598.1 630.4,1596.8 633.2,1595.5 635.6,1594.7 638.0,1594.9 640.4,1596.1 642.8,1598.1 645.7,1600.7 647.7,1602.7 649.9,1605.0 652.3,1607.5 654.7,1609.9 657.2,1612.2 659.3,1614.1 661.5,1616.0 663.8,1618.0 666.1,1619.7 668.3,1621.0 670.6,1621.8 672.8,1621.9 675.0,1621.4 677.2,1620.6 679.5,1619.6 681.7,1618.6 684.1,1617.9 686.2,1617.5 688.5,1617.0 690.8,1616.6 693.1,1616.3 695.4,1616.1 697.5,1615.9 699.4,1616.0 702.3,1616.4 704.8,1617.2 707.0,1618.4 709.0,1619.9 711.9,1624.5 714.8,1629.5 717.0,1631.7 719.5,1633.7 722.1,1635.6 724.4,1637.1 726.9,1638.8 729.2,1639.9 732.0,1640.0 734.0,1639.4 736.3,1638.3 738.6,1636.9 741.1,1635.2 743.6,1633.3 745.8,1631.4 748.0,1629.1 750.3,1626.7 752.6,1624.2 754.9,1621.9 757.0,1619.9 759.4,1617.8 761.7,1616.0 764.0,1614.3 766.2,1613.0 768.5,1612.2 770.7,1612.0 772.7,1612.4 774.8,1613.1 777.2,1613.7 780.0,1613.9 781.7,1613.8 783.5,1613.5 785.4,1613.2 787.4,1612.9 789.5,1612.5 791.6,1612.1 793.7,1611.7 795.9,1611.3 798.0,1611.0 800.0,1610.7 802.0,1610.5 804.0,1610.3 806.0,1610.0 808.0,1609.9 810.0,1609.7 812.1,1609.6 814.1,1609.5 816.1,1609.5 818.1,1609.5 820.1,1609.7 822.1,1610.0 824.1,1610.3 826.1,1610.8 828.1,1611.4 830.1,1612.0 832.1,1612.6 834.1,1613.2 836.1,1613.7 838.1,1614.3 840.1,1614.7 842.1,1615.1 844.3,1615.6 846.4,1616.1 848.6,1616.6 850.7,1617.1 852.8,1617.5 854.8,1617.7 856.7,1617.9 858.5,1617.9 860.1,1617.7 862.7,1616.8 864.8,1615.3 866.6,1613.4 868.3,1611.1 870.1,1608.7 872.1,1605.8 874.2,1602.3 876.2,1598.7 878.2,1595.4 880.2,1592.6 882.5,1589.8 884.6,1587.5 886.8,1586.0 889.2,1585.6 891.3,1586.4 893.5,1588.0 895.8,1590.2 898.0,1592.5 900.2,1594.6 902.3,1596.5 904.3,1598.5 906.2,1600.5 908.2,1602.6 910.2,1604.7 912.2,1607.2 914.1,1610.2 916.1,1613.0 918.1,1615.0 920.2,1615.7 922.0,1614.8 923.8,1612.9 925.7,1610.2 927.7,1607.3 929.8,1604.7 932.2,1602.6 934.0,1601.6 936.0,1600.6 938.1,1599.7 940.3,1598.9 942.5,1598.2 944.6,1597.6 946.7,1597.1 948.6,1596.8 950.3,1596.6 952.8,1596.7 954.9,1597.3 956.7,1598.2 958.4,1599.4 960.3,1600.6 962.3,1601.9 964.3,1603.5 966.3,1605.1 968.3,1606.9 970.3,1608.7 972.3,1610.5 974.2,1612.4 976.2,1614.3 978.2,1616.4 980.3,1618.7 982.2,1621.1 984.3,1624.0 986.4,1627.1 988.5,1629.8 990.5,1631.8 992.3,1632.7 994.6,1631.7 996.5,1628.7 998.3,1624.7 1000.4,1620.7 1002.3,1617.4 1004.3,1613.7 1006.3,1609.8 1008.4,1606.1 1010.4,1602.6 1012.4,1599.4 1014.3,1596.2 1016.3,1593.3 1018.3,1590.7 1020.4,1588.6 1022.3,1587.2 1024.3,1586.1 1026.3,1585.2 1028.3,1584.7 1030.4,1584.5 1032.4,1584.6 1034.4,1585.2 1036.2,1586.4 1038.1,1587.8 1040.1,1589.5 1042.2,1591.1 1044.4,1592.6 1046.2,1593.6 1048.0,1594.7 1050.0,1595.7 1052.0,1596.8 1054.0,1597.8 1056.1,1598.8 1058.3,1599.7 1060.5,1600.6 1062.3,1601.3 1064.3,1601.9 1066.2,1602.6 1068.2,1603.2 1070.3,1603.8 1072.3,1604.4 1074.4,1604.9 1076.4,1605.3 1078.5,1605.5 1080.5,1605.7 1082.5,1605.7 1084.5,1605.6 1086.5,1605.4 1088.5,1605.0 1090.5,1604.7 1092.5,1604.2 1094.5,1603.8 1096.5,1603.3 1098.5,1602.9 1100.5,1602.6 1102.5,1602.3 1104.6,1602.0 1106.8,1601.7 1108.9,1601.4 1111.0,1601.1 1113.1,1600.8 1115.1,1600.5 1117.0,1600.2 1118.8,1599.9 1120.5,1599.6 1123.1,1599.1 1125.5,1598.6 1127.8,1598.1 1129.7,1597.7 1131.3,1597.3 1132.5,1597.0" fill="none" stroke="#808080" stroke-width="4.5" stroke-opacity="1.0" stroke-linejoin="round" /></g></g>
<filter id="nD1" x="0" y="0" width="100%" height="100%" color-interpolation-filters="sRGB"><feTurbulence type="fractalNoise" baseFrequency="0.3" numOctaves="1" seed="33"/><feColorMatrix type="matrix" values="0 0 0 0 1  0 0 0 0 1  0 0 0 0 1  0.9 0 0 0 -0.45"/><feGaussianBlur stdDeviation="0.7"/></filter>
<clipPath id="c_nD1"><polygon points="120.0,1502.8 122.0,1502.8 124.9,1502.9 127.7,1503.8 130.2,1505.7 132.6,1508.3 135.3,1511.5 137.5,1514.6 139.9,1518.2 142.3,1521.8 144.9,1524.9 147.1,1526.9 149.5,1528.8 151.9,1530.3 154.3,1531.6 156.5,1532.6 159.0,1533.2 161.2,1533.2 163.5,1532.9 166.0,1532.6 168.2,1532.2 170.7,1531.6 173.1,1530.9 175.5,1530.5 177.6,1530.6 180.4,1531.6 182.8,1533.5 185.2,1536.4 187.8,1540.8 190.3,1546.2 192.9,1551.7 195.4,1557.1 197.9,1562.5 200.6,1567.1 203.0,1570.0 205.5,1572.5 208.0,1574.5 210.2,1575.7 213.2,1575.4 215.9,1572.9 218.3,1570.0 221.0,1566.3 223.6,1563.3 226.1,1561.2 228.6,1559.8 231.3,1559.4 233.6,1560.0 236.0,1561.2 238.5,1563.0 240.9,1565.2 243.3,1568.0 245.8,1571.3 248.2,1574.9 250.5,1578.6 253.2,1583.8 255.6,1589.2 258.1,1594.0 260.7,1597.8 263.4,1601.0 265.8,1603.5 268.7,1605.8 271.6,1606.4 274.1,1605.7 276.7,1604.1 279.2,1601.6 282.1,1595.4 285.0,1588.2 287.3,1583.5 289.8,1578.8 292.7,1574.8 294.7,1572.9 296.7,1571.3 299.0,1569.9 301.5,1568.8 304.2,1568.1 306.1,1567.8 308.1,1567.8 310.2,1567.8 312.4,1568.0 314.6,1568.3 316.9,1568.5 319.2,1568.8 321.5,1569.0 323.6,1569.2 325.7,1569.5 327.9,1569.8 330.1,1570.2 332.3,1570.5 334.4,1570.8 336.6,1571.0 338.6,1571.0 340.6,1570.9 343.0,1570.5 345.3,1569.7 347.6,1568.8 349.7,1567.8 351.9,1566.8 353.9,1565.9 356.0,1565.2 358.3,1564.7 360.5,1564.3 362.7,1564.0 364.9,1563.8 367.1,1563.6 369.4,1563.3 371.5,1563.0 373.8,1562.5 376.2,1562.0 378.5,1561.6 380.8,1561.3 382.9,1561.2 384.8,1561.3 387.7,1562.1 390.1,1563.4 392.3,1565.1 394.4,1567.1 396.9,1570.7 399.3,1575.0 402.0,1578.6 404.0,1580.3 406.2,1581.9 408.6,1583.2 411.0,1584.1 413.5,1584.4 415.6,1584.1 417.9,1583.3 420.1,1582.2 422.4,1581.0 424.7,1579.7 427.0,1578.6 429.3,1577.5 431.6,1576.3 433.9,1575.1 436.2,1574.1 438.4,1573.3 440.4,1572.9 443.1,1573.2 445.4,1574.2 447.7,1575.5 450.0,1576.7 452.4,1577.6 454.8,1578.4 457.2,1579.3 459.6,1580.5 462.0,1582.1 464.4,1583.9 466.8,1585.9 469.2,1588.2 471.6,1590.9 474.0,1594.1 476.4,1597.1 478.8,1599.7 481.2,1601.9 483.5,1603.8 485.9,1605.1 488.4,1605.5 490.6,1604.9 492.9,1603.6 495.2,1601.8 497.6,1599.8 499.9,1597.8 502.2,1595.7 504.6,1593.2 506.9,1590.7 509.2,1588.3 511.4,1586.3 513.8,1584.3 516.0,1582.6 518.2,1581.3 521.0,1580.5 522.9,1580.5 525.0,1580.8 527.2,1581.3 529.4,1581.8 531.8,1582.3 534.1,1582.6 536.3,1582.4 538.5,1581.8 540.8,1580.9 543.0,1579.8 545.2,1578.6 547.4,1577.3 549.6,1576.0 551.7,1574.8 554.0,1573.4 556.1,1572.0 558.2,1570.5 560.3,1569.1 562.6,1567.9 565.1,1567.1 567.0,1566.8 569.0,1566.5 571.1,1566.5 573.2,1566.5 575.4,1566.5 577.7,1566.7 579.9,1566.8 582.1,1567.0 584.3,1567.1 586.5,1567.2 588.6,1567.4 590.8,1567.7 593.0,1567.9 595.2,1568.2 597.4,1568.4 599.5,1568.7 601.5,1568.9 603.5,1569.0 605.9,1569.2 608.3,1569.4 610.5,1569.5 612.7,1569.6 614.8,1569.6 616.8,1569.4 618.8,1569.0 621.4,1567.9 623.9,1566.2 626.2,1564.3 628.4,1562.6 630.4,1561.3 633.2,1560.0 635.6,1559.2 638.0,1559.4 640.4,1560.6 642.8,1562.6 645.7,1565.2 647.7,1567.2 649.9,1569.5 652.3,1572.0 654.7,1574.4 657.2,1576.7 659.3,1578.6 661.5,1580.5 663.8,1582.5 666.1,1584.2 668.3,1585.5 670.6,1586.3 672.8,1586.4 675.0,1585.9 677.2,1585.1 679.5,1584.1 681.7,1583.1 684.1,1582.4 686.2,1582.0 688.5,1581.5 690.8,1581.1 693.1,1580.8 695.4,1580.6 697.5,1580.4 699.4,1580.5 702.3,1580.9 704.8,1581.7 707.0,1582.9 709.0,1584.4 711.9,1589.0 714.8,1594.0 717.0,1596.2 719.5,1598.2 722.1,1600.1 724.4,1601.6 726.9,1603.3 729.2,1604.4 732.0,1604.5 734.0,1603.9 736.3,1602.8 738.6,1601.4 741.1,1599.7 743.6,1597.8 745.8,1595.9 748.0,1593.6 750.3,1591.2 752.6,1588.7 754.9,1586.4 757.0,1584.4 759.4,1582.3 761.7,1580.5 764.0,1578.8 766.2,1577.5 768.5,1576.7 770.7,1576.5 772.7,1576.9 774.8,1577.6 777.2,1578.2 780.0,1578.4 781.7,1578.3 783.5,1578.0 785.4,1577.7 787.4,1577.4 789.5,1577.0 791.6,1576.6 793.7,1576.2 795.9,1575.8 798.0,1575.5 800.0,1575.2 802.0,1575.0 804.0,1574.8 806.0,1574.5 808.0,1574.4 810.0,1574.2 812.1,1574.1 814.1,1574.0 816.1,1574.0 818.1,1574.0 820.1,1574.2 822.1,1574.5 824.1,1574.8 826.1,1575.3 828.1,1575.9 830.1,1576.5 832.1,1577.1 834.1,1577.7 836.1,1578.2 838.1,1578.8 840.1,1579.2 842.1,1579.6 844.3,1580.1 846.4,1580.6 848.6,1581.1 850.7,1581.6 852.8,1582.0 854.8,1582.2 856.7,1582.4 858.5,1582.4 860.1,1582.2 862.7,1581.3 864.8,1579.8 866.6,1577.9 868.3,1575.6 870.1,1573.2 872.1,1570.3 874.2,1566.8 876.2,1563.2 878.2,1559.9 880.2,1557.1 882.5,1554.3 884.6,1552.0 886.8,1550.5 889.2,1550.1 891.3,1550.9 893.5,1552.5 895.8,1554.7 898.0,1557.0 900.2,1559.1 902.3,1561.0 904.3,1563.0 906.2,1565.0 908.2,1567.1 910.2,1569.2 912.2,1571.7 914.1,1574.7 916.1,1577.5 918.1,1579.5 920.2,1580.2 922.0,1579.3 923.8,1577.4 925.7,1574.7 927.7,1571.8 929.8,1569.2 932.2,1567.1 934.0,1566.1 936.0,1565.1 938.1,1564.2 940.3,1563.4 942.5,1562.7 944.6,1562.1 946.7,1561.6 948.6,1561.3 950.3,1561.1 952.8,1561.2 954.9,1561.8 956.7,1562.7 958.4,1563.9 960.3,1565.1 962.3,1566.4 964.3,1568.0 966.3,1569.6 968.3,1571.4 970.3,1573.2 972.3,1575.0 974.2,1576.9 976.2,1578.8 978.2,1580.9 980.3,1583.2 982.2,1585.6 984.3,1588.5 986.4,1591.6 988.5,1594.3 990.5,1596.3 992.3,1597.2 994.6,1596.2 996.5,1593.2 998.3,1589.2 1000.4,1585.2 1002.3,1581.9 1004.3,1578.2 1006.3,1574.3 1008.4,1570.6 1010.4,1567.1 1012.4,1563.9 1014.3,1560.7 1016.3,1557.8 1018.3,1555.2 1020.4,1553.1 1022.3,1551.7 1024.3,1550.6 1026.3,1549.7 1028.3,1549.2 1030.4,1549.0 1032.4,1549.1 1034.4,1549.7 1036.2,1550.9 1038.1,1552.3 1040.1,1554.0 1042.2,1555.6 1044.4,1557.1 1046.2,1558.1 1048.0,1559.2 1050.0,1560.2 1052.0,1561.3 1054.0,1562.3 1056.1,1563.3 1058.3,1564.2 1060.5,1565.1 1062.3,1565.8 1064.3,1566.4 1066.2,1567.1 1068.2,1567.7 1070.3,1568.3 1072.3,1568.9 1074.4,1569.4 1076.4,1569.8 1078.5,1570.0 1080.5,1570.2 1082.5,1570.2 1084.5,1570.1 1086.5,1569.9 1088.5,1569.5 1090.5,1569.2 1092.5,1568.7 1094.5,1568.3 1096.5,1567.8 1098.5,1567.4 1100.5,1567.1 1102.5,1566.8 1104.6,1566.5 1106.8,1566.2 1108.9,1565.9 1111.0,1565.6 1113.1,1565.3 1115.1,1565.0 1117.0,1564.7 1118.8,1564.4 1120.5,1564.1 1123.1,1563.6 1125.5,1563.1 1127.8,1562.6 1129.7,1562.2 1131.3,1561.8 1132.5,1561.5 1132.5,1601.5 1131.3,1601.8 1129.7,1602.2 1127.8,1602.6 1125.5,1603.1 1123.1,1603.6 1120.5,1604.1 1118.8,1604.4 1117.0,1604.7 1115.1,1605.0 1113.1,1605.3 1111.0,1605.6 1108.9,1605.9 1106.8,1606.2 1104.6,1606.5 1102.5,1606.8 1100.5,1607.1 1098.5,1607.4 1096.5,1607.8 1094.5,1608.3 1092.5,1608.7 1090.5,1609.2 1088.5,1609.5 1086.5,1609.9 1084.5,1610.1 1082.5,1610.2 1080.5,1610.2 1078.5,1610.0 1076.4,1609.8 1074.4,1609.4 1072.3,1608.9 1070.3,1608.3 1068.2,1607.7 1066.2,1607.1 1064.3,1606.4 1062.3,1605.8 1060.5,1605.1 1058.3,1604.2 1056.1,1603.3 1054.0,1602.3 1052.0,1601.3 1050.0,1600.2 1048.0,1599.2 1046.2,1598.1 1044.4,1597.1 1042.2,1595.6 1040.1,1594.0 1038.1,1592.3 1036.2,1590.9 1034.4,1589.7 1032.4,1589.1 1030.4,1589.0 1028.3,1589.2 1026.3,1589.7 1024.3,1590.6 1022.3,1591.7 1020.4,1593.1 1018.3,1595.2 1016.3,1597.8 1014.3,1600.7 1012.4,1603.9 1010.4,1607.1 1008.4,1610.6 1006.3,1614.3 1004.3,1618.2 1002.3,1621.9 1000.4,1625.2 998.3,1629.2 996.5,1633.2 994.6,1636.2 992.3,1637.2 990.5,1636.3 988.5,1634.3 986.4,1631.6 984.3,1628.5 982.2,1625.6 980.3,1623.2 978.2,1620.9 976.2,1618.8 974.2,1616.9 972.3,1615.0 970.3,1613.2 968.3,1611.4 966.3,1609.6 964.3,1608.0 962.3,1606.4 960.3,1605.1 958.4,1603.9 956.7,1602.7 954.9,1601.8 952.8,1601.2 950.3,1601.1 948.6,1601.3 946.7,1601.6 944.6,1602.1 942.5,1602.7 940.3,1603.4 938.1,1604.2 936.0,1605.1 934.0,1606.1 932.2,1607.1 929.8,1609.2 927.7,1611.8 925.7,1614.7 923.8,1617.4 922.0,1619.3 920.2,1620.2 918.1,1619.5 916.1,1617.5 914.1,1614.7 912.2,1611.7 910.2,1609.2 908.2,1607.1 906.2,1605.0 904.3,1603.0 902.3,1601.0 900.2,1599.1 898.0,1597.0 895.8,1594.7 893.5,1592.5 891.3,1590.9 889.2,1590.1 886.8,1590.5 884.6,1592.0 882.5,1594.3 880.2,1597.1 878.2,1599.9 876.2,1603.2 874.2,1606.8 872.1,1610.3 870.1,1613.2 868.3,1615.6 866.6,1617.9 864.8,1619.8 862.7,1621.3 860.1,1622.2 858.5,1622.4 856.7,1622.4 854.8,1622.2 852.8,1622.0 850.7,1621.6 848.6,1621.1 846.4,1620.6 844.3,1620.1 842.1,1619.6 840.1,1619.2 838.1,1618.8 836.1,1618.2 834.1,1617.7 832.1,1617.1 830.1,1616.5 828.1,1615.9 826.1,1615.3 824.1,1614.8 822.1,1614.5 820.1,1614.2 818.1,1614.0 816.1,1614.0 814.1,1614.0 812.1,1614.1 810.0,1614.2 808.0,1614.4 806.0,1614.5 804.0,1614.8 802.0,1615.0 800.0,1615.2 798.0,1615.5 795.9,1615.8 793.7,1616.2 791.6,1616.6 789.5,1617.0 787.4,1617.4 785.4,1617.7 783.5,1618.0 781.7,1618.3 780.0,1618.4 777.2,1618.2 774.8,1617.6 772.7,1616.9 770.7,1616.5 768.5,1616.7 766.2,1617.5 764.0,1618.8 761.7,1620.5 759.4,1622.3 757.0,1624.4 754.9,1626.4 752.6,1628.7 750.3,1631.2 748.0,1633.6 745.8,1635.9 743.6,1637.8 741.1,1639.7 738.6,1641.4 736.3,1642.8 734.0,1643.9 732.0,1644.5 729.2,1644.4 726.9,1643.3 724.4,1641.6 722.1,1640.1 719.5,1638.2 717.0,1636.2 714.8,1634.0 711.9,1629.0 709.0,1624.4 707.0,1622.9 704.8,1621.7 702.3,1620.9 699.4,1620.5 697.5,1620.4 695.4,1620.6 693.1,1620.8 690.8,1621.1 688.5,1621.5 686.2,1622.0 684.1,1622.4 681.7,1623.1 679.5,1624.1 677.2,1625.1 675.0,1625.9 672.8,1626.4 670.6,1626.3 668.3,1625.5 666.1,1624.2 663.8,1622.5 661.5,1620.5 659.3,1618.6 657.2,1616.7 654.7,1614.4 652.3,1612.0 649.9,1609.5 647.7,1607.2 645.7,1605.2 642.8,1602.6 640.4,1600.6 638.0,1599.4 635.6,1599.2 633.2,1600.0 630.4,1601.3 628.4,1602.6 626.2,1604.3 623.9,1606.2 621.4,1607.9 618.8,1609.0 616.8,1609.4 614.8,1609.6 612.7,1609.6 610.5,1609.5 608.3,1609.4 605.9,1609.2 603.5,1609.0 601.5,1608.9 599.5,1608.7 597.4,1608.4 595.2,1608.2 593.0,1607.9 590.8,1607.7 588.6,1607.4 586.5,1607.2 584.3,1607.1 582.1,1607.0 579.9,1606.8 577.7,1606.7 575.4,1606.5 573.2,1606.5 571.1,1606.5 569.0,1606.5 567.0,1606.8 565.1,1607.1 562.6,1607.9 560.3,1609.1 558.2,1610.5 556.1,1612.0 554.0,1613.4 551.7,1614.8 549.6,1616.0 547.4,1617.3 545.2,1618.6 543.0,1619.8 540.8,1620.9 538.5,1621.8 536.3,1622.4 534.1,1622.6 531.8,1622.3 529.4,1621.8 527.2,1621.3 525.0,1620.8 522.9,1620.5 521.0,1620.5 518.2,1621.3 516.0,1622.6 513.8,1624.3 511.4,1626.3 509.2,1628.3 506.9,1630.7 504.6,1633.2 502.2,1635.7 499.9,1637.8 497.6,1639.8 495.2,1641.8 492.9,1643.6 490.6,1644.9 488.4,1645.5 485.9,1645.1 483.5,1643.8 481.2,1641.9 478.8,1639.7 476.4,1637.1 474.0,1634.1 471.6,1630.9 469.2,1628.2 466.8,1625.9 464.4,1623.9 462.0,1622.1 459.6,1620.5 457.2,1619.3 454.8,1618.4 452.4,1617.6 450.0,1616.7 447.7,1615.5 445.4,1614.2 443.1,1613.2 440.4,1612.9 438.4,1613.3 436.2,1614.1 433.9,1615.1 431.6,1616.3 429.3,1617.5 427.0,1618.6 424.7,1619.7 422.4,1621.0 420.1,1622.2 417.9,1623.3 415.6,1624.1 413.5,1624.4 411.0,1624.1 408.6,1623.2 406.2,1621.9 404.0,1620.3 402.0,1618.6 399.3,1615.0 396.9,1610.7 394.4,1607.1 392.3,1605.1 390.1,1603.4 387.7,1602.1 384.8,1601.3 382.9,1601.2 380.8,1601.3 378.5,1601.6 376.2,1602.0 373.8,1602.5 371.5,1603.0 369.4,1603.3 367.1,1603.6 364.9,1603.8 362.7,1604.0 360.5,1604.3 358.3,1604.7 356.0,1605.2 353.9,1605.9 351.9,1606.8 349.7,1607.8 347.6,1608.8 345.3,1609.7 343.0,1610.5 340.6,1610.9 338.6,1611.0 336.6,1611.0 334.4,1610.8 332.3,1610.5 330.1,1610.2 327.9,1609.8 325.7,1609.5 323.6,1609.2 321.5,1609.0 319.2,1608.8 316.9,1608.5 314.6,1608.3 312.4,1608.0 310.2,1607.8 308.1,1607.8 306.1,1607.8 304.2,1608.1 301.5,1608.8 299.0,1609.9 296.7,1611.3 294.7,1612.9 292.7,1614.8 289.8,1618.8 287.3,1623.5 285.0,1628.2 282.1,1635.4 279.2,1641.6 276.7,1644.1 274.1,1645.7 271.6,1646.4 268.7,1645.8 265.8,1643.5 263.4,1641.0 260.7,1637.8 258.1,1634.0 255.6,1629.2 253.2,1623.8 250.5,1618.6 248.2,1614.9 245.8,1611.3 243.3,1608.0 240.9,1605.2 238.5,1603.0 236.0,1601.2 233.6,1600.0 231.3,1599.4 228.6,1599.8 226.1,1601.2 223.6,1603.3 221.0,1606.3 218.3,1610.0 215.9,1612.9 213.2,1615.4 210.2,1615.7 208.0,1614.5 205.5,1612.5 203.0,1610.0 200.6,1607.1 197.9,1602.5 195.4,1597.1 192.9,1591.7 190.3,1586.2 187.8,1580.8 185.2,1576.4 182.8,1573.5 180.4,1571.6 177.6,1570.6 175.5,1570.5 173.1,1570.9 170.7,1571.6 168.2,1572.2 166.0,1572.6 163.5,1572.9 161.2,1573.2 159.0,1573.2 156.5,1572.6 154.3,1571.6 151.9,1570.3 149.5,1568.8 147.1,1566.9 144.9,1564.9 142.3,1561.8 139.9,1558.2 137.5,1554.6 135.3,1551.5 132.6,1548.3 130.2,1545.7 127.7,1543.8 124.9,1542.9 122.0,1542.8 120.0,1542.8"/></clipPath>
<g clip-path="url(#c_nD1)"><rect x="121" y="1432.8" width="1011.5" height="300.29999999999995" filter="url(#nD1)"/></g>
<polyline points="120.0,1507.8 122.0,1507.8 124.9,1507.9 127.7,1508.8 130.2,1510.7 132.6,1513.3 135.3,1516.5 137.5,1519.6 139.9,1523.2 142.3,1526.8 144.9,1529.9 147.1,1531.9 149.5,1533.8 151.9,1535.3 154.3,1536.6 156.5,1537.6 159.0,1538.2 161.2,1538.2 163.5,1537.9 166.0,1537.6 168.2,1537.2 170.7,1536.6 173.1,1535.9 175.5,1535.5 177.6,1535.6 180.4,1536.6 182.8,1538.5 185.2,1541.4 187.8,1545.8 190.3,1551.2 192.9,1556.7 195.4,1562.1 197.9,1567.5 200.6,1572.1 203.0,1575.0 205.5,1577.5 208.0,1579.5 210.2,1580.7 213.2,1580.4 215.9,1577.9 218.3,1575.0 221.0,1571.3 223.6,1568.3 226.1,1566.2 228.6,1564.8 231.3,1564.4 233.6,1565.0 236.0,1566.2 238.5,1568.0 240.9,1570.2 243.3,1573.0 245.8,1576.3 248.2,1579.9 250.5,1583.6 253.2,1588.8 255.6,1594.2 258.1,1599.0 260.7,1602.8 263.4,1606.0 265.8,1608.5 268.7,1610.8 271.6,1611.4 274.1,1610.7 276.7,1609.1 279.2,1606.6 282.1,1600.4 285.0,1593.2 287.3,1588.5 289.8,1583.8 292.7,1579.8 294.7,1577.9 296.7,1576.3 299.0,1574.9 301.5,1573.8 304.2,1573.1 306.1,1572.8 308.1,1572.8 310.2,1572.8 312.4,1573.0 314.6,1573.3 316.9,1573.5 319.2,1573.8 321.5,1574.0 323.6,1574.2 325.7,1574.5 327.9,1574.8 330.1,1575.2 332.3,1575.5 334.4,1575.8 336.6,1576.0 338.6,1576.0 340.6,1575.9 343.0,1575.5 345.3,1574.7 347.6,1573.8 349.7,1572.8 351.9,1571.8 353.9,1570.9 356.0,1570.2 358.3,1569.7 360.5,1569.3 362.7,1569.0 364.9,1568.8 367.1,1568.6 369.4,1568.3 371.5,1568.0 373.8,1567.5 376.2,1567.0 378.5,1566.6 380.8,1566.3 382.9,1566.2 384.8,1566.3 387.7,1567.1 390.1,1568.4 392.3,1570.1 394.4,1572.1 396.9,1575.7 399.3,1580.0 402.0,1583.6 404.0,1585.3 406.2,1586.9 408.6,1588.2 411.0,1589.1 413.5,1589.4 415.6,1589.1 417.9,1588.3 420.1,1587.2 422.4,1586.0 424.7,1584.7 427.0,1583.6 429.3,1582.5 431.6,1581.3 433.9,1580.1 436.2,1579.1 438.4,1578.3 440.4,1577.9 443.1,1578.2 445.4,1579.2 447.7,1580.5 450.0,1581.7 452.4,1582.6 454.8,1583.4 457.2,1584.3 459.6,1585.5 462.0,1587.1 464.4,1588.9 466.8,1590.9 469.2,1593.2 471.6,1595.9 474.0,1599.1 476.4,1602.1 478.8,1604.7 481.2,1606.9 483.5,1608.8 485.9,1610.1 488.4,1610.5 490.6,1609.9 492.9,1608.6 495.2,1606.8 497.6,1604.8 499.9,1602.8 502.2,1600.7 504.6,1598.2 506.9,1595.7 509.2,1593.3 511.4,1591.3 513.8,1589.3 516.0,1587.6 518.2,1586.3 521.0,1585.5 522.9,1585.5 525.0,1585.8 527.2,1586.3 529.4,1586.8 531.8,1587.3 534.1,1587.6 536.3,1587.4 538.5,1586.8 540.8,1585.9 543.0,1584.8 545.2,1583.6 547.4,1582.3 549.6,1581.0 551.7,1579.8 554.0,1578.4 556.1,1577.0 558.2,1575.5 560.3,1574.1 562.6,1572.9 565.1,1572.1 567.0,1571.8 569.0,1571.5 571.1,1571.5 573.2,1571.5 575.4,1571.5 577.7,1571.7 579.9,1571.8 582.1,1572.0 584.3,1572.1 586.5,1572.2 588.6,1572.4 590.8,1572.7 593.0,1572.9 595.2,1573.2 597.4,1573.4 599.5,1573.7 601.5,1573.9 603.5,1574.0 605.9,1574.2 608.3,1574.4 610.5,1574.5 612.7,1574.6 614.8,1574.6 616.8,1574.4 618.8,1574.0 621.4,1572.9 623.9,1571.2 626.2,1569.3 628.4,1567.6 630.4,1566.3 633.2,1565.0 635.6,1564.2 638.0,1564.4 640.4,1565.6 642.8,1567.6 645.7,1570.2 647.7,1572.2 649.9,1574.5 652.3,1577.0 654.7,1579.4 657.2,1581.7 659.3,1583.6 661.5,1585.5 663.8,1587.5 666.1,1589.2 668.3,1590.5 670.6,1591.3 672.8,1591.4 675.0,1590.9 677.2,1590.1 679.5,1589.1 681.7,1588.1 684.1,1587.4 686.2,1587.0 688.5,1586.5 690.8,1586.1 693.1,1585.8 695.4,1585.6 697.5,1585.4 699.4,1585.5 702.3,1585.9 704.8,1586.7 707.0,1587.9 709.0,1589.4 711.9,1594.0 714.8,1599.0 717.0,1601.2 719.5,1603.2 722.1,1605.1 724.4,1606.6 726.9,1608.3 729.2,1609.4 732.0,1609.5 734.0,1608.9 736.3,1607.8 738.6,1606.4 741.1,1604.7 743.6,1602.8 745.8,1600.9 748.0,1598.6 750.3,1596.2 752.6,1593.7 754.9,1591.4 757.0,1589.4 759.4,1587.3 761.7,1585.5 764.0,1583.8 766.2,1582.5 768.5,1581.7 770.7,1581.5 772.7,1581.9 774.8,1582.6 777.2,1583.2 780.0,1583.4 781.7,1583.3 783.5,1583.0 785.4,1582.7 787.4,1582.4 789.5,1582.0 791.6,1581.6 793.7,1581.2 795.9,1580.8 798.0,1580.5 800.0,1580.2 802.0,1580.0 804.0,1579.8 806.0,1579.5 808.0,1579.4 810.0,1579.2 812.1,1579.1 814.1,1579.0 816.1,1579.0 818.1,1579.0 820.1,1579.2 822.1,1579.5 824.1,1579.8 826.1,1580.3 828.1,1580.9 830.1,1581.5 832.1,1582.1 834.1,1582.7 836.1,1583.2 838.1,1583.8 840.1,1584.2 842.1,1584.6 844.3,1585.1 846.4,1585.6 848.6,1586.1 850.7,1586.6 852.8,1587.0 854.8,1587.2 856.7,1587.4 858.5,1587.4 860.1,1587.2 862.7,1586.3 864.8,1584.8 866.6,1582.9 868.3,1580.6 870.1,1578.2 872.1,1575.3 874.2,1571.8 876.2,1568.2 878.2,1564.9 880.2,1562.1 882.5,1559.3 884.6,1557.0 886.8,1555.5 889.2,1555.1 891.3,1555.9 893.5,1557.5 895.8,1559.7 898.0,1562.0 900.2,1564.1 902.3,1566.0 904.3,1568.0 906.2,1570.0 908.2,1572.1 910.2,1574.2 912.2,1576.7 914.1,1579.7 916.1,1582.5 918.1,1584.5 920.2,1585.2 922.0,1584.3 923.8,1582.4 925.7,1579.7 927.7,1576.8 929.8,1574.2 932.2,1572.1 934.0,1571.1 936.0,1570.1 938.1,1569.2 940.3,1568.4 942.5,1567.7 944.6,1567.1 946.7,1566.6 948.6,1566.3 950.3,1566.1 952.8,1566.2 954.9,1566.8 956.7,1567.7 958.4,1568.9 960.3,1570.1 962.3,1571.4 964.3,1573.0 966.3,1574.6 968.3,1576.4 970.3,1578.2 972.3,1580.0 974.2,1581.9 976.2,1583.8 978.2,1585.9 980.3,1588.2 982.2,1590.6 984.3,1593.5 986.4,1596.6 988.5,1599.3 990.5,1601.3 992.3,1602.2 994.6,1601.2 996.5,1598.2 998.3,1594.2 1000.4,1590.2 1002.3,1586.9 1004.3,1583.2 1006.3,1579.3 1008.4,1575.6 1010.4,1572.1 1012.4,1568.9 1014.3,1565.7 1016.3,1562.8 1018.3,1560.2 1020.4,1558.1 1022.3,1556.7 1024.3,1555.6 1026.3,1554.7 1028.3,1554.2 1030.4,1554.0 1032.4,1554.1 1034.4,1554.7 1036.2,1555.9 1038.1,1557.3 1040.1,1559.0 1042.2,1560.6 1044.4,1562.1 1046.2,1563.1 1048.0,1564.2 1050.0,1565.2 1052.0,1566.3 1054.0,1567.3 1056.1,1568.3 1058.3,1569.2 1060.5,1570.1 1062.3,1570.8 1064.3,1571.4 1066.2,1572.1 1068.2,1572.7 1070.3,1573.3 1072.3,1573.9 1074.4,1574.4 1076.4,1574.8 1078.5,1575.0 1080.5,1575.2 1082.5,1575.2 1084.5,1575.1 1086.5,1574.9 1088.5,1574.5 1090.5,1574.2 1092.5,1573.7 1094.5,1573.3 1096.5,1572.8 1098.5,1572.4 1100.5,1572.1 1102.5,1571.8 1104.6,1571.5 1106.8,1571.2 1108.9,1570.9 1111.0,1570.6 1113.1,1570.3 1115.1,1570.0 1117.0,1569.7 1118.8,1569.4 1120.5,1569.1 1123.1,1568.6 1125.5,1568.1 1127.8,1567.6 1129.7,1567.2 1131.3,1566.8 1132.5,1566.5" fill="none" stroke="#ff1414" stroke-width="2.8" stroke-opacity="1.0" stroke-linejoin="round" stroke-dasharray="6.5 2.5 1.8 2.5" stroke-linecap="butt"/>
</g>
<g stroke="#505050" stroke-width="1.6" fill="none">
<line x1="110.5" y1="1450.6" x2="121" y2="1450.6"/><line x1="1132.5" y1="1450.6" x2="1143.0" y2="1450.6"/>
<line x1="110.5" y1="1510.1" x2="121" y2="1510.1"/><line x1="1132.5" y1="1510.1" x2="1143.0" y2="1510.1"/>
<line x1="110.5" y1="1569.7" x2="121" y2="1569.7"/><line x1="1132.5" y1="1569.7" x2="1143.0" y2="1569.7"/>
<line x1="110.5" y1="1629.3" x2="121" y2="1629.3"/><line x1="1132.5" y1="1629.3" x2="1143.0" y2="1629.3"/>
<line x1="110.5" y1="1688.9" x2="121" y2="1688.9"/><line x1="1132.5" y1="1688.9" x2="1143.0" y2="1688.9"/>
<line x1="298.8" y1="1733.1" x2="298.8" y2="1743.6"/><line x1="298.8" y1="1422.3" x2="298.8" y2="1432.8"/>
<line x1="477.2" y1="1733.1" x2="477.2" y2="1743.6"/><line x1="477.2" y1="1422.3" x2="477.2" y2="1432.8"/>
<line x1="656.5" y1="1733.1" x2="656.5" y2="1743.6"/><line x1="656.5" y1="1422.3" x2="656.5" y2="1432.8"/>
<line x1="834.8" y1="1733.1" x2="834.8" y2="1743.6"/><line x1="834.8" y1="1422.3" x2="834.8" y2="1432.8"/>
<line x1="1015.6" y1="1733.1" x2="1015.6" y2="1743.6"/><line x1="1015.6" y1="1422.3" x2="1015.6" y2="1432.8"/>
</g>
<text x="56.02" y="1461.41" style="font-family:'Liberation Sans',Arial,Helvetica,sans-serif;font-size:27px;font-weight:normal" fill="#2b2b2b">50</text>
<text x="63.51" y="1520.91" style="font-family:'Liberation Sans',Arial,Helvetica,sans-serif;font-size:27px;font-weight:normal" fill="#2b2b2b">0</text>
<text x="53.49" y="1580.52" style="font-family:'Liberation Sans',Arial,Helvetica,sans-serif;font-size:27px;font-weight:normal" fill="#2b2b2b">-50</text>
<text x="46.00" y="1640.12" style="font-family:'Liberation Sans',Arial,Helvetica,sans-serif;font-size:27px;font-weight:normal" fill="#2b2b2b">-100</text>
<text x="46.00" y="1699.72" style="font-family:'Liberation Sans',Arial,Helvetica,sans-serif;font-size:27px;font-weight:normal" fill="#2b2b2b">-150</text>
<text x="280.04" y="1781.43" style="font-family:'Liberation Sans',Arial,Helvetica,sans-serif;font-size:27px;font-weight:normal" fill="#2b2b2b">0.5</text>
<text x="462.31" y="1781.70" style="font-family:'Liberation Sans',Arial,Helvetica,sans-serif;font-size:27px;font-weight:normal" fill="#2b2b2b">1</text>
<text x="639.24" y="1781.43" style="font-family:'Liberation Sans',Arial,Helvetica,sans-serif;font-size:27px;font-weight:normal" fill="#2b2b2b">1.5</text>
<text x="820.51" y="1781.70" style="font-family:'Liberation Sans',Arial,Helvetica,sans-serif;font-size:27px;font-weight:normal" fill="#2b2b2b">2</text>
<text x="996.24" y="1781.43" style="font-family:'Liberation Sans',Arial,Helvetica,sans-serif;font-size:27px;font-weight:normal" fill="#2b2b2b">2.5</text>
<text x="573.80" y="1821.30" style="font-family:'Liberation Sans',Arial,Helvetica,sans-serif;font-size:30px" fill="#2b2b2b">Time (s)</text>
<text transform="translate(31.0,1583.9499999999998) rotate(-90)" text-anchor="middle" style="font-family:'Liberation Sans',Arial,Helvetica,sans-serif;font-size:29.5px" fill="#2b2b2b">Retinal position (µm)</text>
<text x="583.00" y="1421.80" style="font-family:'Liberation Sans',Arial,Helvetica,sans-serif;font-size:29px;font-weight:bold" fill="#000">subject 9</text>
<text x="13.78" y="1405.23" style="font-family:'Liberation Sans',Arial,Helvetica,sans-serif;font-size:29.5px;font-weight:bold" fill="#000">D</text>
<clipPath id="clipE"><rect x="1246.5" y="41.5" width="514.8" height="324.9"/></clipPath>
<rect x="1246.5" y="41.5" width="514.8" height="324.9" fill="#fff"/>
<path d="M1246.50,41.5V366.4 M1270.33,41.5V366.4 M1288.82,41.5V366.4 M1303.92,41.5V366.4 M1316.69,41.5V366.4 M1327.75,41.5V366.4 M1337.51,41.5V366.4 M1403.65,41.5V366.4 M1437.24,41.5V366.4 M1461.07,41.5V366.4 M1479.55,41.5V366.4 M1494.66,41.5V366.4 M1507.43,41.5V366.4 M1518.49,41.5V366.4 M1528.25,41.5V366.4 M1594.39,41.5V366.4 M1627.98,41.5V366.4 M1651.81,41.5V366.4 M1670.29,41.5V366.4 M1685.40,41.5V366.4 M1698.17,41.5V366.4 M1709.23,41.5V366.4 M1718.98,41.5V366.4 M1246.5,326.23H1761.3 M1246.5,285.61H1761.3 M1246.5,204.39H1761.3 M1246.5,163.78H1761.3 M1246.5,123.16H1761.3 M1246.5,82.55H1761.3" stroke="#b4b4b4" stroke-width="1.1" stroke-dasharray="1.4 3.6" fill="none"/>
<path d="M1346.23,41.5V366.4 M1536.97,41.5V366.4 M1727.71,41.5V366.4 M1246.5,245.00H1761.3" stroke="#dcdcdc" stroke-width="1.2" fill="none"/>
<g clip-path="url(#clipE)">
<polyline points="1260.8,131.9 1316.7,172.2 1348.4,176.7 1373.6,192.0 1393.5,199.3 1407.9,196.5 1420.6,230.0 1432.3,188.4 1442.3,187.5 1450.4,127.0 1458.5,115.3 1472.1,171.3 1489.2,190.2 1498.2,202.9 1503.7,200.2 1508.2,203.4 1511.8,174.0 1516.3,244.4 1519.9,216.4 1523.5,208.8 1527.1,210.1 1529.8,171.3 1532.9,284.1 1536.2,220.9 1538.9,222.7 1541.6,253.4 1544.8,211.9 1547.0,247.1 1552.4,238.1 1556.9,253.4 1560.0,229.0 1561.8,244.1 1563.9,251.0 1566.0,238.6 1568.1,256.5 1570.1,242.2 1572.0,246.3 1573.9,258.6 1575.8,244.8 1577.6,261.0 1579.4,247.4 1581.1,259.7 1582.8,259.6 1584.5,249.8 1586.1,243.4 1587.8,260.1 1589.3,256.9 1590.9,249.0 1592.4,243.0 1593.9,251.2 1595.4,255.2 1596.8,244.7 1598.2,270.0 1599.6,248.2 1601.0,260.3 1602.3,266.1 1603.6,268.3 1605.0,261.3 1606.2,250.9 1607.5,266.7 1608.7,256.4 1610.0,255.6 1611.2,261.9 1612.4,258.2 1613.6,276.8 1614.7,277.7 1615.9,269.2 1617.0,256.7 1618.1,262.9 1619.2,266.6 1620.3,259.9 1621.3,263.6 1622.4,268.5 1623.4,256.4 1624.5,259.2 1625.5,272.0 1626.5,263.0 1627.5,264.7 1628.5,256.4 1629.4,260.8 1630.4,272.8 1631.3,255.1 1632.3,282.2 1633.2,270.1 1634.1,262.3 1635.0,281.2 1635.9,269.5 1636.8,291.1 1637.7,266.1 1638.5,264.1 1639.4,269.1 1640.2,261.7 1641.1,277.1 1641.9,267.5 1642.7,270.4 1643.6,271.2 1644.4,274.8 1645.2,265.2 1646.0,261.7 1646.8,275.6 1647.5,271.2 1648.3,296.4 1649.1,271.0 1649.8,272.8 1650.6,263.8 1651.3,268.8 1652.0,284.8 1652.8,281.7 1653.5,274.2 1654.2,306.6 1654.9,280.6 1655.6,292.9 1656.3,297.3 1657.0,302.9 1657.7,273.5 1658.4,297.6 1659.1,290.8 1659.7,285.5 1660.4,271.4 1661.1,303.8 1661.7,284.7 1662.4,282.1 1663.0,272.0 1663.7,274.7 1664.3,273.4 1664.9,292.9 1665.5,287.9 1666.2,290.3 1666.8,273.6 1667.4,271.0 1668.0,302.2 1668.6,300.8 1669.2,297.8 1669.8,298.0 1670.4,288.2 1671.0,285.3 1671.6,297.6 1672.1,329.5 1672.7,291.7 1673.3,293.9 1673.8,287.4 1674.4,273.8 1675.0,284.1 1675.5,289.9 1676.1,286.9 1676.6,285.3 1677.2,318.1 1677.7,277.5 1678.2,282.6 1678.8,279.1 1679.3,282.5 1679.8,296.7 1680.3,296.6 1680.9,315.4 1681.4,288.7 1681.9,320.2 1682.4,319.8 1682.9,307.0 1683.4,310.7 1683.9,300.3 1684.4,322.8 1684.9,339.5 1685.4,312.5 1685.9,318.1 1686.4,300.1 1686.8,329.7 1687.3,281.0 1687.8,291.1 1688.3,314.0 1688.8,306.6 1689.2,301.8 1689.7,301.2 1690.2,317.5 1690.6,282.8 1691.1,277.7 1691.5,297.5 1692.0,297.0 1692.4,323.1 1692.9,321.4 1693.3,303.5 1693.8,307.8 1694.2,284.4 1694.7,315.7 1695.1,335.4 1695.5,278.3 1696.0,296.4 1696.4,317.9 1696.8,296.1 1697.2,335.3 1697.7,296.9 1698.1,278.7 1698.5,283.6 1698.9,290.9 1699.3,310.2 1699.8,304.5 1700.2,317.6 1700.6,288.2 1701.0,297.6 1701.4,287.9 1701.8,306.9 1702.2,313.6 1702.6,286.6 1703.0,279.1 1703.4,284.7 1703.8,287.0 1704.2,286.5 1704.6,290.0 1704.9,314.2 1705.3,299.1 1705.7,306.6 1706.1,339.2 1706.5,339.8 1706.9,311.2 1707.2,312.6 1707.6,292.3 1708.0,279.4 1708.4,302.7 1708.7,279.7 1709.1,279.5 1709.5,279.5 1709.8,307.1 1710.2,316.3 1710.6,315.9 1710.9,318.4 1711.3,317.9 1711.6,295.8 1712.0,282.7 1712.3,286.2 1712.7,302.2 1713.1,294.8 1713.4,288.4 1713.8,332.6 1714.1,294.6 1714.4,282.2 1714.8,289.3 1715.1,290.9 1715.5,302.8 1715.8,321.7 1716.2,289.2 1716.5,310.5 1716.8,288.7 1717.2,279.9 1717.5,307.3 1717.8,307.1 1718.2,279.9 1718.5,292.4 1718.8,323.5 1719.1,328.7 1719.5,325.8 1719.8,282.9 1720.1,288.7 1720.4,326.7 1720.8,287.8 1721.1,280.1 1721.4,295.8 1721.7,310.7 1722.0,300.8 1722.3,329.2 1722.7,353.9 1723.0,280.1 1723.3,296.4 1723.6,302.0 1723.9,280.8 1724.2,306.6 1724.5,285.5 1724.8,288.1 1725.1,321.2 1725.4,318.0 1725.7,315.1 1726.0,319.0 1726.3,299.6 1726.6,317.7 1726.9,307.8 1727.2,330.5 1727.5,283.0 1727.8,311.6 1728.1,306.0 1728.4,300.1 1728.7,283.5 1729.0,308.1 1729.3,282.5 1729.5,304.1 1729.8,302.7 1730.1,303.1 1730.4,354.1 1730.7,307.4 1731.0,325.3 1731.3,366.1 1731.5,290.2 1731.8,326.7 1732.1,305.9 1732.4,294.0 1732.7,301.9 1732.9,314.4 1733.2,303.8 1733.5,302.1 1733.8,291.2 1734.0,336.2 1734.3,302.0 1734.6,320.2 1734.8,318.1 1735.1,291.9 1735.4,304.7 1735.6,302.1 1735.9,292.6 1736.2,283.3 1736.4,308.2 1736.7,299.8 1737.0,305.0 1737.2,304.7 1737.5,296.1 1737.8,307.9 1738.0,303.8 1738.3,306.6 1738.5,280.9 1738.8,295.9 1739.0,286.2 1739.3,281.0 1739.6,320.5 1739.8,302.8 1740.1,281.0 1740.3,288.6 1740.6,333.3 1740.8,335.7 1741.1,309.1 1741.3,343.5 1741.6,322.6 1741.8,343.6 1742.1,297.9 1742.3,292.1 1742.6,285.1 1742.8,331.8 1743.1,295.7 1743.3,298.5 1743.5,333.6 1743.8,286.3 1744.0,281.4 1744.3,325.2 1744.5,281.4 1744.7,312.4 1745.0,307.5 1745.2,281.5 1745.5,289.8 1745.7,331.9 1745.9,310.8 1746.2,306.3 1746.4,316.5 1746.6,328.3 1746.9,318.1 1747.1,296.1 1747.3,360.6 1747.6,304.6 1747.8,310.7 1748.0,361.8 1748.3,317.5 1748.5,301.3 1748.7,307.0 1748.9,347.9 1749.2,281.9 1749.4,292.9 1749.6,281.9 1749.9,341.9 1750.1,323.0 1750.3,354.0 1750.5,293.6 1750.7,322.7 1751.0,338.1 1751.2,312.6 1751.4,284.9 1751.6,291.4 1751.9,324.0 1752.1,335.6 1752.3,284.3 1752.5,304.8 1752.7,298.1 1752.9,345.7 1753.2,350.9 1753.4,298.9 1753.6,312.9 1753.8,348.5 1754.0,282.6 1754.2,301.8 1754.4,292.9 1754.7,347.1 1754.9,289.5 1755.1,350.0 1755.3,289.1 1755.5,311.7 1755.7,319.0 1755.9,306.4 1756.1,284.0 1756.3,324.5 1756.6,340.1 1756.8,307.9 1757.0,327.3 1757.2,343.7 1757.4,335.8 1757.6,354.3 1757.8,331.2 1758.0,321.5 1758.2,322.1 1758.4,295.9 1758.6,323.4 1758.8,309.8 1759.0,334.3 1759.2,319.3 1759.4,367.1 1759.6,327.0 1759.8,369.2 1760.0,297.6 1760.2,307.3 1760.4,333.4 1760.6,311.7 1760.8,283.6 1761.0,345.7 1761.2,292.7 1761.4,314.3 1761.6,310.6 1761.8,291.7 1762.0,316.7 1762.2,309.9 1762.4,300.2 1762.6,283.0 1762.8,320.1 1762.9,291.9 1763.1,299.2" fill="none" stroke="#0072bd" stroke-width="2.7" stroke-linejoin="round"/>
</g>
<rect x="1246.5" y="41.5" width="514.8" height="324.9" fill="none" stroke="#262626" stroke-width="1.3"/>
<path d="M1246.5,326.23h3M1761.3,326.23h-3M1246.5,285.61h3M1761.3,285.61h-3M1246.5,245.00h6M1761.3,245.00h-6M1246.5,204.39h3M1761.3,204.39h-3M1246.5,163.78h3M1761.3,163.78h-3M1246.5,123.16h3M1761.3,123.16h-3M1246.5,82.55h3M1761.3,82.55h-3M1346.23,366.4v-6M1346.23,41.5v6M1536.97,366.4v-6M1536.97,41.5v6M1727.71,366.4v-6M1727.71,41.5v6M1246.50,366.4v-3M1246.50,41.5v3M1270.33,366.4v-3M1270.33,41.5v3M1288.82,366.4v-3M1288.82,41.5v3M1303.92,366.4v-3M1303.92,41.5v3M1316.69,366.4v-3M1316.69,41.5v3M1327.75,366.4v-3M1327.75,41.5v3M1337.51,366.4v-3M1337.51,41.5v3M1403.65,366.4v-3M1403.65,41.5v3M1437.24,366.4v-3M1437.24,41.5v3M1461.07,366.4v-3M1461.07,41.5v3M1479.55,366.4v-3M1479.55,41.5v3M1494.66,366.4v-3M1494.66,41.5v3M1507.43,366.4v-3M1507.43,41.5v3M1518.49,366.4v-3M1518.49,41.5v3M1528.25,366.4v-3M1528.25,41.5v3M1594.39,366.4v-3M1594.39,41.5v3M1627.98,366.4v-3M1627.98,41.5v3M1651.81,366.4v-3M1651.81,41.5v3M1670.29,366.4v-3M1670.29,41.5v3M1685.40,366.4v-3M1685.40,41.5v3M1698.17,366.4v-3M1698.17,41.5v3M1709.23,366.4v-3M1709.23,41.5v3M1718.98,366.4v-3M1718.98,41.5v3" stroke="#262626" stroke-width="1.2" fill="none"/>
<text x="1196.80" y="54.74" style="font-family:'Liberation Sans',Arial,Helvetica,sans-serif;font-size:27px" fill="#2b2b2b">10<tspan dx="0.8" dy="-12.3" style="font-size:21.5px">5</tspan></text>
<text x="1196.80" y="257.80" style="font-family:'Liberation Sans',Arial,Helvetica,sans-serif;font-size:27px" fill="#2b2b2b">10<tspan dx="0.8" dy="-12.3" style="font-size:21.5px">0</tspan></text>
<text x="1326.43" y="410.60" style="font-family:'Liberation Sans',Arial,Helvetica,sans-serif;font-size:27px" fill="#2b2b2b">10<tspan dx="0.8" dy="-12.3" style="font-size:21.5px">0</tspan></text>
<text x="1517.17" y="410.60" style="font-family:'Liberation Sans',Arial,Helvetica,sans-serif;font-size:27px" fill="#2b2b2b">10<tspan dx="0.8" dy="-12.3" style="font-size:21.5px">1</tspan></text>
<text x="1707.91" y="410.60" style="font-family:'Liberation Sans',Arial,Helvetica,sans-serif;font-size:27px" fill="#2b2b2b">10<tspan dx="0.8" dy="-12.3" style="font-size:21.5px">2</tspan></text>
<text x="1407.40" y="449.20" style="font-family:'Liberation Sans',Arial,Helvetica,sans-serif;font-size:28.8px" fill="#2b2b2b">Frequency (Hz)</text>
<text transform="translate(1177.4,202.95) rotate(-90)" text-anchor="middle" style="font-family:'Liberation Sans',Arial,Helvetica,sans-serif;font-size:29.5px" fill="#2b2b2b">PSD (<tspan style="font-family:'Liberation Serif',serif;font-style:italic">µ</tspan>m<tspan dy="-13" style="font-size:22px">2</tspan><tspan dy="13">/Hz)</tspan></text>
<text x="1458.50" y="29.3" style="font-family:'Liberation Sans',Arial,Helvetica,sans-serif;font-size:28px;font-weight:bold" fill="#000">subject 1</text>
<text x="1158.84" y="31.48" style="font-family:'Liberation Sans',Arial,Helvetica,sans-serif;font-size:29.5px;font-weight:bold" fill="#000">E</text>
<clipPath id="clipF"><rect x="1246.7" y="504.0" width="514.5999999999999" height="323.20000000000005"/></clipPath>
<rect x="1246.7" y="504.0" width="514.5999999999999" height="323.20000000000005" fill="#fff"/>
<path d="M1246.70,504.0V827.2 M1270.52,504.0V827.2 M1289.00,504.0V827.2 M1304.10,504.0V827.2 M1316.86,504.0V827.2 M1327.92,504.0V827.2 M1337.67,504.0V827.2 M1403.79,504.0V827.2 M1437.37,504.0V827.2 M1461.19,504.0V827.2 M1479.66,504.0V827.2 M1494.76,504.0V827.2 M1507.53,504.0V827.2 M1518.58,504.0V827.2 M1528.34,504.0V827.2 M1594.46,504.0V827.2 M1628.03,504.0V827.2 M1651.85,504.0V827.2 M1670.33,504.0V827.2 M1685.43,504.0V827.2 M1698.19,504.0V827.2 M1709.25,504.0V827.2 M1719.00,504.0V827.2 M1246.7,787.70H1761.3 M1246.7,747.30H1761.3 M1246.7,666.50H1761.3 M1246.7,626.10H1761.3 M1246.7,585.70H1761.3 M1246.7,545.30H1761.3" stroke="#b4b4b4" stroke-width="1.1" stroke-dasharray="1.4 3.6" fill="none"/>
<path d="M1346.39,504.0V827.2 M1537.06,504.0V827.2 M1727.73,504.0V827.2 M1246.7,706.90H1761.3" stroke="#dcdcdc" stroke-width="1.2" fill="none"/>
<g clip-path="url(#clipF)">
<polyline points="1260.8,543.8 1287.0,556.1 1315.8,568.8 1348.4,591.3 1366.4,595.8 1393.5,601.3 1407.9,599.5 1420.6,607.6 1432.3,639.2 1441.4,651.8 1450.4,669.0 1458.5,612.1 1465.7,613.9 1472.1,626.5 1478.4,618.4 1489.2,640.1 1494.6,666.3 1501.9,644.6 1507.3,662.7 1511.8,647.3 1515.9,678.9 1519.9,663.6 1526.2,673.5 1529.8,662.7 1536.2,666.3 1539.8,677.1 1543.4,666.3 1545.2,685.2 1547.9,667.2 1552.4,688.8 1555.1,672.6 1560.0,688.0 1561.8,678.0 1564.0,682.3 1566.1,684.4 1568.1,693.7 1570.1,691.6 1572.1,694.9 1574.0,683.6 1575.8,691.3 1577.7,694.4 1579.5,698.0 1581.2,686.4 1582.9,686.9 1584.6,690.4 1586.2,696.9 1587.8,698.7 1589.4,698.7 1590.9,696.9 1592.5,704.1 1594.0,698.8 1595.4,703.1 1596.9,692.4 1598.3,693.1 1599.7,700.7 1601.0,706.6 1602.4,695.1 1603.7,705.7 1605.0,705.1 1606.3,720.1 1607.6,705.3 1608.8,704.4 1610.0,704.4 1611.2,709.3 1612.4,705.0 1613.6,719.0 1614.8,708.7 1615.9,712.9 1617.0,707.4 1618.1,714.6 1619.2,715.7 1620.3,709.3 1621.4,710.8 1622.5,707.8 1623.5,708.8 1624.5,707.4 1625.5,708.7 1626.5,708.8 1627.5,707.7 1628.5,712.7 1629.5,713.9 1630.4,708.2 1631.4,717.7 1632.3,711.7 1633.2,712.8 1634.2,722.3 1635.1,712.0 1636.0,711.7 1636.8,714.8 1637.7,714.3 1638.6,714.0 1639.4,722.4 1640.3,717.5 1641.1,717.9 1642.0,714.9 1642.8,715.4 1643.6,715.3 1644.4,718.1 1645.2,714.7 1646.0,717.5 1646.8,717.6 1647.6,724.1 1648.3,731.6 1649.1,727.4 1649.9,722.7 1650.6,729.4 1651.4,716.8 1652.1,720.7 1652.8,720.0 1653.5,720.2 1654.3,719.7 1655.0,722.5 1655.7,741.4 1656.4,718.4 1657.1,719.4 1657.8,723.2 1658.4,722.9 1659.1,721.2 1659.8,736.2 1660.4,720.4 1661.1,729.3 1661.8,736.5 1662.4,729.4 1663.1,721.3 1663.7,731.5 1664.3,721.6 1665.0,717.5 1665.6,725.9 1666.2,728.1 1666.8,726.5 1667.4,723.4 1668.0,722.2 1668.6,724.9 1669.2,724.6 1669.8,739.2 1670.4,735.9 1671.0,732.6 1671.6,723.8 1672.2,731.7 1672.7,726.9 1673.3,747.0 1673.9,741.5 1674.4,733.3 1675.0,726.0 1675.5,725.8 1676.1,726.3 1676.6,733.5 1677.2,729.2 1677.7,730.3 1678.3,730.4 1678.8,740.2 1679.3,723.2 1679.8,737.2 1680.4,722.1 1680.9,722.3 1681.4,749.4 1681.9,731.9 1682.4,725.5 1682.9,722.4 1683.4,732.6 1683.9,737.1 1684.4,739.2 1684.9,722.7 1685.4,739.7 1685.9,731.0 1686.4,743.2 1686.9,732.4 1687.4,723.1 1687.8,744.6 1688.3,726.8 1688.8,733.4 1689.2,725.3 1689.7,729.7 1690.2,741.3 1690.6,725.2 1691.1,734.7 1691.6,755.9 1692.0,763.0 1692.5,735.1 1692.9,736.2 1693.4,740.5 1693.8,747.6 1694.2,739.6 1694.7,740.6 1695.1,727.8 1695.6,766.2 1696.0,730.3 1696.4,728.1 1696.8,750.9 1697.3,725.3 1697.7,731.7 1698.1,726.4 1698.5,743.3 1699.0,740.7 1699.4,740.3 1699.8,725.0 1700.2,735.4 1700.6,741.7 1701.0,739.8 1701.4,744.9 1701.8,759.2 1702.2,754.9 1702.6,729.8 1703.0,744.9 1703.4,726.3 1703.8,746.5 1704.2,746.0 1704.6,738.6 1705.0,749.6 1705.4,742.6 1705.7,726.7 1706.1,729.2 1706.5,731.6 1706.9,736.3 1707.3,728.4 1707.6,727.3 1708.0,738.6 1708.4,734.6 1708.7,760.8 1709.1,734.5 1709.5,741.5 1709.9,734.2 1710.2,736.9 1710.6,746.9 1710.9,761.4 1711.3,729.1 1711.7,755.2 1712.0,741.7 1712.4,745.4 1712.7,747.1 1713.1,735.4 1713.4,729.0 1713.8,748.8 1714.1,737.8 1714.5,747.4 1714.8,740.3 1715.1,744.7 1715.5,753.6 1715.8,754.0 1716.2,751.6 1716.5,731.5 1716.8,742.4 1717.2,751.3 1717.5,731.8 1717.8,730.4 1718.2,744.0 1718.5,756.1 1718.8,753.1 1719.2,760.1 1719.5,747.4 1719.8,760.2 1720.1,751.3 1720.5,750.6 1720.8,741.6 1721.1,733.2 1721.4,737.3 1721.7,745.9 1722.0,745.9 1722.4,743.0 1722.7,747.2 1723.0,748.5 1723.3,764.1 1723.6,750.9 1723.9,730.8 1724.2,759.3 1724.5,743.9 1724.8,740.6 1725.1,734.1 1725.4,754.2 1725.7,751.8 1726.0,752.9 1726.3,747.3 1726.6,746.0 1726.9,730.7 1727.2,734.6 1727.5,733.7 1727.8,773.0 1728.1,770.8 1728.4,738.9 1728.7,732.8 1729.0,745.6 1729.3,742.4 1729.6,782.1 1729.8,748.4 1730.1,731.3 1730.4,735.5 1730.7,734.4 1731.0,730.5 1731.3,754.6 1731.5,764.3 1731.8,760.4 1732.1,744.7 1732.4,740.0 1732.7,730.4 1732.9,738.9 1733.2,741.1 1733.5,737.6 1733.8,747.1 1734.0,744.1 1734.3,773.2 1734.6,737.1 1734.9,756.6 1735.1,731.5 1735.4,741.4 1735.7,753.3 1735.9,764.4 1736.2,756.0 1736.5,741.9 1736.7,739.9 1737.0,766.5 1737.2,770.8 1737.5,745.5 1737.8,743.7 1738.0,750.5 1738.3,758.3 1738.5,743.2 1738.8,785.3 1739.1,754.4 1739.3,748.1 1739.6,730.0 1739.8,742.0 1740.1,733.3 1740.3,747.8 1740.6,758.4 1740.8,757.8 1741.1,730.4 1741.3,740.5 1741.6,755.0 1741.8,781.6 1742.1,747.6 1742.3,741.8 1742.6,750.6 1742.8,758.0 1743.1,742.3 1743.3,732.1 1743.5,760.0 1743.8,779.1 1744.0,754.5 1744.3,751.2 1744.5,742.3 1744.8,762.3 1745.0,738.5 1745.2,740.7 1745.5,748.6 1745.7,762.1 1745.9,732.0 1746.2,756.4 1746.4,738.1 1746.6,760.9 1746.9,761.5 1747.1,740.6 1747.3,757.7 1747.6,732.5 1747.8,749.7 1748.0,764.2 1748.3,761.9 1748.5,752.8 1748.7,744.4 1749.0,733.0 1749.2,767.9 1749.4,754.1 1749.6,763.1 1749.9,733.3 1750.1,768.7 1750.3,778.5 1750.5,777.5 1750.8,754.6 1751.0,736.2 1751.2,737.0 1751.4,743.0 1751.6,733.9 1751.9,734.6 1752.1,757.8 1752.3,765.9 1752.5,734.5 1752.7,743.0 1752.9,783.2 1753.2,745.9 1753.4,756.1 1753.6,756.4 1753.8,758.3 1754.0,767.8 1754.2,796.0 1754.5,761.0 1754.7,757.7 1754.9,735.0 1755.1,772.4 1755.3,735.1 1755.5,765.6 1755.7,757.9 1755.9,741.3 1756.1,741.4 1756.3,755.0 1756.6,781.3 1756.8,753.7 1757.0,757.6 1757.2,737.1 1757.4,767.3 1757.6,758.2 1757.8,738.6 1758.0,785.5 1758.2,756.5 1758.4,742.5 1758.6,744.3 1758.8,783.6 1759.0,784.9 1759.2,780.5 1759.4,737.8 1759.6,764.1 1759.8,745.4 1760.0,739.2 1760.2,760.3 1760.4,763.6 1760.6,736.9 1760.8,750.2 1761.0,764.3 1761.2,746.9 1761.4,761.6 1761.6,763.6 1761.8,798.7 1762.0,745.5 1762.2,738.6 1762.4,749.7 1762.6,737.0 1762.8,788.3 1762.9,766.0 1763.1,755.1" fill="none" stroke="#0072bd" stroke-width="2.7" stroke-linejoin="round"/>
</g>
<rect x="1246.7" y="504.0" width="514.5999999999999" height="323.20000000000005" fill="none" stroke="#262626" stroke-width="1.3"/>
<path d="M1246.7,787.70h3M1761.3,787.70h-3M1246.7,747.30h3M1761.3,747.30h-3M1246.7,706.90h6M1761.3,706.90h-6M1246.7,666.50h3M1761.3,666.50h-3M1246.7,626.10h3M1761.3,626.10h-3M1246.7,585.70h3M1761.3,585.70h-3M1246.7,545.30h3M1761.3,545.30h-3M1346.39,827.2v-6M1346.39,504.0v6M1537.06,827.2v-6M1537.06,504.0v6M1727.73,827.2v-6M1727.73,504.0v6M1246.70,827.2v-3M1246.70,504.0v3M1270.52,827.2v-3M1270.52,504.0v3M1289.00,827.2v-3M1289.00,504.0v3M1304.10,827.2v-3M1304.10,504.0v3M1316.86,827.2v-3M1316.86,504.0v3M1327.92,827.2v-3M1327.92,504.0v3M1337.67,827.2v-3M1337.67,504.0v3M1403.79,827.2v-3M1403.79,504.0v3M1437.37,827.2v-3M1437.37,504.0v3M1461.19,827.2v-3M1461.19,504.0v3M1479.66,827.2v-3M1479.66,504.0v3M1494.76,827.2v-3M1494.76,504.0v3M1507.53,827.2v-3M1507.53,504.0v3M1518.58,827.2v-3M1518.58,504.0v3M1528.34,827.2v-3M1528.34,504.0v3M1594.46,827.2v-3M1594.46,504.0v3M1628.03,827.2v-3M1628.03,504.0v3M1651.85,827.2v-3M1651.85,504.0v3M1670.33,827.2v-3M1670.33,504.0v3M1685.43,827.2v-3M1685.43,504.0v3M1698.19,827.2v-3M1698.19,504.0v3M1709.25,827.2v-3M1709.25,504.0v3M1719.00,827.2v-3M1719.00,504.0v3" stroke="#262626" stroke-width="1.2" fill="none"/>
<text x="1196.80" y="517.70" style="font-family:'Liberation Sans',Arial,Helvetica,sans-serif;font-size:27px" fill="#2b2b2b">10<tspan dx="0.8" dy="-12.3" style="font-size:21.5px">5</tspan></text>
<text x="1196.80" y="719.70" style="font-family:'Liberation Sans',Arial,Helvetica,sans-serif;font-size:27px" fill="#2b2b2b">10<tspan dx="0.8" dy="-12.3" style="font-size:21.5px">0</tspan></text>
<text x="1326.59" y="871.40" style="font-family:'Liberation Sans',Arial,Helvetica,sans-serif;font-size:27px" fill="#2b2b2b">10<tspan dx="0.8" dy="-12.3" style="font-size:21.5px">0</tspan></text>
<text x="1517.26" y="871.40" style="font-family:'Liberation Sans',Arial,Helvetica,sans-serif;font-size:27px" fill="#2b2b2b">10<tspan dx="0.8" dy="-12.3" style="font-size:21.5px">1</tspan></text>
<text x="1707.93" y="871.40" style="font-family:'Liberation Sans',Arial,Helvetica,sans-serif;font-size:27px" fill="#2b2b2b">10<tspan dx="0.8" dy="-12.3" style="font-size:21.5px">2</tspan></text>
<text x="1407.40" y="910.00" style="font-family:'Liberation Sans',Arial,Helvetica,sans-serif;font-size:28.8px" fill="#2b2b2b">Frequency (Hz)</text>
<text transform="translate(1177.4,664.6) rotate(-90)" text-anchor="middle" style="font-family:'Liberation Sans',Arial,Helvetica,sans-serif;font-size:29.5px" fill="#2b2b2b">PSD (<tspan style="font-family:'Liberation Serif',serif;font-style:italic">µ</tspan>m<tspan dy="-13" style="font-size:22px">2</tspan><tspan dy="13">/Hz)</tspan></text>
<text x="1448.30" y="491.5" style="font-family:'Liberation Sans',Arial,Helvetica,sans-serif;font-size:28px;font-weight:bold" fill="#000">subject 12</text>
<text x="1158.95" y="502.68" style="font-family:'Liberation Sans',Arial,Helvetica,sans-serif;font-size:29.5px;font-weight:bold" fill="#000">F</text>
<clipPath id="clipG"><rect x="1249.0" y="955.5" width="512.3" height="323.0"/></clipPath>
<rect x="1249.0" y="955.5" width="512.3" height="323.0" fill="#fff"/>
<path d="M1249.00,955.5V1278.5 M1272.72,955.5V1278.5 M1291.11,955.5V1278.5 M1306.14,955.5V1278.5 M1318.85,955.5V1278.5 M1329.85,955.5V1278.5 M1339.56,955.5V1278.5 M1405.39,955.5V1278.5 M1438.81,955.5V1278.5 M1462.53,955.5V1278.5 M1480.92,955.5V1278.5 M1495.95,955.5V1278.5 M1508.66,955.5V1278.5 M1519.67,955.5V1278.5 M1529.38,955.5V1278.5 M1595.20,955.5V1278.5 M1628.63,955.5V1278.5 M1652.34,955.5V1278.5 M1670.74,955.5V1278.5 M1685.77,955.5V1278.5 M1698.47,955.5V1278.5 M1709.48,955.5V1278.5 M1719.19,955.5V1278.5 M1249.0,1238.85H1761.3 M1249.0,1198.47H1761.3 M1249.0,1117.72H1761.3 M1249.0,1077.35H1761.3 M1249.0,1036.97H1761.3 M1249.0,996.60H1761.3" stroke="#b4b4b4" stroke-width="1.1" stroke-dasharray="1.4 3.6" fill="none"/>
<path d="M1348.25,955.5V1278.5 M1538.06,955.5V1278.5 M1727.88,955.5V1278.5 M1249.0,1158.10H1761.3" stroke="#dcdcdc" stroke-width="1.2" fill="none"/>
<g clip-path="url(#clipG)">
<polyline points="1262.6,1075.1 1319.5,1067.9 1352.9,1055.6 1378.1,1071.5 1394.4,1077.3 1409.8,1115.8 1423.3,1089.6 1434.1,1104.0 1443.2,1133.8 1459.4,1058.9 1467.2,1137.4 1473.9,1117.6 1480.2,1114.0 1484.7,1095.9 1490.7,1168.1 1495.5,1104.9 1500.0,1162.7 1504.6,1123.9 1509.1,1151.9 1512.7,1142.0 1516.3,1153.7 1519.9,1151.0 1523.5,1161.8 1527.1,1157.3 1530.7,1184.4 1536.2,1139.3 1539.8,1202.5 1542.5,1122.1 1545.2,1148.3 1553.0,1149.3 1555.6,1164.9 1562.1,1167.5 1564.0,1150.0 1568.6,1152.6 1569.9,1203.8 1571.0,1189.5 1572.9,1188.5 1574.8,1209.8 1576.7,1217.4 1578.5,1208.8 1580.3,1206.3 1582.0,1185.1 1583.7,1227.0 1585.4,1191.9 1587.0,1195.0 1588.6,1189.9 1590.2,1192.5 1591.7,1200.8 1593.2,1215.4 1594.7,1214.7 1596.2,1210.9 1597.6,1190.5 1599.0,1233.3 1600.4,1218.7 1601.8,1192.5 1603.1,1216.6 1604.4,1236.2 1605.7,1242.7 1607.0,1204.0 1608.3,1215.2 1609.5,1187.6 1610.7,1192.4 1611.9,1189.3 1613.1,1221.8 1614.3,1239.7 1615.4,1239.1 1616.6,1212.5 1617.7,1205.0 1618.8,1216.2 1619.9,1228.1 1621.0,1218.7 1622.0,1210.9 1623.1,1209.3 1624.1,1206.8 1625.1,1202.8 1626.1,1211.0 1627.1,1241.9 1628.1,1204.4 1629.1,1228.7 1630.1,1216.5 1631.0,1225.3 1632.0,1210.5 1632.9,1236.9 1633.8,1233.8 1634.7,1234.3 1635.6,1242.4 1636.5,1205.5 1637.4,1219.2 1638.3,1231.0 1639.1,1227.9 1640.0,1203.0 1640.8,1223.4 1641.7,1238.0 1642.5,1211.2 1643.3,1217.8 1644.1,1203.6 1644.9,1251.4 1645.7,1225.4 1646.5,1211.3 1647.3,1210.3 1648.1,1206.2 1648.8,1260.6 1649.6,1234.9 1650.4,1249.6 1651.1,1242.3 1651.8,1204.8 1652.6,1221.8 1653.3,1205.8 1654.0,1231.2 1654.7,1210.1 1655.4,1227.8 1656.1,1237.7 1656.8,1214.6 1657.5,1205.6 1658.2,1252.2 1658.9,1222.2 1659.6,1221.3 1660.2,1241.2 1660.9,1232.3 1661.6,1248.3 1662.2,1242.7 1662.9,1239.3 1663.5,1223.5 1664.1,1221.7 1664.8,1243.4 1665.4,1273.3 1666.0,1236.0 1666.6,1221.6 1667.2,1245.5 1667.9,1237.4 1668.5,1244.4 1669.1,1217.9 1669.6,1227.6 1670.2,1259.5 1670.8,1255.3 1671.4,1234.4 1672.0,1228.4 1672.6,1225.3 1673.1,1257.0 1673.7,1249.0 1674.3,1223.9 1674.8,1234.9 1675.4,1241.2 1675.9,1240.0 1676.5,1213.4 1677.0,1240.1 1677.6,1229.8 1678.1,1238.3 1678.6,1235.9 1679.2,1219.1 1679.7,1214.9 1680.2,1238.6 1680.7,1248.0 1681.2,1225.3 1681.8,1247.8 1682.3,1280.1 1682.8,1218.3 1683.3,1236.8 1683.8,1222.5 1684.3,1237.8 1684.8,1219.9 1685.3,1235.9 1685.8,1251.9 1686.2,1273.7 1686.7,1233.0 1687.2,1230.0 1687.7,1219.3 1688.2,1260.2 1688.6,1231.0 1689.1,1240.5 1689.6,1235.4 1690.0,1254.3 1690.5,1245.0 1691.0,1235.1 1691.4,1219.4 1691.9,1258.6 1692.3,1236.6 1692.8,1225.6 1693.2,1219.0 1693.7,1250.9 1694.1,1257.0 1694.5,1219.4 1695.0,1219.5 1695.4,1237.7 1695.8,1265.6 1696.3,1220.9 1696.7,1241.6 1697.1,1222.4 1697.6,1233.5 1698.0,1226.3 1698.4,1254.8 1698.8,1228.1 1699.2,1250.5 1699.6,1241.7 1700.1,1226.0 1700.5,1226.8 1700.9,1253.5 1701.3,1251.2 1701.7,1242.3 1702.1,1238.0 1702.5,1243.1 1702.9,1259.1 1703.3,1249.8 1703.7,1231.4 1704.1,1224.6 1704.4,1269.0 1704.8,1237.1 1705.2,1230.6 1705.6,1269.7 1706.0,1227.8 1706.4,1260.2 1706.7,1236.3 1707.1,1238.0 1707.5,1235.5 1707.9,1247.6 1708.2,1242.8 1708.6,1237.2 1709.0,1242.8 1709.4,1234.9 1709.7,1242.1 1710.1,1242.5 1710.4,1273.9 1710.8,1236.5 1711.2,1240.9 1711.5,1252.0 1711.9,1232.0 1712.2,1231.5 1712.6,1242.3 1712.9,1255.8 1713.3,1241.9 1713.6,1262.6 1714.0,1260.3 1714.3,1243.7 1714.7,1264.5 1715.0,1243.4 1715.4,1241.1 1715.7,1270.6 1716.0,1237.1 1716.4,1265.5 1716.7,1234.1 1717.0,1232.7 1717.4,1241.5 1717.7,1268.8 1718.0,1241.8 1718.4,1246.5 1718.7,1225.7 1719.0,1260.4 1719.3,1230.2 1719.7,1225.9 1720.0,1234.9 1720.3,1232.0 1720.6,1256.0 1721.0,1226.0 1721.3,1242.7 1721.6,1226.0 1721.9,1227.5 1722.2,1258.1 1722.5,1233.0 1722.8,1226.6 1723.2,1267.7 1723.5,1247.9 1723.8,1234.1 1724.1,1258.6 1724.4,1228.5 1724.7,1251.4 1725.0,1232.0 1725.3,1259.9 1725.6,1242.3 1725.9,1227.3 1726.2,1255.1 1726.5,1252.0 1726.8,1242.2 1727.1,1249.3 1727.4,1271.9 1727.7,1256.8 1728.0,1258.4 1728.3,1226.3 1728.5,1236.6 1728.8,1228.6 1729.1,1257.8 1729.4,1233.1 1729.7,1262.7 1730.0,1241.4 1730.3,1238.0 1730.6,1247.5 1730.8,1229.6 1731.1,1240.6 1731.4,1239.8 1731.7,1229.2 1732.0,1263.8 1732.2,1226.0 1732.5,1238.2 1732.8,1246.2 1733.1,1232.6 1733.3,1251.9 1733.6,1226.0 1733.9,1239.8 1734.2,1247.5 1734.4,1233.8 1734.7,1244.4 1735.0,1257.2 1735.2,1234.5 1735.5,1269.9 1735.8,1231.8 1736.0,1252.5 1736.3,1237.9 1736.6,1226.0 1736.8,1239.6 1737.1,1237.1 1737.4,1249.6 1737.6,1284.7 1737.9,1272.5 1738.1,1259.4 1738.4,1238.6 1738.6,1244.8 1738.9,1242.0 1739.2,1228.6 1739.4,1260.9 1739.7,1253.9 1739.9,1237.4 1740.2,1275.4 1740.4,1284.7 1740.7,1247.7 1740.9,1263.6 1741.2,1247.6 1741.4,1254.1 1741.7,1239.5 1741.9,1239.4 1742.2,1255.3 1742.4,1238.2 1742.7,1243.1 1742.9,1260.7 1743.1,1226.0 1743.4,1252.9 1743.6,1259.3 1743.9,1264.9 1744.1,1237.6 1744.3,1229.3 1744.6,1232.8 1744.8,1245.7 1745.1,1251.7 1745.3,1280.3 1745.5,1237.3 1745.8,1240.0 1746.0,1247.7 1746.2,1237.3 1746.5,1244.0 1746.7,1225.6 1746.9,1234.3 1747.2,1252.5 1747.4,1227.5 1747.6,1270.7 1747.9,1240.9 1748.1,1245.3 1748.3,1253.1 1748.6,1268.6 1748.8,1232.6 1749.0,1279.9 1749.2,1240.2 1749.5,1225.1 1749.7,1259.9 1749.9,1255.4 1750.1,1238.2 1750.4,1241.6 1750.6,1237.1 1750.8,1231.2 1751.0,1257.2 1751.2,1249.3 1751.5,1249.7 1751.7,1270.0 1751.9,1227.8 1752.1,1232.2 1752.3,1234.5 1752.6,1284.9 1752.8,1229.8 1753.0,1233.5 1753.2,1242.9 1753.4,1233.6 1753.6,1243.3 1753.8,1253.6 1754.1,1263.7 1754.3,1253.2 1754.5,1271.7 1754.7,1248.0 1754.9,1233.2 1755.1,1235.0 1755.3,1229.5 1755.5,1234.4 1755.7,1251.3 1756.0,1239.7 1756.2,1243.8 1756.4,1231.7 1756.6,1240.7 1756.8,1251.3 1757.0,1236.7 1757.2,1224.4 1757.4,1254.1 1757.6,1227.8 1757.8,1278.7 1758.0,1251.5 1758.2,1252.9 1758.4,1233.1 1758.6,1224.2 1758.8,1233.0 1759.0,1248.2 1759.2,1227.6 1759.4,1248.1 1759.6,1252.7 1759.8,1226.2 1760.0,1236.8 1760.2,1234.7 1760.4,1235.7 1760.6,1224.0 1760.8,1242.3 1761.0,1229.3 1761.2,1234.5 1761.4,1228.5 1761.6,1243.5 1761.8,1233.6 1762.0,1238.8 1762.2,1249.0 1762.4,1254.3 1762.6,1237.0 1762.7,1266.6 1762.9,1225.9 1763.1,1259.5" fill="none" stroke="#0072bd" stroke-width="2.7" stroke-linejoin="round"/>
</g>
<rect x="1249.0" y="955.5" width="512.3" height="323.0" fill="none" stroke="#262626" stroke-width="1.3"/>
<path d="M1249.0,1238.85h3M1761.3,1238.85h-3M1249.0,1198.47h3M1761.3,1198.47h-3M1249.0,1158.10h6M1761.3,1158.10h-6M1249.0,1117.72h3M1761.3,1117.72h-3M1249.0,1077.35h3M1761.3,1077.35h-3M1249.0,1036.97h3M1761.3,1036.97h-3M1249.0,996.60h3M1761.3,996.60h-3M1348.25,1278.5v-6M1348.25,955.5v6M1538.06,1278.5v-6M1538.06,955.5v6M1727.88,1278.5v-6M1727.88,955.5v6M1249.00,1278.5v-3M1249.00,955.5v3M1272.72,1278.5v-3M1272.72,955.5v3M1291.11,1278.5v-3M1291.11,955.5v3M1306.14,1278.5v-3M1306.14,955.5v3M1318.85,1278.5v-3M1318.85,955.5v3M1329.85,1278.5v-3M1329.85,955.5v3M1339.56,1278.5v-3M1339.56,955.5v3M1405.39,1278.5v-3M1405.39,955.5v3M1438.81,1278.5v-3M1438.81,955.5v3M1462.53,1278.5v-3M1462.53,955.5v3M1480.92,1278.5v-3M1480.92,955.5v3M1495.95,1278.5v-3M1495.95,955.5v3M1508.66,1278.5v-3M1508.66,955.5v3M1519.67,1278.5v-3M1519.67,955.5v3M1529.38,1278.5v-3M1529.38,955.5v3M1595.20,1278.5v-3M1595.20,955.5v3M1628.63,1278.5v-3M1628.63,955.5v3M1652.34,1278.5v-3M1652.34,955.5v3M1670.74,1278.5v-3M1670.74,955.5v3M1685.77,1278.5v-3M1685.77,955.5v3M1698.47,1278.5v-3M1698.47,955.5v3M1709.48,1278.5v-3M1709.48,955.5v3M1719.19,1278.5v-3M1719.19,955.5v3" stroke="#262626" stroke-width="1.2" fill="none"/>
<text x="1199.30" y="969.02" style="font-family:'Liberation Sans',Arial,Helvetica,sans-serif;font-size:27px" fill="#2b2b2b">10<tspan dx="0.8" dy="-12.3" style="font-size:21.5px">5</tspan></text>
<text x="1199.30" y="1170.90" style="font-family:'Liberation Sans',Arial,Helvetica,sans-serif;font-size:27px" fill="#2b2b2b">10<tspan dx="0.8" dy="-12.3" style="font-size:21.5px">0</tspan></text>
<text x="1328.45" y="1322.70" style="font-family:'Liberation Sans',Arial,Helvetica,sans-serif;font-size:27px" fill="#2b2b2b">10<tspan dx="0.8" dy="-12.3" style="font-size:21.5px">0</tspan></text>
<text x="1518.26" y="1322.70" style="font-family:'Liberation Sans',Arial,Helvetica,sans-serif;font-size:27px" fill="#2b2b2b">10<tspan dx="0.8" dy="-12.3" style="font-size:21.5px">1</tspan></text>
<text x="1708.08" y="1322.70" style="font-family:'Liberation Sans',Arial,Helvetica,sans-serif;font-size:27px" fill="#2b2b2b">10<tspan dx="0.8" dy="-12.3" style="font-size:21.5px">2</tspan></text>
<text x="1408.90" y="1361.30" style="font-family:'Liberation Sans',Arial,Helvetica,sans-serif;font-size:28.8px" fill="#2b2b2b">Frequency (Hz)</text>
<text transform="translate(1180.3,1116.0) rotate(-90)" text-anchor="middle" style="font-family:'Liberation Sans',Arial,Helvetica,sans-serif;font-size:29.5px" fill="#2b2b2b">PSD (<tspan style="font-family:'Liberation Serif',serif;font-style:italic">µ</tspan>m<tspan dy="-13" style="font-size:22px">2</tspan><tspan dy="13">/Hz)</tspan></text>
<text x="1460.80" y="943.9" style="font-family:'Liberation Sans',Arial,Helvetica,sans-serif;font-size:28px;font-weight:bold" fill="#000">subject 4</text>
<text x="1157.94" y="933.98" style="font-family:'Liberation Sans',Arial,Helvetica,sans-serif;font-size:29.5px;font-weight:bold" fill="#000">G</text>
<clipPath id="clipH"><rect x="1248.8" y="1415.8" width="512.5" height="321.79999999999995"/></clipPath>
<rect x="1248.8" y="1415.8" width="512.5" height="321.79999999999995" fill="#fff"/>
<path d="M1248.80,1415.8V1737.6 M1272.52,1415.8V1737.6 M1290.93,1415.8V1737.6 M1305.96,1415.8V1737.6 M1318.67,1415.8V1737.6 M1329.69,1415.8V1737.6 M1339.40,1415.8V1737.6 M1405.25,1415.8V1737.6 M1438.69,1415.8V1737.6 M1462.41,1415.8V1737.6 M1480.81,1415.8V1737.6 M1495.85,1415.8V1737.6 M1508.56,1415.8V1737.6 M1519.57,1415.8V1737.6 M1529.29,1415.8V1737.6 M1595.14,1415.8V1737.6 M1628.57,1415.8V1737.6 M1652.30,1415.8V1737.6 M1670.70,1415.8V1737.6 M1685.74,1415.8V1737.6 M1698.45,1415.8V1737.6 M1709.46,1415.8V1737.6 M1719.17,1415.8V1737.6 M1248.8,1698.45H1761.3 M1248.8,1658.22H1761.3 M1248.8,1577.78H1761.3 M1248.8,1537.55H1761.3 M1248.8,1497.33H1761.3 M1248.8,1457.10H1761.3" stroke="#b4b4b4" stroke-width="1.1" stroke-dasharray="1.4 3.6" fill="none"/>
<path d="M1348.09,1415.8V1737.6 M1537.98,1415.8V1737.6 M1727.86,1415.8V1737.6 M1248.8,1618.00H1761.3" stroke="#dcdcdc" stroke-width="1.2" fill="none"/>
<g clip-path="url(#clipH)">
<polyline points="1262.6,1516.1 1308.6,1533.3 1352.0,1551.3 1377.2,1517.0 1395.3,1531.5 1409.8,1567.6 1423.3,1551.3 1433.2,1547.7 1440.5,1549.5 1451.3,1556.7 1460.3,1568.5 1466.6,1566.7 1473.9,1567.6 1479.3,1554.0 1485.2,1581.1 1491.0,1542.3 1495.5,1566.7 1500.0,1565.8 1505.5,1573.9 1509.1,1574.8 1512.7,1591.1 1518.1,1602.8 1520.8,1600.1 1524.4,1583.8 1527.1,1629.9 1529.8,1620.0 1536.2,1620.9 1539.8,1637.1 1542.5,1593.8 1546.1,1615.4 1549.7,1632.6 1556.0,1610.0 1560.1,1640.5 1564.7,1615.8 1567.9,1652.2 1570.5,1615.8 1573.7,1619.7 1577.6,1658.6 1583.5,1618.4 1585.4,1636.6 1589.3,1635.3 1591.9,1663.8 1593.2,1667.8 1594.6,1661.4 1596.1,1638.5 1597.5,1652.0 1598.9,1659.6 1600.3,1668.4 1601.7,1666.9 1603.0,1644.6 1604.4,1645.8 1605.7,1644.6 1606.9,1643.7 1608.2,1665.6 1609.4,1646.9 1610.7,1652.7 1611.9,1642.8 1613.0,1643.3 1614.2,1641.7 1615.4,1670.2 1616.5,1643.4 1617.6,1642.2 1618.7,1641.5 1619.8,1670.7 1620.9,1664.7 1622.0,1670.9 1623.0,1678.2 1624.1,1646.8 1625.1,1648.1 1626.1,1652.9 1627.1,1648.3 1628.1,1653.5 1629.1,1663.2 1630.0,1673.6 1631.0,1673.9 1631.9,1651.5 1632.8,1667.4 1633.8,1663.2 1634.7,1660.3 1635.6,1683.1 1636.5,1666.1 1637.4,1665.3 1638.2,1654.3 1639.1,1663.0 1639.9,1664.6 1640.8,1648.1 1641.6,1660.3 1642.5,1651.8 1643.3,1658.1 1644.1,1685.1 1644.9,1664.1 1645.7,1663.7 1646.5,1655.0 1647.3,1667.2 1648.0,1657.3 1648.8,1662.1 1649.6,1673.8 1650.3,1653.1 1651.1,1684.0 1651.8,1654.9 1652.5,1678.2 1653.3,1703.1 1654.0,1677.1 1654.7,1657.5 1655.4,1650.3 1656.1,1705.9 1656.8,1666.5 1657.5,1666.7 1658.2,1657.2 1658.9,1681.0 1659.5,1667.4 1660.2,1673.1 1660.9,1656.5 1661.5,1677.5 1662.2,1651.2 1662.8,1676.7 1663.5,1680.8 1664.1,1661.7 1664.7,1668.5 1665.4,1690.3 1666.0,1664.1 1666.6,1693.9 1667.2,1659.1 1667.8,1662.4 1668.4,1659.3 1669.0,1665.0 1669.6,1675.3 1670.2,1673.5 1670.8,1673.9 1671.4,1655.2 1672.0,1695.6 1672.5,1655.5 1673.1,1705.8 1673.7,1684.7 1674.2,1681.2 1674.8,1655.0 1675.3,1670.8 1675.9,1675.9 1676.4,1656.2 1677.0,1683.9 1677.5,1672.9 1678.1,1670.3 1678.6,1662.2 1679.1,1662.3 1679.7,1666.4 1680.2,1678.5 1680.7,1679.7 1681.2,1691.5 1681.7,1659.1 1682.2,1666.6 1682.7,1663.7 1683.3,1691.1 1683.8,1675.7 1684.3,1662.9 1684.7,1670.5 1685.2,1696.5 1685.7,1675.5 1686.2,1658.2 1686.7,1687.4 1687.2,1691.0 1687.7,1683.9 1688.1,1666.9 1688.6,1661.1 1689.1,1695.2 1689.5,1695.3 1690.0,1688.1 1690.5,1683.6 1690.9,1674.9 1691.4,1695.6 1691.8,1684.1 1692.3,1693.5 1692.7,1656.2 1693.2,1667.4 1693.6,1703.8 1694.1,1656.5 1694.5,1704.2 1695.0,1682.4 1695.4,1656.8 1695.8,1665.4 1696.3,1668.2 1696.7,1680.7 1697.1,1695.0 1697.5,1672.5 1698.0,1705.2 1698.4,1694.7 1698.8,1683.7 1699.2,1717.1 1699.6,1683.5 1700.0,1666.8 1700.4,1671.1 1700.8,1679.2 1701.3,1673.8 1701.7,1681.0 1702.1,1702.2 1702.5,1675.2 1702.9,1684.1 1703.2,1669.7 1703.6,1661.2 1704.0,1683.1 1704.4,1676.9 1704.8,1669.7 1705.2,1683.9 1705.6,1695.2 1706.0,1671.1 1706.3,1663.6 1706.7,1669.0 1707.1,1672.3 1707.5,1665.4 1707.9,1673.4 1708.2,1675.0 1708.6,1683.2 1709.0,1690.5 1709.3,1675.8 1709.7,1710.5 1710.1,1685.1 1710.4,1669.5 1710.8,1672.6 1711.1,1676.2 1711.5,1695.3 1711.9,1685.4 1712.2,1684.0 1712.6,1676.9 1712.9,1686.4 1713.3,1674.8 1713.6,1661.6 1714.0,1701.4 1714.3,1675.9 1714.7,1670.6 1715.0,1687.9 1715.3,1683.2 1715.7,1661.1 1716.0,1721.6 1716.4,1681.1 1716.7,1704.3 1717.0,1670.9 1717.4,1661.5 1717.7,1682.4 1718.0,1712.4 1718.3,1680.2 1718.7,1681.7 1719.0,1674.3 1719.3,1683.1 1719.7,1677.8 1720.0,1669.3 1720.3,1682.9 1720.6,1688.1 1720.9,1662.0 1721.3,1700.7 1721.6,1675.9 1721.9,1689.0 1722.2,1672.4 1722.5,1710.1 1722.8,1661.9 1723.1,1691.1 1723.4,1719.4 1723.8,1696.0 1724.1,1688.7 1724.4,1733.5 1724.7,1687.8 1725.0,1687.7 1725.3,1675.3 1725.6,1691.3 1725.9,1696.8 1726.2,1699.8 1726.5,1673.3 1726.8,1661.7 1727.1,1682.7 1727.4,1700.4 1727.7,1670.5 1728.0,1689.2 1728.2,1701.0 1728.5,1709.7 1728.8,1671.6 1729.1,1670.0 1729.4,1678.0 1729.7,1685.4 1730.0,1681.2 1730.3,1699.9 1730.5,1661.5 1730.8,1691.4 1731.1,1677.8 1731.4,1669.5 1731.7,1669.6 1731.9,1685.5 1732.2,1695.1 1732.5,1681.8 1732.8,1710.6 1733.1,1668.6 1733.3,1691.4 1733.6,1667.7 1733.9,1697.0 1734.1,1690.3 1734.4,1698.0 1734.7,1687.6 1735.0,1703.8 1735.2,1743.0 1735.5,1674.1 1735.8,1696.1 1736.0,1698.8 1736.3,1694.8 1736.6,1685.0 1736.8,1687.6 1737.1,1677.8 1737.3,1676.9 1737.6,1691.1 1737.9,1662.2 1738.1,1667.3 1738.4,1721.1 1738.6,1668.8 1738.9,1664.0 1739.1,1671.1 1739.4,1709.1 1739.7,1668.6 1739.9,1678.0 1740.2,1734.7 1740.4,1737.4 1740.7,1661.3 1740.9,1677.3 1741.2,1698.9 1741.4,1715.2 1741.7,1709.3 1741.9,1700.4 1742.2,1672.2 1742.4,1692.9 1742.6,1708.3 1742.9,1665.2 1743.1,1671.9 1743.4,1706.8 1743.6,1666.4 1743.9,1680.5 1744.1,1672.7 1744.3,1678.0 1744.6,1666.6 1744.8,1672.7 1745.1,1670.2 1745.3,1704.3 1745.5,1677.4 1745.8,1684.6 1746.0,1675.3 1746.2,1689.1 1746.5,1668.2 1746.7,1683.8 1746.9,1699.4 1747.2,1701.7 1747.4,1710.9 1747.6,1686.9 1747.9,1722.3 1748.1,1688.3 1748.3,1710.5 1748.5,1687.3 1748.8,1687.1 1749.0,1685.3 1749.2,1670.5 1749.5,1743.5 1749.7,1671.9 1749.9,1688.8 1750.1,1684.7 1750.4,1680.3 1750.6,1672.3 1750.8,1693.8 1751.0,1691.6 1751.2,1665.8 1751.5,1720.5 1751.7,1682.0 1751.9,1682.1 1752.1,1729.9 1752.3,1683.4 1752.6,1680.4 1752.8,1667.3 1753.0,1696.9 1753.2,1666.7 1753.4,1688.0 1753.6,1689.3 1753.8,1670.2 1754.1,1728.6 1754.3,1679.5 1754.5,1683.5 1754.7,1696.9 1754.9,1672.8 1755.1,1695.5 1755.3,1690.3 1755.5,1688.1 1755.7,1677.7 1756.0,1705.8 1756.2,1692.4 1756.4,1693.1 1756.6,1687.2 1756.8,1675.4 1757.0,1700.3 1757.2,1675.6 1757.4,1694.3 1757.6,1689.7 1757.8,1701.8 1758.0,1689.7 1758.2,1668.8 1758.4,1683.7 1758.6,1677.8 1758.8,1698.5 1759.0,1699.4 1759.2,1700.5 1759.4,1686.8 1759.6,1684.9 1759.8,1678.7 1760.0,1727.9 1760.2,1681.5 1760.4,1673.7 1760.6,1688.9 1760.8,1726.0 1761.0,1700.9 1761.2,1744.9 1761.4,1708.8 1761.6,1671.5 1761.8,1686.5 1762.0,1684.5 1762.2,1678.9 1762.4,1672.4 1762.6,1686.3 1762.7,1686.1 1762.9,1685.7 1763.1,1682.9" fill="none" stroke="#0072bd" stroke-width="2.7" stroke-linejoin="round"/>
</g>
<rect x="1248.8" y="1415.8" width="512.5" height="321.79999999999995" fill="none" stroke="#262626" stroke-width="1.3"/>
<path d="M1248.8,1698.45h3M1761.3,1698.45h-3M1248.8,1658.22h3M1761.3,1658.22h-3M1248.8,1618.00h6M1761.3,1618.00h-6M1248.8,1577.78h3M1761.3,1577.78h-3M1248.8,1537.55h3M1761.3,1537.55h-3M1248.8,1497.33h3M1761.3,1497.33h-3M1248.8,1457.10h3M1761.3,1457.10h-3M1348.09,1737.6v-6M1348.09,1415.8v6M1537.98,1737.6v-6M1537.98,1415.8v6M1727.86,1737.6v-6M1727.86,1415.8v6M1248.80,1737.6v-3M1248.80,1415.8v3M1272.52,1737.6v-3M1272.52,1415.8v3M1290.93,1737.6v-3M1290.93,1415.8v3M1305.96,1737.6v-3M1305.96,1415.8v3M1318.67,1737.6v-3M1318.67,1415.8v3M1329.69,1737.6v-3M1329.69,1415.8v3M1339.40,1737.6v-3M1339.40,1415.8v3M1405.25,1737.6v-3M1405.25,1415.8v3M1438.69,1737.6v-3M1438.69,1415.8v3M1462.41,1737.6v-3M1462.41,1415.8v3M1480.81,1737.6v-3M1480.81,1415.8v3M1495.85,1737.6v-3M1495.85,1415.8v3M1508.56,1737.6v-3M1508.56,1415.8v3M1519.57,1737.6v-3M1519.57,1415.8v3M1529.29,1737.6v-3M1529.29,1415.8v3M1595.14,1737.6v-3M1595.14,1415.8v3M1628.57,1737.6v-3M1628.57,1415.8v3M1652.30,1737.6v-3M1652.30,1415.8v3M1670.70,1737.6v-3M1670.70,1415.8v3M1685.74,1737.6v-3M1685.74,1415.8v3M1698.45,1737.6v-3M1698.45,1415.8v3M1709.46,1737.6v-3M1709.46,1415.8v3M1719.17,1737.6v-3M1719.17,1415.8v3" stroke="#262626" stroke-width="1.2" fill="none"/>
<text x="1199.30" y="1429.67" style="font-family:'Liberation Sans',Arial,Helvetica,sans-serif;font-size:27px" fill="#2b2b2b">10<tspan dx="0.8" dy="-12.3" style="font-size:21.5px">5</tspan></text>
<text x="1199.30" y="1630.80" style="font-family:'Liberation Sans',Arial,Helvetica,sans-serif;font-size:27px" fill="#2b2b2b">10<tspan dx="0.8" dy="-12.3" style="font-size:21.5px">0</tspan></text>
<text x="1328.29" y="1781.80" style="font-family:'Liberation Sans',Arial,Helvetica,sans-serif;font-size:27px" fill="#2b2b2b">10<tspan dx="0.8" dy="-12.3" style="font-size:21.5px">0</tspan></text>
<text x="1518.18" y="1781.80" style="font-family:'Liberation Sans',Arial,Helvetica,sans-serif;font-size:27px" fill="#2b2b2b">10<tspan dx="0.8" dy="-12.3" style="font-size:21.5px">1</tspan></text>
<text x="1708.06" y="1781.80" style="font-family:'Liberation Sans',Arial,Helvetica,sans-serif;font-size:27px" fill="#2b2b2b">10<tspan dx="0.8" dy="-12.3" style="font-size:21.5px">2</tspan></text>
<text x="1408.90" y="1820.40" style="font-family:'Liberation Sans',Arial,Helvetica,sans-serif;font-size:28.8px" fill="#2b2b2b">Frequency (Hz)</text>
<text transform="translate(1180.3,1575.6999999999998) rotate(-90)" text-anchor="middle" style="font-family:'Liberation Sans',Arial,Helvetica,sans-serif;font-size:29.5px" fill="#2b2b2b">PSD (<tspan style="font-family:'Liberation Serif',serif;font-style:italic">µ</tspan>m<tspan dy="-13" style="font-size:22px">2</tspan><tspan dy="13">/Hz)</tspan></text>
<text x="1460.80" y="1403.9" style="font-family:'Liberation Sans',Arial,Helvetica,sans-serif;font-size:28px;font-weight:bold" fill="#000">subject 9</text>
<text x="1159.03" y="1405.33" style="font-family:'Liberation Sans',Arial,Helvetica,sans-serif;font-size:29.5px;font-weight:bold" fill="#000">H</text>
<rect x="848" y="0" width="288" height="46.2" fill="#fff"/>
<g stroke="#858585" stroke-width="2" fill="none" stroke-linejoin="round" stroke-linecap="round"><rect x="856" y="29.5" width="24.5" height="7.5" rx="1" fill="#f4f4f4"/><path d="M863,33 C863,24 868,19 874,18.5 L874,14 L880.5,20.5 L874,26.5 L874,22.5 C869,22.5 866.5,26 866.5,33" fill="#eee"/><path d="M881.2,40.6 L888.2,33.6 L888.2,40.6 Z" fill="#6a6a6a" stroke="none"/></g>
<g stroke="#858585" stroke-width="2" fill="none" stroke-linejoin="round" stroke-linecap="round"><path d="M912,25 V10.6 H921.5 V25 Q924.8,26.6 924.8,29 V32.6 H908.3 V29 Q908.3,26.6 912,25 Z" fill="#fff"/><path d="M909,29.4 H924" stroke-width="2.4"/><path d="M908.3,32.6 L898.6,41.4 H924.8 V32.6" fill="#f4f4f4"/><path d="M901,41.2 L924.6,35.8 V41.4 Z" fill="#858585" stroke="none"/></g>
<g stroke="#858585" stroke-width="2" fill="none" stroke-linejoin="round" stroke-linecap="round"><path d="M940.6,10.5 H967.3 V41.5 H940.6 V30.5 Q940.6,27.2 937.2,26.2 Q940.6,25.2 940.6,21.8 Z"/><path d="M946.3,23.2 H961.8 M946.3,29.1 H961.8" stroke-width="2.8"/></g>
<g stroke="#858585" stroke-width="2" fill="none" stroke-linejoin="round" stroke-linecap="round"><path d="M986.5,41.5 L978.5,28.3 Q976.6,24.2 979.6,23.6 Q981.6,23.3 984,26.6 L987.5,30 V15 Q987.5,12.2 990,12.2 Q992.5,12.2 992.5,15 V24.5 V13.2 Q992.5,10.5 995,10.5 Q997.5,10.5 997.5,13.2 V24.5 V14.6 Q997.5,12 1000,12 Q1002.5,12 1002.5,14.6 V25.5 V18.2 Q1002.5,15.7 1005,15.7 Q1007.6,15.7 1007.6,18.2 V28 Q1007.6,35 1004,41.5 Z"/></g>
<g stroke="#858585" stroke-width="2" fill="none" stroke-linejoin="round" stroke-linecap="round"><circle cx="1029.2" cy="22.9" r="12.2"/><path d="M1038.5,31.8 L1047.5,41"/><path d="M1023,22.7 H1035.5 M1029,16.6 V29.4" stroke-width="2.3"/></g>
<g stroke="#858585" stroke-width="2" fill="none" stroke-linejoin="round" stroke-linecap="round"><circle cx="1069.4" cy="22.9" r="12.2"/><path d="M1078.8,31.8 L1087.8,41"/><path d="M1062.8,22.7 H1075.6" stroke-width="2.3"/></g>
<g stroke="#858585" stroke-width="2" fill="none" stroke-linejoin="round" stroke-linecap="round"><path d="M1096.5,27 L1112.5,11.2 L1128.3,27"/><path d="M1101.5,25 V41 H1108.7 V32.5 H1116.5 V41 H1124.5 V25"/><path d="M1121.5,13 L1124.5,13 L1124.5,16.5 Z" fill="#858585"/></g>
</svg></body></html>
